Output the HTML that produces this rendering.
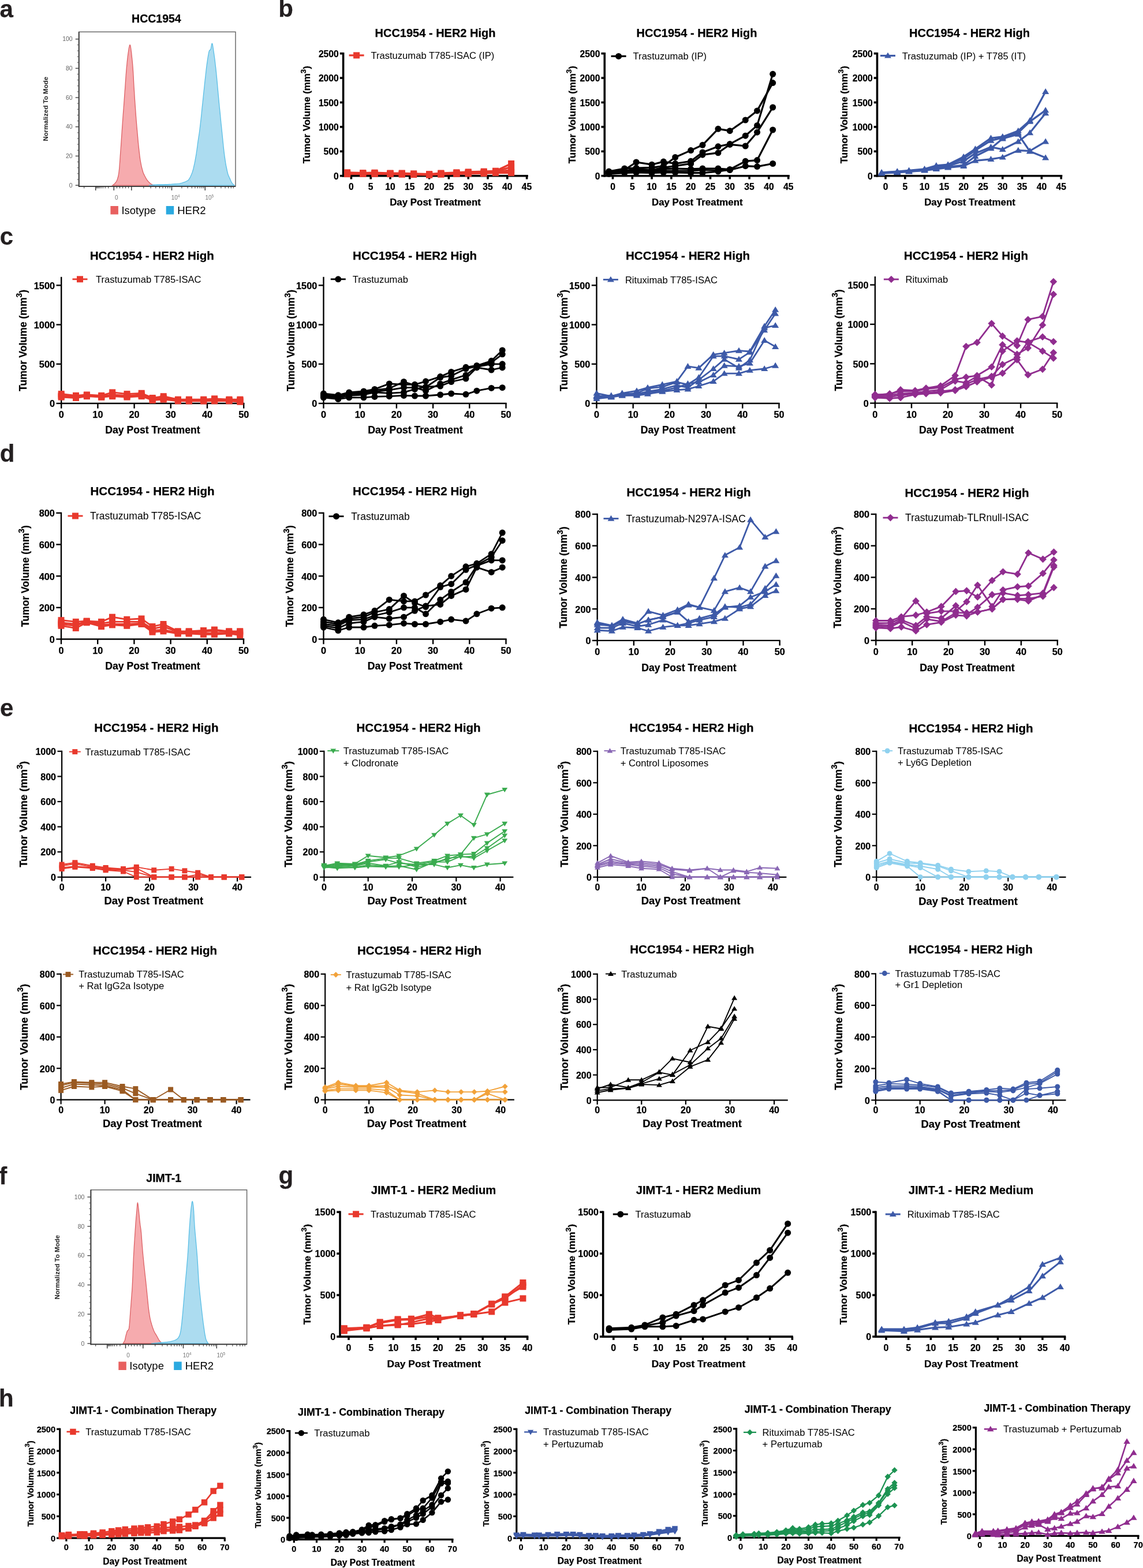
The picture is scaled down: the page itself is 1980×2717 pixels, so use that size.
<!DOCTYPE html>
<html><head><meta charset="utf-8"><title>Figure</title>
<style>
html,body{margin:0;padding:0;background:#fff;}
svg{display:block;font-family:"Liberation Sans",Arial,sans-serif;}
</style></head><body>
<svg width="1980" height="2717" viewBox="0 0 1980 2717">
<rect width="1980" height="2717" fill="#fff"/>
<g>
<text x="270.9" y="39.3" font-size="19.5" font-weight="bold" stroke="#000" stroke-width="0.25" text-anchor="middle">HCC1954</text>
<path d="M195,321.1 L195,321.1 L195.5,320.7 L196.2,320.2 L197,319.6 L197.9,318.9 L198.7,318.1 L199.5,317.3 L200.2,316.5 L200.8,315.6 L201.5,314.7 L202.1,313.6 L202.6,312.4 L203.2,311 L203.7,309.4 L204.2,307.8 L204.7,306 L205.1,303.9 L205.6,301.4 L206,298.3 L206.4,294.8 L206.8,291 L207.1,286.7 L207.5,282 L207.9,276.6 L208.3,270.4 L208.8,263.3 L209.4,255.2 L210,246.5 L210.6,237.5 L211.2,228.5 L211.8,219.7 L212.4,211.3 L213,202.8 L213.6,194.4 L214.3,186 L214.9,177.5 L215.5,169.1 L216.1,160.3 L216.8,151.3 L217.4,142.3 L218,133.6 L218.6,125.5 L219.2,118.4 L219.8,112.2 L220.3,106.8 L220.8,102.1 L221.3,97.8 L221.8,94 L222.3,90.5 L222.8,87.3 L223.2,84.3 L223.7,81.8 L224.2,79.8 L224.6,78.5 L225,77.8 L225.4,78 L225.7,78.8 L226.1,80.2 L226.4,82.2 L226.8,84.8 L227.2,88 L227.7,91.6 L228.1,95.9 L228.6,100.6 L229.2,106 L229.7,111.9 L230.2,118.4 L230.7,125.7 L231.2,133.8 L231.6,142.5 L232.1,151.4 L232.7,160.4 L233.2,169.1 L233.8,177.5 L234.4,186 L235,194.4 L235.6,202.8 L236.3,211.3 L237,219.7 L237.8,228.5 L238.6,237.6 L239.4,246.7 L240.3,255.4 L241.2,263.4 L242,270.4 L242.8,276.3 L243.7,281.3 L244.5,285.5 L245.3,289.3 L246.2,292.6 L247,295.8 L247.8,298.5 L248.7,300.8 L249.6,302.6 L250.4,304.3 L251.2,305.7 L252,307.2 L252.7,308.5 L253.3,309.7 L253.9,310.7 L254.6,311.6 L255.2,312.5 L256,313.5 L256.9,314.5 L257.9,315.5 L258.9,316.6 L259.9,317.5 L261,318.4 L262,319.1 L263.1,319.6 L264.2,320.1 L265.4,320.4 L266.4,320.7 L267.3,320.9 L268,321.1 L268,321.1 Z" fill="#f5a4a7" fill-opacity="0.92" stroke="#dd6266" stroke-width="1.3"/>
<path d="M258,321.1 L258,321.1 L259.2,321 L260.8,320.8 L262.8,320.6 L265,320.4 L267.4,320.2 L270,320.1 L272.9,320 L276.1,319.9 L279.5,319.9 L283,319.8 L286.6,319.7 L290,319.6 L293.5,319.4 L297.1,319.2 L300.8,318.9 L304.2,318.6 L307.4,318.4 L310,318.1 L312.1,317.8 L313.6,317.4 L314.9,317.1 L315.9,316.8 L316.9,316.4 L318,316 L319.1,315.7 L320.2,315.3 L321.2,314.9 L322.2,314.5 L323.1,314 L324,313.5 L324.8,313.1 L325.4,312.7 L326,312.3 L326.6,311.8 L327.2,310.9 L328,309.7 L328.9,308.1 L329.9,306.2 L330.9,304.1 L332,301.6 L333,298.9 L334,295.8 L335,292.2 L335.9,288.2 L336.9,283.8 L337.8,279.3 L338.6,274.8 L339.4,270.4 L340.1,266.2 L340.7,262 L341.3,257.8 L341.9,253.5 L342.4,249.3 L343,245.1 L343.6,241.1 L344.1,237.6 L344.7,234 L345.3,230.1 L345.9,225.4 L346.6,219.7 L347.4,212.8 L348.3,204.7 L349.2,196 L350.1,186.9 L351.1,177.8 L352,169.1 L352.9,160.3 L353.9,151.3 L354.8,142.3 L355.8,133.6 L356.7,125.5 L357.5,118.4 L358.3,112.2 L359.1,106.6 L359.8,101.6 L360.5,97.3 L361.2,93.6 L361.8,90.5 L362.4,88.4 L363,87.3 L363.5,86.9 L364,86.7 L364.5,86.3 L365,85.4 L365.4,83.8 L365.8,81.7 L366.2,79.4 L366.6,77.4 L366.9,75.9 L367.3,75.3 L367.6,75.6 L368,76.3 L368.3,77.7 L368.6,79.6 L369,82.2 L369.5,85.4 L370.1,89.4 L370.8,94.1 L371.5,99.4 L372.3,105.2 L373,111.6 L373.8,118.4 L374.6,125.8 L375.4,134 L376.2,142.6 L377,151.5 L377.8,160.4 L378.6,169.1 L379.4,177.5 L380.2,186 L381.1,194.4 L381.9,202.8 L382.7,211.3 L383.6,219.7 L384.5,228.5 L385.4,237.5 L386.3,246.5 L387.2,255.2 L388.1,263.3 L389,270.4 L389.9,276.6 L390.7,282 L391.5,286.7 L392.4,291 L393.2,294.8 L394,298.3 L394.8,301.4 L395.7,303.9 L396.6,306 L397.4,307.8 L398.2,309.4 L398.9,311 L399.5,312.4 L400,313.6 L400.5,314.7 L401,315.6 L401.5,316.5 L402,317.3 L402.7,318.1 L403.4,318.9 L404.2,319.6 L404.9,320.2 L405.6,320.7 L406,321.1 L406,321.1 Z" fill="#a5d9ef" fill-opacity="0.92" stroke="#5bbfe6" stroke-width="1.3"/>
<rect x="136.7" y="55.3" width="271.3" height="267.6" fill="none" stroke="#6a6a6a" stroke-width="1.5"/>
<line x1="136.7" y1="55.3" x2="136.7" y2="323.7" stroke="#333" stroke-width="1.8" stroke-linecap="butt"/>
<line x1="135.9" y1="322.9" x2="408" y2="322.9" stroke="#333" stroke-width="1.8" stroke-linecap="butt"/>
<line x1="130.7" y1="321.1" x2="136.7" y2="321.1" stroke="#444" stroke-width="1.4" stroke-linecap="butt"/>
<text x="125.7" y="324.7" font-size="10.5" text-anchor="end" fill="#666">0</text>
<line x1="133.7" y1="311" x2="136.7" y2="311" stroke="#555" stroke-width="1" stroke-linecap="butt"/>
<line x1="133.7" y1="300.8" x2="136.7" y2="300.8" stroke="#555" stroke-width="1" stroke-linecap="butt"/>
<line x1="133.7" y1="290.7" x2="136.7" y2="290.7" stroke="#555" stroke-width="1" stroke-linecap="butt"/>
<line x1="133.7" y1="280.6" x2="136.7" y2="280.6" stroke="#555" stroke-width="1" stroke-linecap="butt"/>
<line x1="130.7" y1="270.4" x2="136.7" y2="270.4" stroke="#444" stroke-width="1.4" stroke-linecap="butt"/>
<text x="125.7" y="274" font-size="10.5" text-anchor="end" fill="#666">20</text>
<line x1="133.7" y1="260.3" x2="136.7" y2="260.3" stroke="#555" stroke-width="1" stroke-linecap="butt"/>
<line x1="133.7" y1="250.1" x2="136.7" y2="250.1" stroke="#555" stroke-width="1" stroke-linecap="butt"/>
<line x1="133.7" y1="240" x2="136.7" y2="240" stroke="#555" stroke-width="1" stroke-linecap="butt"/>
<line x1="133.7" y1="229.9" x2="136.7" y2="229.9" stroke="#555" stroke-width="1" stroke-linecap="butt"/>
<line x1="130.7" y1="219.7" x2="136.7" y2="219.7" stroke="#444" stroke-width="1.4" stroke-linecap="butt"/>
<text x="125.7" y="223.3" font-size="10.5" text-anchor="end" fill="#666">40</text>
<line x1="133.7" y1="209.6" x2="136.7" y2="209.6" stroke="#555" stroke-width="1" stroke-linecap="butt"/>
<line x1="133.7" y1="199.5" x2="136.7" y2="199.5" stroke="#555" stroke-width="1" stroke-linecap="butt"/>
<line x1="133.7" y1="189.3" x2="136.7" y2="189.3" stroke="#555" stroke-width="1" stroke-linecap="butt"/>
<line x1="133.7" y1="179.2" x2="136.7" y2="179.2" stroke="#555" stroke-width="1" stroke-linecap="butt"/>
<line x1="130.7" y1="169.1" x2="136.7" y2="169.1" stroke="#444" stroke-width="1.4" stroke-linecap="butt"/>
<text x="125.7" y="172.7" font-size="10.5" text-anchor="end" fill="#666">60</text>
<line x1="133.7" y1="158.9" x2="136.7" y2="158.9" stroke="#555" stroke-width="1" stroke-linecap="butt"/>
<line x1="133.7" y1="148.8" x2="136.7" y2="148.8" stroke="#555" stroke-width="1" stroke-linecap="butt"/>
<line x1="133.7" y1="138.7" x2="136.7" y2="138.7" stroke="#555" stroke-width="1" stroke-linecap="butt"/>
<line x1="133.7" y1="128.5" x2="136.7" y2="128.5" stroke="#555" stroke-width="1" stroke-linecap="butt"/>
<line x1="130.7" y1="118.4" x2="136.7" y2="118.4" stroke="#444" stroke-width="1.4" stroke-linecap="butt"/>
<text x="125.7" y="122" font-size="10.5" text-anchor="end" fill="#666">80</text>
<line x1="133.7" y1="108.2" x2="136.7" y2="108.2" stroke="#555" stroke-width="1" stroke-linecap="butt"/>
<line x1="133.7" y1="98.1" x2="136.7" y2="98.1" stroke="#555" stroke-width="1" stroke-linecap="butt"/>
<line x1="133.7" y1="88" x2="136.7" y2="88" stroke="#555" stroke-width="1" stroke-linecap="butt"/>
<line x1="133.7" y1="77.8" x2="136.7" y2="77.8" stroke="#555" stroke-width="1" stroke-linecap="butt"/>
<line x1="130.7" y1="67.7" x2="136.7" y2="67.7" stroke="#444" stroke-width="1.4" stroke-linecap="butt"/>
<text x="125.7" y="71.3" font-size="10.5" text-anchor="end" fill="#666">100</text>
<line x1="165.7" y1="322.9" x2="165.7" y2="329.9" stroke="#333" stroke-width="1.4" stroke-linecap="butt"/>
<line x1="197.3" y1="322.9" x2="197.3" y2="329.9" stroke="#333" stroke-width="1.4" stroke-linecap="butt"/>
<line x1="227.8" y1="322.9" x2="227.8" y2="329.9" stroke="#333" stroke-width="1.4" stroke-linecap="butt"/>
<line x1="297.5" y1="322.9" x2="297.5" y2="329.9" stroke="#333" stroke-width="1.4" stroke-linecap="butt"/>
<line x1="355.3" y1="322.9" x2="355.3" y2="329.9" stroke="#333" stroke-width="1.4" stroke-linecap="butt"/>
<line x1="145.7" y1="322.9" x2="145.7" y2="326.4" stroke="#333" stroke-width="1" stroke-linecap="butt"/>
<line x1="248.8" y1="322.9" x2="248.8" y2="326.4" stroke="#333" stroke-width="1" stroke-linecap="butt"/>
<line x1="314.9" y1="322.9" x2="314.9" y2="326.4" stroke="#333" stroke-width="1" stroke-linecap="butt"/>
<line x1="372.7" y1="322.9" x2="372.7" y2="326.4" stroke="#333" stroke-width="1" stroke-linecap="butt"/>
<line x1="187.8" y1="322.9" x2="187.8" y2="326.4" stroke="#333" stroke-width="1" stroke-linecap="butt"/>
<line x1="261.1" y1="322.9" x2="261.1" y2="326.4" stroke="#333" stroke-width="1" stroke-linecap="butt"/>
<line x1="325.1" y1="322.9" x2="325.1" y2="326.4" stroke="#333" stroke-width="1" stroke-linecap="butt"/>
<line x1="382.9" y1="322.9" x2="382.9" y2="326.4" stroke="#333" stroke-width="1" stroke-linecap="butt"/>
<line x1="182.2" y1="322.9" x2="182.2" y2="326.4" stroke="#333" stroke-width="1" stroke-linecap="butt"/>
<line x1="269.8" y1="322.9" x2="269.8" y2="326.4" stroke="#333" stroke-width="1" stroke-linecap="butt"/>
<line x1="332.3" y1="322.9" x2="332.3" y2="326.4" stroke="#333" stroke-width="1" stroke-linecap="butt"/>
<line x1="390.1" y1="322.9" x2="390.1" y2="326.4" stroke="#333" stroke-width="1" stroke-linecap="butt"/>
<line x1="178.3" y1="322.9" x2="178.3" y2="326.4" stroke="#333" stroke-width="1" stroke-linecap="butt"/>
<line x1="276.5" y1="322.9" x2="276.5" y2="326.4" stroke="#333" stroke-width="1" stroke-linecap="butt"/>
<line x1="337.9" y1="322.9" x2="337.9" y2="326.4" stroke="#333" stroke-width="1" stroke-linecap="butt"/>
<line x1="395.7" y1="322.9" x2="395.7" y2="326.4" stroke="#333" stroke-width="1" stroke-linecap="butt"/>
<line x1="175.2" y1="322.9" x2="175.2" y2="326.4" stroke="#333" stroke-width="1" stroke-linecap="butt"/>
<line x1="282" y1="322.9" x2="282" y2="326.4" stroke="#333" stroke-width="1" stroke-linecap="butt"/>
<line x1="342.5" y1="322.9" x2="342.5" y2="326.4" stroke="#333" stroke-width="1" stroke-linecap="butt"/>
<line x1="400.3" y1="322.9" x2="400.3" y2="326.4" stroke="#333" stroke-width="1" stroke-linecap="butt"/>
<line x1="172.7" y1="322.9" x2="172.7" y2="326.4" stroke="#333" stroke-width="1" stroke-linecap="butt"/>
<line x1="286.7" y1="322.9" x2="286.7" y2="326.4" stroke="#333" stroke-width="1" stroke-linecap="butt"/>
<line x1="346.3" y1="322.9" x2="346.3" y2="326.4" stroke="#333" stroke-width="1" stroke-linecap="butt"/>
<line x1="404.1" y1="322.9" x2="404.1" y2="326.4" stroke="#333" stroke-width="1" stroke-linecap="butt"/>
<line x1="170.6" y1="322.9" x2="170.6" y2="326.4" stroke="#333" stroke-width="1" stroke-linecap="butt"/>
<line x1="290.7" y1="322.9" x2="290.7" y2="326.4" stroke="#333" stroke-width="1" stroke-linecap="butt"/>
<line x1="349.7" y1="322.9" x2="349.7" y2="326.4" stroke="#333" stroke-width="1" stroke-linecap="butt"/>
<line x1="168.8" y1="322.9" x2="168.8" y2="326.4" stroke="#333" stroke-width="1" stroke-linecap="butt"/>
<line x1="294.3" y1="322.9" x2="294.3" y2="326.4" stroke="#333" stroke-width="1" stroke-linecap="butt"/>
<line x1="352.7" y1="322.9" x2="352.7" y2="326.4" stroke="#333" stroke-width="1" stroke-linecap="butt"/>
<line x1="167.1" y1="322.9" x2="167.1" y2="326.4" stroke="#333" stroke-width="1" stroke-linecap="butt"/>
<line x1="202.4" y1="322.9" x2="202.4" y2="326.4" stroke="#333" stroke-width="1" stroke-linecap="butt"/>
<line x1="207.5" y1="322.9" x2="207.5" y2="326.4" stroke="#333" stroke-width="1" stroke-linecap="butt"/>
<line x1="212.6" y1="322.9" x2="212.6" y2="326.4" stroke="#333" stroke-width="1" stroke-linecap="butt"/>
<line x1="217.6" y1="322.9" x2="217.6" y2="326.4" stroke="#333" stroke-width="1" stroke-linecap="butt"/>
<line x1="222.7" y1="322.9" x2="222.7" y2="326.4" stroke="#333" stroke-width="1" stroke-linecap="butt"/>
<text x="201.8" y="345.9" font-size="10" fill="#777" text-anchor="middle">0</text>
<text x="304" y="345.9" font-size="10" fill="#777" text-anchor="middle">10<tspan font-size="6.5" dy="-4">4</tspan></text>
<text x="362.8" y="345.9" font-size="10" fill="#777" text-anchor="middle">10<tspan font-size="6.5" dy="-4">5</tspan></text>
<text transform="translate(78.5,188.7) rotate(-90)" font-size="11.5" font-weight="bold" text-anchor="middle" dominant-baseline="central" fill="#222">Normalized To Mode</text>
<rect x="191.4" y="357" width="13.5" height="14.5" fill="#e8605f"/>
<text x="210.4" y="370.5" font-size="18.5" text-anchor="start">Isotype</text>
<rect x="287.7" y="357" width="13.5" height="14.5" fill="#2aa9e0"/>
<text x="307.2" y="370.5" font-size="18.5" text-anchor="start">HER2</text>
</g>
<g>
<text x="283.7" y="2048.4" font-size="19.5" font-weight="bold" stroke="#000" stroke-width="0.25" text-anchor="middle">JIMT-1</text>
<path d="M213,2328 L213,2328 L213.3,2327.5 L213.8,2326.9 L214.3,2326.1 L214.9,2325.2 L215.5,2324.1 L216,2322.9 L216.5,2321.5 L216.9,2319.8 L217.3,2317.9 L217.7,2316.1 L218.1,2314.3 L218.5,2312.8 L218.9,2311.5 L219.2,2310.3 L219.5,2309.3 L219.8,2308.3 L220.1,2307.4 L220.5,2306.4 L221,2305.7 L221.5,2305.3 L222,2305 L222.5,2304.4 L223,2303.3 L223.5,2301.4 L223.9,2298.7 L224.2,2295.7 L224.5,2292.2 L224.8,2288 L225.2,2283 L225.6,2277.2 L226.1,2270.3 L226.8,2262.3 L227.4,2253.5 L228.1,2244.4 L228.8,2235.2 L229.3,2226.5 L229.7,2218 L230.1,2209.6 L230.4,2201.1 L230.7,2192.6 L231.1,2184.2 L231.5,2175.7 L232,2167 L232.5,2157.9 L233.1,2148.8 L233.7,2140 L234.2,2132 L234.7,2125 L235.1,2119.1 L235.5,2114.2 L235.8,2110 L236.2,2106.3 L236.5,2102.9 L236.8,2099.6 L237.1,2096.1 L237.4,2092.6 L237.6,2089.4 L237.8,2086.8 L238.1,2085 L238.4,2084.4 L238.7,2085.1 L239.1,2087 L239.4,2089.7 L239.8,2093 L240.2,2096.4 L240.5,2099.6 L240.8,2102.7 L241.2,2106.2 L241.5,2109.7 L241.8,2113.3 L242.2,2116.7 L242.5,2119.9 L242.8,2122.4 L243.1,2124.4 L243.4,2126.2 L243.7,2128.3 L244.1,2131.2 L244.5,2135.1 L245,2140.3 L245.4,2146.4 L245.9,2153.2 L246.5,2160.5 L247.1,2168.1 L247.8,2175.7 L248.6,2183.6 L249.4,2191.9 L250.4,2200.5 L251.3,2209.2 L252.3,2217.9 L253.2,2226.5 L254.1,2235.2 L255,2244.3 L255.9,2253.4 L256.8,2262.2 L257.7,2270.2 L258.7,2277.2 L259.7,2283.1 L260.8,2288.1 L261.9,2292.3 L263,2296 L264.1,2299.4 L265.2,2302.6 L266.3,2305.5 L267.5,2308 L268.6,2310.1 L269.8,2311.9 L270.8,2313.6 L271.8,2315.3 L272.6,2316.9 L273.4,2318.3 L274.1,2319.6 L274.7,2320.8 L275.4,2321.9 L276.1,2322.9 L276.9,2324 L277.9,2325 L278.8,2325.9 L279.7,2326.8 L280.5,2327.5 L281,2328 L281,2328 Z" fill="#f5a4a7" fill-opacity="0.92" stroke="#dd6266" stroke-width="1.3"/>
<path d="M262,2328 L262,2328 L263.4,2327.9 L265.3,2327.7 L267.6,2327.4 L270,2327.2 L272.6,2327 L275,2326.7 L277.5,2326.5 L280.1,2326.3 L282.8,2326.1 L285.4,2325.9 L287.9,2325.7 L290,2325.5 L291.7,2325.2 L293.2,2325 L294.4,2324.8 L295.5,2324.6 L296.7,2324.3 L298,2323.9 L299.4,2323.5 L301,2323 L302.5,2322.5 L304,2321.9 L305.4,2321.2 L306.6,2320.4 L307.6,2319.5 L308.4,2318.7 L309.2,2317.7 L309.8,2316.6 L310.4,2315.4 L311,2314 L311.5,2312.6 L312,2311.1 L312.4,2309.5 L312.8,2307.6 L313.2,2305.4 L313.6,2302.6 L314,2299.5 L314.5,2296.1 L314.9,2292.4 L315.3,2288.1 L315.8,2283.1 L316.4,2277.2 L317,2270.2 L317.7,2262.2 L318.5,2253.4 L319.3,2244.3 L320,2235.2 L320.8,2226.5 L321.5,2218 L322.3,2209.6 L323.1,2201.1 L323.8,2192.6 L324.5,2184.2 L325.2,2175.7 L325.8,2167 L326.4,2158 L326.9,2149.1 L327.4,2140.4 L327.9,2132.2 L328.4,2125 L328.9,2118.5 L329.3,2112.6 L329.8,2107.4 L330.2,2102.6 L330.6,2098.3 L331,2094.5 L331.4,2091.1 L331.8,2088 L332.1,2085.5 L332.5,2083.5 L332.8,2082.3 L333.2,2081.8 L333.6,2082.3 L333.9,2083.5 L334.3,2085.5 L334.6,2088 L335,2091.1 L335.3,2094.5 L335.6,2098.3 L335.8,2102.6 L336.1,2107.4 L336.3,2112.6 L336.7,2118.5 L337.1,2125 L337.7,2132.2 L338.4,2140.4 L339.2,2149.1 L340,2158 L340.8,2167 L341.5,2175.7 L342.1,2184.2 L342.6,2192.6 L343.1,2201.1 L343.6,2209.6 L344.1,2218 L344.8,2226.5 L345.6,2235.2 L346.5,2244.3 L347.5,2253.4 L348.5,2262.2 L349.4,2270.2 L350.2,2277.2 L350.9,2283 L351.5,2287.9 L352,2292 L352.5,2295.7 L353,2299.1 L353.5,2302.6 L354,2306.1 L354.5,2309.5 L355,2312.6 L355.6,2315.5 L356.1,2318.1 L356.7,2320.4 L357.4,2322.3 L358.2,2324 L359,2325.3 L359.8,2326.4 L360.5,2327.3 L361,2328 L361,2328 Z" fill="#a5d9ef" fill-opacity="0.92" stroke="#5bbfe6" stroke-width="1.3"/>
<rect x="157.4" y="2061.8" width="270.2" height="267.6" fill="none" stroke="#6a6a6a" stroke-width="1.5"/>
<line x1="157.4" y1="2061.8" x2="157.4" y2="2330.2" stroke="#333" stroke-width="1.8" stroke-linecap="butt"/>
<line x1="156.6" y1="2329.4" x2="427.6" y2="2329.4" stroke="#333" stroke-width="1.8" stroke-linecap="butt"/>
<line x1="151.4" y1="2328" x2="157.4" y2="2328" stroke="#444" stroke-width="1.4" stroke-linecap="butt"/>
<text x="146.4" y="2331.6" font-size="10.5" text-anchor="end" fill="#666">0</text>
<line x1="154.4" y1="2317.8" x2="157.4" y2="2317.8" stroke="#555" stroke-width="1" stroke-linecap="butt"/>
<line x1="154.4" y1="2307.7" x2="157.4" y2="2307.7" stroke="#555" stroke-width="1" stroke-linecap="butt"/>
<line x1="154.4" y1="2297.5" x2="157.4" y2="2297.5" stroke="#555" stroke-width="1" stroke-linecap="butt"/>
<line x1="154.4" y1="2287.4" x2="157.4" y2="2287.4" stroke="#555" stroke-width="1" stroke-linecap="butt"/>
<line x1="151.4" y1="2277.2" x2="157.4" y2="2277.2" stroke="#444" stroke-width="1.4" stroke-linecap="butt"/>
<text x="146.4" y="2280.8" font-size="10.5" text-anchor="end" fill="#666">20</text>
<line x1="154.4" y1="2267.1" x2="157.4" y2="2267.1" stroke="#555" stroke-width="1" stroke-linecap="butt"/>
<line x1="154.4" y1="2256.9" x2="157.4" y2="2256.9" stroke="#555" stroke-width="1" stroke-linecap="butt"/>
<line x1="154.4" y1="2246.8" x2="157.4" y2="2246.8" stroke="#555" stroke-width="1" stroke-linecap="butt"/>
<line x1="154.4" y1="2236.6" x2="157.4" y2="2236.6" stroke="#555" stroke-width="1" stroke-linecap="butt"/>
<line x1="151.4" y1="2226.5" x2="157.4" y2="2226.5" stroke="#444" stroke-width="1.4" stroke-linecap="butt"/>
<text x="146.4" y="2230.1" font-size="10.5" text-anchor="end" fill="#666">40</text>
<line x1="154.4" y1="2216.3" x2="157.4" y2="2216.3" stroke="#555" stroke-width="1" stroke-linecap="butt"/>
<line x1="154.4" y1="2206.2" x2="157.4" y2="2206.2" stroke="#555" stroke-width="1" stroke-linecap="butt"/>
<line x1="154.4" y1="2196" x2="157.4" y2="2196" stroke="#555" stroke-width="1" stroke-linecap="butt"/>
<line x1="154.4" y1="2185.9" x2="157.4" y2="2185.9" stroke="#555" stroke-width="1" stroke-linecap="butt"/>
<line x1="151.4" y1="2175.7" x2="157.4" y2="2175.7" stroke="#444" stroke-width="1.4" stroke-linecap="butt"/>
<text x="146.4" y="2179.3" font-size="10.5" text-anchor="end" fill="#666">60</text>
<line x1="154.4" y1="2165.6" x2="157.4" y2="2165.6" stroke="#555" stroke-width="1" stroke-linecap="butt"/>
<line x1="154.4" y1="2155.4" x2="157.4" y2="2155.4" stroke="#555" stroke-width="1" stroke-linecap="butt"/>
<line x1="154.4" y1="2145.3" x2="157.4" y2="2145.3" stroke="#555" stroke-width="1" stroke-linecap="butt"/>
<line x1="154.4" y1="2135.1" x2="157.4" y2="2135.1" stroke="#555" stroke-width="1" stroke-linecap="butt"/>
<line x1="151.4" y1="2125" x2="157.4" y2="2125" stroke="#444" stroke-width="1.4" stroke-linecap="butt"/>
<text x="146.4" y="2128.6" font-size="10.5" text-anchor="end" fill="#666">80</text>
<line x1="154.4" y1="2114.8" x2="157.4" y2="2114.8" stroke="#555" stroke-width="1" stroke-linecap="butt"/>
<line x1="154.4" y1="2104.7" x2="157.4" y2="2104.7" stroke="#555" stroke-width="1" stroke-linecap="butt"/>
<line x1="154.4" y1="2094.5" x2="157.4" y2="2094.5" stroke="#555" stroke-width="1" stroke-linecap="butt"/>
<line x1="154.4" y1="2084.4" x2="157.4" y2="2084.4" stroke="#555" stroke-width="1" stroke-linecap="butt"/>
<line x1="151.4" y1="2074.2" x2="157.4" y2="2074.2" stroke="#444" stroke-width="1.4" stroke-linecap="butt"/>
<text x="146.4" y="2077.8" font-size="10.5" text-anchor="end" fill="#666">100</text>
<line x1="185.7" y1="2329.4" x2="185.7" y2="2336.4" stroke="#333" stroke-width="1.4" stroke-linecap="butt"/>
<line x1="217.5" y1="2329.4" x2="217.5" y2="2336.4" stroke="#333" stroke-width="1.4" stroke-linecap="butt"/>
<line x1="247.8" y1="2329.4" x2="247.8" y2="2336.4" stroke="#333" stroke-width="1.4" stroke-linecap="butt"/>
<line x1="317.5" y1="2329.4" x2="317.5" y2="2336.4" stroke="#333" stroke-width="1.4" stroke-linecap="butt"/>
<line x1="375.3" y1="2329.4" x2="375.3" y2="2336.4" stroke="#333" stroke-width="1.4" stroke-linecap="butt"/>
<line x1="165.7" y1="2329.4" x2="165.7" y2="2332.9" stroke="#333" stroke-width="1" stroke-linecap="butt"/>
<line x1="268.8" y1="2329.4" x2="268.8" y2="2332.9" stroke="#333" stroke-width="1" stroke-linecap="butt"/>
<line x1="334.9" y1="2329.4" x2="334.9" y2="2332.9" stroke="#333" stroke-width="1" stroke-linecap="butt"/>
<line x1="392.7" y1="2329.4" x2="392.7" y2="2332.9" stroke="#333" stroke-width="1" stroke-linecap="butt"/>
<line x1="207.9" y1="2329.4" x2="207.9" y2="2332.9" stroke="#333" stroke-width="1" stroke-linecap="butt"/>
<line x1="281.1" y1="2329.4" x2="281.1" y2="2332.9" stroke="#333" stroke-width="1" stroke-linecap="butt"/>
<line x1="345.1" y1="2329.4" x2="345.1" y2="2332.9" stroke="#333" stroke-width="1" stroke-linecap="butt"/>
<line x1="402.9" y1="2329.4" x2="402.9" y2="2332.9" stroke="#333" stroke-width="1" stroke-linecap="butt"/>
<line x1="202.3" y1="2329.4" x2="202.3" y2="2332.9" stroke="#333" stroke-width="1" stroke-linecap="butt"/>
<line x1="289.8" y1="2329.4" x2="289.8" y2="2332.9" stroke="#333" stroke-width="1" stroke-linecap="butt"/>
<line x1="352.3" y1="2329.4" x2="352.3" y2="2332.9" stroke="#333" stroke-width="1" stroke-linecap="butt"/>
<line x1="410.1" y1="2329.4" x2="410.1" y2="2332.9" stroke="#333" stroke-width="1" stroke-linecap="butt"/>
<line x1="198.4" y1="2329.4" x2="198.4" y2="2332.9" stroke="#333" stroke-width="1" stroke-linecap="butt"/>
<line x1="296.5" y1="2329.4" x2="296.5" y2="2332.9" stroke="#333" stroke-width="1" stroke-linecap="butt"/>
<line x1="357.9" y1="2329.4" x2="357.9" y2="2332.9" stroke="#333" stroke-width="1" stroke-linecap="butt"/>
<line x1="415.7" y1="2329.4" x2="415.7" y2="2332.9" stroke="#333" stroke-width="1" stroke-linecap="butt"/>
<line x1="195.3" y1="2329.4" x2="195.3" y2="2332.9" stroke="#333" stroke-width="1" stroke-linecap="butt"/>
<line x1="302" y1="2329.4" x2="302" y2="2332.9" stroke="#333" stroke-width="1" stroke-linecap="butt"/>
<line x1="362.5" y1="2329.4" x2="362.5" y2="2332.9" stroke="#333" stroke-width="1" stroke-linecap="butt"/>
<line x1="420.3" y1="2329.4" x2="420.3" y2="2332.9" stroke="#333" stroke-width="1" stroke-linecap="butt"/>
<line x1="192.8" y1="2329.4" x2="192.8" y2="2332.9" stroke="#333" stroke-width="1" stroke-linecap="butt"/>
<line x1="306.7" y1="2329.4" x2="306.7" y2="2332.9" stroke="#333" stroke-width="1" stroke-linecap="butt"/>
<line x1="366.3" y1="2329.4" x2="366.3" y2="2332.9" stroke="#333" stroke-width="1" stroke-linecap="butt"/>
<line x1="424.1" y1="2329.4" x2="424.1" y2="2332.9" stroke="#333" stroke-width="1" stroke-linecap="butt"/>
<line x1="190.6" y1="2329.4" x2="190.6" y2="2332.9" stroke="#333" stroke-width="1" stroke-linecap="butt"/>
<line x1="310.7" y1="2329.4" x2="310.7" y2="2332.9" stroke="#333" stroke-width="1" stroke-linecap="butt"/>
<line x1="369.7" y1="2329.4" x2="369.7" y2="2332.9" stroke="#333" stroke-width="1" stroke-linecap="butt"/>
<line x1="188.8" y1="2329.4" x2="188.8" y2="2332.9" stroke="#333" stroke-width="1" stroke-linecap="butt"/>
<line x1="314.3" y1="2329.4" x2="314.3" y2="2332.9" stroke="#333" stroke-width="1" stroke-linecap="butt"/>
<line x1="372.7" y1="2329.4" x2="372.7" y2="2332.9" stroke="#333" stroke-width="1" stroke-linecap="butt"/>
<line x1="187.2" y1="2329.4" x2="187.2" y2="2332.9" stroke="#333" stroke-width="1" stroke-linecap="butt"/>
<line x1="222.6" y1="2329.4" x2="222.6" y2="2332.9" stroke="#333" stroke-width="1" stroke-linecap="butt"/>
<line x1="227.6" y1="2329.4" x2="227.6" y2="2332.9" stroke="#333" stroke-width="1" stroke-linecap="butt"/>
<line x1="232.7" y1="2329.4" x2="232.7" y2="2332.9" stroke="#333" stroke-width="1" stroke-linecap="butt"/>
<line x1="237.7" y1="2329.4" x2="237.7" y2="2332.9" stroke="#333" stroke-width="1" stroke-linecap="butt"/>
<line x1="242.8" y1="2329.4" x2="242.8" y2="2332.9" stroke="#333" stroke-width="1" stroke-linecap="butt"/>
<text x="222" y="2352.4" font-size="10" fill="#777" text-anchor="middle">0</text>
<text x="324" y="2352.4" font-size="10" fill="#777" text-anchor="middle">10<tspan font-size="6.5" dy="-4">4</tspan></text>
<text x="382.8" y="2352.4" font-size="10" fill="#777" text-anchor="middle">10<tspan font-size="6.5" dy="-4">5</tspan></text>
<text transform="translate(98.5,2195.8) rotate(-90)" font-size="11.5" font-weight="bold" text-anchor="middle" dominant-baseline="central" fill="#222">Normalized To Mode</text>
<rect x="205.3" y="2359.5" width="13.5" height="14.5" fill="#e8605f"/>
<text x="224.3" y="2373" font-size="18.5" text-anchor="start">Isotype</text>
<rect x="301.2" y="2359.5" width="13.5" height="14.5" fill="#2aa9e0"/>
<text x="320.7" y="2373" font-size="18.5" text-anchor="start">HER2</text>
</g>
<g>
<text x="754" y="64.1" font-size="20" font-weight="bold" stroke="#000" stroke-width="0.25" text-anchor="middle">HCC1954 - HER2 High</text>
<line x1="594.6" y1="90.9" x2="594.6" y2="306.5" stroke="#000" stroke-width="3.6" stroke-linecap="butt"/>
<line x1="592.8" y1="304.7" x2="914.8" y2="304.7" stroke="#000" stroke-width="3.6" stroke-linecap="butt"/>
<line x1="588.8" y1="304.7" x2="594.6" y2="304.7" stroke="#000" stroke-width="3.6" stroke-linecap="butt"/>
<text x="586.8" y="310.8" font-size="15.7" font-weight="bold" stroke="#000" stroke-width="0.25" text-anchor="end">0</text>
<line x1="588.8" y1="262.3" x2="594.6" y2="262.3" stroke="#000" stroke-width="3.6" stroke-linecap="butt"/>
<text x="586.8" y="268.4" font-size="15.7" font-weight="bold" stroke="#000" stroke-width="0.25" text-anchor="end">500</text>
<line x1="588.8" y1="219.9" x2="594.6" y2="219.9" stroke="#000" stroke-width="3.6" stroke-linecap="butt"/>
<text x="586.8" y="226" font-size="15.7" font-weight="bold" stroke="#000" stroke-width="0.25" text-anchor="end">1000</text>
<line x1="588.8" y1="177.5" x2="594.6" y2="177.5" stroke="#000" stroke-width="3.6" stroke-linecap="butt"/>
<text x="586.8" y="183.6" font-size="15.7" font-weight="bold" stroke="#000" stroke-width="0.25" text-anchor="end">1500</text>
<line x1="588.8" y1="135.1" x2="594.6" y2="135.1" stroke="#000" stroke-width="3.6" stroke-linecap="butt"/>
<text x="586.8" y="141.2" font-size="15.7" font-weight="bold" stroke="#000" stroke-width="0.25" text-anchor="end">2000</text>
<line x1="588.8" y1="92.7" x2="594.6" y2="92.7" stroke="#000" stroke-width="3.6" stroke-linecap="butt"/>
<text x="586.8" y="98.8" font-size="15.7" font-weight="bold" stroke="#000" stroke-width="0.25" text-anchor="end">2500</text>
<line x1="608.4" y1="304.7" x2="608.4" y2="310.5" stroke="#000" stroke-width="3.6" stroke-linecap="butt"/>
<text x="608.4" y="328.7" font-size="15.7" font-weight="bold" stroke="#000" stroke-width="0.25" text-anchor="middle">0</text>
<line x1="642.2" y1="304.7" x2="642.2" y2="310.5" stroke="#000" stroke-width="3.6" stroke-linecap="butt"/>
<text x="642.2" y="328.7" font-size="15.7" font-weight="bold" stroke="#000" stroke-width="0.25" text-anchor="middle">5</text>
<line x1="676" y1="304.7" x2="676" y2="310.5" stroke="#000" stroke-width="3.6" stroke-linecap="butt"/>
<text x="676" y="328.7" font-size="15.7" font-weight="bold" stroke="#000" stroke-width="0.25" text-anchor="middle">10</text>
<line x1="709.8" y1="304.7" x2="709.8" y2="310.5" stroke="#000" stroke-width="3.6" stroke-linecap="butt"/>
<text x="709.8" y="328.7" font-size="15.7" font-weight="bold" stroke="#000" stroke-width="0.25" text-anchor="middle">15</text>
<line x1="743.6" y1="304.7" x2="743.6" y2="310.5" stroke="#000" stroke-width="3.6" stroke-linecap="butt"/>
<text x="743.6" y="328.7" font-size="15.7" font-weight="bold" stroke="#000" stroke-width="0.25" text-anchor="middle">20</text>
<line x1="777.4" y1="304.7" x2="777.4" y2="310.5" stroke="#000" stroke-width="3.6" stroke-linecap="butt"/>
<text x="777.4" y="328.7" font-size="15.7" font-weight="bold" stroke="#000" stroke-width="0.25" text-anchor="middle">25</text>
<line x1="811.2" y1="304.7" x2="811.2" y2="310.5" stroke="#000" stroke-width="3.6" stroke-linecap="butt"/>
<text x="811.2" y="328.7" font-size="15.7" font-weight="bold" stroke="#000" stroke-width="0.25" text-anchor="middle">30</text>
<line x1="845" y1="304.7" x2="845" y2="310.5" stroke="#000" stroke-width="3.6" stroke-linecap="butt"/>
<text x="845" y="328.7" font-size="15.7" font-weight="bold" stroke="#000" stroke-width="0.25" text-anchor="middle">35</text>
<line x1="878.8" y1="304.7" x2="878.8" y2="310.5" stroke="#000" stroke-width="3.6" stroke-linecap="butt"/>
<text x="878.8" y="328.7" font-size="15.7" font-weight="bold" stroke="#000" stroke-width="0.25" text-anchor="middle">40</text>
<line x1="912.6" y1="304.7" x2="912.6" y2="310.5" stroke="#000" stroke-width="3.6" stroke-linecap="butt"/>
<text x="912.6" y="328.7" font-size="15.7" font-weight="bold" stroke="#000" stroke-width="0.25" text-anchor="middle">45</text>
<text x="754" y="356" font-size="16.9" font-weight="bold" stroke="#000" stroke-width="0.25" text-anchor="middle">Day Post Treatment</text>
<text transform="translate(531,198.7) rotate(-90)" font-size="16.9" font-weight="bold" stroke="#000" stroke-width="0.25" text-anchor="middle" y="6.1">Tumor Volume (mm<tspan dy="-7.1" font-size="13.2">3</tspan><tspan dy="7.1">)</tspan></text>
<line x1="604.6" y1="95.9" x2="630.6" y2="95.9" stroke="#e8392d" stroke-width="3.2" stroke-linecap="butt"/>
<rect x="612.1" y="90.4" width="11" height="11" fill="#e8392d"/>
<text x="642.4" y="101.9" font-size="16.6" text-anchor="start">Trastuzumab T785-ISAC (IP)</text>
<polyline points="601.6,298.8 628.7,299.6 649,299.2 676,300 696.3,300 716.6,300.9 743.6,301.7 763.9,300 790.9,298.8 811.2,297.9 838.2,297.1 858.5,296.2 885.6,283.5" fill="none" stroke="#e8392d" stroke-width="3.2" stroke-linejoin="round"/>
<rect x="596.1" y="293.3" width="11" height="11" fill="#e8392d"/>
<rect x="623.2" y="294.1" width="11" height="11" fill="#e8392d"/>
<rect x="643.5" y="293.7" width="11" height="11" fill="#e8392d"/>
<rect x="670.5" y="294.5" width="11" height="11" fill="#e8392d"/>
<rect x="690.8" y="294.5" width="11" height="11" fill="#e8392d"/>
<rect x="711.1" y="295.4" width="11" height="11" fill="#e8392d"/>
<rect x="738.1" y="296.2" width="11" height="11" fill="#e8392d"/>
<rect x="758.4" y="294.5" width="11" height="11" fill="#e8392d"/>
<rect x="785.4" y="293.3" width="11" height="11" fill="#e8392d"/>
<rect x="805.7" y="292.4" width="11" height="11" fill="#e8392d"/>
<rect x="832.7" y="291.6" width="11" height="11" fill="#e8392d"/>
<rect x="853" y="290.7" width="11" height="11" fill="#e8392d"/>
<rect x="880.1" y="278" width="11" height="11" fill="#e8392d"/>
<polyline points="601.6,299.6 628.7,300 649,300 676,300.5 696.3,300.9 716.6,301.3 743.6,302.2 763.9,300.9 790.9,299.6 811.2,298.8 838.2,298.3 858.5,297.1 885.6,289.4" fill="none" stroke="#e8392d" stroke-width="3.2" stroke-linejoin="round"/>
<rect x="596.1" y="294.1" width="11" height="11" fill="#e8392d"/>
<rect x="623.2" y="294.5" width="11" height="11" fill="#e8392d"/>
<rect x="643.5" y="294.5" width="11" height="11" fill="#e8392d"/>
<rect x="670.5" y="295" width="11" height="11" fill="#e8392d"/>
<rect x="690.8" y="295.4" width="11" height="11" fill="#e8392d"/>
<rect x="711.1" y="295.8" width="11" height="11" fill="#e8392d"/>
<rect x="738.1" y="296.7" width="11" height="11" fill="#e8392d"/>
<rect x="758.4" y="295.4" width="11" height="11" fill="#e8392d"/>
<rect x="785.4" y="294.1" width="11" height="11" fill="#e8392d"/>
<rect x="805.7" y="293.3" width="11" height="11" fill="#e8392d"/>
<rect x="832.7" y="292.8" width="11" height="11" fill="#e8392d"/>
<rect x="853" y="291.6" width="11" height="11" fill="#e8392d"/>
<rect x="880.1" y="283.9" width="11" height="11" fill="#e8392d"/>
<polyline points="601.6,300.5 628.7,300.5 649,300.5 676,300.9 696.3,301.3 716.6,301.7 743.6,302.6 763.9,301.3 790.9,300.5 811.2,299.6 838.2,299.2 858.5,297.9 885.6,294.5" fill="none" stroke="#e8392d" stroke-width="3.2" stroke-linejoin="round"/>
<rect x="596.1" y="295" width="11" height="11" fill="#e8392d"/>
<rect x="623.2" y="295" width="11" height="11" fill="#e8392d"/>
<rect x="643.5" y="295" width="11" height="11" fill="#e8392d"/>
<rect x="670.5" y="295.4" width="11" height="11" fill="#e8392d"/>
<rect x="690.8" y="295.8" width="11" height="11" fill="#e8392d"/>
<rect x="711.1" y="296.2" width="11" height="11" fill="#e8392d"/>
<rect x="738.1" y="297.1" width="11" height="11" fill="#e8392d"/>
<rect x="758.4" y="295.8" width="11" height="11" fill="#e8392d"/>
<rect x="785.4" y="295" width="11" height="11" fill="#e8392d"/>
<rect x="805.7" y="294.1" width="11" height="11" fill="#e8392d"/>
<rect x="832.7" y="293.7" width="11" height="11" fill="#e8392d"/>
<rect x="853" y="292.4" width="11" height="11" fill="#e8392d"/>
<rect x="880.1" y="289" width="11" height="11" fill="#e8392d"/>
<polyline points="601.6,301.3 628.7,300.9 649,300.9 676,301.3 696.3,301.7 716.6,302.2 743.6,303 763.9,301.7 790.9,300.9 811.2,300.5 838.2,299.6 858.5,298.8 885.6,297.9" fill="none" stroke="#e8392d" stroke-width="3.2" stroke-linejoin="round"/>
<rect x="596.1" y="295.8" width="11" height="11" fill="#e8392d"/>
<rect x="623.2" y="295.4" width="11" height="11" fill="#e8392d"/>
<rect x="643.5" y="295.4" width="11" height="11" fill="#e8392d"/>
<rect x="670.5" y="295.8" width="11" height="11" fill="#e8392d"/>
<rect x="690.8" y="296.2" width="11" height="11" fill="#e8392d"/>
<rect x="711.1" y="296.7" width="11" height="11" fill="#e8392d"/>
<rect x="738.1" y="297.5" width="11" height="11" fill="#e8392d"/>
<rect x="758.4" y="296.2" width="11" height="11" fill="#e8392d"/>
<rect x="785.4" y="295.4" width="11" height="11" fill="#e8392d"/>
<rect x="805.7" y="295" width="11" height="11" fill="#e8392d"/>
<rect x="832.7" y="294.1" width="11" height="11" fill="#e8392d"/>
<rect x="853" y="293.3" width="11" height="11" fill="#e8392d"/>
<rect x="880.1" y="292.4" width="11" height="11" fill="#e8392d"/>
<polyline points="601.6,301.7 628.7,301.3 649,301.3 676,301.7 696.3,302.2 716.6,302.6 743.6,303 763.9,302.2 790.9,301.3 811.2,300.9 838.2,300.5 858.5,299.6 885.6,299.6" fill="none" stroke="#e8392d" stroke-width="3.2" stroke-linejoin="round"/>
<rect x="596.1" y="296.2" width="11" height="11" fill="#e8392d"/>
<rect x="623.2" y="295.8" width="11" height="11" fill="#e8392d"/>
<rect x="643.5" y="295.8" width="11" height="11" fill="#e8392d"/>
<rect x="670.5" y="296.2" width="11" height="11" fill="#e8392d"/>
<rect x="690.8" y="296.7" width="11" height="11" fill="#e8392d"/>
<rect x="711.1" y="297.1" width="11" height="11" fill="#e8392d"/>
<rect x="738.1" y="297.5" width="11" height="11" fill="#e8392d"/>
<rect x="758.4" y="296.7" width="11" height="11" fill="#e8392d"/>
<rect x="785.4" y="295.8" width="11" height="11" fill="#e8392d"/>
<rect x="805.7" y="295.4" width="11" height="11" fill="#e8392d"/>
<rect x="832.7" y="295" width="11" height="11" fill="#e8392d"/>
<rect x="853" y="294.1" width="11" height="11" fill="#e8392d"/>
<rect x="880.1" y="294.1" width="11" height="11" fill="#e8392d"/>
</g>
<g>
<text x="1207" y="64.1" font-size="20" font-weight="bold" stroke="#000" stroke-width="0.25" text-anchor="middle">HCC1954 - HER2 High</text>
<line x1="1047.3" y1="90.9" x2="1047.3" y2="306.5" stroke="#000" stroke-width="3.6" stroke-linecap="butt"/>
<line x1="1045.5" y1="304.7" x2="1367.8" y2="304.7" stroke="#000" stroke-width="3.6" stroke-linecap="butt"/>
<line x1="1041.5" y1="304.7" x2="1047.3" y2="304.7" stroke="#000" stroke-width="3.6" stroke-linecap="butt"/>
<text x="1039.5" y="310.8" font-size="15.7" font-weight="bold" stroke="#000" stroke-width="0.25" text-anchor="end">0</text>
<line x1="1041.5" y1="262.3" x2="1047.3" y2="262.3" stroke="#000" stroke-width="3.6" stroke-linecap="butt"/>
<text x="1039.5" y="268.4" font-size="15.7" font-weight="bold" stroke="#000" stroke-width="0.25" text-anchor="end">500</text>
<line x1="1041.5" y1="219.9" x2="1047.3" y2="219.9" stroke="#000" stroke-width="3.6" stroke-linecap="butt"/>
<text x="1039.5" y="226" font-size="15.7" font-weight="bold" stroke="#000" stroke-width="0.25" text-anchor="end">1000</text>
<line x1="1041.5" y1="177.5" x2="1047.3" y2="177.5" stroke="#000" stroke-width="3.6" stroke-linecap="butt"/>
<text x="1039.5" y="183.6" font-size="15.7" font-weight="bold" stroke="#000" stroke-width="0.25" text-anchor="end">1500</text>
<line x1="1041.5" y1="135.1" x2="1047.3" y2="135.1" stroke="#000" stroke-width="3.6" stroke-linecap="butt"/>
<text x="1039.5" y="141.2" font-size="15.7" font-weight="bold" stroke="#000" stroke-width="0.25" text-anchor="end">2000</text>
<line x1="1041.5" y1="92.7" x2="1047.3" y2="92.7" stroke="#000" stroke-width="3.6" stroke-linecap="butt"/>
<text x="1039.5" y="98.8" font-size="15.7" font-weight="bold" stroke="#000" stroke-width="0.25" text-anchor="end">2500</text>
<line x1="1061.5" y1="304.7" x2="1061.5" y2="310.5" stroke="#000" stroke-width="3.6" stroke-linecap="butt"/>
<text x="1061.5" y="328.7" font-size="15.7" font-weight="bold" stroke="#000" stroke-width="0.25" text-anchor="middle">0</text>
<line x1="1095.3" y1="304.7" x2="1095.3" y2="310.5" stroke="#000" stroke-width="3.6" stroke-linecap="butt"/>
<text x="1095.3" y="328.7" font-size="15.7" font-weight="bold" stroke="#000" stroke-width="0.25" text-anchor="middle">5</text>
<line x1="1129.1" y1="304.7" x2="1129.1" y2="310.5" stroke="#000" stroke-width="3.6" stroke-linecap="butt"/>
<text x="1129.1" y="328.7" font-size="15.7" font-weight="bold" stroke="#000" stroke-width="0.25" text-anchor="middle">10</text>
<line x1="1162.9" y1="304.7" x2="1162.9" y2="310.5" stroke="#000" stroke-width="3.6" stroke-linecap="butt"/>
<text x="1162.9" y="328.7" font-size="15.7" font-weight="bold" stroke="#000" stroke-width="0.25" text-anchor="middle">15</text>
<line x1="1196.7" y1="304.7" x2="1196.7" y2="310.5" stroke="#000" stroke-width="3.6" stroke-linecap="butt"/>
<text x="1196.7" y="328.7" font-size="15.7" font-weight="bold" stroke="#000" stroke-width="0.25" text-anchor="middle">20</text>
<line x1="1230.5" y1="304.7" x2="1230.5" y2="310.5" stroke="#000" stroke-width="3.6" stroke-linecap="butt"/>
<text x="1230.5" y="328.7" font-size="15.7" font-weight="bold" stroke="#000" stroke-width="0.25" text-anchor="middle">25</text>
<line x1="1264.3" y1="304.7" x2="1264.3" y2="310.5" stroke="#000" stroke-width="3.6" stroke-linecap="butt"/>
<text x="1264.3" y="328.7" font-size="15.7" font-weight="bold" stroke="#000" stroke-width="0.25" text-anchor="middle">30</text>
<line x1="1298.1" y1="304.7" x2="1298.1" y2="310.5" stroke="#000" stroke-width="3.6" stroke-linecap="butt"/>
<text x="1298.1" y="328.7" font-size="15.7" font-weight="bold" stroke="#000" stroke-width="0.25" text-anchor="middle">35</text>
<line x1="1331.9" y1="304.7" x2="1331.9" y2="310.5" stroke="#000" stroke-width="3.6" stroke-linecap="butt"/>
<text x="1331.9" y="328.7" font-size="15.7" font-weight="bold" stroke="#000" stroke-width="0.25" text-anchor="middle">40</text>
<line x1="1365.7" y1="304.7" x2="1365.7" y2="310.5" stroke="#000" stroke-width="3.6" stroke-linecap="butt"/>
<text x="1365.7" y="328.7" font-size="15.7" font-weight="bold" stroke="#000" stroke-width="0.25" text-anchor="middle">45</text>
<text x="1207.8" y="356" font-size="16.9" font-weight="bold" stroke="#000" stroke-width="0.25" text-anchor="middle">Day Post Treatment</text>
<text transform="translate(990.5,198.7) rotate(-90)" font-size="16.9" font-weight="bold" stroke="#000" stroke-width="0.25" text-anchor="middle" y="6.1">Tumor Volume (mm<tspan dy="-7.1" font-size="13.2">3</tspan><tspan dy="7.1">)</tspan></text>
<line x1="1058.6" y1="97.4" x2="1084.6" y2="97.4" stroke="#000000" stroke-width="3.2" stroke-linecap="butt"/>
<circle cx="1071.6" cy="97.4" r="5.5" fill="#000000"/>
<text x="1096.6" y="103.4" font-size="16.6" text-anchor="start">Trastuzumab (IP)</text>
<polyline points="1054.7,297.1 1081.8,292 1102.1,291.1 1129.1,290.3 1149.4,287.7 1169.7,272.5 1196.7,260.6 1217,251.3 1244,223.3 1264.3,226.7 1291.3,208 1311.6,191.9 1338.7,143.6" fill="none" stroke="#000000" stroke-width="3.2" stroke-linejoin="round"/>
<circle cx="1054.7" cy="297.1" r="5.5" fill="#000000"/>
<circle cx="1081.8" cy="292" r="5.5" fill="#000000"/>
<circle cx="1102.1" cy="291.1" r="5.5" fill="#000000"/>
<circle cx="1129.1" cy="290.3" r="5.5" fill="#000000"/>
<circle cx="1149.4" cy="287.7" r="5.5" fill="#000000"/>
<circle cx="1169.7" cy="272.5" r="5.5" fill="#000000"/>
<circle cx="1196.7" cy="260.6" r="5.5" fill="#000000"/>
<circle cx="1217" cy="251.3" r="5.5" fill="#000000"/>
<circle cx="1244" cy="223.3" r="5.5" fill="#000000"/>
<circle cx="1264.3" cy="226.7" r="5.5" fill="#000000"/>
<circle cx="1291.3" cy="208" r="5.5" fill="#000000"/>
<circle cx="1311.6" cy="191.9" r="5.5" fill="#000000"/>
<circle cx="1338.7" cy="143.6" r="5.5" fill="#000000"/>
<polyline points="1054.7,297.9 1081.8,294.5 1102.1,281 1129.1,285.2 1149.4,280.1 1169.7,283.5 1196.7,279.3 1217,264 1244,253.8 1264.3,249.6 1291.3,235.2 1311.6,217.4 1338.7,128.3" fill="none" stroke="#000000" stroke-width="3.2" stroke-linejoin="round"/>
<circle cx="1054.7" cy="297.9" r="5.5" fill="#000000"/>
<circle cx="1081.8" cy="294.5" r="5.5" fill="#000000"/>
<circle cx="1102.1" cy="281" r="5.5" fill="#000000"/>
<circle cx="1129.1" cy="285.2" r="5.5" fill="#000000"/>
<circle cx="1149.4" cy="280.1" r="5.5" fill="#000000"/>
<circle cx="1169.7" cy="283.5" r="5.5" fill="#000000"/>
<circle cx="1196.7" cy="279.3" r="5.5" fill="#000000"/>
<circle cx="1217" cy="264" r="5.5" fill="#000000"/>
<circle cx="1244" cy="253.8" r="5.5" fill="#000000"/>
<circle cx="1264.3" cy="249.6" r="5.5" fill="#000000"/>
<circle cx="1291.3" cy="235.2" r="5.5" fill="#000000"/>
<circle cx="1311.6" cy="217.4" r="5.5" fill="#000000"/>
<circle cx="1338.7" cy="128.3" r="5.5" fill="#000000"/>
<polyline points="1054.7,298.8 1081.8,296.2 1102.1,292.8 1129.1,294.5 1149.4,290.3 1169.7,287.7 1196.7,283.5 1217,268.2 1244,264.8 1264.3,250.4 1291.3,253 1311.6,229.2 1338.7,186" fill="none" stroke="#000000" stroke-width="3.2" stroke-linejoin="round"/>
<circle cx="1054.7" cy="298.8" r="5.5" fill="#000000"/>
<circle cx="1081.8" cy="296.2" r="5.5" fill="#000000"/>
<circle cx="1102.1" cy="292.8" r="5.5" fill="#000000"/>
<circle cx="1129.1" cy="294.5" r="5.5" fill="#000000"/>
<circle cx="1149.4" cy="290.3" r="5.5" fill="#000000"/>
<circle cx="1169.7" cy="287.7" r="5.5" fill="#000000"/>
<circle cx="1196.7" cy="283.5" r="5.5" fill="#000000"/>
<circle cx="1217" cy="268.2" r="5.5" fill="#000000"/>
<circle cx="1244" cy="264.8" r="5.5" fill="#000000"/>
<circle cx="1264.3" cy="250.4" r="5.5" fill="#000000"/>
<circle cx="1291.3" cy="253" r="5.5" fill="#000000"/>
<circle cx="1311.6" cy="229.2" r="5.5" fill="#000000"/>
<circle cx="1338.7" cy="186" r="5.5" fill="#000000"/>
<polyline points="1054.7,299.6 1081.8,297.1 1102.1,294.5 1129.1,296.2 1149.4,292.8 1169.7,292 1196.7,292.8 1217,292 1244,292 1264.3,293.7 1291.3,279.3 1311.6,277.6 1338.7,225" fill="none" stroke="#000000" stroke-width="3.2" stroke-linejoin="round"/>
<circle cx="1054.7" cy="299.6" r="5.5" fill="#000000"/>
<circle cx="1081.8" cy="297.1" r="5.5" fill="#000000"/>
<circle cx="1102.1" cy="294.5" r="5.5" fill="#000000"/>
<circle cx="1129.1" cy="296.2" r="5.5" fill="#000000"/>
<circle cx="1149.4" cy="292.8" r="5.5" fill="#000000"/>
<circle cx="1169.7" cy="292" r="5.5" fill="#000000"/>
<circle cx="1196.7" cy="292.8" r="5.5" fill="#000000"/>
<circle cx="1217" cy="292" r="5.5" fill="#000000"/>
<circle cx="1244" cy="292" r="5.5" fill="#000000"/>
<circle cx="1264.3" cy="293.7" r="5.5" fill="#000000"/>
<circle cx="1291.3" cy="279.3" r="5.5" fill="#000000"/>
<circle cx="1311.6" cy="277.6" r="5.5" fill="#000000"/>
<circle cx="1338.7" cy="225" r="5.5" fill="#000000"/>
<polyline points="1054.7,300.5 1081.8,297.9 1102.1,296.2 1129.1,297.9 1149.4,296.2 1169.7,296.2 1196.7,296.2 1217,294.5 1244,295.4 1264.3,294.5 1291.3,287.7 1311.6,288.6 1338.7,283.5" fill="none" stroke="#000000" stroke-width="3.2" stroke-linejoin="round"/>
<circle cx="1054.7" cy="300.5" r="5.5" fill="#000000"/>
<circle cx="1081.8" cy="297.9" r="5.5" fill="#000000"/>
<circle cx="1102.1" cy="296.2" r="5.5" fill="#000000"/>
<circle cx="1129.1" cy="297.9" r="5.5" fill="#000000"/>
<circle cx="1149.4" cy="296.2" r="5.5" fill="#000000"/>
<circle cx="1169.7" cy="296.2" r="5.5" fill="#000000"/>
<circle cx="1196.7" cy="296.2" r="5.5" fill="#000000"/>
<circle cx="1217" cy="294.5" r="5.5" fill="#000000"/>
<circle cx="1244" cy="295.4" r="5.5" fill="#000000"/>
<circle cx="1264.3" cy="294.5" r="5.5" fill="#000000"/>
<circle cx="1291.3" cy="287.7" r="5.5" fill="#000000"/>
<circle cx="1311.6" cy="288.6" r="5.5" fill="#000000"/>
<circle cx="1338.7" cy="283.5" r="5.5" fill="#000000"/>
<polyline points="1054.7,301.3 1081.8,299.6 1102.1,298.8 1129.1,299.6 1149.4,298.8 1169.7,298.8 1196.7,299.6 1217,299.6 1244,297.1 1264.3,293.7" fill="none" stroke="#000000" stroke-width="3.2" stroke-linejoin="round"/>
<circle cx="1054.7" cy="301.3" r="5.5" fill="#000000"/>
<circle cx="1081.8" cy="299.6" r="5.5" fill="#000000"/>
<circle cx="1102.1" cy="298.8" r="5.5" fill="#000000"/>
<circle cx="1129.1" cy="299.6" r="5.5" fill="#000000"/>
<circle cx="1149.4" cy="298.8" r="5.5" fill="#000000"/>
<circle cx="1169.7" cy="298.8" r="5.5" fill="#000000"/>
<circle cx="1196.7" cy="299.6" r="5.5" fill="#000000"/>
<circle cx="1217" cy="299.6" r="5.5" fill="#000000"/>
<circle cx="1244" cy="297.1" r="5.5" fill="#000000"/>
<circle cx="1264.3" cy="293.7" r="5.5" fill="#000000"/>
</g>
<g>
<text x="1679.5" y="64.1" font-size="20" font-weight="bold" stroke="#000" stroke-width="0.25" text-anchor="middle">HCC1954 - HER2 High</text>
<line x1="1519.5" y1="90.9" x2="1519.5" y2="306.5" stroke="#000" stroke-width="3.6" stroke-linecap="butt"/>
<line x1="1517.7" y1="304.7" x2="1840.3" y2="304.7" stroke="#000" stroke-width="3.6" stroke-linecap="butt"/>
<line x1="1513.7" y1="304.7" x2="1519.5" y2="304.7" stroke="#000" stroke-width="3.6" stroke-linecap="butt"/>
<text x="1511.7" y="310.8" font-size="15.7" font-weight="bold" stroke="#000" stroke-width="0.25" text-anchor="end">0</text>
<line x1="1513.7" y1="262.3" x2="1519.5" y2="262.3" stroke="#000" stroke-width="3.6" stroke-linecap="butt"/>
<text x="1511.7" y="268.4" font-size="15.7" font-weight="bold" stroke="#000" stroke-width="0.25" text-anchor="end">500</text>
<line x1="1513.7" y1="219.9" x2="1519.5" y2="219.9" stroke="#000" stroke-width="3.6" stroke-linecap="butt"/>
<text x="1511.7" y="226" font-size="15.7" font-weight="bold" stroke="#000" stroke-width="0.25" text-anchor="end">1000</text>
<line x1="1513.7" y1="177.5" x2="1519.5" y2="177.5" stroke="#000" stroke-width="3.6" stroke-linecap="butt"/>
<text x="1511.7" y="183.6" font-size="15.7" font-weight="bold" stroke="#000" stroke-width="0.25" text-anchor="end">1500</text>
<line x1="1513.7" y1="135.1" x2="1519.5" y2="135.1" stroke="#000" stroke-width="3.6" stroke-linecap="butt"/>
<text x="1511.7" y="141.2" font-size="15.7" font-weight="bold" stroke="#000" stroke-width="0.25" text-anchor="end">2000</text>
<line x1="1513.7" y1="92.7" x2="1519.5" y2="92.7" stroke="#000" stroke-width="3.6" stroke-linecap="butt"/>
<text x="1511.7" y="98.8" font-size="15.7" font-weight="bold" stroke="#000" stroke-width="0.25" text-anchor="end">2500</text>
<line x1="1534" y1="304.7" x2="1534" y2="310.5" stroke="#000" stroke-width="3.6" stroke-linecap="butt"/>
<text x="1534" y="328.7" font-size="15.7" font-weight="bold" stroke="#000" stroke-width="0.25" text-anchor="middle">0</text>
<line x1="1567.8" y1="304.7" x2="1567.8" y2="310.5" stroke="#000" stroke-width="3.6" stroke-linecap="butt"/>
<text x="1567.8" y="328.7" font-size="15.7" font-weight="bold" stroke="#000" stroke-width="0.25" text-anchor="middle">5</text>
<line x1="1601.6" y1="304.7" x2="1601.6" y2="310.5" stroke="#000" stroke-width="3.6" stroke-linecap="butt"/>
<text x="1601.6" y="328.7" font-size="15.7" font-weight="bold" stroke="#000" stroke-width="0.25" text-anchor="middle">10</text>
<line x1="1635.4" y1="304.7" x2="1635.4" y2="310.5" stroke="#000" stroke-width="3.6" stroke-linecap="butt"/>
<text x="1635.4" y="328.7" font-size="15.7" font-weight="bold" stroke="#000" stroke-width="0.25" text-anchor="middle">15</text>
<line x1="1669.2" y1="304.7" x2="1669.2" y2="310.5" stroke="#000" stroke-width="3.6" stroke-linecap="butt"/>
<text x="1669.2" y="328.7" font-size="15.7" font-weight="bold" stroke="#000" stroke-width="0.25" text-anchor="middle">20</text>
<line x1="1703" y1="304.7" x2="1703" y2="310.5" stroke="#000" stroke-width="3.6" stroke-linecap="butt"/>
<text x="1703" y="328.7" font-size="15.7" font-weight="bold" stroke="#000" stroke-width="0.25" text-anchor="middle">25</text>
<line x1="1736.8" y1="304.7" x2="1736.8" y2="310.5" stroke="#000" stroke-width="3.6" stroke-linecap="butt"/>
<text x="1736.8" y="328.7" font-size="15.7" font-weight="bold" stroke="#000" stroke-width="0.25" text-anchor="middle">30</text>
<line x1="1770.6" y1="304.7" x2="1770.6" y2="310.5" stroke="#000" stroke-width="3.6" stroke-linecap="butt"/>
<text x="1770.6" y="328.7" font-size="15.7" font-weight="bold" stroke="#000" stroke-width="0.25" text-anchor="middle">35</text>
<line x1="1804.4" y1="304.7" x2="1804.4" y2="310.5" stroke="#000" stroke-width="3.6" stroke-linecap="butt"/>
<text x="1804.4" y="328.7" font-size="15.7" font-weight="bold" stroke="#000" stroke-width="0.25" text-anchor="middle">40</text>
<line x1="1838.2" y1="304.7" x2="1838.2" y2="310.5" stroke="#000" stroke-width="3.6" stroke-linecap="butt"/>
<text x="1838.2" y="328.7" font-size="15.7" font-weight="bold" stroke="#000" stroke-width="0.25" text-anchor="middle">45</text>
<text x="1680" y="356" font-size="16.9" font-weight="bold" stroke="#000" stroke-width="0.25" text-anchor="middle">Day Post Treatment</text>
<text transform="translate(1461.8,198.7) rotate(-90)" font-size="16.9" font-weight="bold" stroke="#000" stroke-width="0.25" text-anchor="middle" y="6.1">Tumor Volume (mm<tspan dy="-7.1" font-size="13.2">3</tspan><tspan dy="7.1">)</tspan></text>
<line x1="1525" y1="96.5" x2="1551" y2="96.5" stroke="#3d5aa8" stroke-width="3.2" stroke-linecap="butt"/>
<polygon points="1538,90.7 1532,100.6 1544,100.6" fill="#3d5aa8"/>
<text x="1562.7" y="102.5" font-size="16.6" text-anchor="start">Trastuzumab (IP) + T785 (IT)</text>
<polyline points="1527.2,298.8 1554.3,297.1 1574.6,295.4 1601.6,292.8 1621.9,286.9 1642.2,285.2 1669.2,271.6 1689.5,258.1 1716.5,239.4 1736.8,236.9 1763.8,226.7 1784.1,208.9 1811.2,158.8" fill="none" stroke="#3d5aa8" stroke-width="3.2" stroke-linejoin="round"/>
<polygon points="1527.2,293 1521.2,302.9 1533.3,302.9" fill="#3d5aa8"/>
<polygon points="1554.3,291.3 1548.2,301.2 1560.3,301.2" fill="#3d5aa8"/>
<polygon points="1574.6,289.6 1568.5,299.5 1580.6,299.5" fill="#3d5aa8"/>
<polygon points="1601.6,287.1 1595.5,297 1607.6,297" fill="#3d5aa8"/>
<polygon points="1621.9,281.1 1615.8,291 1627.9,291" fill="#3d5aa8"/>
<polygon points="1642.2,279.4 1636.1,289.3 1648.2,289.3" fill="#3d5aa8"/>
<polygon points="1669.2,265.9 1663.2,275.8 1675.2,275.8" fill="#3d5aa8"/>
<polygon points="1689.5,252.3 1683.4,262.2 1695.5,262.2" fill="#3d5aa8"/>
<polygon points="1716.5,233.6 1710.5,243.5 1722.6,243.5" fill="#3d5aa8"/>
<polygon points="1736.8,231.1 1730.8,241 1742.8,241" fill="#3d5aa8"/>
<polygon points="1763.8,220.9 1757.8,230.8 1769.9,230.8" fill="#3d5aa8"/>
<polygon points="1784.1,203.1 1778.1,213 1790.2,213" fill="#3d5aa8"/>
<polygon points="1811.2,153.1 1805.1,163 1817.2,163" fill="#3d5aa8"/>
<polyline points="1527.2,299.2 1554.3,297.5 1574.6,296.2 1601.6,293.7 1621.9,288.6 1642.2,286 1669.2,275 1689.5,260.6 1716.5,243.6 1736.8,238.6 1763.8,230.1 1784.1,210.6 1811.2,191.1" fill="none" stroke="#3d5aa8" stroke-width="3.2" stroke-linejoin="round"/>
<polygon points="1527.2,293.4 1521.2,303.3 1533.3,303.3" fill="#3d5aa8"/>
<polygon points="1554.3,291.7 1548.2,301.6 1560.3,301.6" fill="#3d5aa8"/>
<polygon points="1574.6,290.4 1568.5,300.3 1580.6,300.3" fill="#3d5aa8"/>
<polygon points="1601.6,287.9 1595.5,297.8 1607.6,297.8" fill="#3d5aa8"/>
<polygon points="1621.9,282.8 1615.8,292.7 1627.9,292.7" fill="#3d5aa8"/>
<polygon points="1642.2,280.3 1636.1,290.2 1648.2,290.2" fill="#3d5aa8"/>
<polygon points="1669.2,269.2 1663.2,279.1 1675.2,279.1" fill="#3d5aa8"/>
<polygon points="1689.5,254.8 1683.4,264.7 1695.5,264.7" fill="#3d5aa8"/>
<polygon points="1716.5,237.9 1710.5,247.8 1722.6,247.8" fill="#3d5aa8"/>
<polygon points="1736.8,232.8 1730.8,242.7 1742.8,242.7" fill="#3d5aa8"/>
<polygon points="1763.8,224.3 1757.8,234.2 1769.9,234.2" fill="#3d5aa8"/>
<polygon points="1784.1,204.8 1778.1,214.7 1790.2,214.7" fill="#3d5aa8"/>
<polygon points="1811.2,185.3 1805.1,195.2 1817.2,195.2" fill="#3d5aa8"/>
<polyline points="1527.2,299.6 1554.3,297.9 1574.6,296.6 1601.6,294.5 1621.9,290.3 1642.2,287.7 1669.2,279.3 1689.5,265.7 1716.5,254.7 1736.8,258.9 1763.8,245.3 1784.1,230.1 1811.2,196.2" fill="none" stroke="#3d5aa8" stroke-width="3.2" stroke-linejoin="round"/>
<polygon points="1527.2,293.8 1521.2,303.7 1533.3,303.7" fill="#3d5aa8"/>
<polygon points="1554.3,292.1 1548.2,302 1560.3,302" fill="#3d5aa8"/>
<polygon points="1574.6,290.9 1568.5,300.8 1580.6,300.8" fill="#3d5aa8"/>
<polygon points="1601.6,288.7 1595.5,298.6 1607.6,298.6" fill="#3d5aa8"/>
<polygon points="1621.9,284.5 1615.8,294.4 1627.9,294.4" fill="#3d5aa8"/>
<polygon points="1642.2,282 1636.1,291.9 1648.2,291.9" fill="#3d5aa8"/>
<polygon points="1669.2,273.5 1663.2,283.4 1675.2,283.4" fill="#3d5aa8"/>
<polygon points="1689.5,259.9 1683.4,269.8 1695.5,269.8" fill="#3d5aa8"/>
<polygon points="1716.5,248.9 1710.5,258.8 1722.6,258.8" fill="#3d5aa8"/>
<polygon points="1736.8,253.1 1730.8,263 1742.8,263" fill="#3d5aa8"/>
<polygon points="1763.8,239.6 1757.8,249.5 1769.9,249.5" fill="#3d5aa8"/>
<polygon points="1784.1,224.3 1778.1,234.2 1790.2,234.2" fill="#3d5aa8"/>
<polygon points="1811.2,190.4 1805.1,200.3 1817.2,200.3" fill="#3d5aa8"/>
<polyline points="1527.2,300 1554.3,298.3 1574.6,297.1 1601.6,294.9 1621.9,292 1642.2,289.4 1669.2,286 1689.5,270.8 1716.5,257.2 1736.8,240.3 1763.8,232.6 1784.1,262.3 1811.2,273.3" fill="none" stroke="#3d5aa8" stroke-width="3.2" stroke-linejoin="round"/>
<polygon points="1527.2,294.3 1521.2,304.2 1533.3,304.2" fill="#3d5aa8"/>
<polygon points="1554.3,292.6 1548.2,302.5 1560.3,302.5" fill="#3d5aa8"/>
<polygon points="1574.6,291.3 1568.5,301.2 1580.6,301.2" fill="#3d5aa8"/>
<polygon points="1601.6,289.2 1595.5,299.1 1607.6,299.1" fill="#3d5aa8"/>
<polygon points="1621.9,286.2 1615.8,296.1 1627.9,296.1" fill="#3d5aa8"/>
<polygon points="1642.2,283.7 1636.1,293.6 1648.2,293.6" fill="#3d5aa8"/>
<polygon points="1669.2,280.3 1663.2,290.2 1675.2,290.2" fill="#3d5aa8"/>
<polygon points="1689.5,265 1683.4,274.9 1695.5,274.9" fill="#3d5aa8"/>
<polygon points="1716.5,251.4 1710.5,261.3 1722.6,261.3" fill="#3d5aa8"/>
<polygon points="1736.8,234.5 1730.8,244.4 1742.8,244.4" fill="#3d5aa8"/>
<polygon points="1763.8,226.8 1757.8,236.7 1769.9,236.7" fill="#3d5aa8"/>
<polygon points="1784.1,256.5 1778.1,266.4 1790.2,266.4" fill="#3d5aa8"/>
<polygon points="1811.2,267.5 1805.1,277.4 1817.2,277.4" fill="#3d5aa8"/>
<polyline points="1527.2,300.5 1554.3,298.8 1574.6,297.5 1601.6,295.4 1621.9,292.8 1642.2,290.3 1669.2,287.7 1689.5,278.4 1716.5,275.9 1736.8,272.5 1763.8,260.6 1784.1,261.5 1811.2,245.3" fill="none" stroke="#3d5aa8" stroke-width="3.2" stroke-linejoin="round"/>
<polygon points="1527.2,294.7 1521.2,304.6 1533.3,304.6" fill="#3d5aa8"/>
<polygon points="1554.3,293 1548.2,302.9 1560.3,302.9" fill="#3d5aa8"/>
<polygon points="1574.6,291.7 1568.5,301.6 1580.6,301.6" fill="#3d5aa8"/>
<polygon points="1601.6,289.6 1595.5,299.5 1607.6,299.5" fill="#3d5aa8"/>
<polygon points="1621.9,287.1 1615.8,297 1627.9,297" fill="#3d5aa8"/>
<polygon points="1642.2,284.5 1636.1,294.4 1648.2,294.4" fill="#3d5aa8"/>
<polygon points="1669.2,282 1663.2,291.9 1675.2,291.9" fill="#3d5aa8"/>
<polygon points="1689.5,272.6 1683.4,282.5 1695.5,282.5" fill="#3d5aa8"/>
<polygon points="1716.5,270.1 1710.5,280 1722.6,280" fill="#3d5aa8"/>
<polygon points="1736.8,266.7 1730.8,276.6 1742.8,276.6" fill="#3d5aa8"/>
<polygon points="1763.8,254.8 1757.8,264.7 1769.9,264.7" fill="#3d5aa8"/>
<polygon points="1784.1,255.7 1778.1,265.6 1790.2,265.6" fill="#3d5aa8"/>
<polygon points="1811.2,239.6 1805.1,249.5 1817.2,249.5" fill="#3d5aa8"/>
</g>
<g>
<text x="263.3" y="449.6" font-size="20.6" font-weight="bold" stroke="#000" stroke-width="0.25" text-anchor="middle">HCC1954 - HER2 High</text>
<line x1="106.2" y1="479.8" x2="106.2" y2="700.2" stroke="#000" stroke-width="2.4" stroke-linecap="butt"/>
<line x1="105" y1="699" x2="423.4" y2="699" stroke="#000" stroke-width="2.4" stroke-linecap="butt"/>
<line x1="97.5" y1="699" x2="106.2" y2="699" stroke="#000" stroke-width="2.4" stroke-linecap="butt"/>
<text x="95" y="705.4" font-size="16.3" font-weight="bold" stroke="#000" stroke-width="0.25" text-anchor="end">0</text>
<line x1="97.5" y1="630.8" x2="106.2" y2="630.8" stroke="#000" stroke-width="2.4" stroke-linecap="butt"/>
<text x="95" y="637.2" font-size="16.3" font-weight="bold" stroke="#000" stroke-width="0.25" text-anchor="end">500</text>
<line x1="97.5" y1="562.6" x2="106.2" y2="562.6" stroke="#000" stroke-width="2.4" stroke-linecap="butt"/>
<text x="95" y="569" font-size="16.3" font-weight="bold" stroke="#000" stroke-width="0.25" text-anchor="end">1000</text>
<line x1="97.5" y1="494.4" x2="106.2" y2="494.4" stroke="#000" stroke-width="2.4" stroke-linecap="butt"/>
<text x="95" y="500.8" font-size="16.3" font-weight="bold" stroke="#000" stroke-width="0.25" text-anchor="end">1500</text>
<line x1="106.2" y1="699" x2="106.2" y2="707.7" stroke="#000" stroke-width="2.4" stroke-linecap="butt"/>
<text x="106.2" y="724.2" font-size="16.3" font-weight="bold" stroke="#000" stroke-width="0.25" text-anchor="middle">0</text>
<line x1="169.4" y1="699" x2="169.4" y2="707.7" stroke="#000" stroke-width="2.4" stroke-linecap="butt"/>
<text x="169.4" y="724.2" font-size="16.3" font-weight="bold" stroke="#000" stroke-width="0.25" text-anchor="middle">10</text>
<line x1="232.6" y1="699" x2="232.6" y2="707.7" stroke="#000" stroke-width="2.4" stroke-linecap="butt"/>
<text x="232.6" y="724.2" font-size="16.3" font-weight="bold" stroke="#000" stroke-width="0.25" text-anchor="middle">20</text>
<line x1="295.8" y1="699" x2="295.8" y2="707.7" stroke="#000" stroke-width="2.4" stroke-linecap="butt"/>
<text x="295.8" y="724.2" font-size="16.3" font-weight="bold" stroke="#000" stroke-width="0.25" text-anchor="middle">30</text>
<line x1="359" y1="699" x2="359" y2="707.7" stroke="#000" stroke-width="2.4" stroke-linecap="butt"/>
<text x="359" y="724.2" font-size="16.3" font-weight="bold" stroke="#000" stroke-width="0.25" text-anchor="middle">40</text>
<line x1="422.2" y1="699" x2="422.2" y2="707.7" stroke="#000" stroke-width="2.4" stroke-linecap="butt"/>
<text x="422.2" y="724.2" font-size="16.3" font-weight="bold" stroke="#000" stroke-width="0.25" text-anchor="middle">50</text>
<text x="264.5" y="750.8" font-size="17.6" font-weight="bold" stroke="#000" stroke-width="0.25" text-anchor="middle">Day Post Treatment</text>
<text transform="translate(39.3,590) rotate(-90)" font-size="17.6" font-weight="bold" stroke="#000" stroke-width="0.25" text-anchor="middle" y="6.4">Tumor Volume (mm<tspan dy="-7.4" font-size="13.8">3</tspan><tspan dy="7.4">)</tspan></text>
<line x1="125.5" y1="483.8" x2="151.5" y2="483.8" stroke="#e8392d" stroke-width="2.8" stroke-linecap="butt"/>
<rect x="133" y="478.3" width="11" height="11" fill="#e8392d"/>
<text x="165.9" y="489.8" font-size="16.6" text-anchor="start">Trastuzumab T785-ISAC</text>
<polyline points="106.2,682.6 131.5,685.4 150.4,684 175.7,685.4 194.7,679.9 220,682.6 245.2,681.3 264.2,689.5 283.2,686.7 308.4,692.2 327.4,692.2 352.7,692.2 371.6,690.8 396.9,692.2 415.9,692.2" fill="none" stroke="#e8392d" stroke-width="2.8" stroke-linejoin="round"/>
<rect x="100.7" y="677.1" width="11" height="11" fill="#e8392d"/>
<rect x="126" y="679.9" width="11" height="11" fill="#e8392d"/>
<rect x="144.9" y="678.5" width="11" height="11" fill="#e8392d"/>
<rect x="170.2" y="679.9" width="11" height="11" fill="#e8392d"/>
<rect x="189.2" y="674.4" width="11" height="11" fill="#e8392d"/>
<rect x="214.5" y="677.1" width="11" height="11" fill="#e8392d"/>
<rect x="239.7" y="675.8" width="11" height="11" fill="#e8392d"/>
<rect x="258.7" y="684" width="11" height="11" fill="#e8392d"/>
<rect x="277.7" y="681.2" width="11" height="11" fill="#e8392d"/>
<rect x="302.9" y="686.7" width="11" height="11" fill="#e8392d"/>
<rect x="321.9" y="686.7" width="11" height="11" fill="#e8392d"/>
<rect x="347.2" y="686.7" width="11" height="11" fill="#e8392d"/>
<rect x="366.1" y="685.3" width="11" height="11" fill="#e8392d"/>
<rect x="391.4" y="686.7" width="11" height="11" fill="#e8392d"/>
<rect x="410.4" y="686.7" width="11" height="11" fill="#e8392d"/>
<polyline points="106.2,685.4 131.5,686.7 150.4,685.4 175.7,686.7 194.7,684 220,685.4 245.2,684 264.2,690.8 283.2,689.5 308.4,693.5 327.4,693.5 352.7,693.5 371.6,692.2 396.9,693.5 415.9,693.5" fill="none" stroke="#e8392d" stroke-width="2.8" stroke-linejoin="round"/>
<rect x="100.7" y="679.9" width="11" height="11" fill="#e8392d"/>
<rect x="126" y="681.2" width="11" height="11" fill="#e8392d"/>
<rect x="144.9" y="679.9" width="11" height="11" fill="#e8392d"/>
<rect x="170.2" y="681.2" width="11" height="11" fill="#e8392d"/>
<rect x="189.2" y="678.5" width="11" height="11" fill="#e8392d"/>
<rect x="214.5" y="679.9" width="11" height="11" fill="#e8392d"/>
<rect x="239.7" y="678.5" width="11" height="11" fill="#e8392d"/>
<rect x="258.7" y="685.3" width="11" height="11" fill="#e8392d"/>
<rect x="277.7" y="684" width="11" height="11" fill="#e8392d"/>
<rect x="302.9" y="688" width="11" height="11" fill="#e8392d"/>
<rect x="321.9" y="688" width="11" height="11" fill="#e8392d"/>
<rect x="347.2" y="688" width="11" height="11" fill="#e8392d"/>
<rect x="366.1" y="686.7" width="11" height="11" fill="#e8392d"/>
<rect x="391.4" y="688" width="11" height="11" fill="#e8392d"/>
<rect x="410.4" y="688" width="11" height="11" fill="#e8392d"/>
<polyline points="106.2,686.7 131.5,688.1 150.4,685.4 175.7,688.1 194.7,685.4 220,686.7 245.2,685.4 264.2,692.2 283.2,690.8 308.4,693.5 327.4,694.9 352.7,694.9 371.6,693.5 396.9,693.5 415.9,694.9" fill="none" stroke="#e8392d" stroke-width="2.8" stroke-linejoin="round"/>
<rect x="100.7" y="681.2" width="11" height="11" fill="#e8392d"/>
<rect x="126" y="682.6" width="11" height="11" fill="#e8392d"/>
<rect x="144.9" y="679.9" width="11" height="11" fill="#e8392d"/>
<rect x="170.2" y="682.6" width="11" height="11" fill="#e8392d"/>
<rect x="189.2" y="679.9" width="11" height="11" fill="#e8392d"/>
<rect x="214.5" y="681.2" width="11" height="11" fill="#e8392d"/>
<rect x="239.7" y="679.9" width="11" height="11" fill="#e8392d"/>
<rect x="258.7" y="686.7" width="11" height="11" fill="#e8392d"/>
<rect x="277.7" y="685.3" width="11" height="11" fill="#e8392d"/>
<rect x="302.9" y="688" width="11" height="11" fill="#e8392d"/>
<rect x="321.9" y="689.4" width="11" height="11" fill="#e8392d"/>
<rect x="347.2" y="689.4" width="11" height="11" fill="#e8392d"/>
<rect x="366.1" y="688" width="11" height="11" fill="#e8392d"/>
<rect x="391.4" y="688" width="11" height="11" fill="#e8392d"/>
<rect x="410.4" y="689.4" width="11" height="11" fill="#e8392d"/>
<polyline points="106.2,688.1 131.5,689.5 150.4,686.7 175.7,688.1 194.7,686.7 220,688.1 245.2,686.7 264.2,693.5 283.2,692.2 308.4,694.9 327.4,694.9 352.7,694.9 371.6,694.9 396.9,694.9 415.9,696.3" fill="none" stroke="#e8392d" stroke-width="2.8" stroke-linejoin="round"/>
<rect x="100.7" y="682.6" width="11" height="11" fill="#e8392d"/>
<rect x="126" y="684" width="11" height="11" fill="#e8392d"/>
<rect x="144.9" y="681.2" width="11" height="11" fill="#e8392d"/>
<rect x="170.2" y="682.6" width="11" height="11" fill="#e8392d"/>
<rect x="189.2" y="681.2" width="11" height="11" fill="#e8392d"/>
<rect x="214.5" y="682.6" width="11" height="11" fill="#e8392d"/>
<rect x="239.7" y="681.2" width="11" height="11" fill="#e8392d"/>
<rect x="258.7" y="688" width="11" height="11" fill="#e8392d"/>
<rect x="277.7" y="686.7" width="11" height="11" fill="#e8392d"/>
<rect x="302.9" y="689.4" width="11" height="11" fill="#e8392d"/>
<rect x="321.9" y="689.4" width="11" height="11" fill="#e8392d"/>
<rect x="347.2" y="689.4" width="11" height="11" fill="#e8392d"/>
<rect x="366.1" y="689.4" width="11" height="11" fill="#e8392d"/>
<rect x="391.4" y="689.4" width="11" height="11" fill="#e8392d"/>
<rect x="410.4" y="690.8" width="11" height="11" fill="#e8392d"/>
</g>
<g>
<text x="718.6" y="449.6" font-size="20.6" font-weight="bold" stroke="#000" stroke-width="0.25" text-anchor="middle">HCC1954 - HER2 High</text>
<line x1="560.5" y1="479.8" x2="560.5" y2="700.2" stroke="#000" stroke-width="2.4" stroke-linecap="butt"/>
<line x1="559.3" y1="699" x2="877.7" y2="699" stroke="#000" stroke-width="2.4" stroke-linecap="butt"/>
<line x1="551.8" y1="699" x2="560.5" y2="699" stroke="#000" stroke-width="2.4" stroke-linecap="butt"/>
<text x="549.3" y="705.4" font-size="16.3" font-weight="bold" stroke="#000" stroke-width="0.25" text-anchor="end">0</text>
<line x1="551.8" y1="630.8" x2="560.5" y2="630.8" stroke="#000" stroke-width="2.4" stroke-linecap="butt"/>
<text x="549.3" y="637.2" font-size="16.3" font-weight="bold" stroke="#000" stroke-width="0.25" text-anchor="end">500</text>
<line x1="551.8" y1="562.6" x2="560.5" y2="562.6" stroke="#000" stroke-width="2.4" stroke-linecap="butt"/>
<text x="549.3" y="569" font-size="16.3" font-weight="bold" stroke="#000" stroke-width="0.25" text-anchor="end">1000</text>
<line x1="551.8" y1="494.4" x2="560.5" y2="494.4" stroke="#000" stroke-width="2.4" stroke-linecap="butt"/>
<text x="549.3" y="500.8" font-size="16.3" font-weight="bold" stroke="#000" stroke-width="0.25" text-anchor="end">1500</text>
<line x1="560.5" y1="699" x2="560.5" y2="707.7" stroke="#000" stroke-width="2.4" stroke-linecap="butt"/>
<text x="560.5" y="724.2" font-size="16.3" font-weight="bold" stroke="#000" stroke-width="0.25" text-anchor="middle">0</text>
<line x1="623.7" y1="699" x2="623.7" y2="707.7" stroke="#000" stroke-width="2.4" stroke-linecap="butt"/>
<text x="623.7" y="724.2" font-size="16.3" font-weight="bold" stroke="#000" stroke-width="0.25" text-anchor="middle">10</text>
<line x1="686.9" y1="699" x2="686.9" y2="707.7" stroke="#000" stroke-width="2.4" stroke-linecap="butt"/>
<text x="686.9" y="724.2" font-size="16.3" font-weight="bold" stroke="#000" stroke-width="0.25" text-anchor="middle">20</text>
<line x1="750.1" y1="699" x2="750.1" y2="707.7" stroke="#000" stroke-width="2.4" stroke-linecap="butt"/>
<text x="750.1" y="724.2" font-size="16.3" font-weight="bold" stroke="#000" stroke-width="0.25" text-anchor="middle">30</text>
<line x1="813.3" y1="699" x2="813.3" y2="707.7" stroke="#000" stroke-width="2.4" stroke-linecap="butt"/>
<text x="813.3" y="724.2" font-size="16.3" font-weight="bold" stroke="#000" stroke-width="0.25" text-anchor="middle">40</text>
<line x1="876.5" y1="699" x2="876.5" y2="707.7" stroke="#000" stroke-width="2.4" stroke-linecap="butt"/>
<text x="876.5" y="724.2" font-size="16.3" font-weight="bold" stroke="#000" stroke-width="0.25" text-anchor="middle">50</text>
<text x="719.4" y="750.8" font-size="17.6" font-weight="bold" stroke="#000" stroke-width="0.25" text-anchor="middle">Day Post Treatment</text>
<text transform="translate(504,590) rotate(-90)" font-size="17.6" font-weight="bold" stroke="#000" stroke-width="0.25" text-anchor="middle" y="6.4">Tumor Volume (mm<tspan dy="-7.4" font-size="13.8">3</tspan><tspan dy="7.4">)</tspan></text>
<line x1="572.8" y1="483.8" x2="598.8" y2="483.8" stroke="#000000" stroke-width="2.8" stroke-linecap="butt"/>
<circle cx="585.8" cy="483.8" r="5.5" fill="#000000"/>
<text x="610.7" y="489.8" font-size="16.6" text-anchor="start">Trastuzumab</text>
<polyline points="560.5,682 585.8,684.7 604.7,679.9 630,677.9 649,674.4 674.3,664.9 699.5,666.3 718.5,666.3 737.5,660.8 762.7,652.6 781.7,644.4 807,636.3 825.9,633.5 851.2,625.3 870.2,606.9" fill="none" stroke="#000000" stroke-width="2.8" stroke-linejoin="round"/>
<circle cx="560.5" cy="682" r="5.5" fill="#000000"/>
<circle cx="585.8" cy="684.7" r="5.5" fill="#000000"/>
<circle cx="604.7" cy="679.9" r="5.5" fill="#000000"/>
<circle cx="630" cy="677.9" r="5.5" fill="#000000"/>
<circle cx="649" cy="674.4" r="5.5" fill="#000000"/>
<circle cx="674.3" cy="664.9" r="5.5" fill="#000000"/>
<circle cx="699.5" cy="666.3" r="5.5" fill="#000000"/>
<circle cx="718.5" cy="666.3" r="5.5" fill="#000000"/>
<circle cx="737.5" cy="660.8" r="5.5" fill="#000000"/>
<circle cx="762.7" cy="652.6" r="5.5" fill="#000000"/>
<circle cx="781.7" cy="644.4" r="5.5" fill="#000000"/>
<circle cx="807" cy="636.3" r="5.5" fill="#000000"/>
<circle cx="825.9" cy="633.5" r="5.5" fill="#000000"/>
<circle cx="851.2" cy="625.3" r="5.5" fill="#000000"/>
<circle cx="870.2" cy="606.9" r="5.5" fill="#000000"/>
<polyline points="560.5,684 585.8,686 604.7,681.3 630,679.9 649,675.8 674.3,673.1 699.5,661.5 718.5,667.6 737.5,671 762.7,654 781.7,651.3 807,639 825.9,634.9 851.2,628.1 870.2,613.8" fill="none" stroke="#000000" stroke-width="2.8" stroke-linejoin="round"/>
<circle cx="560.5" cy="684" r="5.5" fill="#000000"/>
<circle cx="585.8" cy="686" r="5.5" fill="#000000"/>
<circle cx="604.7" cy="681.3" r="5.5" fill="#000000"/>
<circle cx="630" cy="679.9" r="5.5" fill="#000000"/>
<circle cx="649" cy="675.8" r="5.5" fill="#000000"/>
<circle cx="674.3" cy="673.1" r="5.5" fill="#000000"/>
<circle cx="699.5" cy="661.5" r="5.5" fill="#000000"/>
<circle cx="718.5" cy="667.6" r="5.5" fill="#000000"/>
<circle cx="737.5" cy="671" r="5.5" fill="#000000"/>
<circle cx="762.7" cy="654" r="5.5" fill="#000000"/>
<circle cx="781.7" cy="651.3" r="5.5" fill="#000000"/>
<circle cx="807" cy="639" r="5.5" fill="#000000"/>
<circle cx="825.9" cy="634.9" r="5.5" fill="#000000"/>
<circle cx="851.2" cy="628.1" r="5.5" fill="#000000"/>
<circle cx="870.2" cy="613.8" r="5.5" fill="#000000"/>
<polyline points="560.5,686 585.8,687.4 604.7,682.6 630,682 649,678.5 674.3,675.8 699.5,671.7 718.5,671.7 737.5,677.2 762.7,664.9 781.7,658.1 807,649.9 825.9,635.6 851.2,630.8 870.2,630.8" fill="none" stroke="#000000" stroke-width="2.8" stroke-linejoin="round"/>
<circle cx="560.5" cy="686" r="5.5" fill="#000000"/>
<circle cx="585.8" cy="687.4" r="5.5" fill="#000000"/>
<circle cx="604.7" cy="682.6" r="5.5" fill="#000000"/>
<circle cx="630" cy="682" r="5.5" fill="#000000"/>
<circle cx="649" cy="678.5" r="5.5" fill="#000000"/>
<circle cx="674.3" cy="675.8" r="5.5" fill="#000000"/>
<circle cx="699.5" cy="671.7" r="5.5" fill="#000000"/>
<circle cx="718.5" cy="671.7" r="5.5" fill="#000000"/>
<circle cx="737.5" cy="677.2" r="5.5" fill="#000000"/>
<circle cx="762.7" cy="664.9" r="5.5" fill="#000000"/>
<circle cx="781.7" cy="658.1" r="5.5" fill="#000000"/>
<circle cx="807" cy="649.9" r="5.5" fill="#000000"/>
<circle cx="825.9" cy="635.6" r="5.5" fill="#000000"/>
<circle cx="851.2" cy="630.8" r="5.5" fill="#000000"/>
<circle cx="870.2" cy="630.8" r="5.5" fill="#000000"/>
<polyline points="560.5,687.4 585.8,689.5 604.7,685.4 630,684 649,679.9 674.3,681.3 699.5,679.9 718.5,674.4 737.5,670.4 762.7,669 781.7,661.5 807,656 825.9,636.9 851.2,641 870.2,636.9" fill="none" stroke="#000000" stroke-width="2.8" stroke-linejoin="round"/>
<circle cx="560.5" cy="687.4" r="5.5" fill="#000000"/>
<circle cx="585.8" cy="689.5" r="5.5" fill="#000000"/>
<circle cx="604.7" cy="685.4" r="5.5" fill="#000000"/>
<circle cx="630" cy="684" r="5.5" fill="#000000"/>
<circle cx="649" cy="679.9" r="5.5" fill="#000000"/>
<circle cx="674.3" cy="681.3" r="5.5" fill="#000000"/>
<circle cx="699.5" cy="679.9" r="5.5" fill="#000000"/>
<circle cx="718.5" cy="674.4" r="5.5" fill="#000000"/>
<circle cx="737.5" cy="670.4" r="5.5" fill="#000000"/>
<circle cx="762.7" cy="669" r="5.5" fill="#000000"/>
<circle cx="781.7" cy="661.5" r="5.5" fill="#000000"/>
<circle cx="807" cy="656" r="5.5" fill="#000000"/>
<circle cx="825.9" cy="636.9" r="5.5" fill="#000000"/>
<circle cx="851.2" cy="641" r="5.5" fill="#000000"/>
<circle cx="870.2" cy="636.9" r="5.5" fill="#000000"/>
<polyline points="560.5,688.8 585.8,691.5 604.7,688.8 630,688.8 649,687.4 674.3,686.7 699.5,685.4 718.5,686 737.5,686 762.7,684 781.7,682 807,683.3 825.9,677.2 851.2,672.4 870.2,671.7" fill="none" stroke="#000000" stroke-width="2.8" stroke-linejoin="round"/>
<circle cx="560.5" cy="688.8" r="5.5" fill="#000000"/>
<circle cx="585.8" cy="691.5" r="5.5" fill="#000000"/>
<circle cx="604.7" cy="688.8" r="5.5" fill="#000000"/>
<circle cx="630" cy="688.8" r="5.5" fill="#000000"/>
<circle cx="649" cy="687.4" r="5.5" fill="#000000"/>
<circle cx="674.3" cy="686.7" r="5.5" fill="#000000"/>
<circle cx="699.5" cy="685.4" r="5.5" fill="#000000"/>
<circle cx="718.5" cy="686" r="5.5" fill="#000000"/>
<circle cx="737.5" cy="686" r="5.5" fill="#000000"/>
<circle cx="762.7" cy="684" r="5.5" fill="#000000"/>
<circle cx="781.7" cy="682" r="5.5" fill="#000000"/>
<circle cx="807" cy="683.3" r="5.5" fill="#000000"/>
<circle cx="825.9" cy="677.2" r="5.5" fill="#000000"/>
<circle cx="851.2" cy="672.4" r="5.5" fill="#000000"/>
<circle cx="870.2" cy="671.7" r="5.5" fill="#000000"/>
</g>
<g>
<text x="1191.5" y="449.6" font-size="20.6" font-weight="bold" stroke="#000" stroke-width="0.25" text-anchor="middle">HCC1954 - HER2 High</text>
<line x1="1033.5" y1="479.8" x2="1033.5" y2="700.2" stroke="#000" stroke-width="2.4" stroke-linecap="butt"/>
<line x1="1032.3" y1="699" x2="1350.7" y2="699" stroke="#000" stroke-width="2.4" stroke-linecap="butt"/>
<line x1="1024.8" y1="699" x2="1033.5" y2="699" stroke="#000" stroke-width="2.4" stroke-linecap="butt"/>
<text x="1022.3" y="705.4" font-size="16.3" font-weight="bold" stroke="#000" stroke-width="0.25" text-anchor="end">0</text>
<line x1="1024.8" y1="630.8" x2="1033.5" y2="630.8" stroke="#000" stroke-width="2.4" stroke-linecap="butt"/>
<text x="1022.3" y="637.2" font-size="16.3" font-weight="bold" stroke="#000" stroke-width="0.25" text-anchor="end">500</text>
<line x1="1024.8" y1="562.6" x2="1033.5" y2="562.6" stroke="#000" stroke-width="2.4" stroke-linecap="butt"/>
<text x="1022.3" y="569" font-size="16.3" font-weight="bold" stroke="#000" stroke-width="0.25" text-anchor="end">1000</text>
<line x1="1024.8" y1="494.4" x2="1033.5" y2="494.4" stroke="#000" stroke-width="2.4" stroke-linecap="butt"/>
<text x="1022.3" y="500.8" font-size="16.3" font-weight="bold" stroke="#000" stroke-width="0.25" text-anchor="end">1500</text>
<line x1="1033.5" y1="699" x2="1033.5" y2="707.7" stroke="#000" stroke-width="2.4" stroke-linecap="butt"/>
<text x="1033.5" y="724.2" font-size="16.3" font-weight="bold" stroke="#000" stroke-width="0.25" text-anchor="middle">0</text>
<line x1="1096.7" y1="699" x2="1096.7" y2="707.7" stroke="#000" stroke-width="2.4" stroke-linecap="butt"/>
<text x="1096.7" y="724.2" font-size="16.3" font-weight="bold" stroke="#000" stroke-width="0.25" text-anchor="middle">10</text>
<line x1="1159.9" y1="699" x2="1159.9" y2="707.7" stroke="#000" stroke-width="2.4" stroke-linecap="butt"/>
<text x="1159.9" y="724.2" font-size="16.3" font-weight="bold" stroke="#000" stroke-width="0.25" text-anchor="middle">20</text>
<line x1="1223.1" y1="699" x2="1223.1" y2="707.7" stroke="#000" stroke-width="2.4" stroke-linecap="butt"/>
<text x="1223.1" y="724.2" font-size="16.3" font-weight="bold" stroke="#000" stroke-width="0.25" text-anchor="middle">30</text>
<line x1="1286.3" y1="699" x2="1286.3" y2="707.7" stroke="#000" stroke-width="2.4" stroke-linecap="butt"/>
<text x="1286.3" y="724.2" font-size="16.3" font-weight="bold" stroke="#000" stroke-width="0.25" text-anchor="middle">40</text>
<line x1="1349.5" y1="699" x2="1349.5" y2="707.7" stroke="#000" stroke-width="2.4" stroke-linecap="butt"/>
<text x="1349.5" y="724.2" font-size="16.3" font-weight="bold" stroke="#000" stroke-width="0.25" text-anchor="middle">50</text>
<text x="1192" y="750.8" font-size="17.6" font-weight="bold" stroke="#000" stroke-width="0.25" text-anchor="middle">Day Post Treatment</text>
<text transform="translate(976.3,590) rotate(-90)" font-size="17.6" font-weight="bold" stroke="#000" stroke-width="0.25" text-anchor="middle" y="6.4">Tumor Volume (mm<tspan dy="-7.4" font-size="13.8">3</tspan><tspan dy="7.4">)</tspan></text>
<line x1="1044.9" y1="484.5" x2="1070.9" y2="484.5" stroke="#3d5aa8" stroke-width="2.8" stroke-linecap="butt"/>
<polygon points="1057.9,478.7 1051.9,488.6 1064,488.6" fill="#3d5aa8"/>
<text x="1082.9" y="490.5" font-size="16.6" text-anchor="start">Rituximab T785-ISAC</text>
<polyline points="1033.5,681.3 1058.8,686.7 1077.7,681.3 1103,677.2 1122,671.7 1147.3,666.3 1172.5,660.8 1191.5,634.9 1210.5,637.6 1235.7,614.4 1254.7,611.7 1280,607.6 1298.9,609 1324.2,565.3 1343.2,536.7" fill="none" stroke="#3d5aa8" stroke-width="2.8" stroke-linejoin="round"/>
<polygon points="1033.5,675.5 1027.5,685.4 1039.5,685.4" fill="#3d5aa8"/>
<polygon points="1058.8,680.9 1052.7,690.8 1064.8,690.8" fill="#3d5aa8"/>
<polygon points="1077.7,675.5 1071.7,685.4 1083.8,685.4" fill="#3d5aa8"/>
<polygon points="1103,671.4 1097,681.3 1109.1,681.3" fill="#3d5aa8"/>
<polygon points="1122,665.9 1115.9,675.8 1128,675.8" fill="#3d5aa8"/>
<polygon points="1147.3,660.5 1141.2,670.4 1153.3,670.4" fill="#3d5aa8"/>
<polygon points="1172.5,655 1166.5,664.9 1178.6,664.9" fill="#3d5aa8"/>
<polygon points="1191.5,629.1 1185.5,639 1197.5,639" fill="#3d5aa8"/>
<polygon points="1210.5,631.8 1204.4,641.7 1216.5,641.7" fill="#3d5aa8"/>
<polygon points="1235.7,608.7 1229.7,618.6 1241.8,618.6" fill="#3d5aa8"/>
<polygon points="1254.7,605.9 1248.7,615.8 1260.8,615.8" fill="#3d5aa8"/>
<polygon points="1280,601.8 1273.9,611.7 1286,611.7" fill="#3d5aa8"/>
<polygon points="1298.9,603.2 1292.9,613.1 1305,613.1" fill="#3d5aa8"/>
<polygon points="1324.2,559.6 1318.2,569.5 1330.3,569.5" fill="#3d5aa8"/>
<polygon points="1343.2,530.9 1337.1,540.8 1349.2,540.8" fill="#3d5aa8"/>
<polyline points="1033.5,688.1 1058.8,686.7 1077.7,682.6 1103,681.3 1122,673.1 1147.3,670.4 1172.5,662.2 1191.5,666.3 1210.5,654 1235.7,617.2 1254.7,617.2 1280,622.6 1298.9,610.3 1324.2,572.1 1343.2,543.5" fill="none" stroke="#3d5aa8" stroke-width="2.8" stroke-linejoin="round"/>
<polygon points="1033.5,682.3 1027.5,692.2 1039.5,692.2" fill="#3d5aa8"/>
<polygon points="1058.8,680.9 1052.7,690.8 1064.8,690.8" fill="#3d5aa8"/>
<polygon points="1077.7,676.9 1071.7,686.8 1083.8,686.8" fill="#3d5aa8"/>
<polygon points="1103,675.5 1097,685.4 1109.1,685.4" fill="#3d5aa8"/>
<polygon points="1122,667.3 1115.9,677.2 1128,677.2" fill="#3d5aa8"/>
<polygon points="1147.3,664.6 1141.2,674.5 1153.3,674.5" fill="#3d5aa8"/>
<polygon points="1172.5,656.4 1166.5,666.3 1178.6,666.3" fill="#3d5aa8"/>
<polygon points="1191.5,660.5 1185.5,670.4 1197.5,670.4" fill="#3d5aa8"/>
<polygon points="1210.5,648.2 1204.4,658.1 1216.5,658.1" fill="#3d5aa8"/>
<polygon points="1235.7,611.4 1229.7,621.3 1241.8,621.3" fill="#3d5aa8"/>
<polygon points="1254.7,611.4 1248.7,621.3 1260.8,621.3" fill="#3d5aa8"/>
<polygon points="1280,616.8 1273.9,626.7 1286,626.7" fill="#3d5aa8"/>
<polygon points="1298.9,604.6 1292.9,614.5 1305,614.5" fill="#3d5aa8"/>
<polygon points="1324.2,566.4 1318.2,576.3 1330.3,576.3" fill="#3d5aa8"/>
<polygon points="1343.2,537.7 1337.1,547.6 1349.2,547.6" fill="#3d5aa8"/>
<polyline points="1033.5,685.4 1058.8,688.1 1077.7,684 1103,682.6 1122,678.5 1147.3,674.4 1172.5,667.6 1191.5,671.7 1210.5,658.1 1235.7,639 1254.7,622.6 1280,637.6 1298.9,624 1324.2,568.1 1343.2,564" fill="none" stroke="#3d5aa8" stroke-width="2.8" stroke-linejoin="round"/>
<polygon points="1033.5,679.6 1027.5,689.5 1039.5,689.5" fill="#3d5aa8"/>
<polygon points="1058.8,682.3 1052.7,692.2 1064.8,692.2" fill="#3d5aa8"/>
<polygon points="1077.7,678.2 1071.7,688.1 1083.8,688.1" fill="#3d5aa8"/>
<polygon points="1103,676.9 1097,686.8 1109.1,686.8" fill="#3d5aa8"/>
<polygon points="1122,672.8 1115.9,682.7 1128,682.7" fill="#3d5aa8"/>
<polygon points="1147.3,668.7 1141.2,678.6 1153.3,678.6" fill="#3d5aa8"/>
<polygon points="1172.5,661.9 1166.5,671.8 1178.6,671.8" fill="#3d5aa8"/>
<polygon points="1191.5,665.9 1185.5,675.8 1197.5,675.8" fill="#3d5aa8"/>
<polygon points="1210.5,652.3 1204.4,662.2 1216.5,662.2" fill="#3d5aa8"/>
<polygon points="1235.7,633.2 1229.7,643.1 1241.8,643.1" fill="#3d5aa8"/>
<polygon points="1254.7,616.8 1248.7,626.7 1260.8,626.7" fill="#3d5aa8"/>
<polygon points="1280,631.8 1273.9,641.7 1286,641.7" fill="#3d5aa8"/>
<polygon points="1298.9,618.2 1292.9,628.1 1305,628.1" fill="#3d5aa8"/>
<polygon points="1324.2,562.3 1318.2,572.2 1330.3,572.2" fill="#3d5aa8"/>
<polygon points="1343.2,558.2 1337.1,568.1 1349.2,568.1" fill="#3d5aa8"/>
<polyline points="1033.5,690.8 1058.8,688.1 1077.7,685.4 1103,684 1122,679.9 1147.3,677.2 1172.5,671.7 1191.5,664.9 1210.5,662.2 1235.7,649.9 1254.7,633.5 1280,634.9 1298.9,629.4 1324.2,589.9 1343.2,600.8" fill="none" stroke="#3d5aa8" stroke-width="2.8" stroke-linejoin="round"/>
<polygon points="1033.5,685 1027.5,694.9 1039.5,694.9" fill="#3d5aa8"/>
<polygon points="1058.8,682.3 1052.7,692.2 1064.8,692.2" fill="#3d5aa8"/>
<polygon points="1077.7,679.6 1071.7,689.5 1083.8,689.5" fill="#3d5aa8"/>
<polygon points="1103,678.2 1097,688.1 1109.1,688.1" fill="#3d5aa8"/>
<polygon points="1122,674.1 1115.9,684 1128,684" fill="#3d5aa8"/>
<polygon points="1147.3,671.4 1141.2,681.3 1153.3,681.3" fill="#3d5aa8"/>
<polygon points="1172.5,665.9 1166.5,675.8 1178.6,675.8" fill="#3d5aa8"/>
<polygon points="1191.5,659.1 1185.5,669 1197.5,669" fill="#3d5aa8"/>
<polygon points="1210.5,656.4 1204.4,666.3 1216.5,666.3" fill="#3d5aa8"/>
<polygon points="1235.7,644.1 1229.7,654 1241.8,654" fill="#3d5aa8"/>
<polygon points="1254.7,627.8 1248.7,637.7 1260.8,637.7" fill="#3d5aa8"/>
<polygon points="1280,629.1 1273.9,639 1286,639" fill="#3d5aa8"/>
<polygon points="1298.9,623.7 1292.9,633.6 1305,633.6" fill="#3d5aa8"/>
<polygon points="1324.2,584.1 1318.2,594 1330.3,594" fill="#3d5aa8"/>
<polygon points="1343.2,595 1337.1,604.9 1349.2,604.9" fill="#3d5aa8"/>
<polyline points="1033.5,686.7 1058.8,685.4 1077.7,685.4 1103,685.4 1122,682.6 1147.3,678.5 1172.5,675.8 1191.5,674.4 1210.5,669 1235.7,660.8 1254.7,647.2 1280,647.2 1298.9,641.7 1324.2,639 1343.2,633.5" fill="none" stroke="#3d5aa8" stroke-width="2.8" stroke-linejoin="round"/>
<polygon points="1033.5,680.9 1027.5,690.8 1039.5,690.8" fill="#3d5aa8"/>
<polygon points="1058.8,679.6 1052.7,689.5 1064.8,689.5" fill="#3d5aa8"/>
<polygon points="1077.7,679.6 1071.7,689.5 1083.8,689.5" fill="#3d5aa8"/>
<polygon points="1103,679.6 1097,689.5 1109.1,689.5" fill="#3d5aa8"/>
<polygon points="1122,676.9 1115.9,686.8 1128,686.8" fill="#3d5aa8"/>
<polygon points="1147.3,672.8 1141.2,682.7 1153.3,682.7" fill="#3d5aa8"/>
<polygon points="1172.5,670 1166.5,679.9 1178.6,679.9" fill="#3d5aa8"/>
<polygon points="1191.5,668.7 1185.5,678.6 1197.5,678.6" fill="#3d5aa8"/>
<polygon points="1210.5,663.2 1204.4,673.1 1216.5,673.1" fill="#3d5aa8"/>
<polygon points="1235.7,655 1229.7,664.9 1241.8,664.9" fill="#3d5aa8"/>
<polygon points="1254.7,641.4 1248.7,651.3 1260.8,651.3" fill="#3d5aa8"/>
<polygon points="1280,641.4 1273.9,651.3 1286,651.3" fill="#3d5aa8"/>
<polygon points="1298.9,635.9 1292.9,645.8 1305,645.8" fill="#3d5aa8"/>
<polygon points="1324.2,633.2 1318.2,643.1 1330.3,643.1" fill="#3d5aa8"/>
<polygon points="1343.2,627.8 1337.1,637.7 1349.2,637.7" fill="#3d5aa8"/>
</g>
<g>
<text x="1673.4" y="449.5" font-size="20.6" font-weight="bold" stroke="#000" stroke-width="0.25" text-anchor="middle">HCC1954 - HER2 High</text>
<line x1="1515.9" y1="479" x2="1515.9" y2="699.8" stroke="#000" stroke-width="2.4" stroke-linecap="butt"/>
<line x1="1514.7" y1="698.6" x2="1832.4" y2="698.6" stroke="#000" stroke-width="2.4" stroke-linecap="butt"/>
<line x1="1507.2" y1="698.6" x2="1515.9" y2="698.6" stroke="#000" stroke-width="2.4" stroke-linecap="butt"/>
<text x="1504.7" y="705" font-size="16.3" font-weight="bold" stroke="#000" stroke-width="0.25" text-anchor="end">0</text>
<line x1="1507.2" y1="630.3" x2="1515.9" y2="630.3" stroke="#000" stroke-width="2.4" stroke-linecap="butt"/>
<text x="1504.7" y="636.6" font-size="16.3" font-weight="bold" stroke="#000" stroke-width="0.25" text-anchor="end">500</text>
<line x1="1507.2" y1="561.9" x2="1515.9" y2="561.9" stroke="#000" stroke-width="2.4" stroke-linecap="butt"/>
<text x="1504.7" y="568.3" font-size="16.3" font-weight="bold" stroke="#000" stroke-width="0.25" text-anchor="end">1000</text>
<line x1="1507.2" y1="493.6" x2="1515.9" y2="493.6" stroke="#000" stroke-width="2.4" stroke-linecap="butt"/>
<text x="1504.7" y="500" font-size="16.3" font-weight="bold" stroke="#000" stroke-width="0.25" text-anchor="end">1500</text>
<line x1="1515.9" y1="698.6" x2="1515.9" y2="707.3" stroke="#000" stroke-width="2.4" stroke-linecap="butt"/>
<text x="1515.9" y="723.8" font-size="16.3" font-weight="bold" stroke="#000" stroke-width="0.25" text-anchor="middle">0</text>
<line x1="1579" y1="698.6" x2="1579" y2="707.3" stroke="#000" stroke-width="2.4" stroke-linecap="butt"/>
<text x="1579" y="723.8" font-size="16.3" font-weight="bold" stroke="#000" stroke-width="0.25" text-anchor="middle">10</text>
<line x1="1642" y1="698.6" x2="1642" y2="707.3" stroke="#000" stroke-width="2.4" stroke-linecap="butt"/>
<text x="1642" y="723.8" font-size="16.3" font-weight="bold" stroke="#000" stroke-width="0.25" text-anchor="middle">20</text>
<line x1="1705.1" y1="698.6" x2="1705.1" y2="707.3" stroke="#000" stroke-width="2.4" stroke-linecap="butt"/>
<text x="1705.1" y="723.8" font-size="16.3" font-weight="bold" stroke="#000" stroke-width="0.25" text-anchor="middle">30</text>
<line x1="1768.1" y1="698.6" x2="1768.1" y2="707.3" stroke="#000" stroke-width="2.4" stroke-linecap="butt"/>
<text x="1768.1" y="723.8" font-size="16.3" font-weight="bold" stroke="#000" stroke-width="0.25" text-anchor="middle">40</text>
<line x1="1831.2" y1="698.6" x2="1831.2" y2="707.3" stroke="#000" stroke-width="2.4" stroke-linecap="butt"/>
<text x="1831.2" y="723.8" font-size="16.3" font-weight="bold" stroke="#000" stroke-width="0.25" text-anchor="middle">50</text>
<text x="1674.2" y="750.5" font-size="17.6" font-weight="bold" stroke="#000" stroke-width="0.25" text-anchor="middle">Day Post Treatment</text>
<text transform="translate(1452.2,589.4) rotate(-90)" font-size="17.6" font-weight="bold" stroke="#000" stroke-width="0.25" text-anchor="middle" y="6.4">Tumor Volume (mm<tspan dy="-7.4" font-size="13.8">3</tspan><tspan dy="7.4">)</tspan></text>
<line x1="1530.9" y1="484" x2="1556.9" y2="484" stroke="#902d8f" stroke-width="2.8" stroke-linecap="butt"/>
<polygon points="1543.9,477.7 1550.2,484 1543.9,490.3 1537.6,484" fill="#902d8f"/>
<text x="1568.5" y="490" font-size="16.6" text-anchor="start">Rituximab</text>
<polyline points="1515.9,683.6 1541.1,683.6 1560,675.4 1585.3,676.7 1604.2,672.6 1629.4,668.5 1654.6,650.8 1673.6,600.2 1692.5,593.4 1717.7,560.6 1736.6,582.4 1761.8,598.8 1780.8,553.7 1806,548.3 1824.9,488.1" fill="none" stroke="#902d8f" stroke-width="2.8" stroke-linejoin="round"/>
<polygon points="1515.9,677.2 1522.2,683.6 1515.9,689.9 1509.6,683.6" fill="#902d8f"/>
<polygon points="1541.1,677.2 1547.4,683.6 1541.1,689.9 1534.8,683.6" fill="#902d8f"/>
<polygon points="1560,669 1566.4,675.4 1560,681.7 1553.7,675.4" fill="#902d8f"/>
<polygon points="1585.3,670.4 1591.6,676.7 1585.3,683.1 1578.9,676.7" fill="#902d8f"/>
<polygon points="1604.2,666.3 1610.5,672.6 1604.2,679 1597.9,672.6" fill="#902d8f"/>
<polygon points="1629.4,662.2 1635.7,668.5 1629.4,674.9 1623.1,668.5" fill="#902d8f"/>
<polygon points="1654.6,644.4 1661,650.8 1654.6,657.1 1648.3,650.8" fill="#902d8f"/>
<polygon points="1673.6,593.9 1679.9,600.2 1673.6,606.5 1667.2,600.2" fill="#902d8f"/>
<polygon points="1692.5,587 1698.8,593.4 1692.5,599.7 1686.1,593.4" fill="#902d8f"/>
<polygon points="1717.7,554.2 1724,560.6 1717.7,566.9 1711.4,560.6" fill="#902d8f"/>
<polygon points="1736.6,576.1 1742.9,582.4 1736.6,588.8 1730.3,582.4" fill="#902d8f"/>
<polygon points="1761.8,592.5 1768.2,598.8 1761.8,605.2 1755.5,598.8" fill="#902d8f"/>
<polygon points="1780.8,547.4 1787.1,553.7 1780.8,560.1 1774.4,553.7" fill="#902d8f"/>
<polygon points="1806,541.9 1812.3,548.3 1806,554.6 1799.7,548.3" fill="#902d8f"/>
<polygon points="1824.9,481.8 1831.2,488.1 1824.9,494.5 1818.6,488.1" fill="#902d8f"/>
<polyline points="1515.9,684.9 1541.1,682.2 1560,678.1 1585.3,678.1 1604.2,674 1629.4,671.3 1654.6,657.6 1673.6,653.5 1692.5,650.8 1717.7,635.7 1736.6,597.5 1761.8,613.9 1780.8,602.9 1806,563.3 1824.9,510" fill="none" stroke="#902d8f" stroke-width="2.8" stroke-linejoin="round"/>
<polygon points="1515.9,678.6 1522.2,684.9 1515.9,691.3 1509.6,684.9" fill="#902d8f"/>
<polygon points="1541.1,675.9 1547.4,682.2 1541.1,688.5 1534.8,682.2" fill="#902d8f"/>
<polygon points="1560,671.8 1566.4,678.1 1560,684.4 1553.7,678.1" fill="#902d8f"/>
<polygon points="1585.3,671.8 1591.6,678.1 1585.3,684.4 1578.9,678.1" fill="#902d8f"/>
<polygon points="1604.2,667.7 1610.5,674 1604.2,680.3 1597.9,674" fill="#902d8f"/>
<polygon points="1629.4,664.9 1635.7,671.3 1629.4,677.6 1623.1,671.3" fill="#902d8f"/>
<polygon points="1654.6,651.3 1661,657.6 1654.6,663.9 1648.3,657.6" fill="#902d8f"/>
<polygon points="1673.6,647.2 1679.9,653.5 1673.6,659.8 1667.2,653.5" fill="#902d8f"/>
<polygon points="1692.5,644.4 1698.8,650.8 1692.5,657.1 1686.1,650.8" fill="#902d8f"/>
<polygon points="1717.7,629.4 1724,635.7 1717.7,642.1 1711.4,635.7" fill="#902d8f"/>
<polygon points="1736.6,591.1 1742.9,597.5 1736.6,603.8 1730.3,597.5" fill="#902d8f"/>
<polygon points="1761.8,607.5 1768.2,613.9 1761.8,620.2 1755.5,613.9" fill="#902d8f"/>
<polygon points="1780.8,596.6 1787.1,602.9 1780.8,609.3 1774.4,602.9" fill="#902d8f"/>
<polygon points="1806,557 1812.3,563.3 1806,569.6 1799.7,563.3" fill="#902d8f"/>
<polygon points="1824.9,503.7 1831.2,510 1824.9,516.3 1818.6,510" fill="#902d8f"/>
<polyline points="1515.9,686.3 1541.1,684.9 1560,682.2 1585.3,680.8 1604.2,678.1 1629.4,675.4 1654.6,660.3 1673.6,663.1 1692.5,652.1 1717.7,667.2 1736.6,608.4 1761.8,590.6 1780.8,593.4 1806,608.4 1824.9,620.7" fill="none" stroke="#902d8f" stroke-width="2.8" stroke-linejoin="round"/>
<polygon points="1515.9,680 1522.2,686.3 1515.9,692.6 1509.6,686.3" fill="#902d8f"/>
<polygon points="1541.1,678.6 1547.4,684.9 1541.1,691.3 1534.8,684.9" fill="#902d8f"/>
<polygon points="1560,675.9 1566.4,682.2 1560,688.5 1553.7,682.2" fill="#902d8f"/>
<polygon points="1585.3,674.5 1591.6,680.8 1585.3,687.2 1578.9,680.8" fill="#902d8f"/>
<polygon points="1604.2,671.8 1610.5,678.1 1604.2,684.4 1597.9,678.1" fill="#902d8f"/>
<polygon points="1629.4,669 1635.7,675.4 1629.4,681.7 1623.1,675.4" fill="#902d8f"/>
<polygon points="1654.6,654 1661,660.3 1654.6,666.7 1648.3,660.3" fill="#902d8f"/>
<polygon points="1673.6,656.7 1679.9,663.1 1673.6,669.4 1667.2,663.1" fill="#902d8f"/>
<polygon points="1692.5,645.8 1698.8,652.1 1692.5,658.5 1686.1,652.1" fill="#902d8f"/>
<polygon points="1717.7,660.8 1724,667.2 1717.7,673.5 1711.4,667.2" fill="#902d8f"/>
<polygon points="1736.6,602.1 1742.9,608.4 1736.6,614.7 1730.3,608.4" fill="#902d8f"/>
<polygon points="1761.8,584.3 1768.2,590.6 1761.8,597 1755.5,590.6" fill="#902d8f"/>
<polygon points="1780.8,587 1787.1,593.4 1780.8,599.7 1774.4,593.4" fill="#902d8f"/>
<polygon points="1806,602.1 1812.3,608.4 1806,614.7 1799.7,608.4" fill="#902d8f"/>
<polygon points="1824.9,614.4 1831.2,620.7 1824.9,627 1818.6,620.7" fill="#902d8f"/>
<polyline points="1515.9,687.7 1541.1,687.7 1560,684.9 1585.3,682.2 1604.2,680.8 1629.4,678.1 1654.6,675.4 1673.6,665.8 1692.5,657.6 1717.7,652.1 1736.6,631.6 1761.8,619.3 1780.8,592 1806,583.8 1824.9,592" fill="none" stroke="#902d8f" stroke-width="2.8" stroke-linejoin="round"/>
<polygon points="1515.9,681.3 1522.2,687.7 1515.9,694 1509.6,687.7" fill="#902d8f"/>
<polygon points="1541.1,681.3 1547.4,687.7 1541.1,694 1534.8,687.7" fill="#902d8f"/>
<polygon points="1560,678.6 1566.4,684.9 1560,691.3 1553.7,684.9" fill="#902d8f"/>
<polygon points="1585.3,675.9 1591.6,682.2 1585.3,688.5 1578.9,682.2" fill="#902d8f"/>
<polygon points="1604.2,674.5 1610.5,680.8 1604.2,687.2 1597.9,680.8" fill="#902d8f"/>
<polygon points="1629.4,671.8 1635.7,678.1 1629.4,684.4 1623.1,678.1" fill="#902d8f"/>
<polygon points="1654.6,669 1661,675.4 1654.6,681.7 1648.3,675.4" fill="#902d8f"/>
<polygon points="1673.6,659.5 1679.9,665.8 1673.6,672.1 1667.2,665.8" fill="#902d8f"/>
<polygon points="1692.5,651.3 1698.8,657.6 1692.5,663.9 1686.1,657.6" fill="#902d8f"/>
<polygon points="1717.7,645.8 1724,652.1 1717.7,658.5 1711.4,652.1" fill="#902d8f"/>
<polygon points="1736.6,625.3 1742.9,631.6 1736.6,638 1730.3,631.6" fill="#902d8f"/>
<polygon points="1761.8,613 1768.2,619.3 1761.8,625.7 1755.5,619.3" fill="#902d8f"/>
<polygon points="1780.8,585.7 1787.1,592 1780.8,598.3 1774.4,592" fill="#902d8f"/>
<polygon points="1806,577.5 1812.3,583.8 1806,590.1 1799.7,583.8" fill="#902d8f"/>
<polygon points="1824.9,585.7 1831.2,592 1824.9,598.3 1818.6,592" fill="#902d8f"/>
<polyline points="1515.9,689 1541.1,690.4 1560,689 1585.3,683.6 1604.2,682.2 1629.4,680.8 1654.6,676.7 1673.6,669.9 1692.5,661.7 1717.7,653.5 1736.6,646.7 1761.8,623.4 1780.8,649.4 1806,639.8 1824.9,611.1" fill="none" stroke="#902d8f" stroke-width="2.8" stroke-linejoin="round"/>
<polygon points="1515.9,682.7 1522.2,689 1515.9,695.4 1509.6,689" fill="#902d8f"/>
<polygon points="1541.1,684.1 1547.4,690.4 1541.1,696.7 1534.8,690.4" fill="#902d8f"/>
<polygon points="1560,682.7 1566.4,689 1560,695.4 1553.7,689" fill="#902d8f"/>
<polygon points="1585.3,677.2 1591.6,683.6 1585.3,689.9 1578.9,683.6" fill="#902d8f"/>
<polygon points="1604.2,675.9 1610.5,682.2 1604.2,688.5 1597.9,682.2" fill="#902d8f"/>
<polygon points="1629.4,674.5 1635.7,680.8 1629.4,687.2 1623.1,680.8" fill="#902d8f"/>
<polygon points="1654.6,670.4 1661,676.7 1654.6,683.1 1648.3,676.7" fill="#902d8f"/>
<polygon points="1673.6,663.6 1679.9,669.9 1673.6,676.2 1667.2,669.9" fill="#902d8f"/>
<polygon points="1692.5,655.4 1698.8,661.7 1692.5,668 1686.1,661.7" fill="#902d8f"/>
<polygon points="1717.7,647.2 1724,653.5 1717.7,659.8 1711.4,653.5" fill="#902d8f"/>
<polygon points="1736.6,640.3 1742.9,646.7 1736.6,653 1730.3,646.7" fill="#902d8f"/>
<polygon points="1761.8,617.1 1768.2,623.4 1761.8,629.8 1755.5,623.4" fill="#902d8f"/>
<polygon points="1780.8,643.1 1787.1,649.4 1780.8,655.7 1774.4,649.4" fill="#902d8f"/>
<polygon points="1806,633.5 1812.3,639.8 1806,646.2 1799.7,639.8" fill="#902d8f"/>
<polygon points="1824.9,604.8 1831.2,611.1 1824.9,617.5 1818.6,611.1" fill="#902d8f"/>
</g>
<g>
<text x="264" y="858.4" font-size="20.6" font-weight="bold" stroke="#000" stroke-width="0.25" text-anchor="middle">HCC1954 - HER2 High</text>
<line x1="106" y1="887.7" x2="106" y2="1108.7" stroke="#000" stroke-width="2.4" stroke-linecap="butt"/>
<line x1="104.8" y1="1107.5" x2="423.2" y2="1107.5" stroke="#000" stroke-width="2.4" stroke-linecap="butt"/>
<line x1="97.3" y1="1107.5" x2="106" y2="1107.5" stroke="#000" stroke-width="2.4" stroke-linecap="butt"/>
<text x="94.8" y="1113.9" font-size="16.3" font-weight="bold" stroke="#000" stroke-width="0.25" text-anchor="end">0</text>
<line x1="97.3" y1="1052.8" x2="106" y2="1052.8" stroke="#000" stroke-width="2.4" stroke-linecap="butt"/>
<text x="94.8" y="1059.2" font-size="16.3" font-weight="bold" stroke="#000" stroke-width="0.25" text-anchor="end">200</text>
<line x1="97.3" y1="998.2" x2="106" y2="998.2" stroke="#000" stroke-width="2.4" stroke-linecap="butt"/>
<text x="94.8" y="1004.6" font-size="16.3" font-weight="bold" stroke="#000" stroke-width="0.25" text-anchor="end">400</text>
<line x1="97.3" y1="943.5" x2="106" y2="943.5" stroke="#000" stroke-width="2.4" stroke-linecap="butt"/>
<text x="94.8" y="949.9" font-size="16.3" font-weight="bold" stroke="#000" stroke-width="0.25" text-anchor="end">600</text>
<line x1="97.3" y1="888.9" x2="106" y2="888.9" stroke="#000" stroke-width="2.4" stroke-linecap="butt"/>
<text x="94.8" y="895.3" font-size="16.3" font-weight="bold" stroke="#000" stroke-width="0.25" text-anchor="end">800</text>
<line x1="106" y1="1107.5" x2="106" y2="1116.2" stroke="#000" stroke-width="2.4" stroke-linecap="butt"/>
<text x="106" y="1132.7" font-size="16.3" font-weight="bold" stroke="#000" stroke-width="0.25" text-anchor="middle">0</text>
<line x1="169.2" y1="1107.5" x2="169.2" y2="1116.2" stroke="#000" stroke-width="2.4" stroke-linecap="butt"/>
<text x="169.2" y="1132.7" font-size="16.3" font-weight="bold" stroke="#000" stroke-width="0.25" text-anchor="middle">10</text>
<line x1="232.4" y1="1107.5" x2="232.4" y2="1116.2" stroke="#000" stroke-width="2.4" stroke-linecap="butt"/>
<text x="232.4" y="1132.7" font-size="16.3" font-weight="bold" stroke="#000" stroke-width="0.25" text-anchor="middle">20</text>
<line x1="295.6" y1="1107.5" x2="295.6" y2="1116.2" stroke="#000" stroke-width="2.4" stroke-linecap="butt"/>
<text x="295.6" y="1132.7" font-size="16.3" font-weight="bold" stroke="#000" stroke-width="0.25" text-anchor="middle">30</text>
<line x1="358.8" y1="1107.5" x2="358.8" y2="1116.2" stroke="#000" stroke-width="2.4" stroke-linecap="butt"/>
<text x="358.8" y="1132.7" font-size="16.3" font-weight="bold" stroke="#000" stroke-width="0.25" text-anchor="middle">40</text>
<line x1="422" y1="1107.5" x2="422" y2="1116.2" stroke="#000" stroke-width="2.4" stroke-linecap="butt"/>
<text x="422" y="1132.7" font-size="16.3" font-weight="bold" stroke="#000" stroke-width="0.25" text-anchor="middle">50</text>
<text x="264.5" y="1160.4" font-size="17.6" font-weight="bold" stroke="#000" stroke-width="0.25" text-anchor="middle">Day Post Treatment</text>
<text transform="translate(43.1,998.2) rotate(-90)" font-size="17.6" font-weight="bold" stroke="#000" stroke-width="0.25" text-anchor="middle" y="6.4">Tumor Volume (mm<tspan dy="-7.4" font-size="13.8">3</tspan><tspan dy="7.4">)</tspan></text>
<line x1="117.5" y1="894" x2="143.5" y2="894" stroke="#e8392d" stroke-width="2.8" stroke-linecap="butt"/>
<rect x="125" y="888.5" width="11" height="11" fill="#e8392d"/>
<text x="155.9" y="900.3" font-size="17.5" text-anchor="start">Trastuzumab T785-ISAC</text>
<polyline points="106,1074.7 131.3,1077.4 150.2,1076.1 175.5,1077.4 194.5,1069.2 219.8,1073.3 245,1072 264,1085.6 283,1081.5 308.2,1093.8 327.2,1093.8 352.5,1092.5 371.4,1091.1 396.7,1093.8 415.7,1093.8" fill="none" stroke="#e8392d" stroke-width="2.8" stroke-linejoin="round"/>
<rect x="100.5" y="1069.2" width="11" height="11" fill="#e8392d"/>
<rect x="125.8" y="1071.9" width="11" height="11" fill="#e8392d"/>
<rect x="144.7" y="1070.6" width="11" height="11" fill="#e8392d"/>
<rect x="170" y="1071.9" width="11" height="11" fill="#e8392d"/>
<rect x="189" y="1063.7" width="11" height="11" fill="#e8392d"/>
<rect x="214.3" y="1067.8" width="11" height="11" fill="#e8392d"/>
<rect x="239.5" y="1066.5" width="11" height="11" fill="#e8392d"/>
<rect x="258.5" y="1080.1" width="11" height="11" fill="#e8392d"/>
<rect x="277.5" y="1076" width="11" height="11" fill="#e8392d"/>
<rect x="302.7" y="1088.3" width="11" height="11" fill="#e8392d"/>
<rect x="321.7" y="1088.3" width="11" height="11" fill="#e8392d"/>
<rect x="347" y="1087" width="11" height="11" fill="#e8392d"/>
<rect x="365.9" y="1085.6" width="11" height="11" fill="#e8392d"/>
<rect x="391.2" y="1088.3" width="11" height="11" fill="#e8392d"/>
<rect x="410.2" y="1088.3" width="11" height="11" fill="#e8392d"/>
<polyline points="106,1078.8 131.3,1081.5 150.2,1077.4 175.5,1080.2 194.5,1077.4 219.8,1077.4 245,1077.4 264,1089.7 283,1085.6 308.2,1095.2 327.2,1095.2 352.5,1095.2 371.4,1092.5 396.7,1095.2 415.7,1095.2" fill="none" stroke="#e8392d" stroke-width="2.8" stroke-linejoin="round"/>
<rect x="100.5" y="1073.3" width="11" height="11" fill="#e8392d"/>
<rect x="125.8" y="1076" width="11" height="11" fill="#e8392d"/>
<rect x="144.7" y="1071.9" width="11" height="11" fill="#e8392d"/>
<rect x="170" y="1074.7" width="11" height="11" fill="#e8392d"/>
<rect x="189" y="1071.9" width="11" height="11" fill="#e8392d"/>
<rect x="214.3" y="1071.9" width="11" height="11" fill="#e8392d"/>
<rect x="239.5" y="1071.9" width="11" height="11" fill="#e8392d"/>
<rect x="258.5" y="1084.2" width="11" height="11" fill="#e8392d"/>
<rect x="277.5" y="1080.1" width="11" height="11" fill="#e8392d"/>
<rect x="302.7" y="1089.7" width="11" height="11" fill="#e8392d"/>
<rect x="321.7" y="1089.7" width="11" height="11" fill="#e8392d"/>
<rect x="347" y="1089.7" width="11" height="11" fill="#e8392d"/>
<rect x="365.9" y="1087" width="11" height="11" fill="#e8392d"/>
<rect x="391.2" y="1089.7" width="11" height="11" fill="#e8392d"/>
<rect x="410.2" y="1089.7" width="11" height="11" fill="#e8392d"/>
<polyline points="106,1081.5 131.3,1084.3 150.2,1077.4 175.5,1082.9 194.5,1081.5 219.8,1081.5 245,1080.2 264,1092.5 283,1091.1 308.2,1096.6 327.2,1096.6 352.5,1097.9 371.4,1096.6 396.7,1096.6 415.7,1097.9" fill="none" stroke="#e8392d" stroke-width="2.8" stroke-linejoin="round"/>
<rect x="100.5" y="1076" width="11" height="11" fill="#e8392d"/>
<rect x="125.8" y="1078.8" width="11" height="11" fill="#e8392d"/>
<rect x="144.7" y="1071.9" width="11" height="11" fill="#e8392d"/>
<rect x="170" y="1077.4" width="11" height="11" fill="#e8392d"/>
<rect x="189" y="1076" width="11" height="11" fill="#e8392d"/>
<rect x="214.3" y="1076" width="11" height="11" fill="#e8392d"/>
<rect x="239.5" y="1074.7" width="11" height="11" fill="#e8392d"/>
<rect x="258.5" y="1087" width="11" height="11" fill="#e8392d"/>
<rect x="277.5" y="1085.6" width="11" height="11" fill="#e8392d"/>
<rect x="302.7" y="1091.1" width="11" height="11" fill="#e8392d"/>
<rect x="321.7" y="1091.1" width="11" height="11" fill="#e8392d"/>
<rect x="347" y="1092.4" width="11" height="11" fill="#e8392d"/>
<rect x="365.9" y="1091.1" width="11" height="11" fill="#e8392d"/>
<rect x="391.2" y="1091.1" width="11" height="11" fill="#e8392d"/>
<rect x="410.2" y="1092.4" width="11" height="11" fill="#e8392d"/>
<polyline points="106,1084.3 131.3,1088.4 150.2,1078.8 175.5,1085.6 194.5,1082.9 219.8,1084.3 245,1081.5 264,1095.2 283,1093.8 308.2,1097.9 327.2,1097.9 352.5,1099.3 371.4,1099.3 396.7,1097.9 415.7,1100.7" fill="none" stroke="#e8392d" stroke-width="2.8" stroke-linejoin="round"/>
<rect x="100.5" y="1078.8" width="11" height="11" fill="#e8392d"/>
<rect x="125.8" y="1082.9" width="11" height="11" fill="#e8392d"/>
<rect x="144.7" y="1073.3" width="11" height="11" fill="#e8392d"/>
<rect x="170" y="1080.1" width="11" height="11" fill="#e8392d"/>
<rect x="189" y="1077.4" width="11" height="11" fill="#e8392d"/>
<rect x="214.3" y="1078.8" width="11" height="11" fill="#e8392d"/>
<rect x="239.5" y="1076" width="11" height="11" fill="#e8392d"/>
<rect x="258.5" y="1089.7" width="11" height="11" fill="#e8392d"/>
<rect x="277.5" y="1088.3" width="11" height="11" fill="#e8392d"/>
<rect x="302.7" y="1092.4" width="11" height="11" fill="#e8392d"/>
<rect x="321.7" y="1092.4" width="11" height="11" fill="#e8392d"/>
<rect x="347" y="1093.8" width="11" height="11" fill="#e8392d"/>
<rect x="365.9" y="1093.8" width="11" height="11" fill="#e8392d"/>
<rect x="391.2" y="1092.4" width="11" height="11" fill="#e8392d"/>
<rect x="410.2" y="1095.2" width="11" height="11" fill="#e8392d"/>
</g>
<g>
<text x="718.6" y="858.4" font-size="20.6" font-weight="bold" stroke="#000" stroke-width="0.25" text-anchor="middle">HCC1954 - HER2 High</text>
<line x1="560.5" y1="887.7" x2="560.5" y2="1108.7" stroke="#000" stroke-width="2.4" stroke-linecap="butt"/>
<line x1="559.3" y1="1107.5" x2="877.7" y2="1107.5" stroke="#000" stroke-width="2.4" stroke-linecap="butt"/>
<line x1="551.8" y1="1107.5" x2="560.5" y2="1107.5" stroke="#000" stroke-width="2.4" stroke-linecap="butt"/>
<text x="549.3" y="1113.9" font-size="16.3" font-weight="bold" stroke="#000" stroke-width="0.25" text-anchor="end">0</text>
<line x1="551.8" y1="1052.8" x2="560.5" y2="1052.8" stroke="#000" stroke-width="2.4" stroke-linecap="butt"/>
<text x="549.3" y="1059.2" font-size="16.3" font-weight="bold" stroke="#000" stroke-width="0.25" text-anchor="end">200</text>
<line x1="551.8" y1="998.2" x2="560.5" y2="998.2" stroke="#000" stroke-width="2.4" stroke-linecap="butt"/>
<text x="549.3" y="1004.6" font-size="16.3" font-weight="bold" stroke="#000" stroke-width="0.25" text-anchor="end">400</text>
<line x1="551.8" y1="943.5" x2="560.5" y2="943.5" stroke="#000" stroke-width="2.4" stroke-linecap="butt"/>
<text x="549.3" y="949.9" font-size="16.3" font-weight="bold" stroke="#000" stroke-width="0.25" text-anchor="end">600</text>
<line x1="551.8" y1="888.9" x2="560.5" y2="888.9" stroke="#000" stroke-width="2.4" stroke-linecap="butt"/>
<text x="549.3" y="895.3" font-size="16.3" font-weight="bold" stroke="#000" stroke-width="0.25" text-anchor="end">800</text>
<line x1="560.5" y1="1107.5" x2="560.5" y2="1116.2" stroke="#000" stroke-width="2.4" stroke-linecap="butt"/>
<text x="560.5" y="1132.7" font-size="16.3" font-weight="bold" stroke="#000" stroke-width="0.25" text-anchor="middle">0</text>
<line x1="623.7" y1="1107.5" x2="623.7" y2="1116.2" stroke="#000" stroke-width="2.4" stroke-linecap="butt"/>
<text x="623.7" y="1132.7" font-size="16.3" font-weight="bold" stroke="#000" stroke-width="0.25" text-anchor="middle">10</text>
<line x1="686.9" y1="1107.5" x2="686.9" y2="1116.2" stroke="#000" stroke-width="2.4" stroke-linecap="butt"/>
<text x="686.9" y="1132.7" font-size="16.3" font-weight="bold" stroke="#000" stroke-width="0.25" text-anchor="middle">20</text>
<line x1="750.1" y1="1107.5" x2="750.1" y2="1116.2" stroke="#000" stroke-width="2.4" stroke-linecap="butt"/>
<text x="750.1" y="1132.7" font-size="16.3" font-weight="bold" stroke="#000" stroke-width="0.25" text-anchor="middle">30</text>
<line x1="813.3" y1="1107.5" x2="813.3" y2="1116.2" stroke="#000" stroke-width="2.4" stroke-linecap="butt"/>
<text x="813.3" y="1132.7" font-size="16.3" font-weight="bold" stroke="#000" stroke-width="0.25" text-anchor="middle">40</text>
<line x1="876.5" y1="1107.5" x2="876.5" y2="1116.2" stroke="#000" stroke-width="2.4" stroke-linecap="butt"/>
<text x="876.5" y="1132.7" font-size="16.3" font-weight="bold" stroke="#000" stroke-width="0.25" text-anchor="middle">50</text>
<text x="719" y="1160.4" font-size="17.6" font-weight="bold" stroke="#000" stroke-width="0.25" text-anchor="middle">Day Post Treatment</text>
<text transform="translate(501.8,998.2) rotate(-90)" font-size="17.6" font-weight="bold" stroke="#000" stroke-width="0.25" text-anchor="middle" y="6.4">Tumor Volume (mm<tspan dy="-7.4" font-size="13.8">3</tspan><tspan dy="7.4">)</tspan></text>
<line x1="569.5" y1="894.7" x2="595.5" y2="894.7" stroke="#000000" stroke-width="2.8" stroke-linecap="butt"/>
<circle cx="582.5" cy="894.7" r="5.5" fill="#000000"/>
<text x="608.3" y="901" font-size="17.5" text-anchor="start">Trastuzumab</text>
<polyline points="560.5,1073.3 585.8,1078.8 604.7,1069.2 630,1065.1 649,1058.3 674.3,1039.2 699.5,1041.9 718.5,1041.9 737.5,1031 762.7,1014.6 781.7,998.2 807,981.8 825.9,976.3 851.2,959.9 870.2,923.1" fill="none" stroke="#000000" stroke-width="2.8" stroke-linejoin="round"/>
<circle cx="560.5" cy="1073.3" r="5.5" fill="#000000"/>
<circle cx="585.8" cy="1078.8" r="5.5" fill="#000000"/>
<circle cx="604.7" cy="1069.2" r="5.5" fill="#000000"/>
<circle cx="630" cy="1065.1" r="5.5" fill="#000000"/>
<circle cx="649" cy="1058.3" r="5.5" fill="#000000"/>
<circle cx="674.3" cy="1039.2" r="5.5" fill="#000000"/>
<circle cx="699.5" cy="1041.9" r="5.5" fill="#000000"/>
<circle cx="718.5" cy="1041.9" r="5.5" fill="#000000"/>
<circle cx="737.5" cy="1031" r="5.5" fill="#000000"/>
<circle cx="762.7" cy="1014.6" r="5.5" fill="#000000"/>
<circle cx="781.7" cy="998.2" r="5.5" fill="#000000"/>
<circle cx="807" cy="981.8" r="5.5" fill="#000000"/>
<circle cx="825.9" cy="976.3" r="5.5" fill="#000000"/>
<circle cx="851.2" cy="959.9" r="5.5" fill="#000000"/>
<circle cx="870.2" cy="923.1" r="5.5" fill="#000000"/>
<polyline points="560.5,1077.4 585.8,1081.5 604.7,1072 630,1069.2 649,1061 674.3,1055.6 699.5,1032.4 718.5,1044.7 737.5,1051.5 762.7,1017.3 781.7,1011.9 807,987.3 825.9,979.1 851.2,965.4 870.2,936.7" fill="none" stroke="#000000" stroke-width="2.8" stroke-linejoin="round"/>
<circle cx="560.5" cy="1077.4" r="5.5" fill="#000000"/>
<circle cx="585.8" cy="1081.5" r="5.5" fill="#000000"/>
<circle cx="604.7" cy="1072" r="5.5" fill="#000000"/>
<circle cx="630" cy="1069.2" r="5.5" fill="#000000"/>
<circle cx="649" cy="1061" r="5.5" fill="#000000"/>
<circle cx="674.3" cy="1055.6" r="5.5" fill="#000000"/>
<circle cx="699.5" cy="1032.4" r="5.5" fill="#000000"/>
<circle cx="718.5" cy="1044.7" r="5.5" fill="#000000"/>
<circle cx="737.5" cy="1051.5" r="5.5" fill="#000000"/>
<circle cx="762.7" cy="1017.3" r="5.5" fill="#000000"/>
<circle cx="781.7" cy="1011.9" r="5.5" fill="#000000"/>
<circle cx="807" cy="987.3" r="5.5" fill="#000000"/>
<circle cx="825.9" cy="979.1" r="5.5" fill="#000000"/>
<circle cx="851.2" cy="965.4" r="5.5" fill="#000000"/>
<circle cx="870.2" cy="936.7" r="5.5" fill="#000000"/>
<polyline points="560.5,1081.5 585.8,1084.3 604.7,1074.7 630,1073.3 649,1066.5 674.3,1061 699.5,1052.8 718.5,1052.8 737.5,1063.8 762.7,1039.2 781.7,1025.5 807,1009.1 825.9,980.4 851.2,970.9 870.2,970.9" fill="none" stroke="#000000" stroke-width="2.8" stroke-linejoin="round"/>
<circle cx="560.5" cy="1081.5" r="5.5" fill="#000000"/>
<circle cx="585.8" cy="1084.3" r="5.5" fill="#000000"/>
<circle cx="604.7" cy="1074.7" r="5.5" fill="#000000"/>
<circle cx="630" cy="1073.3" r="5.5" fill="#000000"/>
<circle cx="649" cy="1066.5" r="5.5" fill="#000000"/>
<circle cx="674.3" cy="1061" r="5.5" fill="#000000"/>
<circle cx="699.5" cy="1052.8" r="5.5" fill="#000000"/>
<circle cx="718.5" cy="1052.8" r="5.5" fill="#000000"/>
<circle cx="737.5" cy="1063.8" r="5.5" fill="#000000"/>
<circle cx="762.7" cy="1039.2" r="5.5" fill="#000000"/>
<circle cx="781.7" cy="1025.5" r="5.5" fill="#000000"/>
<circle cx="807" cy="1009.1" r="5.5" fill="#000000"/>
<circle cx="825.9" cy="980.4" r="5.5" fill="#000000"/>
<circle cx="851.2" cy="970.9" r="5.5" fill="#000000"/>
<circle cx="870.2" cy="970.9" r="5.5" fill="#000000"/>
<polyline points="560.5,1084.3 585.8,1088.4 604.7,1080.2 630,1077.4 649,1069.2 674.3,1072 699.5,1069.2 718.5,1058.3 737.5,1050.1 762.7,1047.4 781.7,1032.4 807,1021.4 825.9,983.2 851.2,991.4 870.2,983.2" fill="none" stroke="#000000" stroke-width="2.8" stroke-linejoin="round"/>
<circle cx="560.5" cy="1084.3" r="5.5" fill="#000000"/>
<circle cx="585.8" cy="1088.4" r="5.5" fill="#000000"/>
<circle cx="604.7" cy="1080.2" r="5.5" fill="#000000"/>
<circle cx="630" cy="1077.4" r="5.5" fill="#000000"/>
<circle cx="649" cy="1069.2" r="5.5" fill="#000000"/>
<circle cx="674.3" cy="1072" r="5.5" fill="#000000"/>
<circle cx="699.5" cy="1069.2" r="5.5" fill="#000000"/>
<circle cx="718.5" cy="1058.3" r="5.5" fill="#000000"/>
<circle cx="737.5" cy="1050.1" r="5.5" fill="#000000"/>
<circle cx="762.7" cy="1047.4" r="5.5" fill="#000000"/>
<circle cx="781.7" cy="1032.4" r="5.5" fill="#000000"/>
<circle cx="807" cy="1021.4" r="5.5" fill="#000000"/>
<circle cx="825.9" cy="983.2" r="5.5" fill="#000000"/>
<circle cx="851.2" cy="991.4" r="5.5" fill="#000000"/>
<circle cx="870.2" cy="983.2" r="5.5" fill="#000000"/>
<polyline points="560.5,1087 585.8,1092.5 604.7,1087 630,1087 649,1084.3 674.3,1082.9 699.5,1080.2 718.5,1081.5 737.5,1081.5 762.7,1077.4 781.7,1073.3 807,1076.1 825.9,1063.8 851.2,1054.2 870.2,1052.8" fill="none" stroke="#000000" stroke-width="2.8" stroke-linejoin="round"/>
<circle cx="560.5" cy="1087" r="5.5" fill="#000000"/>
<circle cx="585.8" cy="1092.5" r="5.5" fill="#000000"/>
<circle cx="604.7" cy="1087" r="5.5" fill="#000000"/>
<circle cx="630" cy="1087" r="5.5" fill="#000000"/>
<circle cx="649" cy="1084.3" r="5.5" fill="#000000"/>
<circle cx="674.3" cy="1082.9" r="5.5" fill="#000000"/>
<circle cx="699.5" cy="1080.2" r="5.5" fill="#000000"/>
<circle cx="718.5" cy="1081.5" r="5.5" fill="#000000"/>
<circle cx="737.5" cy="1081.5" r="5.5" fill="#000000"/>
<circle cx="762.7" cy="1077.4" r="5.5" fill="#000000"/>
<circle cx="781.7" cy="1073.3" r="5.5" fill="#000000"/>
<circle cx="807" cy="1076.1" r="5.5" fill="#000000"/>
<circle cx="825.9" cy="1063.8" r="5.5" fill="#000000"/>
<circle cx="851.2" cy="1054.2" r="5.5" fill="#000000"/>
<circle cx="870.2" cy="1052.8" r="5.5" fill="#000000"/>
</g>
<g>
<text x="1193" y="860.2" font-size="20.6" font-weight="bold" stroke="#000" stroke-width="0.25" text-anchor="middle">HCC1954 - HER2 High</text>
<line x1="1034.7" y1="889.8" x2="1034.7" y2="1111.1" stroke="#000" stroke-width="2.4" stroke-linecap="butt"/>
<line x1="1033.5" y1="1109.9" x2="1351.7" y2="1109.9" stroke="#000" stroke-width="2.4" stroke-linecap="butt"/>
<line x1="1026" y1="1109.9" x2="1034.7" y2="1109.9" stroke="#000" stroke-width="2.4" stroke-linecap="butt"/>
<text x="1023.5" y="1116.3" font-size="16.3" font-weight="bold" stroke="#000" stroke-width="0.25" text-anchor="end">0</text>
<line x1="1026" y1="1055.2" x2="1034.7" y2="1055.2" stroke="#000" stroke-width="2.4" stroke-linecap="butt"/>
<text x="1023.5" y="1061.5" font-size="16.3" font-weight="bold" stroke="#000" stroke-width="0.25" text-anchor="end">200</text>
<line x1="1026" y1="1000.5" x2="1034.7" y2="1000.5" stroke="#000" stroke-width="2.4" stroke-linecap="butt"/>
<text x="1023.5" y="1006.8" font-size="16.3" font-weight="bold" stroke="#000" stroke-width="0.25" text-anchor="end">400</text>
<line x1="1026" y1="945.7" x2="1034.7" y2="945.7" stroke="#000" stroke-width="2.4" stroke-linecap="butt"/>
<text x="1023.5" y="952.1" font-size="16.3" font-weight="bold" stroke="#000" stroke-width="0.25" text-anchor="end">600</text>
<line x1="1026" y1="891" x2="1034.7" y2="891" stroke="#000" stroke-width="2.4" stroke-linecap="butt"/>
<text x="1023.5" y="897.4" font-size="16.3" font-weight="bold" stroke="#000" stroke-width="0.25" text-anchor="end">800</text>
<line x1="1034.7" y1="1109.9" x2="1034.7" y2="1118.6" stroke="#000" stroke-width="2.4" stroke-linecap="butt"/>
<text x="1034.7" y="1135.1" font-size="16.3" font-weight="bold" stroke="#000" stroke-width="0.25" text-anchor="middle">0</text>
<line x1="1097.9" y1="1109.9" x2="1097.9" y2="1118.6" stroke="#000" stroke-width="2.4" stroke-linecap="butt"/>
<text x="1097.9" y="1135.1" font-size="16.3" font-weight="bold" stroke="#000" stroke-width="0.25" text-anchor="middle">10</text>
<line x1="1161.1" y1="1109.9" x2="1161.1" y2="1118.6" stroke="#000" stroke-width="2.4" stroke-linecap="butt"/>
<text x="1161.1" y="1135.1" font-size="16.3" font-weight="bold" stroke="#000" stroke-width="0.25" text-anchor="middle">20</text>
<line x1="1224.3" y1="1109.9" x2="1224.3" y2="1118.6" stroke="#000" stroke-width="2.4" stroke-linecap="butt"/>
<text x="1224.3" y="1135.1" font-size="16.3" font-weight="bold" stroke="#000" stroke-width="0.25" text-anchor="middle">30</text>
<line x1="1287.5" y1="1109.9" x2="1287.5" y2="1118.6" stroke="#000" stroke-width="2.4" stroke-linecap="butt"/>
<text x="1287.5" y="1135.1" font-size="16.3" font-weight="bold" stroke="#000" stroke-width="0.25" text-anchor="middle">40</text>
<line x1="1350.7" y1="1109.9" x2="1350.7" y2="1118.6" stroke="#000" stroke-width="2.4" stroke-linecap="butt"/>
<text x="1350.7" y="1135.1" font-size="16.3" font-weight="bold" stroke="#000" stroke-width="0.25" text-anchor="middle">50</text>
<text x="1193.5" y="1162.6" font-size="17.6" font-weight="bold" stroke="#000" stroke-width="0.25" text-anchor="middle">Day Post Treatment</text>
<text transform="translate(975.6,1000.5) rotate(-90)" font-size="17.6" font-weight="bold" stroke="#000" stroke-width="0.25" text-anchor="middle" y="6.4">Tumor Volume (mm<tspan dy="-7.4" font-size="13.8">3</tspan><tspan dy="7.4">)</tspan></text>
<line x1="1045.5" y1="898.6" x2="1071.5" y2="898.6" stroke="#3d5aa8" stroke-width="2.8" stroke-linecap="butt"/>
<polygon points="1058.5,892.8 1052.5,902.7 1064.5,902.7" fill="#3d5aa8"/>
<text x="1084.4" y="904.9" font-size="17.5" text-anchor="start">Trastuzumab-N297A-ISAC</text>
<polyline points="1034.7,1078.4 1060,1083.9 1078.9,1073 1104.2,1079.8 1123.2,1059.3 1148.5,1066.1 1173.7,1056.5 1192.7,1047 1211.7,1052.4 1236.9,1001.8 1255.9,962.1 1281.2,948.5 1300.1,900.6 1325.4,930.7 1344.4,921.1" fill="none" stroke="#3d5aa8" stroke-width="2.8" stroke-linejoin="round"/>
<polygon points="1034.7,1072.7 1028.7,1082.6 1040.8,1082.6" fill="#3d5aa8"/>
<polygon points="1060,1078.1 1053.9,1088 1066,1088" fill="#3d5aa8"/>
<polygon points="1078.9,1067.2 1072.9,1077.1 1085,1077.1" fill="#3d5aa8"/>
<polygon points="1104.2,1074 1098.2,1083.9 1110.3,1083.9" fill="#3d5aa8"/>
<polygon points="1123.2,1053.5 1117.1,1063.4 1129.2,1063.4" fill="#3d5aa8"/>
<polygon points="1148.5,1060.3 1142.4,1070.2 1154.5,1070.2" fill="#3d5aa8"/>
<polygon points="1173.7,1050.8 1167.7,1060.7 1179.8,1060.7" fill="#3d5aa8"/>
<polygon points="1192.7,1041.2 1186.7,1051.1 1198.8,1051.1" fill="#3d5aa8"/>
<polygon points="1211.7,1046.7 1205.6,1056.6 1217.7,1056.6" fill="#3d5aa8"/>
<polygon points="1236.9,996 1230.9,1005.9 1243,1005.9" fill="#3d5aa8"/>
<polygon points="1255.9,956.4 1249.9,966.3 1262,966.3" fill="#3d5aa8"/>
<polygon points="1281.2,942.7 1275.1,952.6 1287.2,952.6" fill="#3d5aa8"/>
<polygon points="1300.1,894.8 1294.1,904.7 1306.2,904.7" fill="#3d5aa8"/>
<polygon points="1325.4,924.9 1319.4,934.8 1331.5,934.8" fill="#3d5aa8"/>
<polygon points="1344.4,915.3 1338.3,925.2 1350.4,925.2" fill="#3d5aa8"/>
<polyline points="1034.7,1079.8 1060,1085.3 1078.9,1075.7 1104.2,1081.2 1123.2,1074.3 1148.5,1068.9 1173.7,1060.6 1192.7,1048.3 1211.7,1052.4 1236.9,1057.9 1255.9,1025.1 1281.2,1018.2 1300.1,1025.1 1325.4,981.3 1344.4,971.7" fill="none" stroke="#3d5aa8" stroke-width="2.8" stroke-linejoin="round"/>
<polygon points="1034.7,1074 1028.7,1083.9 1040.8,1083.9" fill="#3d5aa8"/>
<polygon points="1060,1079.5 1053.9,1089.4 1066,1089.4" fill="#3d5aa8"/>
<polygon points="1078.9,1069.9 1072.9,1079.8 1085,1079.8" fill="#3d5aa8"/>
<polygon points="1104.2,1075.4 1098.2,1085.3 1110.3,1085.3" fill="#3d5aa8"/>
<polygon points="1123.2,1068.6 1117.1,1078.5 1129.2,1078.5" fill="#3d5aa8"/>
<polygon points="1148.5,1063.1 1142.4,1073 1154.5,1073" fill="#3d5aa8"/>
<polygon points="1173.7,1054.9 1167.7,1064.8 1179.8,1064.8" fill="#3d5aa8"/>
<polygon points="1192.7,1042.6 1186.7,1052.5 1198.8,1052.5" fill="#3d5aa8"/>
<polygon points="1211.7,1046.7 1205.6,1056.6 1217.7,1056.6" fill="#3d5aa8"/>
<polygon points="1236.9,1052.1 1230.9,1062 1243,1062" fill="#3d5aa8"/>
<polygon points="1255.9,1019.3 1249.9,1029.2 1262,1029.2" fill="#3d5aa8"/>
<polygon points="1281.2,1012.5 1275.1,1022.4 1287.2,1022.4" fill="#3d5aa8"/>
<polygon points="1300.1,1019.3 1294.1,1029.2 1306.2,1029.2" fill="#3d5aa8"/>
<polygon points="1325.4,975.5 1319.4,985.4 1331.5,985.4" fill="#3d5aa8"/>
<polygon points="1344.4,965.9 1338.3,975.8 1350.4,975.8" fill="#3d5aa8"/>
<polyline points="1034.7,1082.5 1060,1083.9 1078.9,1077.1 1104.2,1081.2 1123.2,1074.3 1148.5,1068.9 1173.7,1060.6 1192.7,1077.1 1211.7,1071.6 1236.9,1064.8 1255.9,1051.1 1281.2,1052.4 1300.1,1047 1325.4,1019.6 1344.4,997.7" fill="none" stroke="#3d5aa8" stroke-width="2.8" stroke-linejoin="round"/>
<polygon points="1034.7,1076.8 1028.7,1086.7 1040.8,1086.7" fill="#3d5aa8"/>
<polygon points="1060,1078.1 1053.9,1088 1066,1088" fill="#3d5aa8"/>
<polygon points="1078.9,1071.3 1072.9,1081.2 1085,1081.2" fill="#3d5aa8"/>
<polygon points="1104.2,1075.4 1098.2,1085.3 1110.3,1085.3" fill="#3d5aa8"/>
<polygon points="1123.2,1068.6 1117.1,1078.5 1129.2,1078.5" fill="#3d5aa8"/>
<polygon points="1148.5,1063.1 1142.4,1073 1154.5,1073" fill="#3d5aa8"/>
<polygon points="1173.7,1054.9 1167.7,1064.8 1179.8,1064.8" fill="#3d5aa8"/>
<polygon points="1192.7,1071.3 1186.7,1081.2 1198.8,1081.2" fill="#3d5aa8"/>
<polygon points="1211.7,1065.8 1205.6,1075.7 1217.7,1075.7" fill="#3d5aa8"/>
<polygon points="1236.9,1059 1230.9,1068.9 1243,1068.9" fill="#3d5aa8"/>
<polygon points="1255.9,1045.3 1249.9,1055.2 1262,1055.2" fill="#3d5aa8"/>
<polygon points="1281.2,1046.7 1275.1,1056.6 1287.2,1056.6" fill="#3d5aa8"/>
<polygon points="1300.1,1041.2 1294.1,1051.1 1306.2,1051.1" fill="#3d5aa8"/>
<polygon points="1325.4,1013.8 1319.4,1023.7 1331.5,1023.7" fill="#3d5aa8"/>
<polygon points="1344.4,991.9 1338.3,1001.8 1350.4,1001.8" fill="#3d5aa8"/>
<polyline points="1034.7,1088 1060,1088 1078.9,1079.8 1104.2,1085.3 1123.2,1082.5 1148.5,1074.3 1173.7,1083.9 1192.7,1079.8 1211.7,1074.3 1236.9,1068.9 1255.9,1052.4 1281.2,1049.7 1300.1,1034.7 1325.4,1025.1 1344.4,1012.8" fill="none" stroke="#3d5aa8" stroke-width="2.8" stroke-linejoin="round"/>
<polygon points="1034.7,1082.2 1028.7,1092.1 1040.8,1092.1" fill="#3d5aa8"/>
<polygon points="1060,1082.2 1053.9,1092.1 1066,1092.1" fill="#3d5aa8"/>
<polygon points="1078.9,1074 1072.9,1083.9 1085,1083.9" fill="#3d5aa8"/>
<polygon points="1104.2,1079.5 1098.2,1089.4 1110.3,1089.4" fill="#3d5aa8"/>
<polygon points="1123.2,1076.8 1117.1,1086.7 1129.2,1086.7" fill="#3d5aa8"/>
<polygon points="1148.5,1068.6 1142.4,1078.5 1154.5,1078.5" fill="#3d5aa8"/>
<polygon points="1173.7,1078.1 1167.7,1088 1179.8,1088" fill="#3d5aa8"/>
<polygon points="1192.7,1074 1186.7,1083.9 1198.8,1083.9" fill="#3d5aa8"/>
<polygon points="1211.7,1068.6 1205.6,1078.5 1217.7,1078.5" fill="#3d5aa8"/>
<polygon points="1236.9,1063.1 1230.9,1073 1243,1073" fill="#3d5aa8"/>
<polygon points="1255.9,1046.7 1249.9,1056.6 1262,1056.6" fill="#3d5aa8"/>
<polygon points="1281.2,1043.9 1275.1,1053.8 1287.2,1053.8" fill="#3d5aa8"/>
<polygon points="1300.1,1028.9 1294.1,1038.8 1306.2,1038.8" fill="#3d5aa8"/>
<polygon points="1325.4,1019.3 1319.4,1029.2 1331.5,1029.2" fill="#3d5aa8"/>
<polygon points="1344.4,1007 1338.3,1016.9 1350.4,1016.9" fill="#3d5aa8"/>
<polyline points="1034.7,1092.1 1060,1093.5 1078.9,1086.6 1104.2,1088 1123.2,1093.5 1148.5,1086.6 1173.7,1083.9 1192.7,1083.9 1211.7,1081.2 1236.9,1077.1 1255.9,1071.6 1281.2,1055.2 1300.1,1051.1 1325.4,1031.9 1344.4,1023.7" fill="none" stroke="#3d5aa8" stroke-width="2.8" stroke-linejoin="round"/>
<polygon points="1034.7,1086.3 1028.7,1096.2 1040.8,1096.2" fill="#3d5aa8"/>
<polygon points="1060,1087.7 1053.9,1097.6 1066,1097.6" fill="#3d5aa8"/>
<polygon points="1078.9,1080.9 1072.9,1090.8 1085,1090.8" fill="#3d5aa8"/>
<polygon points="1104.2,1082.2 1098.2,1092.1 1110.3,1092.1" fill="#3d5aa8"/>
<polygon points="1123.2,1087.7 1117.1,1097.6 1129.2,1097.6" fill="#3d5aa8"/>
<polygon points="1148.5,1080.9 1142.4,1090.8 1154.5,1090.8" fill="#3d5aa8"/>
<polygon points="1173.7,1078.1 1167.7,1088 1179.8,1088" fill="#3d5aa8"/>
<polygon points="1192.7,1078.1 1186.7,1088 1198.8,1088" fill="#3d5aa8"/>
<polygon points="1211.7,1075.4 1205.6,1085.3 1217.7,1085.3" fill="#3d5aa8"/>
<polygon points="1236.9,1071.3 1230.9,1081.2 1243,1081.2" fill="#3d5aa8"/>
<polygon points="1255.9,1065.8 1249.9,1075.7 1262,1075.7" fill="#3d5aa8"/>
<polygon points="1281.2,1049.4 1275.1,1059.3 1287.2,1059.3" fill="#3d5aa8"/>
<polygon points="1300.1,1045.3 1294.1,1055.2 1306.2,1055.2" fill="#3d5aa8"/>
<polygon points="1325.4,1026.1 1319.4,1036 1331.5,1036" fill="#3d5aa8"/>
<polygon points="1344.4,1017.9 1338.3,1027.8 1350.4,1027.8" fill="#3d5aa8"/>
</g>
<g>
<text x="1675" y="860.8" font-size="20.6" font-weight="bold" stroke="#000" stroke-width="0.25" text-anchor="middle">HCC1954 - HER2 High</text>
<line x1="1517.3" y1="889.8" x2="1517.3" y2="1110.9" stroke="#000" stroke-width="2.4" stroke-linecap="butt"/>
<line x1="1516.1" y1="1109.7" x2="1833.1" y2="1109.7" stroke="#000" stroke-width="2.4" stroke-linecap="butt"/>
<line x1="1508.6" y1="1109.7" x2="1517.3" y2="1109.7" stroke="#000" stroke-width="2.4" stroke-linecap="butt"/>
<text x="1506.1" y="1116.1" font-size="16.3" font-weight="bold" stroke="#000" stroke-width="0.25" text-anchor="end">0</text>
<line x1="1508.6" y1="1055" x2="1517.3" y2="1055" stroke="#000" stroke-width="2.4" stroke-linecap="butt"/>
<text x="1506.1" y="1061.4" font-size="16.3" font-weight="bold" stroke="#000" stroke-width="0.25" text-anchor="end">200</text>
<line x1="1508.6" y1="1000.4" x2="1517.3" y2="1000.4" stroke="#000" stroke-width="2.4" stroke-linecap="butt"/>
<text x="1506.1" y="1006.7" font-size="16.3" font-weight="bold" stroke="#000" stroke-width="0.25" text-anchor="end">400</text>
<line x1="1508.6" y1="945.7" x2="1517.3" y2="945.7" stroke="#000" stroke-width="2.4" stroke-linecap="butt"/>
<text x="1506.1" y="952" font-size="16.3" font-weight="bold" stroke="#000" stroke-width="0.25" text-anchor="end">600</text>
<line x1="1508.6" y1="891" x2="1517.3" y2="891" stroke="#000" stroke-width="2.4" stroke-linecap="butt"/>
<text x="1506.1" y="897.4" font-size="16.3" font-weight="bold" stroke="#000" stroke-width="0.25" text-anchor="end">800</text>
<line x1="1517.3" y1="1109.7" x2="1517.3" y2="1118.4" stroke="#000" stroke-width="2.4" stroke-linecap="butt"/>
<text x="1517.3" y="1134.9" font-size="16.3" font-weight="bold" stroke="#000" stroke-width="0.25" text-anchor="middle">0</text>
<line x1="1580.2" y1="1109.7" x2="1580.2" y2="1118.4" stroke="#000" stroke-width="2.4" stroke-linecap="butt"/>
<text x="1580.2" y="1134.9" font-size="16.3" font-weight="bold" stroke="#000" stroke-width="0.25" text-anchor="middle">10</text>
<line x1="1643.1" y1="1109.7" x2="1643.1" y2="1118.4" stroke="#000" stroke-width="2.4" stroke-linecap="butt"/>
<text x="1643.1" y="1134.9" font-size="16.3" font-weight="bold" stroke="#000" stroke-width="0.25" text-anchor="middle">20</text>
<line x1="1706" y1="1109.7" x2="1706" y2="1118.4" stroke="#000" stroke-width="2.4" stroke-linecap="butt"/>
<text x="1706" y="1134.9" font-size="16.3" font-weight="bold" stroke="#000" stroke-width="0.25" text-anchor="middle">30</text>
<line x1="1768.9" y1="1109.7" x2="1768.9" y2="1118.4" stroke="#000" stroke-width="2.4" stroke-linecap="butt"/>
<text x="1768.9" y="1134.9" font-size="16.3" font-weight="bold" stroke="#000" stroke-width="0.25" text-anchor="middle">40</text>
<line x1="1831.8" y1="1109.7" x2="1831.8" y2="1118.4" stroke="#000" stroke-width="2.4" stroke-linecap="butt"/>
<text x="1831.8" y="1134.9" font-size="16.3" font-weight="bold" stroke="#000" stroke-width="0.25" text-anchor="middle">50</text>
<text x="1675.4" y="1162.5" font-size="17.6" font-weight="bold" stroke="#000" stroke-width="0.25" text-anchor="middle">Day Post Treatment</text>
<text transform="translate(1450.5,1000.4) rotate(-90)" font-size="17.6" font-weight="bold" stroke="#000" stroke-width="0.25" text-anchor="middle" y="6.4">Tumor Volume (mm<tspan dy="-7.4" font-size="13.8">3</tspan><tspan dy="7.4">)</tspan></text>
<line x1="1529.5" y1="897.1" x2="1555.5" y2="897.1" stroke="#902d8f" stroke-width="2.8" stroke-linecap="butt"/>
<polygon points="1542.5,890.8 1548.8,897.1 1542.5,903.4 1536.2,897.1" fill="#902d8f"/>
<text x="1568.1" y="903.4" font-size="17.5" text-anchor="start">Trastuzumab-TLRnull-ISAC</text>
<polyline points="1517.3,1075.5 1542.5,1075.5 1561.3,1068.7 1586.5,1066 1605.4,1060.5 1630.5,1050.9 1655.7,1025 1674.5,1023.6 1693.4,1034.5 1718.6,1005.8 1737.5,990.8 1762.6,994.9 1781.5,958 1806.6,968.9 1825.5,956.6" fill="none" stroke="#902d8f" stroke-width="2.8" stroke-linejoin="round"/>
<polygon points="1517.3,1069.2 1523.6,1075.5 1517.3,1081.9 1511,1075.5" fill="#902d8f"/>
<polygon points="1542.5,1069.2 1548.8,1075.5 1542.5,1081.9 1536.1,1075.5" fill="#902d8f"/>
<polygon points="1561.3,1062.4 1567.7,1068.7 1561.3,1075 1555,1068.7" fill="#902d8f"/>
<polygon points="1586.5,1059.6 1592.8,1066 1586.5,1072.3 1580.2,1066" fill="#902d8f"/>
<polygon points="1605.4,1054.2 1611.7,1060.5 1605.4,1066.8 1599,1060.5" fill="#902d8f"/>
<polygon points="1630.5,1044.6 1636.8,1050.9 1630.5,1057.2 1624.2,1050.9" fill="#902d8f"/>
<polygon points="1655.7,1018.6 1662,1025 1655.7,1031.3 1649.4,1025" fill="#902d8f"/>
<polygon points="1674.5,1017.3 1680.9,1023.6 1674.5,1029.9 1668.2,1023.6" fill="#902d8f"/>
<polygon points="1693.4,1028.2 1699.7,1034.5 1693.4,1040.8 1687.1,1034.5" fill="#902d8f"/>
<polygon points="1718.6,999.5 1724.9,1005.8 1718.6,1012.1 1712.3,1005.8" fill="#902d8f"/>
<polygon points="1737.5,984.5 1743.8,990.8 1737.5,997.1 1731.1,990.8" fill="#902d8f"/>
<polygon points="1762.6,988.6 1768.9,994.9 1762.6,1001.2 1756.3,994.9" fill="#902d8f"/>
<polygon points="1781.5,951.7 1787.8,958 1781.5,964.3 1775.2,958" fill="#902d8f"/>
<polygon points="1806.6,962.6 1813,968.9 1806.6,975.2 1800.3,968.9" fill="#902d8f"/>
<polygon points="1825.5,950.3 1831.8,956.6 1825.5,962.9 1819.2,956.6" fill="#902d8f"/>
<polyline points="1517.3,1079.6 1542.5,1079.6 1561.3,1071.4 1586.5,1041.4 1605.4,1063.2 1630.5,1059.1 1655.7,1059.1 1674.5,1042.7 1693.4,1014 1718.6,1050.9 1737.5,1022.2 1762.6,1016.8 1781.5,1015.4 1806.6,993.5 1825.5,970.3" fill="none" stroke="#902d8f" stroke-width="2.8" stroke-linejoin="round"/>
<polygon points="1517.3,1073.3 1523.6,1079.6 1517.3,1086 1511,1079.6" fill="#902d8f"/>
<polygon points="1542.5,1073.3 1548.8,1079.6 1542.5,1086 1536.1,1079.6" fill="#902d8f"/>
<polygon points="1561.3,1065.1 1567.7,1071.4 1561.3,1077.8 1555,1071.4" fill="#902d8f"/>
<polygon points="1586.5,1035 1592.8,1041.4 1586.5,1047.7 1580.2,1041.4" fill="#902d8f"/>
<polygon points="1605.4,1056.9 1611.7,1063.2 1605.4,1069.6 1599,1063.2" fill="#902d8f"/>
<polygon points="1630.5,1052.8 1636.8,1059.1 1630.5,1065.5 1624.2,1059.1" fill="#902d8f"/>
<polygon points="1655.7,1052.8 1662,1059.1 1655.7,1065.5 1649.4,1059.1" fill="#902d8f"/>
<polygon points="1674.5,1036.4 1680.9,1042.7 1674.5,1049 1668.2,1042.7" fill="#902d8f"/>
<polygon points="1693.4,1007.7 1699.7,1014 1693.4,1020.3 1687.1,1014" fill="#902d8f"/>
<polygon points="1718.6,1044.6 1724.9,1050.9 1718.6,1057.2 1712.3,1050.9" fill="#902d8f"/>
<polygon points="1737.5,1015.9 1743.8,1022.2 1737.5,1028.5 1731.1,1022.2" fill="#902d8f"/>
<polygon points="1762.6,1010.4 1768.9,1016.8 1762.6,1023.1 1756.3,1016.8" fill="#902d8f"/>
<polygon points="1781.5,1009.1 1787.8,1015.4 1781.5,1021.7 1775.2,1015.4" fill="#902d8f"/>
<polygon points="1806.6,987.2 1813,993.5 1806.6,999.8 1800.3,993.5" fill="#902d8f"/>
<polygon points="1825.5,964 1831.8,970.3 1825.5,976.6 1819.2,970.3" fill="#902d8f"/>
<polyline points="1517.3,1082.4 1542.5,1083.7 1561.3,1074.2 1586.5,1083.7 1605.4,1068.7 1630.5,1071.4 1655.7,1049.6 1674.5,1064.6 1693.4,1052.3 1718.6,1030.4 1737.5,1027.7 1762.6,1031.8 1781.5,1030.4 1806.6,1027.7 1825.5,979.8" fill="none" stroke="#902d8f" stroke-width="2.8" stroke-linejoin="round"/>
<polygon points="1517.3,1076 1523.6,1082.4 1517.3,1088.7 1511,1082.4" fill="#902d8f"/>
<polygon points="1542.5,1077.4 1548.8,1083.7 1542.5,1090.1 1536.1,1083.7" fill="#902d8f"/>
<polygon points="1561.3,1067.8 1567.7,1074.2 1561.3,1080.5 1555,1074.2" fill="#902d8f"/>
<polygon points="1586.5,1077.4 1592.8,1083.7 1586.5,1090.1 1580.2,1083.7" fill="#902d8f"/>
<polygon points="1605.4,1062.4 1611.7,1068.7 1605.4,1075 1599,1068.7" fill="#902d8f"/>
<polygon points="1630.5,1065.1 1636.8,1071.4 1630.5,1077.8 1624.2,1071.4" fill="#902d8f"/>
<polygon points="1655.7,1043.2 1662,1049.6 1655.7,1055.9 1649.4,1049.6" fill="#902d8f"/>
<polygon points="1674.5,1058.3 1680.9,1064.6 1674.5,1070.9 1668.2,1064.6" fill="#902d8f"/>
<polygon points="1693.4,1046 1699.7,1052.3 1693.4,1058.6 1687.1,1052.3" fill="#902d8f"/>
<polygon points="1718.6,1024.1 1724.9,1030.4 1718.6,1036.7 1712.3,1030.4" fill="#902d8f"/>
<polygon points="1737.5,1021.4 1743.8,1027.7 1737.5,1034 1731.1,1027.7" fill="#902d8f"/>
<polygon points="1762.6,1025.5 1768.9,1031.8 1762.6,1038.1 1756.3,1031.8" fill="#902d8f"/>
<polygon points="1781.5,1024.1 1787.8,1030.4 1781.5,1036.7 1775.2,1030.4" fill="#902d8f"/>
<polygon points="1806.6,1021.4 1813,1027.7 1806.6,1034 1800.3,1027.7" fill="#902d8f"/>
<polygon points="1825.5,973.5 1831.8,979.8 1825.5,986.2 1819.2,979.8" fill="#902d8f"/>
<polyline points="1517.3,1085.1 1542.5,1086.5 1561.3,1076.9 1586.5,1089.2 1605.4,1072.8 1630.5,1076.9 1655.7,1061.9 1674.5,1061.9 1693.4,1060.5 1718.6,1055 1737.5,1038.6 1762.6,1038.6 1781.5,1041.4 1806.6,1030.4 1825.5,982.6" fill="none" stroke="#902d8f" stroke-width="2.8" stroke-linejoin="round"/>
<polygon points="1517.3,1078.8 1523.6,1085.1 1517.3,1091.4 1511,1085.1" fill="#902d8f"/>
<polygon points="1542.5,1080.1 1548.8,1086.5 1542.5,1092.8 1536.1,1086.5" fill="#902d8f"/>
<polygon points="1561.3,1070.6 1567.7,1076.9 1561.3,1083.2 1555,1076.9" fill="#902d8f"/>
<polygon points="1586.5,1082.9 1592.8,1089.2 1586.5,1095.5 1580.2,1089.2" fill="#902d8f"/>
<polygon points="1605.4,1066.5 1611.7,1072.8 1605.4,1079.1 1599,1072.8" fill="#902d8f"/>
<polygon points="1630.5,1070.6 1636.8,1076.9 1630.5,1083.2 1624.2,1076.9" fill="#902d8f"/>
<polygon points="1655.7,1055.5 1662,1061.9 1655.7,1068.2 1649.4,1061.9" fill="#902d8f"/>
<polygon points="1674.5,1055.5 1680.9,1061.9 1674.5,1068.2 1668.2,1061.9" fill="#902d8f"/>
<polygon points="1693.4,1054.2 1699.7,1060.5 1693.4,1066.8 1687.1,1060.5" fill="#902d8f"/>
<polygon points="1718.6,1048.7 1724.9,1055 1718.6,1061.4 1712.3,1055" fill="#902d8f"/>
<polygon points="1737.5,1032.3 1743.8,1038.6 1737.5,1044.9 1731.1,1038.6" fill="#902d8f"/>
<polygon points="1762.6,1032.3 1768.9,1038.6 1762.6,1044.9 1756.3,1038.6" fill="#902d8f"/>
<polygon points="1781.5,1035 1787.8,1041.4 1781.5,1047.7 1775.2,1041.4" fill="#902d8f"/>
<polygon points="1806.6,1024.1 1813,1030.4 1806.6,1036.7 1800.3,1030.4" fill="#902d8f"/>
<polygon points="1825.5,976.3 1831.8,982.6 1825.5,988.9 1819.2,982.6" fill="#902d8f"/>
<polyline points="1517.3,1087.8 1542.5,1089.2 1561.3,1086.5 1586.5,1093.3 1605.4,1082.4 1630.5,1078.3 1655.7,1066 1674.5,1067.3 1693.4,1060.5 1718.6,1055 1737.5,1038.6 1762.6,1037.3 1781.5,1037.3 1806.6,1033.2 1825.5,1018.1" fill="none" stroke="#902d8f" stroke-width="2.8" stroke-linejoin="round"/>
<polygon points="1517.3,1081.5 1523.6,1087.8 1517.3,1094.2 1511,1087.8" fill="#902d8f"/>
<polygon points="1542.5,1082.9 1548.8,1089.2 1542.5,1095.5 1536.1,1089.2" fill="#902d8f"/>
<polygon points="1561.3,1080.1 1567.7,1086.5 1561.3,1092.8 1555,1086.5" fill="#902d8f"/>
<polygon points="1586.5,1087 1592.8,1093.3 1586.5,1099.6 1580.2,1093.3" fill="#902d8f"/>
<polygon points="1605.4,1076 1611.7,1082.4 1605.4,1088.7 1599,1082.4" fill="#902d8f"/>
<polygon points="1630.5,1071.9 1636.8,1078.3 1630.5,1084.6 1624.2,1078.3" fill="#902d8f"/>
<polygon points="1655.7,1059.6 1662,1066 1655.7,1072.3 1649.4,1066" fill="#902d8f"/>
<polygon points="1674.5,1061 1680.9,1067.3 1674.5,1073.7 1668.2,1067.3" fill="#902d8f"/>
<polygon points="1693.4,1054.2 1699.7,1060.5 1693.4,1066.8 1687.1,1060.5" fill="#902d8f"/>
<polygon points="1718.6,1048.7 1724.9,1055 1718.6,1061.4 1712.3,1055" fill="#902d8f"/>
<polygon points="1737.5,1032.3 1743.8,1038.6 1737.5,1044.9 1731.1,1038.6" fill="#902d8f"/>
<polygon points="1762.6,1030.9 1768.9,1037.3 1762.6,1043.6 1756.3,1037.3" fill="#902d8f"/>
<polygon points="1781.5,1030.9 1787.8,1037.3 1781.5,1043.6 1775.2,1037.3" fill="#902d8f"/>
<polygon points="1806.6,1026.8 1813,1033.2 1806.6,1039.5 1800.3,1033.2" fill="#902d8f"/>
<polygon points="1825.5,1011.8 1831.8,1018.1 1825.5,1024.4 1819.2,1018.1" fill="#902d8f"/>
</g>
<g>
<text x="270.9" y="1267.8" font-size="20.6" font-weight="bold" stroke="#000" stroke-width="0.25" text-anchor="middle">HCC1954 - HER2 High</text>
<line x1="107.1" y1="1300.7" x2="107.1" y2="1520.9" stroke="#000" stroke-width="2.2" stroke-linecap="butt"/>
<line x1="106" y1="1519.8" x2="435.1" y2="1519.8" stroke="#000" stroke-width="2.2" stroke-linecap="butt"/>
<line x1="99.5" y1="1519.8" x2="107.1" y2="1519.8" stroke="#000" stroke-width="2.2" stroke-linecap="butt"/>
<text x="97" y="1526" font-size="16" font-weight="bold" stroke="#000" stroke-width="0.25" text-anchor="end">0</text>
<line x1="99.5" y1="1476.2" x2="107.1" y2="1476.2" stroke="#000" stroke-width="2.2" stroke-linecap="butt"/>
<text x="97" y="1482.4" font-size="16" font-weight="bold" stroke="#000" stroke-width="0.25" text-anchor="end">200</text>
<line x1="99.5" y1="1432.6" x2="107.1" y2="1432.6" stroke="#000" stroke-width="2.2" stroke-linecap="butt"/>
<text x="97" y="1438.8" font-size="16" font-weight="bold" stroke="#000" stroke-width="0.25" text-anchor="end">400</text>
<line x1="99.5" y1="1389" x2="107.1" y2="1389" stroke="#000" stroke-width="2.2" stroke-linecap="butt"/>
<text x="97" y="1395.2" font-size="16" font-weight="bold" stroke="#000" stroke-width="0.25" text-anchor="end">600</text>
<line x1="99.5" y1="1345.4" x2="107.1" y2="1345.4" stroke="#000" stroke-width="2.2" stroke-linecap="butt"/>
<text x="97" y="1351.6" font-size="16" font-weight="bold" stroke="#000" stroke-width="0.25" text-anchor="end">800</text>
<line x1="99.5" y1="1301.8" x2="107.1" y2="1301.8" stroke="#000" stroke-width="2.2" stroke-linecap="butt"/>
<text x="97" y="1308" font-size="16" font-weight="bold" stroke="#000" stroke-width="0.25" text-anchor="end">1000</text>
<line x1="107.1" y1="1519.8" x2="107.1" y2="1527.4" stroke="#000" stroke-width="2.2" stroke-linecap="butt"/>
<text x="107.1" y="1542.6" font-size="16" font-weight="bold" stroke="#000" stroke-width="0.25" text-anchor="middle">0</text>
<line x1="183.1" y1="1519.8" x2="183.1" y2="1527.4" stroke="#000" stroke-width="2.2" stroke-linecap="butt"/>
<text x="183.1" y="1542.6" font-size="16" font-weight="bold" stroke="#000" stroke-width="0.25" text-anchor="middle">10</text>
<line x1="259.1" y1="1519.8" x2="259.1" y2="1527.4" stroke="#000" stroke-width="2.2" stroke-linecap="butt"/>
<text x="259.1" y="1542.6" font-size="16" font-weight="bold" stroke="#000" stroke-width="0.25" text-anchor="middle">20</text>
<line x1="335.1" y1="1519.8" x2="335.1" y2="1527.4" stroke="#000" stroke-width="2.2" stroke-linecap="butt"/>
<text x="335.1" y="1542.6" font-size="16" font-weight="bold" stroke="#000" stroke-width="0.25" text-anchor="middle">30</text>
<line x1="411.1" y1="1519.8" x2="411.1" y2="1527.4" stroke="#000" stroke-width="2.2" stroke-linecap="butt"/>
<text x="411.1" y="1542.6" font-size="16" font-weight="bold" stroke="#000" stroke-width="0.25" text-anchor="middle">40</text>
<text x="266.3" y="1567.4" font-size="18.4" font-weight="bold" stroke="#000" stroke-width="0.25" text-anchor="middle">Day Post Treatment</text>
<text transform="translate(40.1,1410.8) rotate(-90)" font-size="18.4" font-weight="bold" stroke="#000" stroke-width="0.25" text-anchor="middle" y="6.6">Tumor Volume (mm<tspan dy="-7.7" font-size="14.3">3</tspan><tspan dy="7.7">)</tspan></text>
<line x1="119.8" y1="1302.6" x2="139.8" y2="1302.6" stroke="#e8392d" stroke-width="1.9" stroke-linecap="butt"/>
<rect x="125.3" y="1298.1" width="9" height="9" fill="#e8392d"/>
<text x="147.4" y="1308.6" font-size="16.6" text-anchor="start">Trastuzumab T785-ISAC</text>
<polyline points="107.1,1498 129.9,1494.7 160.3,1500.2 183.1,1503.5 213.5,1505.6 236.3,1502.4 266.7,1507.8 297.1,1505.6 319.9,1508.9 342.7,1512.2 365.5,1519.8 388.3,1519.8 418.7,1519.8" fill="none" stroke="#e8392d" stroke-width="1.9" stroke-linejoin="round"/>
<rect x="102.6" y="1493.5" width="9" height="9" fill="#e8392d"/>
<rect x="125.4" y="1490.2" width="9" height="9" fill="#e8392d"/>
<rect x="155.8" y="1495.7" width="9" height="9" fill="#e8392d"/>
<rect x="178.6" y="1499" width="9" height="9" fill="#e8392d"/>
<rect x="209" y="1501.1" width="9" height="9" fill="#e8392d"/>
<rect x="231.8" y="1497.9" width="9" height="9" fill="#e8392d"/>
<rect x="262.2" y="1503.3" width="9" height="9" fill="#e8392d"/>
<rect x="292.6" y="1501.1" width="9" height="9" fill="#e8392d"/>
<rect x="315.4" y="1504.4" width="9" height="9" fill="#e8392d"/>
<rect x="338.2" y="1507.7" width="9" height="9" fill="#e8392d"/>
<rect x="361" y="1515.3" width="9" height="9" fill="#e8392d"/>
<rect x="383.8" y="1515.3" width="9" height="9" fill="#e8392d"/>
<rect x="414.2" y="1515.3" width="9" height="9" fill="#e8392d"/>
<polyline points="107.1,1500.2 129.9,1496.9 160.3,1502.4 183.1,1504.5 213.5,1506.7 236.3,1504.5 266.7,1519.8 297.1,1519.8 319.9,1519.8 342.7,1519.8 365.5,1519.8 388.3,1519.8 418.7,1519.8" fill="none" stroke="#e8392d" stroke-width="1.9" stroke-linejoin="round"/>
<rect x="102.6" y="1495.7" width="9" height="9" fill="#e8392d"/>
<rect x="125.4" y="1492.4" width="9" height="9" fill="#e8392d"/>
<rect x="155.8" y="1497.9" width="9" height="9" fill="#e8392d"/>
<rect x="178.6" y="1500" width="9" height="9" fill="#e8392d"/>
<rect x="209" y="1502.2" width="9" height="9" fill="#e8392d"/>
<rect x="231.8" y="1500" width="9" height="9" fill="#e8392d"/>
<rect x="262.2" y="1515.3" width="9" height="9" fill="#e8392d"/>
<rect x="292.6" y="1515.3" width="9" height="9" fill="#e8392d"/>
<rect x="315.4" y="1515.3" width="9" height="9" fill="#e8392d"/>
<rect x="338.2" y="1515.3" width="9" height="9" fill="#e8392d"/>
<rect x="361" y="1515.3" width="9" height="9" fill="#e8392d"/>
<rect x="383.8" y="1515.3" width="9" height="9" fill="#e8392d"/>
<rect x="414.2" y="1515.3" width="9" height="9" fill="#e8392d"/>
<polyline points="107.1,1503.5 129.9,1501.3 160.3,1503.5 183.1,1506.7 213.5,1507.8 236.3,1511.1 266.7,1519.8 297.1,1519.8 319.9,1519.8 342.7,1519.8 365.5,1519.8 388.3,1519.8 418.7,1519.8" fill="none" stroke="#e8392d" stroke-width="1.9" stroke-linejoin="round"/>
<rect x="102.6" y="1499" width="9" height="9" fill="#e8392d"/>
<rect x="125.4" y="1496.8" width="9" height="9" fill="#e8392d"/>
<rect x="155.8" y="1499" width="9" height="9" fill="#e8392d"/>
<rect x="178.6" y="1502.2" width="9" height="9" fill="#e8392d"/>
<rect x="209" y="1503.3" width="9" height="9" fill="#e8392d"/>
<rect x="231.8" y="1506.6" width="9" height="9" fill="#e8392d"/>
<rect x="262.2" y="1515.3" width="9" height="9" fill="#e8392d"/>
<rect x="292.6" y="1515.3" width="9" height="9" fill="#e8392d"/>
<rect x="315.4" y="1515.3" width="9" height="9" fill="#e8392d"/>
<rect x="338.2" y="1515.3" width="9" height="9" fill="#e8392d"/>
<rect x="361" y="1515.3" width="9" height="9" fill="#e8392d"/>
<rect x="383.8" y="1515.3" width="9" height="9" fill="#e8392d"/>
<rect x="414.2" y="1515.3" width="9" height="9" fill="#e8392d"/>
<polyline points="107.1,1505.6 129.9,1502.4 160.3,1504.5 183.1,1507.8 213.5,1510 236.3,1519.8 266.7,1519.8 297.1,1519.8 319.9,1519.8 342.7,1515.4 365.5,1519.8 388.3,1519.8 418.7,1519.8" fill="none" stroke="#e8392d" stroke-width="1.9" stroke-linejoin="round"/>
<rect x="102.6" y="1501.1" width="9" height="9" fill="#e8392d"/>
<rect x="125.4" y="1497.9" width="9" height="9" fill="#e8392d"/>
<rect x="155.8" y="1500" width="9" height="9" fill="#e8392d"/>
<rect x="178.6" y="1503.3" width="9" height="9" fill="#e8392d"/>
<rect x="209" y="1505.5" width="9" height="9" fill="#e8392d"/>
<rect x="231.8" y="1515.3" width="9" height="9" fill="#e8392d"/>
<rect x="262.2" y="1515.3" width="9" height="9" fill="#e8392d"/>
<rect x="292.6" y="1515.3" width="9" height="9" fill="#e8392d"/>
<rect x="315.4" y="1515.3" width="9" height="9" fill="#e8392d"/>
<rect x="338.2" y="1510.9" width="9" height="9" fill="#e8392d"/>
<rect x="361" y="1515.3" width="9" height="9" fill="#e8392d"/>
<rect x="383.8" y="1515.3" width="9" height="9" fill="#e8392d"/>
<rect x="414.2" y="1515.3" width="9" height="9" fill="#e8392d"/>
</g>
<g>
<text x="725" y="1267.8" font-size="20.6" font-weight="bold" stroke="#000" stroke-width="0.25" text-anchor="middle">HCC1954 - HER2 High</text>
<line x1="561.4" y1="1300.7" x2="561.4" y2="1520.9" stroke="#000" stroke-width="2.2" stroke-linecap="butt"/>
<line x1="560.3" y1="1519.8" x2="889.4" y2="1519.8" stroke="#000" stroke-width="2.2" stroke-linecap="butt"/>
<line x1="553.8" y1="1519.8" x2="561.4" y2="1519.8" stroke="#000" stroke-width="2.2" stroke-linecap="butt"/>
<text x="551.3" y="1526" font-size="16" font-weight="bold" stroke="#000" stroke-width="0.25" text-anchor="end">0</text>
<line x1="553.8" y1="1476.2" x2="561.4" y2="1476.2" stroke="#000" stroke-width="2.2" stroke-linecap="butt"/>
<text x="551.3" y="1482.4" font-size="16" font-weight="bold" stroke="#000" stroke-width="0.25" text-anchor="end">200</text>
<line x1="553.8" y1="1432.6" x2="561.4" y2="1432.6" stroke="#000" stroke-width="2.2" stroke-linecap="butt"/>
<text x="551.3" y="1438.8" font-size="16" font-weight="bold" stroke="#000" stroke-width="0.25" text-anchor="end">400</text>
<line x1="553.8" y1="1389" x2="561.4" y2="1389" stroke="#000" stroke-width="2.2" stroke-linecap="butt"/>
<text x="551.3" y="1395.2" font-size="16" font-weight="bold" stroke="#000" stroke-width="0.25" text-anchor="end">600</text>
<line x1="553.8" y1="1345.4" x2="561.4" y2="1345.4" stroke="#000" stroke-width="2.2" stroke-linecap="butt"/>
<text x="551.3" y="1351.6" font-size="16" font-weight="bold" stroke="#000" stroke-width="0.25" text-anchor="end">800</text>
<line x1="553.8" y1="1301.8" x2="561.4" y2="1301.8" stroke="#000" stroke-width="2.2" stroke-linecap="butt"/>
<text x="551.3" y="1308" font-size="16" font-weight="bold" stroke="#000" stroke-width="0.25" text-anchor="end">1000</text>
<line x1="561.4" y1="1519.8" x2="561.4" y2="1527.4" stroke="#000" stroke-width="2.2" stroke-linecap="butt"/>
<text x="561.4" y="1542.6" font-size="16" font-weight="bold" stroke="#000" stroke-width="0.25" text-anchor="middle">0</text>
<line x1="637.7" y1="1519.8" x2="637.7" y2="1527.4" stroke="#000" stroke-width="2.2" stroke-linecap="butt"/>
<text x="637.7" y="1542.6" font-size="16" font-weight="bold" stroke="#000" stroke-width="0.25" text-anchor="middle">10</text>
<line x1="714" y1="1519.8" x2="714" y2="1527.4" stroke="#000" stroke-width="2.2" stroke-linecap="butt"/>
<text x="714" y="1542.6" font-size="16" font-weight="bold" stroke="#000" stroke-width="0.25" text-anchor="middle">20</text>
<line x1="790.3" y1="1519.8" x2="790.3" y2="1527.4" stroke="#000" stroke-width="2.2" stroke-linecap="butt"/>
<text x="790.3" y="1542.6" font-size="16" font-weight="bold" stroke="#000" stroke-width="0.25" text-anchor="middle">30</text>
<line x1="866.6" y1="1519.8" x2="866.6" y2="1527.4" stroke="#000" stroke-width="2.2" stroke-linecap="butt"/>
<text x="866.6" y="1542.6" font-size="16" font-weight="bold" stroke="#000" stroke-width="0.25" text-anchor="middle">40</text>
<text x="722.3" y="1567.4" font-size="18.4" font-weight="bold" stroke="#000" stroke-width="0.25" text-anchor="middle">Day Post Treatment</text>
<text transform="translate(499.5,1410.8) rotate(-90)" font-size="18.4" font-weight="bold" stroke="#000" stroke-width="0.25" text-anchor="middle" y="6.6">Tumor Volume (mm<tspan dy="-7.7" font-size="14.3">3</tspan><tspan dy="7.7">)</tspan></text>
<line x1="567.3" y1="1301" x2="587.3" y2="1301" stroke="#3aab4f" stroke-width="1.9" stroke-linecap="butt"/>
<polygon points="577.3,1305.7 572.3,1297.6 582.2,1297.6" fill="#3aab4f"/>
<text x="594.7" y="1307" font-size="16.6" text-anchor="start">Trastuzumab T785-ISAC</text>
<text x="594.7" y="1328.3" font-size="16.6" text-anchor="start">+ Clodronate</text>
<polyline points="561.4,1500.2 584.3,1495.8 614.8,1496.9 637.7,1482.7 668.2,1486 691.1,1482.7 721.6,1470.8 752.1,1446.8 775,1427.1 797.9,1413 820.8,1429.3 843.7,1377 874.2,1368.3" fill="none" stroke="#3aab4f" stroke-width="1.9" stroke-linejoin="round"/>
<polygon points="561.4,1504.9 556.4,1496.8 566.4,1496.8" fill="#3aab4f"/>
<polygon points="584.3,1500.5 579.3,1492.4 589.2,1492.4" fill="#3aab4f"/>
<polygon points="614.8,1501.6 609.9,1493.5 619.8,1493.5" fill="#3aab4f"/>
<polygon points="637.7,1487.5 632.7,1479.4 642.6,1479.4" fill="#3aab4f"/>
<polygon points="668.2,1490.7 663.3,1482.6 673.2,1482.6" fill="#3aab4f"/>
<polygon points="691.1,1487.5 686.2,1479.4 696.1,1479.4" fill="#3aab4f"/>
<polygon points="721.6,1475.5 716.7,1467.4 726.6,1467.4" fill="#3aab4f"/>
<polygon points="752.1,1451.5 747.2,1443.4 757.1,1443.4" fill="#3aab4f"/>
<polygon points="775,1431.9 770.1,1423.8 780,1423.8" fill="#3aab4f"/>
<polygon points="797.9,1417.7 793,1409.6 802.9,1409.6" fill="#3aab4f"/>
<polygon points="820.8,1434.1 815.9,1426 825.8,1426" fill="#3aab4f"/>
<polygon points="843.7,1381.7 838.8,1373.6 848.7,1373.6" fill="#3aab4f"/>
<polygon points="874.2,1373 869.3,1364.9 879.2,1364.9" fill="#3aab4f"/>
<polyline points="561.4,1501.3 584.3,1498 614.8,1498 637.7,1491.5 668.2,1487.1 691.1,1487.1 721.6,1495.8 752.1,1491.5 775,1482.7 797.9,1480.6 820.8,1452.2 843.7,1445.7 874.2,1427.1" fill="none" stroke="#3aab4f" stroke-width="1.9" stroke-linejoin="round"/>
<polygon points="561.4,1506 556.4,1497.9 566.4,1497.9" fill="#3aab4f"/>
<polygon points="584.3,1502.7 579.3,1494.6 589.2,1494.6" fill="#3aab4f"/>
<polygon points="614.8,1502.7 609.9,1494.6 619.8,1494.6" fill="#3aab4f"/>
<polygon points="637.7,1496.2 632.7,1488.1 642.6,1488.1" fill="#3aab4f"/>
<polygon points="668.2,1491.8 663.3,1483.7 673.2,1483.7" fill="#3aab4f"/>
<polygon points="691.1,1491.8 686.2,1483.7 696.1,1483.7" fill="#3aab4f"/>
<polygon points="721.6,1500.5 716.7,1492.4 726.6,1492.4" fill="#3aab4f"/>
<polygon points="752.1,1496.2 747.2,1488.1 757.1,1488.1" fill="#3aab4f"/>
<polygon points="775,1487.5 770.1,1479.4 780,1479.4" fill="#3aab4f"/>
<polygon points="797.9,1485.3 793,1477.2 802.9,1477.2" fill="#3aab4f"/>
<polygon points="820.8,1456.9 815.9,1448.8 825.8,1448.8" fill="#3aab4f"/>
<polygon points="843.7,1450.4 838.8,1442.3 848.7,1442.3" fill="#3aab4f"/>
<polygon points="874.2,1431.9 869.3,1423.8 879.2,1423.8" fill="#3aab4f"/>
<polyline points="561.4,1502.4 584.3,1500.2 614.8,1499.1 637.7,1493.6 668.2,1489.3 691.1,1495.8 721.6,1498 752.1,1493.6 775,1489.3 797.9,1480.6 820.8,1479.5 843.7,1460.9 874.2,1440.2" fill="none" stroke="#3aab4f" stroke-width="1.9" stroke-linejoin="round"/>
<polygon points="561.4,1507.1 556.4,1499 566.4,1499" fill="#3aab4f"/>
<polygon points="584.3,1504.9 579.3,1496.8 589.2,1496.8" fill="#3aab4f"/>
<polygon points="614.8,1503.8 609.9,1495.7 619.8,1495.7" fill="#3aab4f"/>
<polygon points="637.7,1498.4 632.7,1490.3 642.6,1490.3" fill="#3aab4f"/>
<polygon points="668.2,1494 663.3,1485.9 673.2,1485.9" fill="#3aab4f"/>
<polygon points="691.1,1500.5 686.2,1492.4 696.1,1492.4" fill="#3aab4f"/>
<polygon points="721.6,1502.7 716.7,1494.6 726.6,1494.6" fill="#3aab4f"/>
<polygon points="752.1,1498.4 747.2,1490.3 757.1,1490.3" fill="#3aab4f"/>
<polygon points="775,1494 770.1,1485.9 780,1485.9" fill="#3aab4f"/>
<polygon points="797.9,1485.3 793,1477.2 802.9,1477.2" fill="#3aab4f"/>
<polygon points="820.8,1484.2 815.9,1476.1 825.8,1476.1" fill="#3aab4f"/>
<polygon points="843.7,1465.7 838.8,1457.6 848.7,1457.6" fill="#3aab4f"/>
<polygon points="874.2,1445 869.3,1436.9 879.2,1436.9" fill="#3aab4f"/>
<polyline points="561.4,1503.5 584.3,1502.4 614.8,1500.2 637.7,1495.8 668.2,1500.2 691.1,1493.6 721.6,1502.4 752.1,1495.8 775,1487.1 797.9,1484.9 820.8,1483.8 843.7,1469.7 874.2,1447.9" fill="none" stroke="#3aab4f" stroke-width="1.9" stroke-linejoin="round"/>
<polygon points="561.4,1508.2 556.4,1500.1 566.4,1500.1" fill="#3aab4f"/>
<polygon points="584.3,1507.1 579.3,1499 589.2,1499" fill="#3aab4f"/>
<polygon points="614.8,1504.9 609.9,1496.8 619.8,1496.8" fill="#3aab4f"/>
<polygon points="637.7,1500.5 632.7,1492.4 642.6,1492.4" fill="#3aab4f"/>
<polygon points="668.2,1504.9 663.3,1496.8 673.2,1496.8" fill="#3aab4f"/>
<polygon points="691.1,1498.4 686.2,1490.3 696.1,1490.3" fill="#3aab4f"/>
<polygon points="721.6,1507.1 716.7,1499 726.6,1499" fill="#3aab4f"/>
<polygon points="752.1,1500.5 747.2,1492.4 757.1,1492.4" fill="#3aab4f"/>
<polygon points="775,1491.8 770.1,1483.7 780,1483.7" fill="#3aab4f"/>
<polygon points="797.9,1489.6 793,1481.5 802.9,1481.5" fill="#3aab4f"/>
<polygon points="820.8,1488.6 815.9,1480.5 825.8,1480.5" fill="#3aab4f"/>
<polygon points="843.7,1474.4 838.8,1466.3 848.7,1466.3" fill="#3aab4f"/>
<polygon points="874.2,1452.6 869.3,1444.5 879.2,1444.5" fill="#3aab4f"/>
<polyline points="561.4,1502.4 584.3,1504.5 614.8,1502.4 637.7,1499.1 668.2,1501.3 691.1,1500.2 721.6,1506.7 752.1,1493.6 775,1493.6 797.9,1483.8 820.8,1487.1 843.7,1474 874.2,1456.6" fill="none" stroke="#3aab4f" stroke-width="1.9" stroke-linejoin="round"/>
<polygon points="561.4,1507.1 556.4,1499 566.4,1499" fill="#3aab4f"/>
<polygon points="584.3,1509.3 579.3,1501.2 589.2,1501.2" fill="#3aab4f"/>
<polygon points="614.8,1507.1 609.9,1499 619.8,1499" fill="#3aab4f"/>
<polygon points="637.7,1503.8 632.7,1495.7 642.6,1495.7" fill="#3aab4f"/>
<polygon points="668.2,1506 663.3,1497.9 673.2,1497.9" fill="#3aab4f"/>
<polygon points="691.1,1504.9 686.2,1496.8 696.1,1496.8" fill="#3aab4f"/>
<polygon points="721.6,1511.4 716.7,1503.3 726.6,1503.3" fill="#3aab4f"/>
<polygon points="752.1,1498.4 747.2,1490.3 757.1,1490.3" fill="#3aab4f"/>
<polygon points="775,1498.4 770.1,1490.3 780,1490.3" fill="#3aab4f"/>
<polygon points="797.9,1488.6 793,1480.5 802.9,1480.5" fill="#3aab4f"/>
<polygon points="820.8,1491.8 815.9,1483.7 825.8,1483.7" fill="#3aab4f"/>
<polygon points="843.7,1478.7 838.8,1470.6 848.7,1470.6" fill="#3aab4f"/>
<polygon points="874.2,1461.3 869.3,1453.2 879.2,1453.2" fill="#3aab4f"/>
<polyline points="561.4,1499.1 584.3,1503.5 614.8,1503.5 637.7,1501.3 668.2,1502.4 691.1,1502.4 721.6,1498 752.1,1498 775,1503.5 797.9,1499.1 820.8,1503.5 843.7,1498 874.2,1495.8" fill="none" stroke="#3aab4f" stroke-width="1.9" stroke-linejoin="round"/>
<polygon points="561.4,1503.8 556.4,1495.7 566.4,1495.7" fill="#3aab4f"/>
<polygon points="584.3,1508.2 579.3,1500.1 589.2,1500.1" fill="#3aab4f"/>
<polygon points="614.8,1508.2 609.9,1500.1 619.8,1500.1" fill="#3aab4f"/>
<polygon points="637.7,1506 632.7,1497.9 642.6,1497.9" fill="#3aab4f"/>
<polygon points="668.2,1507.1 663.3,1499 673.2,1499" fill="#3aab4f"/>
<polygon points="691.1,1507.1 686.2,1499 696.1,1499" fill="#3aab4f"/>
<polygon points="721.6,1502.7 716.7,1494.6 726.6,1494.6" fill="#3aab4f"/>
<polygon points="752.1,1502.7 747.2,1494.6 757.1,1494.6" fill="#3aab4f"/>
<polygon points="775,1508.2 770.1,1500.1 780,1500.1" fill="#3aab4f"/>
<polygon points="797.9,1503.8 793,1495.7 802.9,1495.7" fill="#3aab4f"/>
<polygon points="820.8,1508.2 815.9,1500.1 825.8,1500.1" fill="#3aab4f"/>
<polygon points="843.7,1502.7 838.8,1494.6 848.7,1494.6" fill="#3aab4f"/>
<polygon points="874.2,1500.5 869.3,1492.4 879.2,1492.4" fill="#3aab4f"/>
</g>
<g>
<text x="1198" y="1267.8" font-size="20.6" font-weight="bold" stroke="#000" stroke-width="0.25" text-anchor="middle">HCC1954 - HER2 High</text>
<line x1="1035" y1="1300.7" x2="1035" y2="1520.9" stroke="#000" stroke-width="2.2" stroke-linecap="butt"/>
<line x1="1033.9" y1="1519.8" x2="1362.4" y2="1519.8" stroke="#000" stroke-width="2.2" stroke-linecap="butt"/>
<line x1="1027.4" y1="1519.8" x2="1035" y2="1519.8" stroke="#000" stroke-width="2.2" stroke-linecap="butt"/>
<text x="1024.9" y="1526" font-size="16" font-weight="bold" stroke="#000" stroke-width="0.25" text-anchor="end">0</text>
<line x1="1027.4" y1="1465.3" x2="1035" y2="1465.3" stroke="#000" stroke-width="2.2" stroke-linecap="butt"/>
<text x="1024.9" y="1471.5" font-size="16" font-weight="bold" stroke="#000" stroke-width="0.25" text-anchor="end">200</text>
<line x1="1027.4" y1="1410.8" x2="1035" y2="1410.8" stroke="#000" stroke-width="2.2" stroke-linecap="butt"/>
<text x="1024.9" y="1417" font-size="16" font-weight="bold" stroke="#000" stroke-width="0.25" text-anchor="end">400</text>
<line x1="1027.4" y1="1356.3" x2="1035" y2="1356.3" stroke="#000" stroke-width="2.2" stroke-linecap="butt"/>
<text x="1024.9" y="1362.5" font-size="16" font-weight="bold" stroke="#000" stroke-width="0.25" text-anchor="end">600</text>
<line x1="1027.4" y1="1301.8" x2="1035" y2="1301.8" stroke="#000" stroke-width="2.2" stroke-linecap="butt"/>
<text x="1024.9" y="1308" font-size="16" font-weight="bold" stroke="#000" stroke-width="0.25" text-anchor="end">800</text>
<line x1="1035" y1="1519.8" x2="1035" y2="1527.4" stroke="#000" stroke-width="2.2" stroke-linecap="butt"/>
<text x="1035" y="1542.6" font-size="16" font-weight="bold" stroke="#000" stroke-width="0.25" text-anchor="middle">0</text>
<line x1="1111" y1="1519.8" x2="1111" y2="1527.4" stroke="#000" stroke-width="2.2" stroke-linecap="butt"/>
<text x="1111" y="1542.6" font-size="16" font-weight="bold" stroke="#000" stroke-width="0.25" text-anchor="middle">10</text>
<line x1="1187" y1="1519.8" x2="1187" y2="1527.4" stroke="#000" stroke-width="2.2" stroke-linecap="butt"/>
<text x="1187" y="1542.6" font-size="16" font-weight="bold" stroke="#000" stroke-width="0.25" text-anchor="middle">20</text>
<line x1="1263" y1="1519.8" x2="1263" y2="1527.4" stroke="#000" stroke-width="2.2" stroke-linecap="butt"/>
<text x="1263" y="1542.6" font-size="16" font-weight="bold" stroke="#000" stroke-width="0.25" text-anchor="middle">30</text>
<line x1="1339" y1="1519.8" x2="1339" y2="1527.4" stroke="#000" stroke-width="2.2" stroke-linecap="butt"/>
<text x="1339" y="1542.6" font-size="16" font-weight="bold" stroke="#000" stroke-width="0.25" text-anchor="middle">40</text>
<text x="1196.5" y="1567.4" font-size="18.4" font-weight="bold" stroke="#000" stroke-width="0.25" text-anchor="middle">Day Post Treatment</text>
<text transform="translate(977.4,1410.8) rotate(-90)" font-size="18.4" font-weight="bold" stroke="#000" stroke-width="0.25" text-anchor="middle" y="6.6">Tumor Volume (mm<tspan dy="-7.7" font-size="14.3">3</tspan><tspan dy="7.7">)</tspan></text>
<line x1="1046.5" y1="1301" x2="1066.5" y2="1301" stroke="#8a68b5" stroke-width="1.9" stroke-linecap="butt"/>
<polygon points="1056.5,1296.3 1051.5,1304.4 1061.5,1304.4" fill="#8a68b5"/>
<text x="1074.7" y="1307" font-size="16.6" text-anchor="start">Trastuzumab T785-ISAC</text>
<text x="1074.7" y="1328.3" font-size="16.6" text-anchor="start">+ Control Liposomes</text>
<polyline points="1035,1495.3 1057.8,1483 1088.2,1493.9 1111,1492.5 1141.4,1495.3 1164.2,1504.8 1194.6,1507.5 1225,1504.8 1247.8,1507.5 1270.6,1507.5 1293.4,1510.3 1316.2,1503.5 1346.6,1504.8" fill="none" stroke="#8a68b5" stroke-width="1.9" stroke-linejoin="round"/>
<polygon points="1035,1490.5 1030,1498.6 1040,1498.6" fill="#8a68b5"/>
<polygon points="1057.8,1478.3 1052.8,1486.4 1062.8,1486.4" fill="#8a68b5"/>
<polygon points="1088.2,1489.2 1083.2,1497.3 1093.2,1497.3" fill="#8a68b5"/>
<polygon points="1111,1487.8 1106,1495.9 1116,1495.9" fill="#8a68b5"/>
<polygon points="1141.4,1490.5 1136.5,1498.6 1146.4,1498.6" fill="#8a68b5"/>
<polygon points="1164.2,1500.1 1159.2,1508.2 1169.2,1508.2" fill="#8a68b5"/>
<polygon points="1194.6,1502.8 1189.6,1510.9 1199.5,1510.9" fill="#8a68b5"/>
<polygon points="1225,1500.1 1220,1508.2 1230,1508.2" fill="#8a68b5"/>
<polygon points="1247.8,1502.8 1242.8,1510.9 1252.8,1510.9" fill="#8a68b5"/>
<polygon points="1270.6,1502.8 1265.6,1510.9 1275.5,1510.9" fill="#8a68b5"/>
<polygon points="1293.4,1505.5 1288.5,1513.6 1298.4,1513.6" fill="#8a68b5"/>
<polygon points="1316.2,1498.7 1311.2,1506.8 1321.2,1506.8" fill="#8a68b5"/>
<polygon points="1346.6,1500.1 1341.6,1508.2 1351.5,1508.2" fill="#8a68b5"/>
<polyline points="1035,1498 1057.8,1488.5 1088.2,1495.3 1111,1495.3 1141.4,1498 1164.2,1506.2 1194.6,1508.9 1225,1504.8 1247.8,1519.8 1270.6,1508.9 1293.4,1511.6 1316.2,1513 1346.6,1515.7" fill="none" stroke="#8a68b5" stroke-width="1.9" stroke-linejoin="round"/>
<polygon points="1035,1493.3 1030,1501.4 1040,1501.4" fill="#8a68b5"/>
<polygon points="1057.8,1483.7 1052.8,1491.8 1062.8,1491.8" fill="#8a68b5"/>
<polygon points="1088.2,1490.5 1083.2,1498.6 1093.2,1498.6" fill="#8a68b5"/>
<polygon points="1111,1490.5 1106,1498.6 1116,1498.6" fill="#8a68b5"/>
<polygon points="1141.4,1493.3 1136.5,1501.4 1146.4,1501.4" fill="#8a68b5"/>
<polygon points="1164.2,1501.5 1159.2,1509.5 1169.2,1509.5" fill="#8a68b5"/>
<polygon points="1194.6,1504.2 1189.6,1512.3 1199.5,1512.3" fill="#8a68b5"/>
<polygon points="1225,1500.1 1220,1508.2 1230,1508.2" fill="#8a68b5"/>
<polygon points="1247.8,1515.1 1242.8,1523.2 1252.8,1523.2" fill="#8a68b5"/>
<polygon points="1270.6,1504.2 1265.6,1512.3 1275.5,1512.3" fill="#8a68b5"/>
<polygon points="1293.4,1506.9 1288.5,1515 1298.4,1515" fill="#8a68b5"/>
<polygon points="1316.2,1508.3 1311.2,1516.4 1321.2,1516.4" fill="#8a68b5"/>
<polygon points="1346.6,1511 1341.6,1519.1 1351.5,1519.1" fill="#8a68b5"/>
<polyline points="1035,1499.4 1057.8,1492.5 1088.2,1496.6 1111,1498 1141.4,1500.7 1164.2,1510.3 1194.6,1519.8 1225,1519.8 1247.8,1519.8 1270.6,1519.8 1293.4,1519.8 1316.2,1519.8 1346.6,1519.8" fill="none" stroke="#8a68b5" stroke-width="1.9" stroke-linejoin="round"/>
<polygon points="1035,1494.6 1030,1502.7 1040,1502.7" fill="#8a68b5"/>
<polygon points="1057.8,1487.8 1052.8,1495.9 1062.8,1495.9" fill="#8a68b5"/>
<polygon points="1088.2,1491.9 1083.2,1500 1093.2,1500" fill="#8a68b5"/>
<polygon points="1111,1493.3 1106,1501.4 1116,1501.4" fill="#8a68b5"/>
<polygon points="1141.4,1496 1136.5,1504.1 1146.4,1504.1" fill="#8a68b5"/>
<polygon points="1164.2,1505.5 1159.2,1513.6 1169.2,1513.6" fill="#8a68b5"/>
<polygon points="1194.6,1515.1 1189.6,1523.2 1199.5,1523.2" fill="#8a68b5"/>
<polygon points="1225,1515.1 1220,1523.2 1230,1523.2" fill="#8a68b5"/>
<polygon points="1247.8,1515.1 1242.8,1523.2 1252.8,1523.2" fill="#8a68b5"/>
<polygon points="1270.6,1515.1 1265.6,1523.2 1275.5,1523.2" fill="#8a68b5"/>
<polygon points="1293.4,1515.1 1288.5,1523.2 1298.4,1523.2" fill="#8a68b5"/>
<polygon points="1316.2,1515.1 1311.2,1523.2 1321.2,1523.2" fill="#8a68b5"/>
<polygon points="1346.6,1515.1 1341.6,1523.2 1351.5,1523.2" fill="#8a68b5"/>
<polyline points="1035,1500.7 1057.8,1495.3 1088.2,1498 1111,1500.7 1141.4,1503.5 1164.2,1514.3 1194.6,1519.8 1225,1519.8 1247.8,1519.8 1270.6,1519.8 1293.4,1519.8 1316.2,1519.8 1346.6,1519.8" fill="none" stroke="#8a68b5" stroke-width="1.9" stroke-linejoin="round"/>
<polygon points="1035,1496 1030,1504.1 1040,1504.1" fill="#8a68b5"/>
<polygon points="1057.8,1490.5 1052.8,1498.6 1062.8,1498.6" fill="#8a68b5"/>
<polygon points="1088.2,1493.3 1083.2,1501.4 1093.2,1501.4" fill="#8a68b5"/>
<polygon points="1111,1496 1106,1504.1 1116,1504.1" fill="#8a68b5"/>
<polygon points="1141.4,1498.7 1136.5,1506.8 1146.4,1506.8" fill="#8a68b5"/>
<polygon points="1164.2,1509.6 1159.2,1517.7 1169.2,1517.7" fill="#8a68b5"/>
<polygon points="1194.6,1515.1 1189.6,1523.2 1199.5,1523.2" fill="#8a68b5"/>
<polygon points="1225,1515.1 1220,1523.2 1230,1523.2" fill="#8a68b5"/>
<polygon points="1247.8,1515.1 1242.8,1523.2 1252.8,1523.2" fill="#8a68b5"/>
<polygon points="1270.6,1515.1 1265.6,1523.2 1275.5,1523.2" fill="#8a68b5"/>
<polygon points="1293.4,1515.1 1288.5,1523.2 1298.4,1523.2" fill="#8a68b5"/>
<polygon points="1316.2,1515.1 1311.2,1523.2 1321.2,1523.2" fill="#8a68b5"/>
<polygon points="1346.6,1515.1 1341.6,1523.2 1351.5,1523.2" fill="#8a68b5"/>
<polyline points="1035,1503.5 1057.8,1498 1088.2,1500.7 1111,1504.8 1141.4,1506.2 1164.2,1519.8 1194.6,1519.8 1225,1519.8 1247.8,1519.8 1270.6,1519.8 1293.4,1519.8 1316.2,1519.8 1346.6,1519.8" fill="none" stroke="#8a68b5" stroke-width="1.9" stroke-linejoin="round"/>
<polygon points="1035,1498.7 1030,1506.8 1040,1506.8" fill="#8a68b5"/>
<polygon points="1057.8,1493.3 1052.8,1501.4 1062.8,1501.4" fill="#8a68b5"/>
<polygon points="1088.2,1496 1083.2,1504.1 1093.2,1504.1" fill="#8a68b5"/>
<polygon points="1111,1500.1 1106,1508.2 1116,1508.2" fill="#8a68b5"/>
<polygon points="1141.4,1501.5 1136.5,1509.5 1146.4,1509.5" fill="#8a68b5"/>
<polygon points="1164.2,1515.1 1159.2,1523.2 1169.2,1523.2" fill="#8a68b5"/>
<polygon points="1194.6,1515.1 1189.6,1523.2 1199.5,1523.2" fill="#8a68b5"/>
<polygon points="1225,1515.1 1220,1523.2 1230,1523.2" fill="#8a68b5"/>
<polygon points="1247.8,1515.1 1242.8,1523.2 1252.8,1523.2" fill="#8a68b5"/>
<polygon points="1270.6,1515.1 1265.6,1523.2 1275.5,1523.2" fill="#8a68b5"/>
<polygon points="1293.4,1515.1 1288.5,1523.2 1298.4,1523.2" fill="#8a68b5"/>
<polygon points="1316.2,1515.1 1311.2,1523.2 1321.2,1523.2" fill="#8a68b5"/>
<polygon points="1346.6,1515.1 1341.6,1523.2 1351.5,1523.2" fill="#8a68b5"/>
</g>
<g>
<text x="1682" y="1268.8" font-size="20.6" font-weight="bold" stroke="#000" stroke-width="0.25" text-anchor="middle">HCC1954 - HER2 High</text>
<line x1="1518.3" y1="1300.7" x2="1518.3" y2="1520.9" stroke="#000" stroke-width="2.2" stroke-linecap="butt"/>
<line x1="1517.2" y1="1519.8" x2="1846.5" y2="1519.8" stroke="#000" stroke-width="2.2" stroke-linecap="butt"/>
<line x1="1510.7" y1="1519.8" x2="1518.3" y2="1519.8" stroke="#000" stroke-width="2.2" stroke-linecap="butt"/>
<text x="1508.2" y="1526" font-size="16" font-weight="bold" stroke="#000" stroke-width="0.25" text-anchor="end">0</text>
<line x1="1510.7" y1="1465.3" x2="1518.3" y2="1465.3" stroke="#000" stroke-width="2.2" stroke-linecap="butt"/>
<text x="1508.2" y="1471.5" font-size="16" font-weight="bold" stroke="#000" stroke-width="0.25" text-anchor="end">200</text>
<line x1="1510.7" y1="1410.8" x2="1518.3" y2="1410.8" stroke="#000" stroke-width="2.2" stroke-linecap="butt"/>
<text x="1508.2" y="1417" font-size="16" font-weight="bold" stroke="#000" stroke-width="0.25" text-anchor="end">400</text>
<line x1="1510.7" y1="1356.3" x2="1518.3" y2="1356.3" stroke="#000" stroke-width="2.2" stroke-linecap="butt"/>
<text x="1508.2" y="1362.5" font-size="16" font-weight="bold" stroke="#000" stroke-width="0.25" text-anchor="end">600</text>
<line x1="1510.7" y1="1301.8" x2="1518.3" y2="1301.8" stroke="#000" stroke-width="2.2" stroke-linecap="butt"/>
<text x="1508.2" y="1308" font-size="16" font-weight="bold" stroke="#000" stroke-width="0.25" text-anchor="end">800</text>
<line x1="1518.3" y1="1519.8" x2="1518.3" y2="1527.4" stroke="#000" stroke-width="2.2" stroke-linecap="butt"/>
<text x="1518.3" y="1542.6" font-size="16" font-weight="bold" stroke="#000" stroke-width="0.25" text-anchor="middle">0</text>
<line x1="1594.3" y1="1519.8" x2="1594.3" y2="1527.4" stroke="#000" stroke-width="2.2" stroke-linecap="butt"/>
<text x="1594.3" y="1542.6" font-size="16" font-weight="bold" stroke="#000" stroke-width="0.25" text-anchor="middle">10</text>
<line x1="1670.3" y1="1519.8" x2="1670.3" y2="1527.4" stroke="#000" stroke-width="2.2" stroke-linecap="butt"/>
<text x="1670.3" y="1542.6" font-size="16" font-weight="bold" stroke="#000" stroke-width="0.25" text-anchor="middle">20</text>
<line x1="1746.3" y1="1519.8" x2="1746.3" y2="1527.4" stroke="#000" stroke-width="2.2" stroke-linecap="butt"/>
<text x="1746.3" y="1542.6" font-size="16" font-weight="bold" stroke="#000" stroke-width="0.25" text-anchor="middle">30</text>
<line x1="1822.3" y1="1519.8" x2="1822.3" y2="1527.4" stroke="#000" stroke-width="2.2" stroke-linecap="butt"/>
<text x="1822.3" y="1542.6" font-size="16" font-weight="bold" stroke="#000" stroke-width="0.25" text-anchor="middle">40</text>
<text x="1677.1" y="1568" font-size="18.4" font-weight="bold" stroke="#000" stroke-width="0.25" text-anchor="middle">Day Post Treatment</text>
<text transform="translate(1451.4,1410.8) rotate(-90)" font-size="18.4" font-weight="bold" stroke="#000" stroke-width="0.25" text-anchor="middle" y="6.6">Tumor Volume (mm<tspan dy="-7.7" font-size="14.3">3</tspan><tspan dy="7.7">)</tspan></text>
<line x1="1528.2" y1="1301" x2="1546.2" y2="1301" stroke="#8fd1ef" stroke-width="1.9" stroke-linecap="butt"/>
<circle cx="1537.2" cy="1301" r="4.5" fill="#8fd1ef"/>
<text x="1554.9" y="1307" font-size="16.6" text-anchor="start">Trastuzumab T785-ISAC</text>
<text x="1554.9" y="1327.4" font-size="16.6" text-anchor="start">+ Ly6G Depletion</text>
<polyline points="1518.3,1492.5 1541.1,1478.9 1571.5,1492.5 1594.3,1495.3 1624.7,1499.4 1647.5,1506.2 1677.9,1510.3 1708.3,1508.9 1731.1,1510.3 1753.9,1519.8 1776.7,1519.8 1799.5,1519.8 1829.9,1519.8" fill="none" stroke="#8fd1ef" stroke-width="1.9" stroke-linejoin="round"/>
<circle cx="1518.3" cy="1492.5" r="4.5" fill="#8fd1ef"/>
<circle cx="1541.1" cy="1478.9" r="4.5" fill="#8fd1ef"/>
<circle cx="1571.5" cy="1492.5" r="4.5" fill="#8fd1ef"/>
<circle cx="1594.3" cy="1495.3" r="4.5" fill="#8fd1ef"/>
<circle cx="1624.7" cy="1499.4" r="4.5" fill="#8fd1ef"/>
<circle cx="1647.5" cy="1506.2" r="4.5" fill="#8fd1ef"/>
<circle cx="1677.9" cy="1510.3" r="4.5" fill="#8fd1ef"/>
<circle cx="1708.3" cy="1508.9" r="4.5" fill="#8fd1ef"/>
<circle cx="1731.1" cy="1510.3" r="4.5" fill="#8fd1ef"/>
<circle cx="1753.9" cy="1519.8" r="4.5" fill="#8fd1ef"/>
<circle cx="1776.7" cy="1519.8" r="4.5" fill="#8fd1ef"/>
<circle cx="1799.5" cy="1519.8" r="4.5" fill="#8fd1ef"/>
<circle cx="1829.9" cy="1519.8" r="4.5" fill="#8fd1ef"/>
<polyline points="1518.3,1495.3 1541.1,1488.5 1571.5,1495.3 1594.3,1496.6 1624.7,1500.7 1647.5,1508.9 1677.9,1519.8 1708.3,1519.8 1731.1,1519.8 1753.9,1519.8 1776.7,1519.8 1799.5,1519.8 1829.9,1519.8" fill="none" stroke="#8fd1ef" stroke-width="1.9" stroke-linejoin="round"/>
<circle cx="1518.3" cy="1495.3" r="4.5" fill="#8fd1ef"/>
<circle cx="1541.1" cy="1488.5" r="4.5" fill="#8fd1ef"/>
<circle cx="1571.5" cy="1495.3" r="4.5" fill="#8fd1ef"/>
<circle cx="1594.3" cy="1496.6" r="4.5" fill="#8fd1ef"/>
<circle cx="1624.7" cy="1500.7" r="4.5" fill="#8fd1ef"/>
<circle cx="1647.5" cy="1508.9" r="4.5" fill="#8fd1ef"/>
<circle cx="1677.9" cy="1519.8" r="4.5" fill="#8fd1ef"/>
<circle cx="1708.3" cy="1519.8" r="4.5" fill="#8fd1ef"/>
<circle cx="1731.1" cy="1519.8" r="4.5" fill="#8fd1ef"/>
<circle cx="1753.9" cy="1519.8" r="4.5" fill="#8fd1ef"/>
<circle cx="1776.7" cy="1519.8" r="4.5" fill="#8fd1ef"/>
<circle cx="1799.5" cy="1519.8" r="4.5" fill="#8fd1ef"/>
<circle cx="1829.9" cy="1519.8" r="4.5" fill="#8fd1ef"/>
<polyline points="1518.3,1498 1541.1,1492.5 1571.5,1498 1594.3,1500.7 1624.7,1506.2 1647.5,1519.8 1677.9,1519.8 1708.3,1519.8 1731.1,1519.8 1753.9,1519.8 1776.7,1519.8 1799.5,1519.8 1829.9,1519.8" fill="none" stroke="#8fd1ef" stroke-width="1.9" stroke-linejoin="round"/>
<circle cx="1518.3" cy="1498" r="4.5" fill="#8fd1ef"/>
<circle cx="1541.1" cy="1492.5" r="4.5" fill="#8fd1ef"/>
<circle cx="1571.5" cy="1498" r="4.5" fill="#8fd1ef"/>
<circle cx="1594.3" cy="1500.7" r="4.5" fill="#8fd1ef"/>
<circle cx="1624.7" cy="1506.2" r="4.5" fill="#8fd1ef"/>
<circle cx="1647.5" cy="1519.8" r="4.5" fill="#8fd1ef"/>
<circle cx="1677.9" cy="1519.8" r="4.5" fill="#8fd1ef"/>
<circle cx="1708.3" cy="1519.8" r="4.5" fill="#8fd1ef"/>
<circle cx="1731.1" cy="1519.8" r="4.5" fill="#8fd1ef"/>
<circle cx="1753.9" cy="1519.8" r="4.5" fill="#8fd1ef"/>
<circle cx="1776.7" cy="1519.8" r="4.5" fill="#8fd1ef"/>
<circle cx="1799.5" cy="1519.8" r="4.5" fill="#8fd1ef"/>
<circle cx="1829.9" cy="1519.8" r="4.5" fill="#8fd1ef"/>
<polyline points="1518.3,1500.7 1541.1,1493.9 1571.5,1499.4 1594.3,1503.5 1624.7,1519.8 1647.5,1519.8 1677.9,1519.8 1708.3,1519.8 1731.1,1519.8 1753.9,1519.8 1776.7,1519.8 1799.5,1519.8 1829.9,1519.8" fill="none" stroke="#8fd1ef" stroke-width="1.9" stroke-linejoin="round"/>
<circle cx="1518.3" cy="1500.7" r="4.5" fill="#8fd1ef"/>
<circle cx="1541.1" cy="1493.9" r="4.5" fill="#8fd1ef"/>
<circle cx="1571.5" cy="1499.4" r="4.5" fill="#8fd1ef"/>
<circle cx="1594.3" cy="1503.5" r="4.5" fill="#8fd1ef"/>
<circle cx="1624.7" cy="1519.8" r="4.5" fill="#8fd1ef"/>
<circle cx="1647.5" cy="1519.8" r="4.5" fill="#8fd1ef"/>
<circle cx="1677.9" cy="1519.8" r="4.5" fill="#8fd1ef"/>
<circle cx="1708.3" cy="1519.8" r="4.5" fill="#8fd1ef"/>
<circle cx="1731.1" cy="1519.8" r="4.5" fill="#8fd1ef"/>
<circle cx="1753.9" cy="1519.8" r="4.5" fill="#8fd1ef"/>
<circle cx="1776.7" cy="1519.8" r="4.5" fill="#8fd1ef"/>
<circle cx="1799.5" cy="1519.8" r="4.5" fill="#8fd1ef"/>
<circle cx="1829.9" cy="1519.8" r="4.5" fill="#8fd1ef"/>
<polyline points="1518.3,1503.5 1541.1,1495.3 1571.5,1500.7 1594.3,1519.8 1624.7,1519.8 1647.5,1519.8 1677.9,1519.8 1708.3,1519.8 1731.1,1519.8 1753.9,1519.8 1776.7,1519.8 1799.5,1519.8 1829.9,1519.8" fill="none" stroke="#8fd1ef" stroke-width="1.9" stroke-linejoin="round"/>
<circle cx="1518.3" cy="1503.5" r="4.5" fill="#8fd1ef"/>
<circle cx="1541.1" cy="1495.3" r="4.5" fill="#8fd1ef"/>
<circle cx="1571.5" cy="1500.7" r="4.5" fill="#8fd1ef"/>
<circle cx="1594.3" cy="1519.8" r="4.5" fill="#8fd1ef"/>
<circle cx="1624.7" cy="1519.8" r="4.5" fill="#8fd1ef"/>
<circle cx="1647.5" cy="1519.8" r="4.5" fill="#8fd1ef"/>
<circle cx="1677.9" cy="1519.8" r="4.5" fill="#8fd1ef"/>
<circle cx="1708.3" cy="1519.8" r="4.5" fill="#8fd1ef"/>
<circle cx="1731.1" cy="1519.8" r="4.5" fill="#8fd1ef"/>
<circle cx="1753.9" cy="1519.8" r="4.5" fill="#8fd1ef"/>
<circle cx="1776.7" cy="1519.8" r="4.5" fill="#8fd1ef"/>
<circle cx="1799.5" cy="1519.8" r="4.5" fill="#8fd1ef"/>
<circle cx="1829.9" cy="1519.8" r="4.5" fill="#8fd1ef"/>
</g>
<g>
<text x="268.6" y="1653.6" font-size="20.6" font-weight="bold" stroke="#000" stroke-width="0.25" text-anchor="middle">HCC1954 - HER2 High</text>
<line x1="105.6" y1="1686.7" x2="105.6" y2="1906.8" stroke="#000" stroke-width="2.2" stroke-linecap="butt"/>
<line x1="104.5" y1="1905.7" x2="433.6" y2="1905.7" stroke="#000" stroke-width="2.2" stroke-linecap="butt"/>
<line x1="98" y1="1905.7" x2="105.6" y2="1905.7" stroke="#000" stroke-width="2.2" stroke-linecap="butt"/>
<text x="95.5" y="1911.9" font-size="16" font-weight="bold" stroke="#000" stroke-width="0.25" text-anchor="end">0</text>
<line x1="98" y1="1851.2" x2="105.6" y2="1851.2" stroke="#000" stroke-width="2.2" stroke-linecap="butt"/>
<text x="95.5" y="1857.5" font-size="16" font-weight="bold" stroke="#000" stroke-width="0.25" text-anchor="end">200</text>
<line x1="98" y1="1796.8" x2="105.6" y2="1796.8" stroke="#000" stroke-width="2.2" stroke-linecap="butt"/>
<text x="95.5" y="1803" font-size="16" font-weight="bold" stroke="#000" stroke-width="0.25" text-anchor="end">400</text>
<line x1="98" y1="1742.3" x2="105.6" y2="1742.3" stroke="#000" stroke-width="2.2" stroke-linecap="butt"/>
<text x="95.5" y="1748.5" font-size="16" font-weight="bold" stroke="#000" stroke-width="0.25" text-anchor="end">600</text>
<line x1="98" y1="1687.8" x2="105.6" y2="1687.8" stroke="#000" stroke-width="2.2" stroke-linecap="butt"/>
<text x="95.5" y="1694" font-size="16" font-weight="bold" stroke="#000" stroke-width="0.25" text-anchor="end">800</text>
<line x1="105.6" y1="1905.7" x2="105.6" y2="1913.3" stroke="#000" stroke-width="2.2" stroke-linecap="butt"/>
<text x="105.6" y="1928.5" font-size="16" font-weight="bold" stroke="#000" stroke-width="0.25" text-anchor="middle">0</text>
<line x1="181.6" y1="1905.7" x2="181.6" y2="1913.3" stroke="#000" stroke-width="2.2" stroke-linecap="butt"/>
<text x="181.6" y="1928.5" font-size="16" font-weight="bold" stroke="#000" stroke-width="0.25" text-anchor="middle">10</text>
<line x1="257.6" y1="1905.7" x2="257.6" y2="1913.3" stroke="#000" stroke-width="2.2" stroke-linecap="butt"/>
<text x="257.6" y="1928.5" font-size="16" font-weight="bold" stroke="#000" stroke-width="0.25" text-anchor="middle">20</text>
<line x1="333.6" y1="1905.7" x2="333.6" y2="1913.3" stroke="#000" stroke-width="2.2" stroke-linecap="butt"/>
<text x="333.6" y="1928.5" font-size="16" font-weight="bold" stroke="#000" stroke-width="0.25" text-anchor="middle">30</text>
<line x1="409.6" y1="1905.7" x2="409.6" y2="1913.3" stroke="#000" stroke-width="2.2" stroke-linecap="butt"/>
<text x="409.6" y="1928.5" font-size="16" font-weight="bold" stroke="#000" stroke-width="0.25" text-anchor="middle">40</text>
<text x="263.9" y="1953.2" font-size="18.4" font-weight="bold" stroke="#000" stroke-width="0.25" text-anchor="middle">Day Post Treatment</text>
<text transform="translate(40.9,1796.8) rotate(-90)" font-size="18.4" font-weight="bold" stroke="#000" stroke-width="0.25" text-anchor="middle" y="6.6">Tumor Volume (mm<tspan dy="-7.7" font-size="14.3">3</tspan><tspan dy="7.7">)</tspan></text>
<line x1="109" y1="1688.4" x2="127" y2="1688.4" stroke="#9a5a22" stroke-width="1.9" stroke-linecap="butt"/>
<rect x="113.5" y="1683.9" width="9" height="9" fill="#9a5a22"/>
<text x="136.2" y="1694.4" font-size="16.6" text-anchor="start">Trastuzumab T785-ISAC</text>
<text x="136.2" y="1714.2" font-size="16.6" text-anchor="start">+ Rat IgG2a Isotype</text>
<polyline points="105.6,1878.5 128.4,1874.4 158.8,1875.7 181.6,1875.7 212,1882.5 234.8,1886.6 265.2,1905.7 295.6,1888 318.4,1905.7 341.2,1905.7 364,1905.7 386.8,1905.7 417.2,1905.7" fill="none" stroke="#9a5a22" stroke-width="1.9" stroke-linejoin="round"/>
<rect x="101.1" y="1874" width="9" height="9" fill="#9a5a22"/>
<rect x="123.9" y="1869.9" width="9" height="9" fill="#9a5a22"/>
<rect x="154.3" y="1871.2" width="9" height="9" fill="#9a5a22"/>
<rect x="177.1" y="1871.2" width="9" height="9" fill="#9a5a22"/>
<rect x="207.5" y="1878" width="9" height="9" fill="#9a5a22"/>
<rect x="230.3" y="1882.1" width="9" height="9" fill="#9a5a22"/>
<rect x="260.7" y="1901.2" width="9" height="9" fill="#9a5a22"/>
<rect x="291.1" y="1883.5" width="9" height="9" fill="#9a5a22"/>
<rect x="313.9" y="1901.2" width="9" height="9" fill="#9a5a22"/>
<rect x="336.7" y="1901.2" width="9" height="9" fill="#9a5a22"/>
<rect x="359.5" y="1901.2" width="9" height="9" fill="#9a5a22"/>
<rect x="382.3" y="1901.2" width="9" height="9" fill="#9a5a22"/>
<rect x="412.7" y="1901.2" width="9" height="9" fill="#9a5a22"/>
<polyline points="105.6,1881.2 128.4,1875.7 158.8,1877.1 181.6,1878.5 212,1885.3 234.8,1894.8 265.2,1905.7 295.6,1905.7 318.4,1905.7 341.2,1905.7 364,1905.7 386.8,1905.7 417.2,1905.7" fill="none" stroke="#9a5a22" stroke-width="1.9" stroke-linejoin="round"/>
<rect x="101.1" y="1876.7" width="9" height="9" fill="#9a5a22"/>
<rect x="123.9" y="1871.2" width="9" height="9" fill="#9a5a22"/>
<rect x="154.3" y="1872.6" width="9" height="9" fill="#9a5a22"/>
<rect x="177.1" y="1874" width="9" height="9" fill="#9a5a22"/>
<rect x="207.5" y="1880.8" width="9" height="9" fill="#9a5a22"/>
<rect x="230.3" y="1890.3" width="9" height="9" fill="#9a5a22"/>
<rect x="260.7" y="1901.2" width="9" height="9" fill="#9a5a22"/>
<rect x="291.1" y="1901.2" width="9" height="9" fill="#9a5a22"/>
<rect x="313.9" y="1901.2" width="9" height="9" fill="#9a5a22"/>
<rect x="336.7" y="1901.2" width="9" height="9" fill="#9a5a22"/>
<rect x="359.5" y="1901.2" width="9" height="9" fill="#9a5a22"/>
<rect x="382.3" y="1901.2" width="9" height="9" fill="#9a5a22"/>
<rect x="412.7" y="1901.2" width="9" height="9" fill="#9a5a22"/>
<polyline points="105.6,1885.3 128.4,1878.5 158.8,1879.8 181.6,1881.2 212,1888 234.8,1905.7 265.2,1905.7 295.6,1905.7 318.4,1905.7 341.2,1905.7 364,1905.7 386.8,1905.7 417.2,1905.7" fill="none" stroke="#9a5a22" stroke-width="1.9" stroke-linejoin="round"/>
<rect x="101.1" y="1880.8" width="9" height="9" fill="#9a5a22"/>
<rect x="123.9" y="1874" width="9" height="9" fill="#9a5a22"/>
<rect x="154.3" y="1875.3" width="9" height="9" fill="#9a5a22"/>
<rect x="177.1" y="1876.7" width="9" height="9" fill="#9a5a22"/>
<rect x="207.5" y="1883.5" width="9" height="9" fill="#9a5a22"/>
<rect x="230.3" y="1901.2" width="9" height="9" fill="#9a5a22"/>
<rect x="260.7" y="1901.2" width="9" height="9" fill="#9a5a22"/>
<rect x="291.1" y="1901.2" width="9" height="9" fill="#9a5a22"/>
<rect x="313.9" y="1901.2" width="9" height="9" fill="#9a5a22"/>
<rect x="336.7" y="1901.2" width="9" height="9" fill="#9a5a22"/>
<rect x="359.5" y="1901.2" width="9" height="9" fill="#9a5a22"/>
<rect x="382.3" y="1901.2" width="9" height="9" fill="#9a5a22"/>
<rect x="412.7" y="1901.2" width="9" height="9" fill="#9a5a22"/>
<polyline points="105.6,1889.4 128.4,1882.5 158.8,1883.9 181.6,1882.5 212,1890.7 234.8,1905.7 265.2,1905.7 295.6,1905.7 318.4,1905.7 341.2,1905.7 364,1905.7 386.8,1905.7 417.2,1905.7" fill="none" stroke="#9a5a22" stroke-width="1.9" stroke-linejoin="round"/>
<rect x="101.1" y="1884.9" width="9" height="9" fill="#9a5a22"/>
<rect x="123.9" y="1878" width="9" height="9" fill="#9a5a22"/>
<rect x="154.3" y="1879.4" width="9" height="9" fill="#9a5a22"/>
<rect x="177.1" y="1878" width="9" height="9" fill="#9a5a22"/>
<rect x="207.5" y="1886.2" width="9" height="9" fill="#9a5a22"/>
<rect x="230.3" y="1901.2" width="9" height="9" fill="#9a5a22"/>
<rect x="260.7" y="1901.2" width="9" height="9" fill="#9a5a22"/>
<rect x="291.1" y="1901.2" width="9" height="9" fill="#9a5a22"/>
<rect x="313.9" y="1901.2" width="9" height="9" fill="#9a5a22"/>
<rect x="336.7" y="1901.2" width="9" height="9" fill="#9a5a22"/>
<rect x="359.5" y="1901.2" width="9" height="9" fill="#9a5a22"/>
<rect x="382.3" y="1901.2" width="9" height="9" fill="#9a5a22"/>
<rect x="412.7" y="1901.2" width="9" height="9" fill="#9a5a22"/>
</g>
<g>
<text x="726.5" y="1653.6" font-size="20.6" font-weight="bold" stroke="#000" stroke-width="0.25" text-anchor="middle">HCC1954 - HER2 High</text>
<line x1="563.2" y1="1686.7" x2="563.2" y2="1906.8" stroke="#000" stroke-width="2.2" stroke-linecap="butt"/>
<line x1="562.1" y1="1905.7" x2="890.9" y2="1905.7" stroke="#000" stroke-width="2.2" stroke-linecap="butt"/>
<line x1="555.6" y1="1905.7" x2="563.2" y2="1905.7" stroke="#000" stroke-width="2.2" stroke-linecap="butt"/>
<text x="553.1" y="1911.9" font-size="16" font-weight="bold" stroke="#000" stroke-width="0.25" text-anchor="end">0</text>
<line x1="555.6" y1="1851.2" x2="563.2" y2="1851.2" stroke="#000" stroke-width="2.2" stroke-linecap="butt"/>
<text x="553.1" y="1857.5" font-size="16" font-weight="bold" stroke="#000" stroke-width="0.25" text-anchor="end">200</text>
<line x1="555.6" y1="1796.8" x2="563.2" y2="1796.8" stroke="#000" stroke-width="2.2" stroke-linecap="butt"/>
<text x="553.1" y="1803" font-size="16" font-weight="bold" stroke="#000" stroke-width="0.25" text-anchor="end">400</text>
<line x1="555.6" y1="1742.3" x2="563.2" y2="1742.3" stroke="#000" stroke-width="2.2" stroke-linecap="butt"/>
<text x="553.1" y="1748.5" font-size="16" font-weight="bold" stroke="#000" stroke-width="0.25" text-anchor="end">600</text>
<line x1="555.6" y1="1687.8" x2="563.2" y2="1687.8" stroke="#000" stroke-width="2.2" stroke-linecap="butt"/>
<text x="553.1" y="1694" font-size="16" font-weight="bold" stroke="#000" stroke-width="0.25" text-anchor="end">800</text>
<line x1="563.2" y1="1905.7" x2="563.2" y2="1913.3" stroke="#000" stroke-width="2.2" stroke-linecap="butt"/>
<text x="563.2" y="1928.5" font-size="16" font-weight="bold" stroke="#000" stroke-width="0.25" text-anchor="middle">0</text>
<line x1="639.2" y1="1905.7" x2="639.2" y2="1913.3" stroke="#000" stroke-width="2.2" stroke-linecap="butt"/>
<text x="639.2" y="1928.5" font-size="16" font-weight="bold" stroke="#000" stroke-width="0.25" text-anchor="middle">10</text>
<line x1="715.2" y1="1905.7" x2="715.2" y2="1913.3" stroke="#000" stroke-width="2.2" stroke-linecap="butt"/>
<text x="715.2" y="1928.5" font-size="16" font-weight="bold" stroke="#000" stroke-width="0.25" text-anchor="middle">20</text>
<line x1="791.2" y1="1905.7" x2="791.2" y2="1913.3" stroke="#000" stroke-width="2.2" stroke-linecap="butt"/>
<text x="791.2" y="1928.5" font-size="16" font-weight="bold" stroke="#000" stroke-width="0.25" text-anchor="middle">30</text>
<line x1="867.2" y1="1905.7" x2="867.2" y2="1913.3" stroke="#000" stroke-width="2.2" stroke-linecap="butt"/>
<text x="867.2" y="1928.5" font-size="16" font-weight="bold" stroke="#000" stroke-width="0.25" text-anchor="middle">40</text>
<text x="721.7" y="1953.2" font-size="18.4" font-weight="bold" stroke="#000" stroke-width="0.25" text-anchor="middle">Day Post Treatment</text>
<text transform="translate(499.5,1796.8) rotate(-90)" font-size="18.4" font-weight="bold" stroke="#000" stroke-width="0.25" text-anchor="middle" y="6.6">Tumor Volume (mm<tspan dy="-7.7" font-size="14.3">3</tspan><tspan dy="7.7">)</tspan></text>
<line x1="572.8" y1="1689" x2="590.8" y2="1689" stroke="#f2a23a" stroke-width="1.9" stroke-linecap="butt"/>
<polygon points="581.8,1684.1 586.7,1689 581.8,1693.9 576.9,1689" fill="#f2a23a"/>
<text x="599.5" y="1695" font-size="16.6" text-anchor="start">Trastuzumab T785-ISAC</text>
<text x="599.5" y="1717" font-size="16.6" text-anchor="start">+ Rat IgG2b Isotype</text>
<polyline points="563.2,1883.9 586,1875.7 616.4,1881.2 639.2,1881.2 669.6,1875.7 692.4,1889.4 722.8,1892.1 753.2,1889.4 776,1892.1 798.8,1892.1 821.6,1892.1 844.4,1890.7 874.8,1882.5" fill="none" stroke="#f2a23a" stroke-width="1.9" stroke-linejoin="round"/>
<polygon points="563.2,1879 568.1,1883.9 563.2,1888.8 558.3,1883.9" fill="#f2a23a"/>
<polygon points="586,1870.9 590.9,1875.7 586,1880.6 581.1,1875.7" fill="#f2a23a"/>
<polygon points="616.4,1876.3 621.3,1881.2 616.4,1886.1 611.5,1881.2" fill="#f2a23a"/>
<polygon points="639.2,1876.3 644.1,1881.2 639.2,1886.1 634.3,1881.2" fill="#f2a23a"/>
<polygon points="669.6,1870.9 674.5,1875.7 669.6,1880.6 664.7,1875.7" fill="#f2a23a"/>
<polygon points="692.4,1884.5 697.3,1889.4 692.4,1894.2 687.5,1889.4" fill="#f2a23a"/>
<polygon points="722.8,1887.2 727.7,1892.1 722.8,1897 717.9,1892.1" fill="#f2a23a"/>
<polygon points="753.2,1884.5 758.1,1889.4 753.2,1894.2 748.3,1889.4" fill="#f2a23a"/>
<polygon points="776,1887.2 780.9,1892.1 776,1897 771.1,1892.1" fill="#f2a23a"/>
<polygon points="798.8,1887.2 803.7,1892.1 798.8,1897 793.9,1892.1" fill="#f2a23a"/>
<polygon points="821.6,1887.2 826.5,1892.1 821.6,1897 816.7,1892.1" fill="#f2a23a"/>
<polygon points="844.4,1885.8 849.3,1890.7 844.4,1895.6 839.5,1890.7" fill="#f2a23a"/>
<polygon points="874.8,1877.7 879.7,1882.5 874.8,1887.4 869.9,1882.5" fill="#f2a23a"/>
<polyline points="563.2,1885.3 586,1878.5 616.4,1882.5 639.2,1882.5 669.6,1881.2 692.4,1890.7 722.8,1894.8 753.2,1905.7 776,1905.7 798.8,1905.7 821.6,1905.7 844.4,1892.1 874.8,1892.1" fill="none" stroke="#f2a23a" stroke-width="1.9" stroke-linejoin="round"/>
<polygon points="563.2,1880.4 568.1,1885.3 563.2,1890.2 558.3,1885.3" fill="#f2a23a"/>
<polygon points="586,1873.6 590.9,1878.5 586,1883.4 581.1,1878.5" fill="#f2a23a"/>
<polygon points="616.4,1877.7 621.3,1882.5 616.4,1887.4 611.5,1882.5" fill="#f2a23a"/>
<polygon points="639.2,1877.7 644.1,1882.5 639.2,1887.4 634.3,1882.5" fill="#f2a23a"/>
<polygon points="669.6,1876.3 674.5,1881.2 669.6,1886.1 664.7,1881.2" fill="#f2a23a"/>
<polygon points="692.4,1885.8 697.3,1890.7 692.4,1895.6 687.5,1890.7" fill="#f2a23a"/>
<polygon points="722.8,1889.9 727.7,1894.8 722.8,1899.7 717.9,1894.8" fill="#f2a23a"/>
<polygon points="753.2,1900.8 758.1,1905.7 753.2,1910.6 748.3,1905.7" fill="#f2a23a"/>
<polygon points="776,1900.8 780.9,1905.7 776,1910.6 771.1,1905.7" fill="#f2a23a"/>
<polygon points="798.8,1900.8 803.7,1905.7 798.8,1910.6 793.9,1905.7" fill="#f2a23a"/>
<polygon points="821.6,1900.8 826.5,1905.7 821.6,1910.6 816.7,1905.7" fill="#f2a23a"/>
<polygon points="844.4,1887.2 849.3,1892.1 844.4,1897 839.5,1892.1" fill="#f2a23a"/>
<polygon points="874.8,1887.2 879.7,1892.1 874.8,1897 869.9,1892.1" fill="#f2a23a"/>
<polyline points="563.2,1886.6 586,1882.5 616.4,1883.9 639.2,1883.9 669.6,1883.9 692.4,1897.5 722.8,1898.9 753.2,1905.7 776,1905.7 798.8,1905.7 821.6,1905.7 844.4,1894.8 874.8,1905.7" fill="none" stroke="#f2a23a" stroke-width="1.9" stroke-linejoin="round"/>
<polygon points="563.2,1881.7 568.1,1886.6 563.2,1891.5 558.3,1886.6" fill="#f2a23a"/>
<polygon points="586,1877.7 590.9,1882.5 586,1887.4 581.1,1882.5" fill="#f2a23a"/>
<polygon points="616.4,1879 621.3,1883.9 616.4,1888.8 611.5,1883.9" fill="#f2a23a"/>
<polygon points="639.2,1879 644.1,1883.9 639.2,1888.8 634.3,1883.9" fill="#f2a23a"/>
<polygon points="669.6,1879 674.5,1883.9 669.6,1888.8 664.7,1883.9" fill="#f2a23a"/>
<polygon points="692.4,1892.6 697.3,1897.5 692.4,1902.4 687.5,1897.5" fill="#f2a23a"/>
<polygon points="722.8,1894 727.7,1898.9 722.8,1903.8 717.9,1898.9" fill="#f2a23a"/>
<polygon points="753.2,1900.8 758.1,1905.7 753.2,1910.6 748.3,1905.7" fill="#f2a23a"/>
<polygon points="776,1900.8 780.9,1905.7 776,1910.6 771.1,1905.7" fill="#f2a23a"/>
<polygon points="798.8,1900.8 803.7,1905.7 798.8,1910.6 793.9,1905.7" fill="#f2a23a"/>
<polygon points="821.6,1900.8 826.5,1905.7 821.6,1910.6 816.7,1905.7" fill="#f2a23a"/>
<polygon points="844.4,1889.9 849.3,1894.8 844.4,1899.7 839.5,1894.8" fill="#f2a23a"/>
<polygon points="874.8,1900.8 879.7,1905.7 874.8,1910.6 869.9,1905.7" fill="#f2a23a"/>
<polyline points="563.2,1889.4 586,1886.6 616.4,1886.6 639.2,1886.6 669.6,1889.4 692.4,1905.7 722.8,1905.7 753.2,1905.7 776,1905.7 798.8,1905.7 821.6,1905.7 844.4,1905.7 874.8,1905.7" fill="none" stroke="#f2a23a" stroke-width="1.9" stroke-linejoin="round"/>
<polygon points="563.2,1884.5 568.1,1889.4 563.2,1894.2 558.3,1889.4" fill="#f2a23a"/>
<polygon points="586,1881.7 590.9,1886.6 586,1891.5 581.1,1886.6" fill="#f2a23a"/>
<polygon points="616.4,1881.7 621.3,1886.6 616.4,1891.5 611.5,1886.6" fill="#f2a23a"/>
<polygon points="639.2,1881.7 644.1,1886.6 639.2,1891.5 634.3,1886.6" fill="#f2a23a"/>
<polygon points="669.6,1884.5 674.5,1889.4 669.6,1894.2 664.7,1889.4" fill="#f2a23a"/>
<polygon points="692.4,1900.8 697.3,1905.7 692.4,1910.6 687.5,1905.7" fill="#f2a23a"/>
<polygon points="722.8,1900.8 727.7,1905.7 722.8,1910.6 717.9,1905.7" fill="#f2a23a"/>
<polygon points="753.2,1900.8 758.1,1905.7 753.2,1910.6 748.3,1905.7" fill="#f2a23a"/>
<polygon points="776,1900.8 780.9,1905.7 776,1910.6 771.1,1905.7" fill="#f2a23a"/>
<polygon points="798.8,1900.8 803.7,1905.7 798.8,1910.6 793.9,1905.7" fill="#f2a23a"/>
<polygon points="821.6,1900.8 826.5,1905.7 821.6,1910.6 816.7,1905.7" fill="#f2a23a"/>
<polygon points="844.4,1900.8 849.3,1905.7 844.4,1910.6 839.5,1905.7" fill="#f2a23a"/>
<polygon points="874.8,1900.8 879.7,1905.7 874.8,1910.6 869.9,1905.7" fill="#f2a23a"/>
<polyline points="563.2,1890.7 586,1889.4 616.4,1889.4 639.2,1889.4 669.6,1893.4 692.4,1905.7 722.8,1905.7 753.2,1905.7 776,1905.7 798.8,1905.7 821.6,1905.7 844.4,1905.7 874.8,1905.7" fill="none" stroke="#f2a23a" stroke-width="1.9" stroke-linejoin="round"/>
<polygon points="563.2,1885.8 568.1,1890.7 563.2,1895.6 558.3,1890.7" fill="#f2a23a"/>
<polygon points="586,1884.5 590.9,1889.4 586,1894.2 581.1,1889.4" fill="#f2a23a"/>
<polygon points="616.4,1884.5 621.3,1889.4 616.4,1894.2 611.5,1889.4" fill="#f2a23a"/>
<polygon points="639.2,1884.5 644.1,1889.4 639.2,1894.2 634.3,1889.4" fill="#f2a23a"/>
<polygon points="669.6,1888.6 674.5,1893.4 669.6,1898.3 664.7,1893.4" fill="#f2a23a"/>
<polygon points="692.4,1900.8 697.3,1905.7 692.4,1910.6 687.5,1905.7" fill="#f2a23a"/>
<polygon points="722.8,1900.8 727.7,1905.7 722.8,1910.6 717.9,1905.7" fill="#f2a23a"/>
<polygon points="753.2,1900.8 758.1,1905.7 753.2,1910.6 748.3,1905.7" fill="#f2a23a"/>
<polygon points="776,1900.8 780.9,1905.7 776,1910.6 771.1,1905.7" fill="#f2a23a"/>
<polygon points="798.8,1900.8 803.7,1905.7 798.8,1910.6 793.9,1905.7" fill="#f2a23a"/>
<polygon points="821.6,1900.8 826.5,1905.7 821.6,1910.6 816.7,1905.7" fill="#f2a23a"/>
<polygon points="844.4,1900.8 849.3,1905.7 844.4,1910.6 839.5,1905.7" fill="#f2a23a"/>
<polygon points="874.8,1900.8 879.7,1905.7 874.8,1910.6 869.9,1905.7" fill="#f2a23a"/>
</g>
<g>
<text x="1198.8" y="1652" font-size="20.6" font-weight="bold" stroke="#000" stroke-width="0.25" text-anchor="middle">HCC1954 - HER2 High</text>
<line x1="1034.7" y1="1686.7" x2="1034.7" y2="1907.4" stroke="#000" stroke-width="2.2" stroke-linecap="butt"/>
<line x1="1033.6" y1="1906.3" x2="1364.8" y2="1906.3" stroke="#000" stroke-width="2.2" stroke-linecap="butt"/>
<line x1="1027.1" y1="1906.3" x2="1034.7" y2="1906.3" stroke="#000" stroke-width="2.2" stroke-linecap="butt"/>
<text x="1024.6" y="1912.5" font-size="16" font-weight="bold" stroke="#000" stroke-width="0.25" text-anchor="end">0</text>
<line x1="1027.1" y1="1862.6" x2="1034.7" y2="1862.6" stroke="#000" stroke-width="2.2" stroke-linecap="butt"/>
<text x="1024.6" y="1868.8" font-size="16" font-weight="bold" stroke="#000" stroke-width="0.25" text-anchor="end">200</text>
<line x1="1027.1" y1="1818.9" x2="1034.7" y2="1818.9" stroke="#000" stroke-width="2.2" stroke-linecap="butt"/>
<text x="1024.6" y="1825.1" font-size="16" font-weight="bold" stroke="#000" stroke-width="0.25" text-anchor="end">400</text>
<line x1="1027.1" y1="1775.2" x2="1034.7" y2="1775.2" stroke="#000" stroke-width="2.2" stroke-linecap="butt"/>
<text x="1024.6" y="1781.4" font-size="16" font-weight="bold" stroke="#000" stroke-width="0.25" text-anchor="end">600</text>
<line x1="1027.1" y1="1731.5" x2="1034.7" y2="1731.5" stroke="#000" stroke-width="2.2" stroke-linecap="butt"/>
<text x="1024.6" y="1737.7" font-size="16" font-weight="bold" stroke="#000" stroke-width="0.25" text-anchor="end">800</text>
<line x1="1027.1" y1="1687.8" x2="1034.7" y2="1687.8" stroke="#000" stroke-width="2.2" stroke-linecap="butt"/>
<text x="1024.6" y="1694" font-size="16" font-weight="bold" stroke="#000" stroke-width="0.25" text-anchor="end">1000</text>
<line x1="1034.7" y1="1906.3" x2="1034.7" y2="1913.9" stroke="#000" stroke-width="2.2" stroke-linecap="butt"/>
<text x="1034.7" y="1929.1" font-size="16" font-weight="bold" stroke="#000" stroke-width="0.25" text-anchor="middle">0</text>
<line x1="1111.3" y1="1906.3" x2="1111.3" y2="1913.9" stroke="#000" stroke-width="2.2" stroke-linecap="butt"/>
<text x="1111.3" y="1929.1" font-size="16" font-weight="bold" stroke="#000" stroke-width="0.25" text-anchor="middle">10</text>
<line x1="1187.9" y1="1906.3" x2="1187.9" y2="1913.9" stroke="#000" stroke-width="2.2" stroke-linecap="butt"/>
<text x="1187.9" y="1929.1" font-size="16" font-weight="bold" stroke="#000" stroke-width="0.25" text-anchor="middle">20</text>
<line x1="1264.5" y1="1906.3" x2="1264.5" y2="1913.9" stroke="#000" stroke-width="2.2" stroke-linecap="butt"/>
<text x="1264.5" y="1929.1" font-size="16" font-weight="bold" stroke="#000" stroke-width="0.25" text-anchor="middle">30</text>
<line x1="1341.1" y1="1906.3" x2="1341.1" y2="1913.9" stroke="#000" stroke-width="2.2" stroke-linecap="butt"/>
<text x="1341.1" y="1929.1" font-size="16" font-weight="bold" stroke="#000" stroke-width="0.25" text-anchor="middle">40</text>
<text x="1199" y="1953.2" font-size="18.4" font-weight="bold" stroke="#000" stroke-width="0.25" text-anchor="middle">Day Post Treatment</text>
<text transform="translate(977,1797) rotate(-90)" font-size="18.4" font-weight="bold" stroke="#000" stroke-width="0.25" text-anchor="middle" y="6.6">Tumor Volume (mm<tspan dy="-7.7" font-size="14.3">3</tspan><tspan dy="7.7">)</tspan></text>
<line x1="1049" y1="1687.5" x2="1067" y2="1687.5" stroke="#000000" stroke-width="1.9" stroke-linecap="butt"/>
<polygon points="1058,1682.8 1053,1690.9 1063,1690.9" fill="#000000"/>
<text x="1076.2" y="1693.5" font-size="16.6" text-anchor="start">Trastuzumab</text>
<polyline points="1034.7,1884.5 1057.7,1884.5 1088.3,1871.3 1111.3,1871.3 1141.9,1857.1 1164.9,1834.2 1195.6,1840.8 1226.2,1778.5 1249.2,1782.8 1272.2,1729.3" fill="none" stroke="#000000" stroke-width="1.9" stroke-linejoin="round"/>
<polygon points="1034.7,1879.7 1029.8,1887.8 1039.7,1887.8" fill="#000000"/>
<polygon points="1057.7,1879.7 1052.7,1887.8 1062.6,1887.8" fill="#000000"/>
<polygon points="1088.3,1866.6 1083.4,1874.7 1093.3,1874.7" fill="#000000"/>
<polygon points="1111.3,1866.6 1106.3,1874.7 1116.2,1874.7" fill="#000000"/>
<polygon points="1141.9,1852.4 1137,1860.5 1146.9,1860.5" fill="#000000"/>
<polygon points="1164.9,1829.5 1160,1837.6 1169.9,1837.6" fill="#000000"/>
<polygon points="1195.6,1836 1190.6,1844.1 1200.5,1844.1" fill="#000000"/>
<polygon points="1226.2,1773.8 1221.2,1781.9 1231.2,1781.9" fill="#000000"/>
<polygon points="1249.2,1778.1 1244.2,1786.2 1254.1,1786.2" fill="#000000"/>
<polygon points="1272.2,1724.6 1267.2,1732.7 1277.1,1732.7" fill="#000000"/>
<polyline points="1034.7,1886.6 1057.7,1879 1088.3,1884.5 1111.3,1875.7 1141.9,1858.2 1164.9,1862.6 1195.6,1820 1226.2,1805.8 1249.2,1781.8 1272.2,1747.9" fill="none" stroke="#000000" stroke-width="1.9" stroke-linejoin="round"/>
<polygon points="1034.7,1881.9 1029.8,1890 1039.7,1890" fill="#000000"/>
<polygon points="1057.7,1874.3 1052.7,1882.4 1062.6,1882.4" fill="#000000"/>
<polygon points="1088.3,1879.7 1083.4,1887.8 1093.3,1887.8" fill="#000000"/>
<polygon points="1111.3,1871 1106.3,1879.1 1116.2,1879.1" fill="#000000"/>
<polygon points="1141.9,1853.5 1137,1861.6 1146.9,1861.6" fill="#000000"/>
<polygon points="1164.9,1857.9 1160,1866 1169.9,1866" fill="#000000"/>
<polygon points="1195.6,1815.3 1190.6,1823.4 1200.5,1823.4" fill="#000000"/>
<polygon points="1226.2,1801.1 1221.2,1809.2 1231.2,1809.2" fill="#000000"/>
<polygon points="1249.2,1777 1244.2,1785.1 1254.1,1785.1" fill="#000000"/>
<polygon points="1272.2,1743.2 1267.2,1751.3 1277.1,1751.3" fill="#000000"/>
<polyline points="1034.7,1889.9 1057.7,1886.6 1088.3,1885.5 1111.3,1877.9 1141.9,1869.2 1164.9,1861.5 1195.6,1845.1 1226.2,1816.7 1249.2,1799.2 1272.2,1761" fill="none" stroke="#000000" stroke-width="1.9" stroke-linejoin="round"/>
<polygon points="1034.7,1885.2 1029.8,1893.3 1039.7,1893.3" fill="#000000"/>
<polygon points="1057.7,1881.9 1052.7,1890 1062.6,1890" fill="#000000"/>
<polygon points="1088.3,1880.8 1083.4,1888.9 1093.3,1888.9" fill="#000000"/>
<polygon points="1111.3,1873.2 1106.3,1881.3 1116.2,1881.3" fill="#000000"/>
<polygon points="1141.9,1864.4 1137,1872.5 1146.9,1872.5" fill="#000000"/>
<polygon points="1164.9,1856.8 1160,1864.9 1169.9,1864.9" fill="#000000"/>
<polygon points="1195.6,1840.4 1190.6,1848.5 1200.5,1848.5" fill="#000000"/>
<polygon points="1226.2,1812 1221.2,1820.1 1231.2,1820.1" fill="#000000"/>
<polygon points="1249.2,1794.5 1244.2,1802.6 1254.1,1802.6" fill="#000000"/>
<polygon points="1272.2,1756.3 1267.2,1764.4 1277.1,1764.4" fill="#000000"/>
<polyline points="1034.7,1893.2 1057.7,1888.8 1088.3,1885.5 1111.3,1879 1141.9,1880.1 1164.9,1873.5 1195.6,1848.4 1226.2,1836.4 1249.2,1806.9 1272.2,1765.4" fill="none" stroke="#000000" stroke-width="1.9" stroke-linejoin="round"/>
<polygon points="1034.7,1888.5 1029.8,1896.6 1039.7,1896.6" fill="#000000"/>
<polygon points="1057.7,1884.1 1052.7,1892.2 1062.6,1892.2" fill="#000000"/>
<polygon points="1088.3,1880.8 1083.4,1888.9 1093.3,1888.9" fill="#000000"/>
<polygon points="1111.3,1874.3 1106.3,1882.4 1116.2,1882.4" fill="#000000"/>
<polygon points="1141.9,1875.4 1137,1883.5 1146.9,1883.5" fill="#000000"/>
<polygon points="1164.9,1868.8 1160,1876.9 1169.9,1876.9" fill="#000000"/>
<polygon points="1195.6,1843.7 1190.6,1851.8 1200.5,1851.8" fill="#000000"/>
<polygon points="1226.2,1831.7 1221.2,1839.8 1231.2,1839.8" fill="#000000"/>
<polygon points="1249.2,1802.2 1244.2,1810.3 1254.1,1810.3" fill="#000000"/>
<polygon points="1272.2,1760.6 1267.2,1768.7 1277.1,1768.7" fill="#000000"/>
</g>
<g>
<text x="1681.2" y="1651.7" font-size="20.6" font-weight="bold" stroke="#000" stroke-width="0.25" text-anchor="middle">HCC1954 - HER2 High</text>
<line x1="1516.9" y1="1686.2" x2="1516.9" y2="1907.4" stroke="#000" stroke-width="2.2" stroke-linecap="butt"/>
<line x1="1515.8" y1="1906.3" x2="1846.5" y2="1906.3" stroke="#000" stroke-width="2.2" stroke-linecap="butt"/>
<line x1="1509.3" y1="1906.3" x2="1516.9" y2="1906.3" stroke="#000" stroke-width="2.2" stroke-linecap="butt"/>
<text x="1506.8" y="1912.5" font-size="16" font-weight="bold" stroke="#000" stroke-width="0.25" text-anchor="end">0</text>
<line x1="1509.3" y1="1851.5" x2="1516.9" y2="1851.5" stroke="#000" stroke-width="2.2" stroke-linecap="butt"/>
<text x="1506.8" y="1857.8" font-size="16" font-weight="bold" stroke="#000" stroke-width="0.25" text-anchor="end">200</text>
<line x1="1509.3" y1="1796.8" x2="1516.9" y2="1796.8" stroke="#000" stroke-width="2.2" stroke-linecap="butt"/>
<text x="1506.8" y="1803" font-size="16" font-weight="bold" stroke="#000" stroke-width="0.25" text-anchor="end">400</text>
<line x1="1509.3" y1="1742" x2="1516.9" y2="1742" stroke="#000" stroke-width="2.2" stroke-linecap="butt"/>
<text x="1506.8" y="1748.3" font-size="16" font-weight="bold" stroke="#000" stroke-width="0.25" text-anchor="end">600</text>
<line x1="1509.3" y1="1687.3" x2="1516.9" y2="1687.3" stroke="#000" stroke-width="2.2" stroke-linecap="butt"/>
<text x="1506.8" y="1693.5" font-size="16" font-weight="bold" stroke="#000" stroke-width="0.25" text-anchor="end">800</text>
<line x1="1516.9" y1="1906.3" x2="1516.9" y2="1913.9" stroke="#000" stroke-width="2.2" stroke-linecap="butt"/>
<text x="1516.9" y="1929.1" font-size="16" font-weight="bold" stroke="#000" stroke-width="0.25" text-anchor="middle">0</text>
<line x1="1593.7" y1="1906.3" x2="1593.7" y2="1913.9" stroke="#000" stroke-width="2.2" stroke-linecap="butt"/>
<text x="1593.7" y="1929.1" font-size="16" font-weight="bold" stroke="#000" stroke-width="0.25" text-anchor="middle">10</text>
<line x1="1670.5" y1="1906.3" x2="1670.5" y2="1913.9" stroke="#000" stroke-width="2.2" stroke-linecap="butt"/>
<text x="1670.5" y="1929.1" font-size="16" font-weight="bold" stroke="#000" stroke-width="0.25" text-anchor="middle">20</text>
<line x1="1747.3" y1="1906.3" x2="1747.3" y2="1913.9" stroke="#000" stroke-width="2.2" stroke-linecap="butt"/>
<text x="1747.3" y="1929.1" font-size="16" font-weight="bold" stroke="#000" stroke-width="0.25" text-anchor="middle">30</text>
<line x1="1824.1" y1="1906.3" x2="1824.1" y2="1913.9" stroke="#000" stroke-width="2.2" stroke-linecap="butt"/>
<text x="1824.1" y="1929.1" font-size="16" font-weight="bold" stroke="#000" stroke-width="0.25" text-anchor="middle">40</text>
<text x="1681.4" y="1953.7" font-size="18.4" font-weight="bold" stroke="#000" stroke-width="0.25" text-anchor="middle">Day Post Treatment</text>
<text transform="translate(1452.2,1796.8) rotate(-90)" font-size="18.4" font-weight="bold" stroke="#000" stroke-width="0.25" text-anchor="middle" y="6.6">Tumor Volume (mm<tspan dy="-7.7" font-size="14.3">3</tspan><tspan dy="7.7">)</tspan></text>
<line x1="1523.4" y1="1686.6" x2="1541.4" y2="1686.6" stroke="#3d5aa8" stroke-width="1.9" stroke-linecap="butt"/>
<circle cx="1532.4" cy="1686.6" r="4.5" fill="#3d5aa8"/>
<text x="1550.5" y="1692.6" font-size="16.6" text-anchor="start">Trastuzumab T785-ISAC</text>
<text x="1550.5" y="1712.3" font-size="16.6" text-anchor="start">+ Gr1 Depletion</text>
<polyline points="1516.9,1874.8 1539.9,1876.2 1570.7,1870.7 1593.7,1877.6 1624.4,1883 1647.5,1894 1678.2,1891.2 1708.9,1888.5 1731.9,1885.8 1755,1887.1 1778,1876.2 1801.1,1873.5 1831.8,1854.3" fill="none" stroke="#3d5aa8" stroke-width="1.9" stroke-linejoin="round"/>
<circle cx="1516.9" cy="1874.8" r="4.5" fill="#3d5aa8"/>
<circle cx="1539.9" cy="1876.2" r="4.5" fill="#3d5aa8"/>
<circle cx="1570.7" cy="1870.7" r="4.5" fill="#3d5aa8"/>
<circle cx="1593.7" cy="1877.6" r="4.5" fill="#3d5aa8"/>
<circle cx="1624.4" cy="1883" r="4.5" fill="#3d5aa8"/>
<circle cx="1647.5" cy="1894" r="4.5" fill="#3d5aa8"/>
<circle cx="1678.2" cy="1891.2" r="4.5" fill="#3d5aa8"/>
<circle cx="1708.9" cy="1888.5" r="4.5" fill="#3d5aa8"/>
<circle cx="1731.9" cy="1885.8" r="4.5" fill="#3d5aa8"/>
<circle cx="1755" cy="1887.1" r="4.5" fill="#3d5aa8"/>
<circle cx="1778" cy="1876.2" r="4.5" fill="#3d5aa8"/>
<circle cx="1801.1" cy="1873.5" r="4.5" fill="#3d5aa8"/>
<circle cx="1831.8" cy="1854.3" r="4.5" fill="#3d5aa8"/>
<polyline points="1516.9,1881.7 1539.9,1877.6 1570.7,1878.9 1593.7,1880.3 1624.4,1884.4 1647.5,1895.3 1678.2,1892.6 1708.9,1889.9 1731.9,1889.9 1755,1888.5 1778,1878.9 1801.1,1876.2 1831.8,1857" fill="none" stroke="#3d5aa8" stroke-width="1.9" stroke-linejoin="round"/>
<circle cx="1516.9" cy="1881.7" r="4.5" fill="#3d5aa8"/>
<circle cx="1539.9" cy="1877.6" r="4.5" fill="#3d5aa8"/>
<circle cx="1570.7" cy="1878.9" r="4.5" fill="#3d5aa8"/>
<circle cx="1593.7" cy="1880.3" r="4.5" fill="#3d5aa8"/>
<circle cx="1624.4" cy="1884.4" r="4.5" fill="#3d5aa8"/>
<circle cx="1647.5" cy="1895.3" r="4.5" fill="#3d5aa8"/>
<circle cx="1678.2" cy="1892.6" r="4.5" fill="#3d5aa8"/>
<circle cx="1708.9" cy="1889.9" r="4.5" fill="#3d5aa8"/>
<circle cx="1731.9" cy="1889.9" r="4.5" fill="#3d5aa8"/>
<circle cx="1755" cy="1888.5" r="4.5" fill="#3d5aa8"/>
<circle cx="1778" cy="1878.9" r="4.5" fill="#3d5aa8"/>
<circle cx="1801.1" cy="1876.2" r="4.5" fill="#3d5aa8"/>
<circle cx="1831.8" cy="1857" r="4.5" fill="#3d5aa8"/>
<polyline points="1516.9,1884.4 1539.9,1881.7 1570.7,1881.7 1593.7,1883 1624.4,1887.1 1647.5,1898.1 1678.2,1894 1708.9,1891.2 1731.9,1892.6 1755,1889.9 1778,1884.4 1801.1,1877.6 1831.8,1861.1" fill="none" stroke="#3d5aa8" stroke-width="1.9" stroke-linejoin="round"/>
<circle cx="1516.9" cy="1884.4" r="4.5" fill="#3d5aa8"/>
<circle cx="1539.9" cy="1881.7" r="4.5" fill="#3d5aa8"/>
<circle cx="1570.7" cy="1881.7" r="4.5" fill="#3d5aa8"/>
<circle cx="1593.7" cy="1883" r="4.5" fill="#3d5aa8"/>
<circle cx="1624.4" cy="1887.1" r="4.5" fill="#3d5aa8"/>
<circle cx="1647.5" cy="1898.1" r="4.5" fill="#3d5aa8"/>
<circle cx="1678.2" cy="1894" r="4.5" fill="#3d5aa8"/>
<circle cx="1708.9" cy="1891.2" r="4.5" fill="#3d5aa8"/>
<circle cx="1731.9" cy="1892.6" r="4.5" fill="#3d5aa8"/>
<circle cx="1755" cy="1889.9" r="4.5" fill="#3d5aa8"/>
<circle cx="1778" cy="1884.4" r="4.5" fill="#3d5aa8"/>
<circle cx="1801.1" cy="1877.6" r="4.5" fill="#3d5aa8"/>
<circle cx="1831.8" cy="1861.1" r="4.5" fill="#3d5aa8"/>
<polyline points="1516.9,1887.1 1539.9,1884.4 1570.7,1884.4 1593.7,1884.4 1624.4,1888.5 1647.5,1899.5 1678.2,1895.3 1708.9,1894 1731.9,1898.1 1755,1906.3 1778,1887.1 1801.1,1885.8 1831.8,1883" fill="none" stroke="#3d5aa8" stroke-width="1.9" stroke-linejoin="round"/>
<circle cx="1516.9" cy="1887.1" r="4.5" fill="#3d5aa8"/>
<circle cx="1539.9" cy="1884.4" r="4.5" fill="#3d5aa8"/>
<circle cx="1570.7" cy="1884.4" r="4.5" fill="#3d5aa8"/>
<circle cx="1593.7" cy="1884.4" r="4.5" fill="#3d5aa8"/>
<circle cx="1624.4" cy="1888.5" r="4.5" fill="#3d5aa8"/>
<circle cx="1647.5" cy="1899.5" r="4.5" fill="#3d5aa8"/>
<circle cx="1678.2" cy="1895.3" r="4.5" fill="#3d5aa8"/>
<circle cx="1708.9" cy="1894" r="4.5" fill="#3d5aa8"/>
<circle cx="1731.9" cy="1898.1" r="4.5" fill="#3d5aa8"/>
<circle cx="1755" cy="1906.3" r="4.5" fill="#3d5aa8"/>
<circle cx="1778" cy="1887.1" r="4.5" fill="#3d5aa8"/>
<circle cx="1801.1" cy="1885.8" r="4.5" fill="#3d5aa8"/>
<circle cx="1831.8" cy="1883" r="4.5" fill="#3d5aa8"/>
<polyline points="1516.9,1889.9 1539.9,1885.8 1570.7,1885.8 1593.7,1885.8 1624.4,1889.9 1647.5,1906.3 1678.2,1906.3 1708.9,1906.3 1731.9,1906.3 1755,1906.3 1778,1894 1801.1,1898.1 1831.8,1891.2" fill="none" stroke="#3d5aa8" stroke-width="1.9" stroke-linejoin="round"/>
<circle cx="1516.9" cy="1889.9" r="4.5" fill="#3d5aa8"/>
<circle cx="1539.9" cy="1885.8" r="4.5" fill="#3d5aa8"/>
<circle cx="1570.7" cy="1885.8" r="4.5" fill="#3d5aa8"/>
<circle cx="1593.7" cy="1885.8" r="4.5" fill="#3d5aa8"/>
<circle cx="1624.4" cy="1889.9" r="4.5" fill="#3d5aa8"/>
<circle cx="1647.5" cy="1906.3" r="4.5" fill="#3d5aa8"/>
<circle cx="1678.2" cy="1906.3" r="4.5" fill="#3d5aa8"/>
<circle cx="1708.9" cy="1906.3" r="4.5" fill="#3d5aa8"/>
<circle cx="1731.9" cy="1906.3" r="4.5" fill="#3d5aa8"/>
<circle cx="1755" cy="1906.3" r="4.5" fill="#3d5aa8"/>
<circle cx="1778" cy="1894" r="4.5" fill="#3d5aa8"/>
<circle cx="1801.1" cy="1898.1" r="4.5" fill="#3d5aa8"/>
<circle cx="1831.8" cy="1891.2" r="4.5" fill="#3d5aa8"/>
<polyline points="1516.9,1891.2 1539.9,1887.1 1570.7,1887.1 1593.7,1887.1 1624.4,1891.2 1647.5,1906.3 1678.2,1906.3 1708.9,1906.3 1731.9,1906.3 1755,1906.3 1778,1906.3 1801.1,1898.1 1831.8,1895.3" fill="none" stroke="#3d5aa8" stroke-width="1.9" stroke-linejoin="round"/>
<circle cx="1516.9" cy="1891.2" r="4.5" fill="#3d5aa8"/>
<circle cx="1539.9" cy="1887.1" r="4.5" fill="#3d5aa8"/>
<circle cx="1570.7" cy="1887.1" r="4.5" fill="#3d5aa8"/>
<circle cx="1593.7" cy="1887.1" r="4.5" fill="#3d5aa8"/>
<circle cx="1624.4" cy="1891.2" r="4.5" fill="#3d5aa8"/>
<circle cx="1647.5" cy="1906.3" r="4.5" fill="#3d5aa8"/>
<circle cx="1678.2" cy="1906.3" r="4.5" fill="#3d5aa8"/>
<circle cx="1708.9" cy="1906.3" r="4.5" fill="#3d5aa8"/>
<circle cx="1731.9" cy="1906.3" r="4.5" fill="#3d5aa8"/>
<circle cx="1755" cy="1906.3" r="4.5" fill="#3d5aa8"/>
<circle cx="1778" cy="1906.3" r="4.5" fill="#3d5aa8"/>
<circle cx="1801.1" cy="1898.1" r="4.5" fill="#3d5aa8"/>
<circle cx="1831.8" cy="1895.3" r="4.5" fill="#3d5aa8"/>
</g>
<g>
<text x="751" y="2068.9" font-size="20.2" font-weight="bold" stroke="#000" stroke-width="0.25" text-anchor="middle">JIMT-1 - HER2 Medium</text>
<line x1="589" y1="2098.4" x2="589" y2="2317.9" stroke="#000" stroke-width="3.6" stroke-linecap="butt"/>
<line x1="587.2" y1="2316.1" x2="915.3" y2="2316.1" stroke="#000" stroke-width="3.6" stroke-linecap="butt"/>
<line x1="583.2" y1="2316.1" x2="589" y2="2316.1" stroke="#000" stroke-width="3.6" stroke-linecap="butt"/>
<text x="581.2" y="2322.3" font-size="16" font-weight="bold" stroke="#000" stroke-width="0.25" text-anchor="end">0</text>
<line x1="583.2" y1="2244.1" x2="589" y2="2244.1" stroke="#000" stroke-width="3.6" stroke-linecap="butt"/>
<text x="581.2" y="2250.4" font-size="16" font-weight="bold" stroke="#000" stroke-width="0.25" text-anchor="end">500</text>
<line x1="583.2" y1="2172.2" x2="589" y2="2172.2" stroke="#000" stroke-width="3.6" stroke-linecap="butt"/>
<text x="581.2" y="2178.4" font-size="16" font-weight="bold" stroke="#000" stroke-width="0.25" text-anchor="end">1000</text>
<line x1="583.2" y1="2100.2" x2="589" y2="2100.2" stroke="#000" stroke-width="3.6" stroke-linecap="butt"/>
<text x="581.2" y="2106.4" font-size="16" font-weight="bold" stroke="#000" stroke-width="0.25" text-anchor="end">1500</text>
<line x1="604" y1="2316.1" x2="604" y2="2321.9" stroke="#000" stroke-width="3.6" stroke-linecap="butt"/>
<text x="604" y="2340.7" font-size="16" font-weight="bold" stroke="#000" stroke-width="0.25" text-anchor="middle">0</text>
<line x1="642.7" y1="2316.1" x2="642.7" y2="2321.9" stroke="#000" stroke-width="3.6" stroke-linecap="butt"/>
<text x="642.7" y="2340.7" font-size="16" font-weight="bold" stroke="#000" stroke-width="0.25" text-anchor="middle">5</text>
<line x1="681.4" y1="2316.1" x2="681.4" y2="2321.9" stroke="#000" stroke-width="3.6" stroke-linecap="butt"/>
<text x="681.4" y="2340.7" font-size="16" font-weight="bold" stroke="#000" stroke-width="0.25" text-anchor="middle">10</text>
<line x1="720.1" y1="2316.1" x2="720.1" y2="2321.9" stroke="#000" stroke-width="3.6" stroke-linecap="butt"/>
<text x="720.1" y="2340.7" font-size="16" font-weight="bold" stroke="#000" stroke-width="0.25" text-anchor="middle">15</text>
<line x1="758.8" y1="2316.1" x2="758.8" y2="2321.9" stroke="#000" stroke-width="3.6" stroke-linecap="butt"/>
<text x="758.8" y="2340.7" font-size="16" font-weight="bold" stroke="#000" stroke-width="0.25" text-anchor="middle">20</text>
<line x1="797.5" y1="2316.1" x2="797.5" y2="2321.9" stroke="#000" stroke-width="3.6" stroke-linecap="butt"/>
<text x="797.5" y="2340.7" font-size="16" font-weight="bold" stroke="#000" stroke-width="0.25" text-anchor="middle">25</text>
<line x1="836.2" y1="2316.1" x2="836.2" y2="2321.9" stroke="#000" stroke-width="3.6" stroke-linecap="butt"/>
<text x="836.2" y="2340.7" font-size="16" font-weight="bold" stroke="#000" stroke-width="0.25" text-anchor="middle">30</text>
<line x1="874.9" y1="2316.1" x2="874.9" y2="2321.9" stroke="#000" stroke-width="3.6" stroke-linecap="butt"/>
<text x="874.9" y="2340.7" font-size="16" font-weight="bold" stroke="#000" stroke-width="0.25" text-anchor="middle">35</text>
<line x1="913.6" y1="2316.1" x2="913.6" y2="2321.9" stroke="#000" stroke-width="3.6" stroke-linecap="butt"/>
<text x="913.6" y="2340.7" font-size="16" font-weight="bold" stroke="#000" stroke-width="0.25" text-anchor="middle">40</text>
<text x="751.8" y="2368.6" font-size="17.4" font-weight="bold" stroke="#000" stroke-width="0.25" text-anchor="middle">Day Post Treatment</text>
<text transform="translate(531.6,2208.1) rotate(-90)" font-size="17.4" font-weight="bold" stroke="#000" stroke-width="0.25" text-anchor="middle" y="6.3">Tumor Volume (mm<tspan dy="-7.3" font-size="13.6">3</tspan><tspan dy="7.3">)</tspan></text>
<line x1="603.6" y1="2103.8" x2="629.6" y2="2103.8" stroke="#e8392d" stroke-width="3" stroke-linecap="butt"/>
<rect x="611.1" y="2098.3" width="11" height="11" fill="#e8392d"/>
<text x="641.9" y="2109.8" font-size="16.6" text-anchor="start">Trastuzumab T785-ISAC</text>
<polyline points="596.3,2301.7 635,2300.3 658.2,2290.9 689.1,2285.9 712.4,2285.2 743.3,2277.2 758.8,2283.7 797.5,2280.1 820.7,2277.2 851.7,2260 874.9,2247 905.9,2222.5" fill="none" stroke="#e8392d" stroke-width="3" stroke-linejoin="round"/>
<rect x="590.8" y="2296.2" width="11" height="11" fill="#e8392d"/>
<rect x="629.5" y="2294.8" width="11" height="11" fill="#e8392d"/>
<rect x="652.7" y="2285.4" width="11" height="11" fill="#e8392d"/>
<rect x="683.6" y="2280.4" width="11" height="11" fill="#e8392d"/>
<rect x="706.9" y="2279.7" width="11" height="11" fill="#e8392d"/>
<rect x="737.8" y="2271.7" width="11" height="11" fill="#e8392d"/>
<rect x="753.3" y="2278.2" width="11" height="11" fill="#e8392d"/>
<rect x="792" y="2274.6" width="11" height="11" fill="#e8392d"/>
<rect x="815.2" y="2271.7" width="11" height="11" fill="#e8392d"/>
<rect x="846.2" y="2254.5" width="11" height="11" fill="#e8392d"/>
<rect x="869.4" y="2241.5" width="11" height="11" fill="#e8392d"/>
<rect x="900.4" y="2217" width="11" height="11" fill="#e8392d"/>
<polyline points="596.3,2303.1 635,2300.3 658.2,2292.4 689.1,2287.3 712.4,2286.6 743.3,2281.6 758.8,2285.2 797.5,2280.1 820.7,2277.2 851.7,2260 874.9,2249.9 905.9,2226.9" fill="none" stroke="#e8392d" stroke-width="3" stroke-linejoin="round"/>
<rect x="590.8" y="2297.6" width="11" height="11" fill="#e8392d"/>
<rect x="629.5" y="2294.8" width="11" height="11" fill="#e8392d"/>
<rect x="652.7" y="2286.9" width="11" height="11" fill="#e8392d"/>
<rect x="683.6" y="2281.8" width="11" height="11" fill="#e8392d"/>
<rect x="706.9" y="2281.1" width="11" height="11" fill="#e8392d"/>
<rect x="737.8" y="2276.1" width="11" height="11" fill="#e8392d"/>
<rect x="753.3" y="2279.7" width="11" height="11" fill="#e8392d"/>
<rect x="792" y="2274.6" width="11" height="11" fill="#e8392d"/>
<rect x="815.2" y="2271.7" width="11" height="11" fill="#e8392d"/>
<rect x="846.2" y="2254.5" width="11" height="11" fill="#e8392d"/>
<rect x="869.4" y="2244.4" width="11" height="11" fill="#e8392d"/>
<rect x="900.4" y="2221.4" width="11" height="11" fill="#e8392d"/>
<polyline points="596.3,2304.6 635,2301 658.2,2297.4 689.1,2294.5 712.4,2294.5 743.3,2290.2 758.8,2287.3 797.5,2280.1 820.7,2277.2 851.7,2272.9 874.9,2257.1 905.9,2249.9" fill="none" stroke="#e8392d" stroke-width="3" stroke-linejoin="round"/>
<rect x="590.8" y="2299.1" width="11" height="11" fill="#e8392d"/>
<rect x="629.5" y="2295.5" width="11" height="11" fill="#e8392d"/>
<rect x="652.7" y="2291.9" width="11" height="11" fill="#e8392d"/>
<rect x="683.6" y="2289" width="11" height="11" fill="#e8392d"/>
<rect x="706.9" y="2289" width="11" height="11" fill="#e8392d"/>
<rect x="737.8" y="2284.7" width="11" height="11" fill="#e8392d"/>
<rect x="753.3" y="2281.8" width="11" height="11" fill="#e8392d"/>
<rect x="792" y="2274.6" width="11" height="11" fill="#e8392d"/>
<rect x="815.2" y="2271.7" width="11" height="11" fill="#e8392d"/>
<rect x="846.2" y="2267.4" width="11" height="11" fill="#e8392d"/>
<rect x="869.4" y="2251.6" width="11" height="11" fill="#e8392d"/>
<rect x="900.4" y="2244.4" width="11" height="11" fill="#e8392d"/>
<polyline points="596.3,2306 635,2301.7 658.2,2297.4 689.1,2295.9 712.4,2291.6 743.3,2284.4 758.8,2287.3 797.5,2278.7 820.7,2276.5 851.7,2259.2 874.9,2247 905.9,2229.7" fill="none" stroke="#e8392d" stroke-width="3" stroke-linejoin="round"/>
<rect x="590.8" y="2300.5" width="11" height="11" fill="#e8392d"/>
<rect x="629.5" y="2296.2" width="11" height="11" fill="#e8392d"/>
<rect x="652.7" y="2291.9" width="11" height="11" fill="#e8392d"/>
<rect x="683.6" y="2290.4" width="11" height="11" fill="#e8392d"/>
<rect x="706.9" y="2286.1" width="11" height="11" fill="#e8392d"/>
<rect x="737.8" y="2278.9" width="11" height="11" fill="#e8392d"/>
<rect x="753.3" y="2281.8" width="11" height="11" fill="#e8392d"/>
<rect x="792" y="2273.2" width="11" height="11" fill="#e8392d"/>
<rect x="815.2" y="2271" width="11" height="11" fill="#e8392d"/>
<rect x="846.2" y="2253.7" width="11" height="11" fill="#e8392d"/>
<rect x="869.4" y="2241.5" width="11" height="11" fill="#e8392d"/>
<rect x="900.4" y="2224.2" width="11" height="11" fill="#e8392d"/>
</g>
<g>
<text x="1210" y="2068.9" font-size="20.2" font-weight="bold" stroke="#000" stroke-width="0.25" text-anchor="middle">JIMT-1 - HER2 Medium</text>
<line x1="1044.7" y1="2098.4" x2="1044.7" y2="2317.9" stroke="#000" stroke-width="3.6" stroke-linecap="butt"/>
<line x1="1042.9" y1="2316.1" x2="1373.8" y2="2316.1" stroke="#000" stroke-width="3.6" stroke-linecap="butt"/>
<line x1="1038.9" y1="2316.1" x2="1044.7" y2="2316.1" stroke="#000" stroke-width="3.6" stroke-linecap="butt"/>
<text x="1036.9" y="2322.3" font-size="16" font-weight="bold" stroke="#000" stroke-width="0.25" text-anchor="end">0</text>
<line x1="1038.9" y1="2244.1" x2="1044.7" y2="2244.1" stroke="#000" stroke-width="3.6" stroke-linecap="butt"/>
<text x="1036.9" y="2250.4" font-size="16" font-weight="bold" stroke="#000" stroke-width="0.25" text-anchor="end">500</text>
<line x1="1038.9" y1="2172.2" x2="1044.7" y2="2172.2" stroke="#000" stroke-width="3.6" stroke-linecap="butt"/>
<text x="1036.9" y="2178.4" font-size="16" font-weight="bold" stroke="#000" stroke-width="0.25" text-anchor="end">1000</text>
<line x1="1038.9" y1="2100.2" x2="1044.7" y2="2100.2" stroke="#000" stroke-width="3.6" stroke-linecap="butt"/>
<text x="1036.9" y="2106.4" font-size="16" font-weight="bold" stroke="#000" stroke-width="0.25" text-anchor="end">1500</text>
<line x1="1062.8" y1="2316.1" x2="1062.8" y2="2321.9" stroke="#000" stroke-width="3.6" stroke-linecap="butt"/>
<text x="1062.8" y="2340.7" font-size="16" font-weight="bold" stroke="#000" stroke-width="0.25" text-anchor="middle">0</text>
<line x1="1101.5" y1="2316.1" x2="1101.5" y2="2321.9" stroke="#000" stroke-width="3.6" stroke-linecap="butt"/>
<text x="1101.5" y="2340.7" font-size="16" font-weight="bold" stroke="#000" stroke-width="0.25" text-anchor="middle">5</text>
<line x1="1140.2" y1="2316.1" x2="1140.2" y2="2321.9" stroke="#000" stroke-width="3.6" stroke-linecap="butt"/>
<text x="1140.2" y="2340.7" font-size="16" font-weight="bold" stroke="#000" stroke-width="0.25" text-anchor="middle">10</text>
<line x1="1178.9" y1="2316.1" x2="1178.9" y2="2321.9" stroke="#000" stroke-width="3.6" stroke-linecap="butt"/>
<text x="1178.9" y="2340.7" font-size="16" font-weight="bold" stroke="#000" stroke-width="0.25" text-anchor="middle">15</text>
<line x1="1217.6" y1="2316.1" x2="1217.6" y2="2321.9" stroke="#000" stroke-width="3.6" stroke-linecap="butt"/>
<text x="1217.6" y="2340.7" font-size="16" font-weight="bold" stroke="#000" stroke-width="0.25" text-anchor="middle">20</text>
<line x1="1256.3" y1="2316.1" x2="1256.3" y2="2321.9" stroke="#000" stroke-width="3.6" stroke-linecap="butt"/>
<text x="1256.3" y="2340.7" font-size="16" font-weight="bold" stroke="#000" stroke-width="0.25" text-anchor="middle">25</text>
<line x1="1295" y1="2316.1" x2="1295" y2="2321.9" stroke="#000" stroke-width="3.6" stroke-linecap="butt"/>
<text x="1295" y="2340.7" font-size="16" font-weight="bold" stroke="#000" stroke-width="0.25" text-anchor="middle">30</text>
<line x1="1333.7" y1="2316.1" x2="1333.7" y2="2321.9" stroke="#000" stroke-width="3.6" stroke-linecap="butt"/>
<text x="1333.7" y="2340.7" font-size="16" font-weight="bold" stroke="#000" stroke-width="0.25" text-anchor="middle">35</text>
<line x1="1372.4" y1="2316.1" x2="1372.4" y2="2321.9" stroke="#000" stroke-width="3.6" stroke-linecap="butt"/>
<text x="1372.4" y="2340.7" font-size="16" font-weight="bold" stroke="#000" stroke-width="0.25" text-anchor="middle">40</text>
<text x="1210" y="2368.6" font-size="17.4" font-weight="bold" stroke="#000" stroke-width="0.25" text-anchor="middle">Day Post Treatment</text>
<text transform="translate(989.8,2208.1) rotate(-90)" font-size="17.4" font-weight="bold" stroke="#000" stroke-width="0.25" text-anchor="middle" y="6.3">Tumor Volume (mm<tspan dy="-7.3" font-size="13.6">3</tspan><tspan dy="7.3">)</tspan></text>
<line x1="1061.8" y1="2104" x2="1087.8" y2="2104" stroke="#000000" stroke-width="3" stroke-linecap="butt"/>
<circle cx="1074.8" cy="2104" r="5.5" fill="#000000"/>
<text x="1100.4" y="2110" font-size="16.6" text-anchor="start">Trastuzumab</text>
<polyline points="1055.1,2301.7 1093.8,2300.3 1117,2295.9 1147.9,2283 1171.2,2277.2 1202.1,2261.4 1217.6,2252.8 1256.3,2226.9 1279.5,2218.2 1310.5,2188 1333.7,2166.4 1364.7,2120.4" fill="none" stroke="#000000" stroke-width="3" stroke-linejoin="round"/>
<circle cx="1055.1" cy="2301.7" r="5.5" fill="#000000"/>
<circle cx="1093.8" cy="2300.3" r="5.5" fill="#000000"/>
<circle cx="1117" cy="2295.9" r="5.5" fill="#000000"/>
<circle cx="1147.9" cy="2283" r="5.5" fill="#000000"/>
<circle cx="1171.2" cy="2277.2" r="5.5" fill="#000000"/>
<circle cx="1202.1" cy="2261.4" r="5.5" fill="#000000"/>
<circle cx="1217.6" cy="2252.8" r="5.5" fill="#000000"/>
<circle cx="1256.3" cy="2226.9" r="5.5" fill="#000000"/>
<circle cx="1279.5" cy="2218.2" r="5.5" fill="#000000"/>
<circle cx="1310.5" cy="2188" r="5.5" fill="#000000"/>
<circle cx="1333.7" cy="2166.4" r="5.5" fill="#000000"/>
<circle cx="1364.7" cy="2120.4" r="5.5" fill="#000000"/>
<polyline points="1055.1,2303.1 1093.8,2301.7 1117,2297.4 1147.9,2291.6 1171.2,2280.1 1202.1,2271.5 1217.6,2261.4 1256.3,2239.8 1279.5,2231.2 1310.5,2209.6 1333.7,2179.4 1364.7,2136.2" fill="none" stroke="#000000" stroke-width="3" stroke-linejoin="round"/>
<circle cx="1055.1" cy="2303.1" r="5.5" fill="#000000"/>
<circle cx="1093.8" cy="2301.7" r="5.5" fill="#000000"/>
<circle cx="1117" cy="2297.4" r="5.5" fill="#000000"/>
<circle cx="1147.9" cy="2291.6" r="5.5" fill="#000000"/>
<circle cx="1171.2" cy="2280.1" r="5.5" fill="#000000"/>
<circle cx="1202.1" cy="2271.5" r="5.5" fill="#000000"/>
<circle cx="1217.6" cy="2261.4" r="5.5" fill="#000000"/>
<circle cx="1256.3" cy="2239.8" r="5.5" fill="#000000"/>
<circle cx="1279.5" cy="2231.2" r="5.5" fill="#000000"/>
<circle cx="1310.5" cy="2209.6" r="5.5" fill="#000000"/>
<circle cx="1333.7" cy="2179.4" r="5.5" fill="#000000"/>
<circle cx="1364.7" cy="2136.2" r="5.5" fill="#000000"/>
<polyline points="1055.1,2304.6 1093.8,2303.1 1117,2298.8 1147.9,2298.8 1171.2,2297.4 1202.1,2287.3 1217.6,2285.9 1256.3,2272.9 1279.5,2265.7 1310.5,2248.5 1333.7,2232.6 1364.7,2205.3" fill="none" stroke="#000000" stroke-width="3" stroke-linejoin="round"/>
<circle cx="1055.1" cy="2304.6" r="5.5" fill="#000000"/>
<circle cx="1093.8" cy="2303.1" r="5.5" fill="#000000"/>
<circle cx="1117" cy="2298.8" r="5.5" fill="#000000"/>
<circle cx="1147.9" cy="2298.8" r="5.5" fill="#000000"/>
<circle cx="1171.2" cy="2297.4" r="5.5" fill="#000000"/>
<circle cx="1202.1" cy="2287.3" r="5.5" fill="#000000"/>
<circle cx="1217.6" cy="2285.9" r="5.5" fill="#000000"/>
<circle cx="1256.3" cy="2272.9" r="5.5" fill="#000000"/>
<circle cx="1279.5" cy="2265.7" r="5.5" fill="#000000"/>
<circle cx="1310.5" cy="2248.5" r="5.5" fill="#000000"/>
<circle cx="1333.7" cy="2232.6" r="5.5" fill="#000000"/>
<circle cx="1364.7" cy="2205.3" r="5.5" fill="#000000"/>
</g>
<g>
<text x="1682" y="2068.9" font-size="20.2" font-weight="bold" stroke="#000" stroke-width="0.25" text-anchor="middle">JIMT-1 - HER2 Medium</text>
<line x1="1517" y1="2098.4" x2="1517" y2="2317.9" stroke="#000" stroke-width="3.6" stroke-linecap="butt"/>
<line x1="1515.2" y1="2316.1" x2="1846.3" y2="2316.1" stroke="#000" stroke-width="3.6" stroke-linecap="butt"/>
<line x1="1511.2" y1="2316.1" x2="1517" y2="2316.1" stroke="#000" stroke-width="3.6" stroke-linecap="butt"/>
<text x="1509.2" y="2322.3" font-size="16" font-weight="bold" stroke="#000" stroke-width="0.25" text-anchor="end">0</text>
<line x1="1511.2" y1="2244.1" x2="1517" y2="2244.1" stroke="#000" stroke-width="3.6" stroke-linecap="butt"/>
<text x="1509.2" y="2250.4" font-size="16" font-weight="bold" stroke="#000" stroke-width="0.25" text-anchor="end">500</text>
<line x1="1511.2" y1="2172.2" x2="1517" y2="2172.2" stroke="#000" stroke-width="3.6" stroke-linecap="butt"/>
<text x="1509.2" y="2178.4" font-size="16" font-weight="bold" stroke="#000" stroke-width="0.25" text-anchor="end">1000</text>
<line x1="1511.2" y1="2100.2" x2="1517" y2="2100.2" stroke="#000" stroke-width="3.6" stroke-linecap="butt"/>
<text x="1509.2" y="2106.4" font-size="16" font-weight="bold" stroke="#000" stroke-width="0.25" text-anchor="end">1500</text>
<line x1="1535" y1="2316.1" x2="1535" y2="2321.9" stroke="#000" stroke-width="3.6" stroke-linecap="butt"/>
<text x="1535" y="2340.7" font-size="16" font-weight="bold" stroke="#000" stroke-width="0.25" text-anchor="middle">0</text>
<line x1="1573.7" y1="2316.1" x2="1573.7" y2="2321.9" stroke="#000" stroke-width="3.6" stroke-linecap="butt"/>
<text x="1573.7" y="2340.7" font-size="16" font-weight="bold" stroke="#000" stroke-width="0.25" text-anchor="middle">5</text>
<line x1="1612.4" y1="2316.1" x2="1612.4" y2="2321.9" stroke="#000" stroke-width="3.6" stroke-linecap="butt"/>
<text x="1612.4" y="2340.7" font-size="16" font-weight="bold" stroke="#000" stroke-width="0.25" text-anchor="middle">10</text>
<line x1="1651.1" y1="2316.1" x2="1651.1" y2="2321.9" stroke="#000" stroke-width="3.6" stroke-linecap="butt"/>
<text x="1651.1" y="2340.7" font-size="16" font-weight="bold" stroke="#000" stroke-width="0.25" text-anchor="middle">15</text>
<line x1="1689.8" y1="2316.1" x2="1689.8" y2="2321.9" stroke="#000" stroke-width="3.6" stroke-linecap="butt"/>
<text x="1689.8" y="2340.7" font-size="16" font-weight="bold" stroke="#000" stroke-width="0.25" text-anchor="middle">20</text>
<line x1="1728.5" y1="2316.1" x2="1728.5" y2="2321.9" stroke="#000" stroke-width="3.6" stroke-linecap="butt"/>
<text x="1728.5" y="2340.7" font-size="16" font-weight="bold" stroke="#000" stroke-width="0.25" text-anchor="middle">25</text>
<line x1="1767.2" y1="2316.1" x2="1767.2" y2="2321.9" stroke="#000" stroke-width="3.6" stroke-linecap="butt"/>
<text x="1767.2" y="2340.7" font-size="16" font-weight="bold" stroke="#000" stroke-width="0.25" text-anchor="middle">30</text>
<line x1="1805.9" y1="2316.1" x2="1805.9" y2="2321.9" stroke="#000" stroke-width="3.6" stroke-linecap="butt"/>
<text x="1805.9" y="2340.7" font-size="16" font-weight="bold" stroke="#000" stroke-width="0.25" text-anchor="middle">35</text>
<line x1="1844.6" y1="2316.1" x2="1844.6" y2="2321.9" stroke="#000" stroke-width="3.6" stroke-linecap="butt"/>
<text x="1844.6" y="2340.7" font-size="16" font-weight="bold" stroke="#000" stroke-width="0.25" text-anchor="middle">40</text>
<text x="1682.3" y="2368.6" font-size="17.4" font-weight="bold" stroke="#000" stroke-width="0.25" text-anchor="middle">Day Post Treatment</text>
<text transform="translate(1461,2208.1) rotate(-90)" font-size="17.4" font-weight="bold" stroke="#000" stroke-width="0.25" text-anchor="middle" y="6.3">Tumor Volume (mm<tspan dy="-7.3" font-size="13.6">3</tspan><tspan dy="7.3">)</tspan></text>
<line x1="1533.8" y1="2104" x2="1559.8" y2="2104" stroke="#3d5aa8" stroke-width="3" stroke-linecap="butt"/>
<polygon points="1546.8,2098.2 1540.8,2108.1 1552.8,2108.1" fill="#3d5aa8"/>
<text x="1571.7" y="2110" font-size="16.6" text-anchor="start">Rituximab T785-ISAC</text>
<polyline points="1527.3,2303.1 1566,2303.1 1589.2,2300.3 1620.1,2291.6 1643.4,2289.5 1674.3,2281.6 1689.8,2272.9 1728.5,2261.4 1751.7,2248.5 1782.7,2229.7 1805.9,2190.9 1836.9,2179.4" fill="none" stroke="#3d5aa8" stroke-width="3" stroke-linejoin="round"/>
<polygon points="1527.3,2297.4 1521.2,2307.3 1533.3,2307.3" fill="#3d5aa8"/>
<polygon points="1566,2297.4 1559.9,2307.3 1572,2307.3" fill="#3d5aa8"/>
<polygon points="1589.2,2294.5 1583.1,2304.4 1595.2,2304.4" fill="#3d5aa8"/>
<polygon points="1620.1,2285.9 1614.1,2295.8 1626.2,2295.8" fill="#3d5aa8"/>
<polygon points="1643.4,2283.7 1637.3,2293.6 1649.4,2293.6" fill="#3d5aa8"/>
<polygon points="1674.3,2275.8 1668.3,2285.7 1680.4,2285.7" fill="#3d5aa8"/>
<polygon points="1689.8,2267.1 1683.8,2277 1695.8,2277" fill="#3d5aa8"/>
<polygon points="1728.5,2255.6 1722.5,2265.5 1734.5,2265.5" fill="#3d5aa8"/>
<polygon points="1751.7,2242.7 1745.7,2252.6 1757.8,2252.6" fill="#3d5aa8"/>
<polygon points="1782.7,2224 1776.6,2233.9 1788.7,2233.9" fill="#3d5aa8"/>
<polygon points="1805.9,2185.1 1799.9,2195 1812,2195" fill="#3d5aa8"/>
<polygon points="1836.9,2173.6 1830.8,2183.5 1842.9,2183.5" fill="#3d5aa8"/>
<polyline points="1527.3,2303.9 1566,2304.6 1589.2,2301.7 1620.1,2293.1 1643.4,2293.1 1674.3,2284.4 1689.8,2275.8 1728.5,2261.4 1751.7,2252.8 1782.7,2236.9 1805.9,2211 1836.9,2186.6" fill="none" stroke="#3d5aa8" stroke-width="3" stroke-linejoin="round"/>
<polygon points="1527.3,2298.1 1521.2,2308 1533.3,2308" fill="#3d5aa8"/>
<polygon points="1566,2298.8 1559.9,2308.7 1572,2308.7" fill="#3d5aa8"/>
<polygon points="1589.2,2295.9 1583.1,2305.8 1595.2,2305.8" fill="#3d5aa8"/>
<polygon points="1620.1,2287.3 1614.1,2297.2 1626.2,2297.2" fill="#3d5aa8"/>
<polygon points="1643.4,2287.3 1637.3,2297.2 1649.4,2297.2" fill="#3d5aa8"/>
<polygon points="1674.3,2278.7 1668.3,2288.6 1680.4,2288.6" fill="#3d5aa8"/>
<polygon points="1689.8,2270 1683.8,2279.9 1695.8,2279.9" fill="#3d5aa8"/>
<polygon points="1728.5,2255.6 1722.5,2265.5 1734.5,2265.5" fill="#3d5aa8"/>
<polygon points="1751.7,2247 1745.7,2256.9 1757.8,2256.9" fill="#3d5aa8"/>
<polygon points="1782.7,2231.2 1776.6,2241.1 1788.7,2241.1" fill="#3d5aa8"/>
<polygon points="1805.9,2205.3 1799.9,2215.2 1812,2215.2" fill="#3d5aa8"/>
<polygon points="1836.9,2180.8 1830.8,2190.7 1842.9,2190.7" fill="#3d5aa8"/>
<polyline points="1527.3,2305.3 1566,2306.7 1589.2,2304.6 1620.1,2300.3 1643.4,2299.5 1674.3,2294.5 1689.8,2291.6 1728.5,2278.7 1751.7,2272.9 1782.7,2258.5 1805.9,2248.5 1836.9,2229.7" fill="none" stroke="#3d5aa8" stroke-width="3" stroke-linejoin="round"/>
<polygon points="1527.3,2299.5 1521.2,2309.4 1533.3,2309.4" fill="#3d5aa8"/>
<polygon points="1566,2301 1559.9,2310.9 1572,2310.9" fill="#3d5aa8"/>
<polygon points="1589.2,2298.8 1583.1,2308.7 1595.2,2308.7" fill="#3d5aa8"/>
<polygon points="1620.1,2294.5 1614.1,2304.4 1626.2,2304.4" fill="#3d5aa8"/>
<polygon points="1643.4,2293.8 1637.3,2303.7 1649.4,2303.7" fill="#3d5aa8"/>
<polygon points="1674.3,2288.7 1668.3,2298.6 1680.4,2298.6" fill="#3d5aa8"/>
<polygon points="1689.8,2285.9 1683.8,2295.8 1695.8,2295.8" fill="#3d5aa8"/>
<polygon points="1728.5,2272.9 1722.5,2282.8 1734.5,2282.8" fill="#3d5aa8"/>
<polygon points="1751.7,2267.1 1745.7,2277 1757.8,2277" fill="#3d5aa8"/>
<polygon points="1782.7,2252.8 1776.6,2262.7 1788.7,2262.7" fill="#3d5aa8"/>
<polygon points="1805.9,2242.7 1799.9,2252.6 1812,2252.6" fill="#3d5aa8"/>
<polygon points="1836.9,2224 1830.8,2233.9 1842.9,2233.9" fill="#3d5aa8"/>
</g>
<g>
<text x="248.3" y="2449.6" font-size="17.8" font-weight="bold" stroke="#000" stroke-width="0.25" text-anchor="middle">JIMT-1 - Combination Therapy</text>
<line x1="103.7" y1="2474.7" x2="103.7" y2="2666.8" stroke="#000" stroke-width="3.2" stroke-linecap="butt"/>
<line x1="102.1" y1="2665.2" x2="390.6" y2="2665.2" stroke="#000" stroke-width="3.2" stroke-linecap="butt"/>
<line x1="98.1" y1="2665.2" x2="103.7" y2="2665.2" stroke="#000" stroke-width="3.2" stroke-linecap="butt"/>
<text x="96.1" y="2670.9" font-size="14.6" font-weight="bold" stroke="#000" stroke-width="0.25" text-anchor="end">0</text>
<line x1="98.1" y1="2627.4" x2="103.7" y2="2627.4" stroke="#000" stroke-width="3.2" stroke-linecap="butt"/>
<text x="96.1" y="2633.1" font-size="14.6" font-weight="bold" stroke="#000" stroke-width="0.25" text-anchor="end">500</text>
<line x1="98.1" y1="2589.6" x2="103.7" y2="2589.6" stroke="#000" stroke-width="3.2" stroke-linecap="butt"/>
<text x="96.1" y="2595.3" font-size="14.6" font-weight="bold" stroke="#000" stroke-width="0.25" text-anchor="end">1000</text>
<line x1="98.1" y1="2551.9" x2="103.7" y2="2551.9" stroke="#000" stroke-width="3.2" stroke-linecap="butt"/>
<text x="96.1" y="2557.6" font-size="14.6" font-weight="bold" stroke="#000" stroke-width="0.25" text-anchor="end">1500</text>
<line x1="98.1" y1="2514.1" x2="103.7" y2="2514.1" stroke="#000" stroke-width="3.2" stroke-linecap="butt"/>
<text x="96.1" y="2519.8" font-size="14.6" font-weight="bold" stroke="#000" stroke-width="0.25" text-anchor="end">2000</text>
<line x1="98.1" y1="2476.3" x2="103.7" y2="2476.3" stroke="#000" stroke-width="3.2" stroke-linecap="butt"/>
<text x="96.1" y="2482" font-size="14.6" font-weight="bold" stroke="#000" stroke-width="0.25" text-anchor="end">2500</text>
<line x1="114.9" y1="2665.2" x2="114.9" y2="2670.8" stroke="#000" stroke-width="3.2" stroke-linecap="butt"/>
<text x="114.9" y="2686.2" font-size="14.6" font-weight="bold" stroke="#000" stroke-width="0.25" text-anchor="middle">0</text>
<line x1="154.1" y1="2665.2" x2="154.1" y2="2670.8" stroke="#000" stroke-width="3.2" stroke-linecap="butt"/>
<text x="154.1" y="2686.2" font-size="14.6" font-weight="bold" stroke="#000" stroke-width="0.25" text-anchor="middle">10</text>
<line x1="193.3" y1="2665.2" x2="193.3" y2="2670.8" stroke="#000" stroke-width="3.2" stroke-linecap="butt"/>
<text x="193.3" y="2686.2" font-size="14.6" font-weight="bold" stroke="#000" stroke-width="0.25" text-anchor="middle">20</text>
<line x1="232.5" y1="2665.2" x2="232.5" y2="2670.8" stroke="#000" stroke-width="3.2" stroke-linecap="butt"/>
<text x="232.5" y="2686.2" font-size="14.6" font-weight="bold" stroke="#000" stroke-width="0.25" text-anchor="middle">30</text>
<line x1="271.7" y1="2665.2" x2="271.7" y2="2670.8" stroke="#000" stroke-width="3.2" stroke-linecap="butt"/>
<text x="271.7" y="2686.2" font-size="14.6" font-weight="bold" stroke="#000" stroke-width="0.25" text-anchor="middle">40</text>
<line x1="310.9" y1="2665.2" x2="310.9" y2="2670.8" stroke="#000" stroke-width="3.2" stroke-linecap="butt"/>
<text x="310.9" y="2686.2" font-size="14.6" font-weight="bold" stroke="#000" stroke-width="0.25" text-anchor="middle">50</text>
<line x1="350.1" y1="2665.2" x2="350.1" y2="2670.8" stroke="#000" stroke-width="3.2" stroke-linecap="butt"/>
<text x="350.1" y="2686.2" font-size="14.6" font-weight="bold" stroke="#000" stroke-width="0.25" text-anchor="middle">60</text>
<line x1="389.3" y1="2665.2" x2="389.3" y2="2670.8" stroke="#000" stroke-width="3.2" stroke-linecap="butt"/>
<text x="389.3" y="2686.2" font-size="14.6" font-weight="bold" stroke="#000" stroke-width="0.25" text-anchor="middle">70</text>
<text x="251" y="2710.7" font-size="15.6" font-weight="bold" stroke="#000" stroke-width="0.25" text-anchor="middle">Day Post Treatment</text>
<text transform="translate(52.1,2570.8) rotate(-90)" font-size="14.9" font-weight="bold" stroke="#000" stroke-width="0.25" text-anchor="middle" y="5.4">Tumor Volume (mm<tspan dy="-6.3" font-size="11.6">3</tspan><tspan dy="6.3">)</tspan></text>
<line x1="115.5" y1="2480.9" x2="137.5" y2="2480.9" stroke="#e8392d" stroke-width="2.6" stroke-linecap="butt"/>
<rect x="121.2" y="2475.7" width="10.5" height="10.5" fill="#e8392d"/>
<text x="148.2" y="2486.9" font-size="16.6" text-anchor="start">Trastuzumab T785-ISAC</text>
<polyline points="107.1,2660.7 118.8,2659.2 138.4,2658.4 146.3,2658.4 161.9,2656.9 177.6,2655.4 193.3,2653.1 205.1,2651.6 216.8,2650.1 232.5,2648.6 244.3,2647.8 256,2646.3 271.7,2644.8 283.5,2641 299.1,2636.5 310.9,2632.7 326.6,2624.4 338.3,2616.1 354,2603.2 369.7,2583.6 381.5,2574.5" fill="none" stroke="#e8392d" stroke-width="2.6" stroke-linejoin="round"/>
<rect x="101.8" y="2655.4" width="10.5" height="10.5" fill="#e8392d"/>
<rect x="113.6" y="2653.9" width="10.5" height="10.5" fill="#e8392d"/>
<rect x="133.2" y="2653.1" width="10.5" height="10.5" fill="#e8392d"/>
<rect x="141" y="2653.1" width="10.5" height="10.5" fill="#e8392d"/>
<rect x="156.7" y="2651.6" width="10.5" height="10.5" fill="#e8392d"/>
<rect x="172.4" y="2650.1" width="10.5" height="10.5" fill="#e8392d"/>
<rect x="188.1" y="2647.9" width="10.5" height="10.5" fill="#e8392d"/>
<rect x="199.8" y="2646.3" width="10.5" height="10.5" fill="#e8392d"/>
<rect x="211.6" y="2644.8" width="10.5" height="10.5" fill="#e8392d"/>
<rect x="227.2" y="2643.3" width="10.5" height="10.5" fill="#e8392d"/>
<rect x="239" y="2642.6" width="10.5" height="10.5" fill="#e8392d"/>
<rect x="250.8" y="2641.1" width="10.5" height="10.5" fill="#e8392d"/>
<rect x="266.5" y="2639.5" width="10.5" height="10.5" fill="#e8392d"/>
<rect x="278.2" y="2635.8" width="10.5" height="10.5" fill="#e8392d"/>
<rect x="293.9" y="2631.2" width="10.5" height="10.5" fill="#e8392d"/>
<rect x="305.6" y="2627.5" width="10.5" height="10.5" fill="#e8392d"/>
<rect x="321.3" y="2619.1" width="10.5" height="10.5" fill="#e8392d"/>
<rect x="333.1" y="2610.8" width="10.5" height="10.5" fill="#e8392d"/>
<rect x="348.8" y="2598" width="10.5" height="10.5" fill="#e8392d"/>
<rect x="364.4" y="2578.3" width="10.5" height="10.5" fill="#e8392d"/>
<rect x="376.2" y="2569.3" width="10.5" height="10.5" fill="#e8392d"/>
<polyline points="107.1,2660.7 118.8,2659.9 138.4,2659.2 146.3,2659.9 161.9,2658.4 177.6,2657.6 193.3,2656.1 205.1,2654.6 216.8,2653.1 232.5,2651.6 244.3,2650.8 256,2650.1 271.7,2648.6 283.5,2647.1 299.1,2646.3 310.9,2645.6 326.6,2644 338.3,2642.5 354,2635 369.7,2618.4 381.5,2607.8" fill="none" stroke="#e8392d" stroke-width="2.6" stroke-linejoin="round"/>
<rect x="101.8" y="2655.4" width="10.5" height="10.5" fill="#e8392d"/>
<rect x="113.6" y="2654.7" width="10.5" height="10.5" fill="#e8392d"/>
<rect x="133.2" y="2653.9" width="10.5" height="10.5" fill="#e8392d"/>
<rect x="141" y="2654.7" width="10.5" height="10.5" fill="#e8392d"/>
<rect x="156.7" y="2653.1" width="10.5" height="10.5" fill="#e8392d"/>
<rect x="172.4" y="2652.4" width="10.5" height="10.5" fill="#e8392d"/>
<rect x="188.1" y="2650.9" width="10.5" height="10.5" fill="#e8392d"/>
<rect x="199.8" y="2649.4" width="10.5" height="10.5" fill="#e8392d"/>
<rect x="211.6" y="2647.9" width="10.5" height="10.5" fill="#e8392d"/>
<rect x="227.2" y="2646.3" width="10.5" height="10.5" fill="#e8392d"/>
<rect x="239" y="2645.6" width="10.5" height="10.5" fill="#e8392d"/>
<rect x="250.8" y="2644.8" width="10.5" height="10.5" fill="#e8392d"/>
<rect x="266.5" y="2643.3" width="10.5" height="10.5" fill="#e8392d"/>
<rect x="278.2" y="2641.8" width="10.5" height="10.5" fill="#e8392d"/>
<rect x="293.9" y="2641.1" width="10.5" height="10.5" fill="#e8392d"/>
<rect x="305.6" y="2640.3" width="10.5" height="10.5" fill="#e8392d"/>
<rect x="321.3" y="2638.8" width="10.5" height="10.5" fill="#e8392d"/>
<rect x="333.1" y="2637.3" width="10.5" height="10.5" fill="#e8392d"/>
<rect x="348.8" y="2629.7" width="10.5" height="10.5" fill="#e8392d"/>
<rect x="364.4" y="2613.1" width="10.5" height="10.5" fill="#e8392d"/>
<rect x="376.2" y="2602.5" width="10.5" height="10.5" fill="#e8392d"/>
<polyline points="107.1,2661.4 118.8,2660.7 138.4,2659.9 146.3,2660.7 161.9,2659.2 177.6,2658.4 193.3,2657.6 205.1,2656.9 216.8,2655.4 232.5,2654.6 244.3,2653.9 256,2653.1 271.7,2651.6 283.5,2650.1 299.1,2650.1 310.9,2649.3 326.6,2648.6 338.3,2644 354,2636.5 369.7,2624.4 381.5,2616.1" fill="none" stroke="#e8392d" stroke-width="2.6" stroke-linejoin="round"/>
<rect x="101.8" y="2656.2" width="10.5" height="10.5" fill="#e8392d"/>
<rect x="113.6" y="2655.4" width="10.5" height="10.5" fill="#e8392d"/>
<rect x="133.2" y="2654.7" width="10.5" height="10.5" fill="#e8392d"/>
<rect x="141" y="2655.4" width="10.5" height="10.5" fill="#e8392d"/>
<rect x="156.7" y="2653.9" width="10.5" height="10.5" fill="#e8392d"/>
<rect x="172.4" y="2653.1" width="10.5" height="10.5" fill="#e8392d"/>
<rect x="188.1" y="2652.4" width="10.5" height="10.5" fill="#e8392d"/>
<rect x="199.8" y="2651.6" width="10.5" height="10.5" fill="#e8392d"/>
<rect x="211.6" y="2650.1" width="10.5" height="10.5" fill="#e8392d"/>
<rect x="227.2" y="2649.4" width="10.5" height="10.5" fill="#e8392d"/>
<rect x="239" y="2648.6" width="10.5" height="10.5" fill="#e8392d"/>
<rect x="250.8" y="2647.9" width="10.5" height="10.5" fill="#e8392d"/>
<rect x="266.5" y="2646.3" width="10.5" height="10.5" fill="#e8392d"/>
<rect x="278.2" y="2644.8" width="10.5" height="10.5" fill="#e8392d"/>
<rect x="293.9" y="2644.8" width="10.5" height="10.5" fill="#e8392d"/>
<rect x="305.6" y="2644.1" width="10.5" height="10.5" fill="#e8392d"/>
<rect x="321.3" y="2643.3" width="10.5" height="10.5" fill="#e8392d"/>
<rect x="333.1" y="2638.8" width="10.5" height="10.5" fill="#e8392d"/>
<rect x="348.8" y="2631.2" width="10.5" height="10.5" fill="#e8392d"/>
<rect x="364.4" y="2619.1" width="10.5" height="10.5" fill="#e8392d"/>
<rect x="376.2" y="2610.8" width="10.5" height="10.5" fill="#e8392d"/>
<polyline points="107.1,2662.2 118.8,2661.4 138.4,2660.7 146.3,2661.4 161.9,2660.7 177.6,2659.9 193.3,2659.2 205.1,2658.4 216.8,2657.6 232.5,2656.9 244.3,2656.1 256,2656.1 271.7,2655.4 283.5,2653.1 299.1,2652.4 310.9,2651.6 326.6,2648.6 338.3,2644.8 354,2639.5 369.7,2630.4 381.5,2622.9" fill="none" stroke="#e8392d" stroke-width="2.6" stroke-linejoin="round"/>
<rect x="101.8" y="2656.9" width="10.5" height="10.5" fill="#e8392d"/>
<rect x="113.6" y="2656.2" width="10.5" height="10.5" fill="#e8392d"/>
<rect x="133.2" y="2655.4" width="10.5" height="10.5" fill="#e8392d"/>
<rect x="141" y="2656.2" width="10.5" height="10.5" fill="#e8392d"/>
<rect x="156.7" y="2655.4" width="10.5" height="10.5" fill="#e8392d"/>
<rect x="172.4" y="2654.7" width="10.5" height="10.5" fill="#e8392d"/>
<rect x="188.1" y="2653.9" width="10.5" height="10.5" fill="#e8392d"/>
<rect x="199.8" y="2653.1" width="10.5" height="10.5" fill="#e8392d"/>
<rect x="211.6" y="2652.4" width="10.5" height="10.5" fill="#e8392d"/>
<rect x="227.2" y="2651.6" width="10.5" height="10.5" fill="#e8392d"/>
<rect x="239" y="2650.9" width="10.5" height="10.5" fill="#e8392d"/>
<rect x="250.8" y="2650.9" width="10.5" height="10.5" fill="#e8392d"/>
<rect x="266.5" y="2650.1" width="10.5" height="10.5" fill="#e8392d"/>
<rect x="278.2" y="2647.9" width="10.5" height="10.5" fill="#e8392d"/>
<rect x="293.9" y="2647.1" width="10.5" height="10.5" fill="#e8392d"/>
<rect x="305.6" y="2646.3" width="10.5" height="10.5" fill="#e8392d"/>
<rect x="321.3" y="2643.3" width="10.5" height="10.5" fill="#e8392d"/>
<rect x="333.1" y="2639.5" width="10.5" height="10.5" fill="#e8392d"/>
<rect x="348.8" y="2634.3" width="10.5" height="10.5" fill="#e8392d"/>
<rect x="364.4" y="2625.2" width="10.5" height="10.5" fill="#e8392d"/>
<rect x="376.2" y="2617.6" width="10.5" height="10.5" fill="#e8392d"/>
</g>
<g>
<text x="643" y="2452.6" font-size="17.8" font-weight="bold" stroke="#000" stroke-width="0.25" text-anchor="middle">JIMT-1 - Combination Therapy</text>
<line x1="501.7" y1="2478" x2="501.7" y2="2669.3" stroke="#000" stroke-width="3.2" stroke-linecap="butt"/>
<line x1="500.1" y1="2667.7" x2="785.5" y2="2667.7" stroke="#000" stroke-width="3.2" stroke-linecap="butt"/>
<line x1="496.1" y1="2667.7" x2="501.7" y2="2667.7" stroke="#000" stroke-width="3.2" stroke-linecap="butt"/>
<text x="494.1" y="2673.4" font-size="14.6" font-weight="bold" stroke="#000" stroke-width="0.25" text-anchor="end">0</text>
<line x1="496.1" y1="2630.1" x2="501.7" y2="2630.1" stroke="#000" stroke-width="3.2" stroke-linecap="butt"/>
<text x="494.1" y="2635.8" font-size="14.6" font-weight="bold" stroke="#000" stroke-width="0.25" text-anchor="end">500</text>
<line x1="496.1" y1="2592.5" x2="501.7" y2="2592.5" stroke="#000" stroke-width="3.2" stroke-linecap="butt"/>
<text x="494.1" y="2598.2" font-size="14.6" font-weight="bold" stroke="#000" stroke-width="0.25" text-anchor="end">1000</text>
<line x1="496.1" y1="2554.8" x2="501.7" y2="2554.8" stroke="#000" stroke-width="3.2" stroke-linecap="butt"/>
<text x="494.1" y="2560.5" font-size="14.6" font-weight="bold" stroke="#000" stroke-width="0.25" text-anchor="end">1500</text>
<line x1="496.1" y1="2517.2" x2="501.7" y2="2517.2" stroke="#000" stroke-width="3.2" stroke-linecap="butt"/>
<text x="494.1" y="2522.9" font-size="14.6" font-weight="bold" stroke="#000" stroke-width="0.25" text-anchor="end">2000</text>
<line x1="496.1" y1="2479.6" x2="501.7" y2="2479.6" stroke="#000" stroke-width="3.2" stroke-linecap="butt"/>
<text x="494.1" y="2485.3" font-size="14.6" font-weight="bold" stroke="#000" stroke-width="0.25" text-anchor="end">2500</text>
<line x1="509.3" y1="2667.7" x2="509.3" y2="2673.3" stroke="#000" stroke-width="3.2" stroke-linecap="butt"/>
<text x="509.3" y="2688.7" font-size="14.6" font-weight="bold" stroke="#000" stroke-width="0.25" text-anchor="middle">0</text>
<line x1="548.5" y1="2667.7" x2="548.5" y2="2673.3" stroke="#000" stroke-width="3.2" stroke-linecap="butt"/>
<text x="548.5" y="2688.7" font-size="14.6" font-weight="bold" stroke="#000" stroke-width="0.25" text-anchor="middle">10</text>
<line x1="587.7" y1="2667.7" x2="587.7" y2="2673.3" stroke="#000" stroke-width="3.2" stroke-linecap="butt"/>
<text x="587.7" y="2688.7" font-size="14.6" font-weight="bold" stroke="#000" stroke-width="0.25" text-anchor="middle">20</text>
<line x1="626.9" y1="2667.7" x2="626.9" y2="2673.3" stroke="#000" stroke-width="3.2" stroke-linecap="butt"/>
<text x="626.9" y="2688.7" font-size="14.6" font-weight="bold" stroke="#000" stroke-width="0.25" text-anchor="middle">30</text>
<line x1="666.1" y1="2667.7" x2="666.1" y2="2673.3" stroke="#000" stroke-width="3.2" stroke-linecap="butt"/>
<text x="666.1" y="2688.7" font-size="14.6" font-weight="bold" stroke="#000" stroke-width="0.25" text-anchor="middle">40</text>
<line x1="705.3" y1="2667.7" x2="705.3" y2="2673.3" stroke="#000" stroke-width="3.2" stroke-linecap="butt"/>
<text x="705.3" y="2688.7" font-size="14.6" font-weight="bold" stroke="#000" stroke-width="0.25" text-anchor="middle">50</text>
<line x1="744.5" y1="2667.7" x2="744.5" y2="2673.3" stroke="#000" stroke-width="3.2" stroke-linecap="butt"/>
<text x="744.5" y="2688.7" font-size="14.6" font-weight="bold" stroke="#000" stroke-width="0.25" text-anchor="middle">60</text>
<line x1="783.7" y1="2667.7" x2="783.7" y2="2673.3" stroke="#000" stroke-width="3.2" stroke-linecap="butt"/>
<text x="783.7" y="2688.7" font-size="14.6" font-weight="bold" stroke="#000" stroke-width="0.25" text-anchor="middle">70</text>
<text x="645.6" y="2713.2" font-size="15.6" font-weight="bold" stroke="#000" stroke-width="0.25" text-anchor="middle">Day Post Treatment</text>
<text transform="translate(447,2573.6) rotate(-90)" font-size="14.9" font-weight="bold" stroke="#000" stroke-width="0.25" text-anchor="middle" y="5.4">Tumor Volume (mm<tspan dy="-6.3" font-size="11.6">3</tspan><tspan dy="6.3">)</tspan></text>
<line x1="510.9" y1="2483.1" x2="532.9" y2="2483.1" stroke="#000000" stroke-width="2.6" stroke-linecap="butt"/>
<circle cx="521.9" cy="2483.1" r="5.2" fill="#000000"/>
<text x="544.2" y="2489.1" font-size="16.6" text-anchor="start">Trastuzumab</text>
<polyline points="501.5,2661.7 513.2,2659.4 532.8,2658.7 540.7,2659.4 556.3,2658.7 572,2657.9 587.7,2656.4 599.5,2654.9 611.2,2654.2 626.9,2650.4 638.7,2642.9 650.4,2642.1 666.1,2635.3 677.9,2632.3 693.5,2630.8 705.3,2623.3 721,2613.5 732.7,2600 748.4,2591 764.1,2561.6 775.9,2549.6" fill="none" stroke="#000000" stroke-width="2.6" stroke-linejoin="round"/>
<circle cx="501.5" cy="2661.7" r="5.2" fill="#000000"/>
<circle cx="513.2" cy="2659.4" r="5.2" fill="#000000"/>
<circle cx="532.8" cy="2658.7" r="5.2" fill="#000000"/>
<circle cx="540.7" cy="2659.4" r="5.2" fill="#000000"/>
<circle cx="556.3" cy="2658.7" r="5.2" fill="#000000"/>
<circle cx="572" cy="2657.9" r="5.2" fill="#000000"/>
<circle cx="587.7" cy="2656.4" r="5.2" fill="#000000"/>
<circle cx="599.5" cy="2654.9" r="5.2" fill="#000000"/>
<circle cx="611.2" cy="2654.2" r="5.2" fill="#000000"/>
<circle cx="626.9" cy="2650.4" r="5.2" fill="#000000"/>
<circle cx="638.7" cy="2642.9" r="5.2" fill="#000000"/>
<circle cx="650.4" cy="2642.1" r="5.2" fill="#000000"/>
<circle cx="666.1" cy="2635.3" r="5.2" fill="#000000"/>
<circle cx="677.9" cy="2632.3" r="5.2" fill="#000000"/>
<circle cx="693.5" cy="2630.8" r="5.2" fill="#000000"/>
<circle cx="705.3" cy="2623.3" r="5.2" fill="#000000"/>
<circle cx="721" cy="2613.5" r="5.2" fill="#000000"/>
<circle cx="732.7" cy="2600" r="5.2" fill="#000000"/>
<circle cx="748.4" cy="2591" r="5.2" fill="#000000"/>
<circle cx="764.1" cy="2561.6" r="5.2" fill="#000000"/>
<circle cx="775.9" cy="2549.6" r="5.2" fill="#000000"/>
<polyline points="501.5,2663.2 513.2,2660.9 532.8,2660.2 540.7,2660.2 556.3,2659.4 572,2658.7 587.7,2657.2 599.5,2655.7 611.2,2654.9 626.9,2651.9 638.7,2646.6 650.4,2644.4 666.1,2636.9 677.9,2633.1 693.5,2630.8 705.3,2626.3 721,2616.5 732.7,2613.5 748.4,2595.5 764.1,2567.6 775.9,2566.9" fill="none" stroke="#000000" stroke-width="2.6" stroke-linejoin="round"/>
<circle cx="501.5" cy="2663.2" r="5.2" fill="#000000"/>
<circle cx="513.2" cy="2660.9" r="5.2" fill="#000000"/>
<circle cx="532.8" cy="2660.2" r="5.2" fill="#000000"/>
<circle cx="540.7" cy="2660.2" r="5.2" fill="#000000"/>
<circle cx="556.3" cy="2659.4" r="5.2" fill="#000000"/>
<circle cx="572" cy="2658.7" r="5.2" fill="#000000"/>
<circle cx="587.7" cy="2657.2" r="5.2" fill="#000000"/>
<circle cx="599.5" cy="2655.7" r="5.2" fill="#000000"/>
<circle cx="611.2" cy="2654.9" r="5.2" fill="#000000"/>
<circle cx="626.9" cy="2651.9" r="5.2" fill="#000000"/>
<circle cx="638.7" cy="2646.6" r="5.2" fill="#000000"/>
<circle cx="650.4" cy="2644.4" r="5.2" fill="#000000"/>
<circle cx="666.1" cy="2636.9" r="5.2" fill="#000000"/>
<circle cx="677.9" cy="2633.1" r="5.2" fill="#000000"/>
<circle cx="693.5" cy="2630.8" r="5.2" fill="#000000"/>
<circle cx="705.3" cy="2626.3" r="5.2" fill="#000000"/>
<circle cx="721" cy="2616.5" r="5.2" fill="#000000"/>
<circle cx="732.7" cy="2613.5" r="5.2" fill="#000000"/>
<circle cx="748.4" cy="2595.5" r="5.2" fill="#000000"/>
<circle cx="764.1" cy="2567.6" r="5.2" fill="#000000"/>
<circle cx="775.9" cy="2566.9" r="5.2" fill="#000000"/>
<polyline points="501.5,2663.9 513.2,2662.4 532.8,2661.7 540.7,2661.7 556.3,2660.9 572,2660.2 587.7,2658.7 599.5,2657.2 611.2,2656.4 626.9,2654.2 638.7,2650.4 650.4,2649.6 666.1,2648.1 677.9,2645.1 693.5,2641.4 705.3,2633.8 721,2625.6 732.7,2618 748.4,2607.5 764.1,2570.6 775.9,2569.9" fill="none" stroke="#000000" stroke-width="2.6" stroke-linejoin="round"/>
<circle cx="501.5" cy="2663.9" r="5.2" fill="#000000"/>
<circle cx="513.2" cy="2662.4" r="5.2" fill="#000000"/>
<circle cx="532.8" cy="2661.7" r="5.2" fill="#000000"/>
<circle cx="540.7" cy="2661.7" r="5.2" fill="#000000"/>
<circle cx="556.3" cy="2660.9" r="5.2" fill="#000000"/>
<circle cx="572" cy="2660.2" r="5.2" fill="#000000"/>
<circle cx="587.7" cy="2658.7" r="5.2" fill="#000000"/>
<circle cx="599.5" cy="2657.2" r="5.2" fill="#000000"/>
<circle cx="611.2" cy="2656.4" r="5.2" fill="#000000"/>
<circle cx="626.9" cy="2654.2" r="5.2" fill="#000000"/>
<circle cx="638.7" cy="2650.4" r="5.2" fill="#000000"/>
<circle cx="650.4" cy="2649.6" r="5.2" fill="#000000"/>
<circle cx="666.1" cy="2648.1" r="5.2" fill="#000000"/>
<circle cx="677.9" cy="2645.1" r="5.2" fill="#000000"/>
<circle cx="693.5" cy="2641.4" r="5.2" fill="#000000"/>
<circle cx="705.3" cy="2633.8" r="5.2" fill="#000000"/>
<circle cx="721" cy="2625.6" r="5.2" fill="#000000"/>
<circle cx="732.7" cy="2618" r="5.2" fill="#000000"/>
<circle cx="748.4" cy="2607.5" r="5.2" fill="#000000"/>
<circle cx="764.1" cy="2570.6" r="5.2" fill="#000000"/>
<circle cx="775.9" cy="2569.9" r="5.2" fill="#000000"/>
<polyline points="501.5,2664.7 513.2,2663.9 532.8,2663.2 540.7,2662.4 556.3,2661.7 572,2660.9 587.7,2659.4 599.5,2658.7 611.2,2657.2 626.9,2654.9 638.7,2652.7 650.4,2651.9 666.1,2648.9 677.9,2646.6 693.5,2642.1 705.3,2636.9 721,2630.1 732.7,2623.3 748.4,2611.3 764.1,2591 775.9,2578.9" fill="none" stroke="#000000" stroke-width="2.6" stroke-linejoin="round"/>
<circle cx="501.5" cy="2664.7" r="5.2" fill="#000000"/>
<circle cx="513.2" cy="2663.9" r="5.2" fill="#000000"/>
<circle cx="532.8" cy="2663.2" r="5.2" fill="#000000"/>
<circle cx="540.7" cy="2662.4" r="5.2" fill="#000000"/>
<circle cx="556.3" cy="2661.7" r="5.2" fill="#000000"/>
<circle cx="572" cy="2660.9" r="5.2" fill="#000000"/>
<circle cx="587.7" cy="2659.4" r="5.2" fill="#000000"/>
<circle cx="599.5" cy="2658.7" r="5.2" fill="#000000"/>
<circle cx="611.2" cy="2657.2" r="5.2" fill="#000000"/>
<circle cx="626.9" cy="2654.9" r="5.2" fill="#000000"/>
<circle cx="638.7" cy="2652.7" r="5.2" fill="#000000"/>
<circle cx="650.4" cy="2651.9" r="5.2" fill="#000000"/>
<circle cx="666.1" cy="2648.9" r="5.2" fill="#000000"/>
<circle cx="677.9" cy="2646.6" r="5.2" fill="#000000"/>
<circle cx="693.5" cy="2642.1" r="5.2" fill="#000000"/>
<circle cx="705.3" cy="2636.9" r="5.2" fill="#000000"/>
<circle cx="721" cy="2630.1" r="5.2" fill="#000000"/>
<circle cx="732.7" cy="2623.3" r="5.2" fill="#000000"/>
<circle cx="748.4" cy="2611.3" r="5.2" fill="#000000"/>
<circle cx="764.1" cy="2591" r="5.2" fill="#000000"/>
<circle cx="775.9" cy="2578.9" r="5.2" fill="#000000"/>
<polyline points="501.5,2665.4 513.2,2664.7 532.8,2663.9 540.7,2663.2 556.3,2663.2 572,2662.4 587.7,2660.9 599.5,2660.2 611.2,2657.9 626.9,2656.4 638.7,2655.7 650.4,2654.2 666.1,2653.4 677.9,2651.1 693.5,2646.6 705.3,2641.4 721,2640.6 732.7,2633.8 748.4,2621.1 764.1,2602.2 775.9,2598.5" fill="none" stroke="#000000" stroke-width="2.6" stroke-linejoin="round"/>
<circle cx="501.5" cy="2665.4" r="5.2" fill="#000000"/>
<circle cx="513.2" cy="2664.7" r="5.2" fill="#000000"/>
<circle cx="532.8" cy="2663.9" r="5.2" fill="#000000"/>
<circle cx="540.7" cy="2663.2" r="5.2" fill="#000000"/>
<circle cx="556.3" cy="2663.2" r="5.2" fill="#000000"/>
<circle cx="572" cy="2662.4" r="5.2" fill="#000000"/>
<circle cx="587.7" cy="2660.9" r="5.2" fill="#000000"/>
<circle cx="599.5" cy="2660.2" r="5.2" fill="#000000"/>
<circle cx="611.2" cy="2657.9" r="5.2" fill="#000000"/>
<circle cx="626.9" cy="2656.4" r="5.2" fill="#000000"/>
<circle cx="638.7" cy="2655.7" r="5.2" fill="#000000"/>
<circle cx="650.4" cy="2654.2" r="5.2" fill="#000000"/>
<circle cx="666.1" cy="2653.4" r="5.2" fill="#000000"/>
<circle cx="677.9" cy="2651.1" r="5.2" fill="#000000"/>
<circle cx="693.5" cy="2646.6" r="5.2" fill="#000000"/>
<circle cx="705.3" cy="2641.4" r="5.2" fill="#000000"/>
<circle cx="721" cy="2640.6" r="5.2" fill="#000000"/>
<circle cx="732.7" cy="2633.8" r="5.2" fill="#000000"/>
<circle cx="748.4" cy="2621.1" r="5.2" fill="#000000"/>
<circle cx="764.1" cy="2602.2" r="5.2" fill="#000000"/>
<circle cx="775.9" cy="2598.5" r="5.2" fill="#000000"/>
</g>
<g>
<text x="1036.2" y="2449.6" font-size="17.8" font-weight="bold" stroke="#000" stroke-width="0.25" text-anchor="middle">JIMT-1 - Combination Therapy</text>
<line x1="894.8" y1="2474.7" x2="894.8" y2="2666.8" stroke="#000" stroke-width="3.2" stroke-linecap="butt"/>
<line x1="893.2" y1="2665.2" x2="1179.2" y2="2665.2" stroke="#000" stroke-width="3.2" stroke-linecap="butt"/>
<line x1="889.2" y1="2665.2" x2="894.8" y2="2665.2" stroke="#000" stroke-width="3.2" stroke-linecap="butt"/>
<text x="887.2" y="2670.9" font-size="14.6" font-weight="bold" stroke="#000" stroke-width="0.25" text-anchor="end">0</text>
<line x1="889.2" y1="2627.4" x2="894.8" y2="2627.4" stroke="#000" stroke-width="3.2" stroke-linecap="butt"/>
<text x="887.2" y="2633.1" font-size="14.6" font-weight="bold" stroke="#000" stroke-width="0.25" text-anchor="end">500</text>
<line x1="889.2" y1="2589.6" x2="894.8" y2="2589.6" stroke="#000" stroke-width="3.2" stroke-linecap="butt"/>
<text x="887.2" y="2595.3" font-size="14.6" font-weight="bold" stroke="#000" stroke-width="0.25" text-anchor="end">1000</text>
<line x1="889.2" y1="2551.9" x2="894.8" y2="2551.9" stroke="#000" stroke-width="3.2" stroke-linecap="butt"/>
<text x="887.2" y="2557.6" font-size="14.6" font-weight="bold" stroke="#000" stroke-width="0.25" text-anchor="end">1500</text>
<line x1="889.2" y1="2514.1" x2="894.8" y2="2514.1" stroke="#000" stroke-width="3.2" stroke-linecap="butt"/>
<text x="887.2" y="2519.8" font-size="14.6" font-weight="bold" stroke="#000" stroke-width="0.25" text-anchor="end">2000</text>
<line x1="889.2" y1="2476.3" x2="894.8" y2="2476.3" stroke="#000" stroke-width="3.2" stroke-linecap="butt"/>
<text x="887.2" y="2482" font-size="14.6" font-weight="bold" stroke="#000" stroke-width="0.25" text-anchor="end">2500</text>
<line x1="902.5" y1="2665.2" x2="902.5" y2="2670.8" stroke="#000" stroke-width="3.2" stroke-linecap="butt"/>
<text x="902.5" y="2686.2" font-size="14.6" font-weight="bold" stroke="#000" stroke-width="0.25" text-anchor="middle">0</text>
<line x1="941.7" y1="2665.2" x2="941.7" y2="2670.8" stroke="#000" stroke-width="3.2" stroke-linecap="butt"/>
<text x="941.7" y="2686.2" font-size="14.6" font-weight="bold" stroke="#000" stroke-width="0.25" text-anchor="middle">10</text>
<line x1="980.9" y1="2665.2" x2="980.9" y2="2670.8" stroke="#000" stroke-width="3.2" stroke-linecap="butt"/>
<text x="980.9" y="2686.2" font-size="14.6" font-weight="bold" stroke="#000" stroke-width="0.25" text-anchor="middle">20</text>
<line x1="1020.1" y1="2665.2" x2="1020.1" y2="2670.8" stroke="#000" stroke-width="3.2" stroke-linecap="butt"/>
<text x="1020.1" y="2686.2" font-size="14.6" font-weight="bold" stroke="#000" stroke-width="0.25" text-anchor="middle">30</text>
<line x1="1059.3" y1="2665.2" x2="1059.3" y2="2670.8" stroke="#000" stroke-width="3.2" stroke-linecap="butt"/>
<text x="1059.3" y="2686.2" font-size="14.6" font-weight="bold" stroke="#000" stroke-width="0.25" text-anchor="middle">40</text>
<line x1="1098.5" y1="2665.2" x2="1098.5" y2="2670.8" stroke="#000" stroke-width="3.2" stroke-linecap="butt"/>
<text x="1098.5" y="2686.2" font-size="14.6" font-weight="bold" stroke="#000" stroke-width="0.25" text-anchor="middle">50</text>
<line x1="1137.7" y1="2665.2" x2="1137.7" y2="2670.8" stroke="#000" stroke-width="3.2" stroke-linecap="butt"/>
<text x="1137.7" y="2686.2" font-size="14.6" font-weight="bold" stroke="#000" stroke-width="0.25" text-anchor="middle">60</text>
<line x1="1176.9" y1="2665.2" x2="1176.9" y2="2670.8" stroke="#000" stroke-width="3.2" stroke-linecap="butt"/>
<text x="1176.9" y="2686.2" font-size="14.6" font-weight="bold" stroke="#000" stroke-width="0.25" text-anchor="middle">70</text>
<text x="1038.6" y="2710.2" font-size="15.6" font-weight="bold" stroke="#000" stroke-width="0.25" text-anchor="middle">Day Post Treatment</text>
<text transform="translate(842,2570.8) rotate(-90)" font-size="14.9" font-weight="bold" stroke="#000" stroke-width="0.25" text-anchor="middle" y="5.4">Tumor Volume (mm<tspan dy="-6.3" font-size="11.6">3</tspan><tspan dy="6.3">)</tspan></text>
<line x1="908.1" y1="2481.4" x2="930.1" y2="2481.4" stroke="#3d5aa8" stroke-width="2.3" stroke-linecap="butt"/>
<polygon points="919.1,2486.4 913.9,2477.8 924.3,2477.8" fill="#3d5aa8"/>
<text x="941.1" y="2487.4" font-size="16.6" text-anchor="start">Trastuzumab T785-ISAC</text>
<text x="941.1" y="2507.7" font-size="16.6" text-anchor="start">+ Pertuzumab</text>
<polyline points="894.7,2659.2 906.4,2658.4 926,2659.2 933.9,2659.2 949.5,2658.4 965.2,2657.6 980.9,2657.6 992.7,2657.6 1004.4,2658.4 1020.1,2659.9 1031.9,2659.9 1043.6,2660.7 1059.3,2660.7 1071.1,2659.9 1086.7,2659.9 1098.5,2659.2 1114.2,2658.4 1125.9,2656.9 1141.6,2653.1 1157.3,2649.3 1169.1,2647.8" fill="none" stroke="#3d5aa8" stroke-width="2.3" stroke-linejoin="round"/>
<polygon points="894.7,2664.1 889.4,2655.6 899.9,2655.6" fill="#3d5aa8"/>
<polygon points="906.4,2663.4 901.2,2654.8 911.6,2654.8" fill="#3d5aa8"/>
<polygon points="926,2664.1 920.8,2655.6 931.2,2655.6" fill="#3d5aa8"/>
<polygon points="933.9,2664.1 928.6,2655.6 939.1,2655.6" fill="#3d5aa8"/>
<polygon points="949.5,2663.4 944.3,2654.8 954.8,2654.8" fill="#3d5aa8"/>
<polygon points="965.2,2662.6 960,2654.1 970.4,2654.1" fill="#3d5aa8"/>
<polygon points="980.9,2662.6 975.7,2654.1 986.1,2654.1" fill="#3d5aa8"/>
<polygon points="992.7,2662.6 987.4,2654.1 997.9,2654.1" fill="#3d5aa8"/>
<polygon points="1004.4,2663.4 999.2,2654.8 1009.6,2654.8" fill="#3d5aa8"/>
<polygon points="1020.1,2664.9 1014.9,2656.3 1025.3,2656.3" fill="#3d5aa8"/>
<polygon points="1031.9,2664.9 1026.6,2656.3 1037.1,2656.3" fill="#3d5aa8"/>
<polygon points="1043.6,2665.7 1038.4,2657.1 1048.8,2657.1" fill="#3d5aa8"/>
<polygon points="1059.3,2665.7 1054.1,2657.1 1064.5,2657.1" fill="#3d5aa8"/>
<polygon points="1071.1,2664.9 1065.8,2656.3 1076.3,2656.3" fill="#3d5aa8"/>
<polygon points="1086.7,2664.9 1081.5,2656.3 1092,2656.3" fill="#3d5aa8"/>
<polygon points="1098.5,2664.1 1093.3,2655.6 1103.7,2655.6" fill="#3d5aa8"/>
<polygon points="1114.2,2663.4 1109,2654.8 1119.4,2654.8" fill="#3d5aa8"/>
<polygon points="1125.9,2661.9 1120.7,2653.3 1131.2,2653.3" fill="#3d5aa8"/>
<polygon points="1141.6,2658.1 1136.4,2649.5 1146.8,2649.5" fill="#3d5aa8"/>
<polygon points="1157.3,2654.3 1152.1,2645.8 1162.5,2645.8" fill="#3d5aa8"/>
<polygon points="1169.1,2652.8 1163.8,2644.3 1174.3,2644.3" fill="#3d5aa8"/>
<polyline points="894.7,2659.9 906.4,2659.2 926,2659.9 933.9,2659.9 949.5,2659.2 965.2,2658.4 980.9,2658.4 992.7,2658.4 1004.4,2659.2 1020.1,2660.7 1031.9,2660.7 1043.6,2661.4 1059.3,2661.4 1071.1,2660.7 1086.7,2660.7 1098.5,2659.9 1114.2,2659.2 1125.9,2657.6 1141.6,2654.6 1157.3,2650.8 1169.1,2649.3" fill="none" stroke="#3d5aa8" stroke-width="2.3" stroke-linejoin="round"/>
<polygon points="894.7,2664.9 889.4,2656.3 899.9,2656.3" fill="#3d5aa8"/>
<polygon points="906.4,2664.1 901.2,2655.6 911.6,2655.6" fill="#3d5aa8"/>
<polygon points="926,2664.9 920.8,2656.3 931.2,2656.3" fill="#3d5aa8"/>
<polygon points="933.9,2664.9 928.6,2656.3 939.1,2656.3" fill="#3d5aa8"/>
<polygon points="949.5,2664.1 944.3,2655.6 954.8,2655.6" fill="#3d5aa8"/>
<polygon points="965.2,2663.4 960,2654.8 970.4,2654.8" fill="#3d5aa8"/>
<polygon points="980.9,2663.4 975.7,2654.8 986.1,2654.8" fill="#3d5aa8"/>
<polygon points="992.7,2663.4 987.4,2654.8 997.9,2654.8" fill="#3d5aa8"/>
<polygon points="1004.4,2664.1 999.2,2655.6 1009.6,2655.6" fill="#3d5aa8"/>
<polygon points="1020.1,2665.7 1014.9,2657.1 1025.3,2657.1" fill="#3d5aa8"/>
<polygon points="1031.9,2665.7 1026.6,2657.1 1037.1,2657.1" fill="#3d5aa8"/>
<polygon points="1043.6,2666.4 1038.4,2657.9 1048.8,2657.9" fill="#3d5aa8"/>
<polygon points="1059.3,2666.4 1054.1,2657.9 1064.5,2657.9" fill="#3d5aa8"/>
<polygon points="1071.1,2665.7 1065.8,2657.1 1076.3,2657.1" fill="#3d5aa8"/>
<polygon points="1086.7,2665.7 1081.5,2657.1 1092,2657.1" fill="#3d5aa8"/>
<polygon points="1098.5,2664.9 1093.3,2656.3 1103.7,2656.3" fill="#3d5aa8"/>
<polygon points="1114.2,2664.1 1109,2655.6 1119.4,2655.6" fill="#3d5aa8"/>
<polygon points="1125.9,2662.6 1120.7,2654.1 1131.2,2654.1" fill="#3d5aa8"/>
<polygon points="1141.6,2659.6 1136.4,2651.1 1146.8,2651.1" fill="#3d5aa8"/>
<polygon points="1157.3,2655.8 1152.1,2647.3 1162.5,2647.3" fill="#3d5aa8"/>
<polygon points="1169.1,2654.3 1163.8,2645.8 1174.3,2645.8" fill="#3d5aa8"/>
<polyline points="894.7,2660.7 906.4,2659.9 926,2660.7 933.9,2660.7 949.5,2659.9 965.2,2659.2 980.9,2659.2 992.7,2659.2 1004.4,2659.9 1020.1,2661.4 1031.9,2661.4 1043.6,2662.2 1059.3,2662.2 1071.1,2661.4 1086.7,2661.4 1098.5,2660.7 1114.2,2659.9 1125.9,2658.4 1141.6,2656.1 1157.3,2652.4 1169.1,2650.8" fill="none" stroke="#3d5aa8" stroke-width="2.3" stroke-linejoin="round"/>
<polygon points="894.7,2665.7 889.4,2657.1 899.9,2657.1" fill="#3d5aa8"/>
<polygon points="906.4,2664.9 901.2,2656.3 911.6,2656.3" fill="#3d5aa8"/>
<polygon points="926,2665.7 920.8,2657.1 931.2,2657.1" fill="#3d5aa8"/>
<polygon points="933.9,2665.7 928.6,2657.1 939.1,2657.1" fill="#3d5aa8"/>
<polygon points="949.5,2664.9 944.3,2656.3 954.8,2656.3" fill="#3d5aa8"/>
<polygon points="965.2,2664.1 960,2655.6 970.4,2655.6" fill="#3d5aa8"/>
<polygon points="980.9,2664.1 975.7,2655.6 986.1,2655.6" fill="#3d5aa8"/>
<polygon points="992.7,2664.1 987.4,2655.6 997.9,2655.6" fill="#3d5aa8"/>
<polygon points="1004.4,2664.9 999.2,2656.3 1009.6,2656.3" fill="#3d5aa8"/>
<polygon points="1020.1,2666.4 1014.9,2657.9 1025.3,2657.9" fill="#3d5aa8"/>
<polygon points="1031.9,2666.4 1026.6,2657.9 1037.1,2657.9" fill="#3d5aa8"/>
<polygon points="1043.6,2667.2 1038.4,2658.6 1048.8,2658.6" fill="#3d5aa8"/>
<polygon points="1059.3,2667.2 1054.1,2658.6 1064.5,2658.6" fill="#3d5aa8"/>
<polygon points="1071.1,2666.4 1065.8,2657.9 1076.3,2657.9" fill="#3d5aa8"/>
<polygon points="1086.7,2666.4 1081.5,2657.9 1092,2657.9" fill="#3d5aa8"/>
<polygon points="1098.5,2665.7 1093.3,2657.1 1103.7,2657.1" fill="#3d5aa8"/>
<polygon points="1114.2,2664.9 1109,2656.3 1119.4,2656.3" fill="#3d5aa8"/>
<polygon points="1125.9,2663.4 1120.7,2654.8 1131.2,2654.8" fill="#3d5aa8"/>
<polygon points="1141.6,2661.1 1136.4,2652.6 1146.8,2652.6" fill="#3d5aa8"/>
<polygon points="1157.3,2657.3 1152.1,2648.8 1162.5,2648.8" fill="#3d5aa8"/>
<polygon points="1169.1,2655.8 1163.8,2647.3 1174.3,2647.3" fill="#3d5aa8"/>
<polyline points="894.7,2661.4 906.4,2660.7 926,2661.4 933.9,2661.4 949.5,2660.7 965.2,2660.7 980.9,2659.9 992.7,2659.9 1004.4,2660.7 1020.1,2662.2 1031.9,2662.2 1043.6,2662.9 1059.3,2662.9 1071.1,2662.2 1086.7,2662.2 1098.5,2661.4 1114.2,2660.7 1125.9,2659.2 1141.6,2656.9 1157.3,2653.9 1169.1,2652.4" fill="none" stroke="#3d5aa8" stroke-width="2.3" stroke-linejoin="round"/>
<polygon points="894.7,2666.4 889.4,2657.9 899.9,2657.9" fill="#3d5aa8"/>
<polygon points="906.4,2665.7 901.2,2657.1 911.6,2657.1" fill="#3d5aa8"/>
<polygon points="926,2666.4 920.8,2657.9 931.2,2657.9" fill="#3d5aa8"/>
<polygon points="933.9,2666.4 928.6,2657.9 939.1,2657.9" fill="#3d5aa8"/>
<polygon points="949.5,2665.7 944.3,2657.1 954.8,2657.1" fill="#3d5aa8"/>
<polygon points="965.2,2665.7 960,2657.1 970.4,2657.1" fill="#3d5aa8"/>
<polygon points="980.9,2664.9 975.7,2656.3 986.1,2656.3" fill="#3d5aa8"/>
<polygon points="992.7,2664.9 987.4,2656.3 997.9,2656.3" fill="#3d5aa8"/>
<polygon points="1004.4,2665.7 999.2,2657.1 1009.6,2657.1" fill="#3d5aa8"/>
<polygon points="1020.1,2667.2 1014.9,2658.6 1025.3,2658.6" fill="#3d5aa8"/>
<polygon points="1031.9,2667.2 1026.6,2658.6 1037.1,2658.6" fill="#3d5aa8"/>
<polygon points="1043.6,2667.9 1038.4,2659.4 1048.8,2659.4" fill="#3d5aa8"/>
<polygon points="1059.3,2667.9 1054.1,2659.4 1064.5,2659.4" fill="#3d5aa8"/>
<polygon points="1071.1,2667.2 1065.8,2658.6 1076.3,2658.6" fill="#3d5aa8"/>
<polygon points="1086.7,2667.2 1081.5,2658.6 1092,2658.6" fill="#3d5aa8"/>
<polygon points="1098.5,2666.4 1093.3,2657.9 1103.7,2657.9" fill="#3d5aa8"/>
<polygon points="1114.2,2665.7 1109,2657.1 1119.4,2657.1" fill="#3d5aa8"/>
<polygon points="1125.9,2664.1 1120.7,2655.6 1131.2,2655.6" fill="#3d5aa8"/>
<polygon points="1141.6,2661.9 1136.4,2653.3 1146.8,2653.3" fill="#3d5aa8"/>
<polygon points="1157.3,2658.9 1152.1,2650.3 1162.5,2650.3" fill="#3d5aa8"/>
<polygon points="1169.1,2657.3 1163.8,2648.8 1174.3,2648.8" fill="#3d5aa8"/>
<polyline points="894.7,2662.2 906.4,2661.4 926,2662.2 933.9,2662.2 949.5,2661.4 965.2,2661.4 980.9,2660.7 992.7,2660.7 1004.4,2661.4 1020.1,2662.9 1031.9,2662.9 1043.6,2663.7 1059.3,2663.7 1071.1,2662.9 1086.7,2662.9 1098.5,2662.2 1114.2,2661.4 1125.9,2659.9 1141.6,2657.6 1157.3,2655.4 1169.1,2653.9" fill="none" stroke="#3d5aa8" stroke-width="2.3" stroke-linejoin="round"/>
<polygon points="894.7,2667.2 889.4,2658.6 899.9,2658.6" fill="#3d5aa8"/>
<polygon points="906.4,2666.4 901.2,2657.9 911.6,2657.9" fill="#3d5aa8"/>
<polygon points="926,2667.2 920.8,2658.6 931.2,2658.6" fill="#3d5aa8"/>
<polygon points="933.9,2667.2 928.6,2658.6 939.1,2658.6" fill="#3d5aa8"/>
<polygon points="949.5,2666.4 944.3,2657.9 954.8,2657.9" fill="#3d5aa8"/>
<polygon points="965.2,2666.4 960,2657.9 970.4,2657.9" fill="#3d5aa8"/>
<polygon points="980.9,2665.7 975.7,2657.1 986.1,2657.1" fill="#3d5aa8"/>
<polygon points="992.7,2665.7 987.4,2657.1 997.9,2657.1" fill="#3d5aa8"/>
<polygon points="1004.4,2666.4 999.2,2657.9 1009.6,2657.9" fill="#3d5aa8"/>
<polygon points="1020.1,2667.9 1014.9,2659.4 1025.3,2659.4" fill="#3d5aa8"/>
<polygon points="1031.9,2667.9 1026.6,2659.4 1037.1,2659.4" fill="#3d5aa8"/>
<polygon points="1043.6,2668.7 1038.4,2660.1 1048.8,2660.1" fill="#3d5aa8"/>
<polygon points="1059.3,2668.7 1054.1,2660.1 1064.5,2660.1" fill="#3d5aa8"/>
<polygon points="1071.1,2667.9 1065.8,2659.4 1076.3,2659.4" fill="#3d5aa8"/>
<polygon points="1086.7,2667.9 1081.5,2659.4 1092,2659.4" fill="#3d5aa8"/>
<polygon points="1098.5,2667.2 1093.3,2658.6 1103.7,2658.6" fill="#3d5aa8"/>
<polygon points="1114.2,2666.4 1109,2657.9 1119.4,2657.9" fill="#3d5aa8"/>
<polygon points="1125.9,2664.9 1120.7,2656.3 1131.2,2656.3" fill="#3d5aa8"/>
<polygon points="1141.6,2662.6 1136.4,2654.1 1146.8,2654.1" fill="#3d5aa8"/>
<polygon points="1157.3,2660.4 1152.1,2651.8 1162.5,2651.8" fill="#3d5aa8"/>
<polygon points="1169.1,2658.9 1163.8,2650.3 1174.3,2650.3" fill="#3d5aa8"/>
</g>
<g>
<text x="1416.7" y="2448.3" font-size="17.8" font-weight="bold" stroke="#000" stroke-width="0.25" text-anchor="middle">JIMT-1 - Combination Therapy</text>
<line x1="1275.6" y1="2474.2" x2="1275.6" y2="2666" stroke="#000" stroke-width="3.2" stroke-linecap="butt"/>
<line x1="1274" y1="2664.4" x2="1559.7" y2="2664.4" stroke="#000" stroke-width="3.2" stroke-linecap="butt"/>
<line x1="1270" y1="2664.4" x2="1275.6" y2="2664.4" stroke="#000" stroke-width="3.2" stroke-linecap="butt"/>
<text x="1268" y="2670.1" font-size="14.6" font-weight="bold" stroke="#000" stroke-width="0.25" text-anchor="end">0</text>
<line x1="1270" y1="2626.7" x2="1275.6" y2="2626.7" stroke="#000" stroke-width="3.2" stroke-linecap="butt"/>
<text x="1268" y="2632.4" font-size="14.6" font-weight="bold" stroke="#000" stroke-width="0.25" text-anchor="end">500</text>
<line x1="1270" y1="2589" x2="1275.6" y2="2589" stroke="#000" stroke-width="3.2" stroke-linecap="butt"/>
<text x="1268" y="2594.7" font-size="14.6" font-weight="bold" stroke="#000" stroke-width="0.25" text-anchor="end">1000</text>
<line x1="1270" y1="2551.2" x2="1275.6" y2="2551.2" stroke="#000" stroke-width="3.2" stroke-linecap="butt"/>
<text x="1268" y="2556.9" font-size="14.6" font-weight="bold" stroke="#000" stroke-width="0.25" text-anchor="end">1500</text>
<line x1="1270" y1="2513.5" x2="1275.6" y2="2513.5" stroke="#000" stroke-width="3.2" stroke-linecap="butt"/>
<text x="1268" y="2519.2" font-size="14.6" font-weight="bold" stroke="#000" stroke-width="0.25" text-anchor="end">2000</text>
<line x1="1270" y1="2475.8" x2="1275.6" y2="2475.8" stroke="#000" stroke-width="3.2" stroke-linecap="butt"/>
<text x="1268" y="2481.5" font-size="14.6" font-weight="bold" stroke="#000" stroke-width="0.25" text-anchor="end">2500</text>
<line x1="1283" y1="2664.4" x2="1283" y2="2670" stroke="#000" stroke-width="3.2" stroke-linecap="butt"/>
<text x="1283" y="2685.4" font-size="14.6" font-weight="bold" stroke="#000" stroke-width="0.25" text-anchor="middle">0</text>
<line x1="1322.2" y1="2664.4" x2="1322.2" y2="2670" stroke="#000" stroke-width="3.2" stroke-linecap="butt"/>
<text x="1322.2" y="2685.4" font-size="14.6" font-weight="bold" stroke="#000" stroke-width="0.25" text-anchor="middle">10</text>
<line x1="1361.4" y1="2664.4" x2="1361.4" y2="2670" stroke="#000" stroke-width="3.2" stroke-linecap="butt"/>
<text x="1361.4" y="2685.4" font-size="14.6" font-weight="bold" stroke="#000" stroke-width="0.25" text-anchor="middle">20</text>
<line x1="1400.6" y1="2664.4" x2="1400.6" y2="2670" stroke="#000" stroke-width="3.2" stroke-linecap="butt"/>
<text x="1400.6" y="2685.4" font-size="14.6" font-weight="bold" stroke="#000" stroke-width="0.25" text-anchor="middle">30</text>
<line x1="1439.8" y1="2664.4" x2="1439.8" y2="2670" stroke="#000" stroke-width="3.2" stroke-linecap="butt"/>
<text x="1439.8" y="2685.4" font-size="14.6" font-weight="bold" stroke="#000" stroke-width="0.25" text-anchor="middle">40</text>
<line x1="1479" y1="2664.4" x2="1479" y2="2670" stroke="#000" stroke-width="3.2" stroke-linecap="butt"/>
<text x="1479" y="2685.4" font-size="14.6" font-weight="bold" stroke="#000" stroke-width="0.25" text-anchor="middle">50</text>
<line x1="1518.2" y1="2664.4" x2="1518.2" y2="2670" stroke="#000" stroke-width="3.2" stroke-linecap="butt"/>
<text x="1518.2" y="2685.4" font-size="14.6" font-weight="bold" stroke="#000" stroke-width="0.25" text-anchor="middle">60</text>
<line x1="1557.4" y1="2664.4" x2="1557.4" y2="2670" stroke="#000" stroke-width="3.2" stroke-linecap="butt"/>
<text x="1557.4" y="2685.4" font-size="14.6" font-weight="bold" stroke="#000" stroke-width="0.25" text-anchor="middle">70</text>
<text x="1419.4" y="2708.9" font-size="15.6" font-weight="bold" stroke="#000" stroke-width="0.25" text-anchor="middle">Day Post Treatment</text>
<text transform="translate(1220.7,2570.1) rotate(-90)" font-size="14.9" font-weight="bold" stroke="#000" stroke-width="0.25" text-anchor="middle" y="5.4">Tumor Volume (mm<tspan dy="-6.3" font-size="11.6">3</tspan><tspan dy="6.3">)</tspan></text>
<line x1="1288" y1="2481.9" x2="1310" y2="2481.9" stroke="#1c9352" stroke-width="2.3" stroke-linecap="butt"/>
<polygon points="1299,2476.7 1304.2,2481.9 1299,2487.1 1293.8,2481.9" fill="#1c9352"/>
<text x="1320.6" y="2487.9" font-size="16.6" text-anchor="start">Rituximab T785-ISAC</text>
<text x="1320.6" y="2508.2" font-size="16.6" text-anchor="start">+ Pertuzumab</text>
<polyline points="1275.2,2659.9 1286.9,2658.4 1306.5,2657.6 1314.4,2656.9 1330,2656.1 1345.7,2654.6 1361.4,2651.6 1373.2,2647.8 1384.9,2649.3 1400.6,2646.3 1412.4,2641.8 1424.1,2640.3 1439.8,2639.5 1451.6,2635 1467.2,2625.9 1479,2617.6 1494.7,2607.8 1506.4,2604 1522.1,2591.2 1537.8,2558.8 1549.6,2547.5" fill="none" stroke="#1c9352" stroke-width="2.3" stroke-linejoin="round"/>
<polygon points="1275.2,2654.7 1280.3,2659.9 1275.2,2665 1270,2659.9" fill="#1c9352"/>
<polygon points="1286.9,2653.2 1292.1,2658.4 1286.9,2663.5 1281.7,2658.4" fill="#1c9352"/>
<polygon points="1306.5,2652.4 1311.7,2657.6 1306.5,2662.8 1301.3,2657.6" fill="#1c9352"/>
<polygon points="1314.4,2651.7 1319.5,2656.9 1314.4,2662 1309.2,2656.9" fill="#1c9352"/>
<polygon points="1330,2650.9 1335.2,2656.1 1330,2661.3 1324.9,2656.1" fill="#1c9352"/>
<polygon points="1345.7,2649.4 1350.9,2654.6 1345.7,2659.8 1340.5,2654.6" fill="#1c9352"/>
<polygon points="1361.4,2646.4 1366.6,2651.6 1361.4,2656.8 1356.2,2651.6" fill="#1c9352"/>
<polygon points="1373.2,2642.6 1378.3,2647.8 1373.2,2653 1368,2647.8" fill="#1c9352"/>
<polygon points="1384.9,2644.1 1390.1,2649.3 1384.9,2654.5 1379.7,2649.3" fill="#1c9352"/>
<polygon points="1400.6,2641.1 1405.8,2646.3 1400.6,2651.5 1395.4,2646.3" fill="#1c9352"/>
<polygon points="1412.4,2636.6 1417.5,2641.8 1412.4,2646.9 1407.2,2641.8" fill="#1c9352"/>
<polygon points="1424.1,2635.1 1429.3,2640.3 1424.1,2645.4 1418.9,2640.3" fill="#1c9352"/>
<polygon points="1439.8,2634.3 1445,2639.5 1439.8,2644.7 1434.6,2639.5" fill="#1c9352"/>
<polygon points="1451.6,2629.8 1456.7,2635 1451.6,2640.2 1446.4,2635" fill="#1c9352"/>
<polygon points="1467.2,2620.8 1472.4,2625.9 1467.2,2631.1 1462.1,2625.9" fill="#1c9352"/>
<polygon points="1479,2612.5 1484.2,2617.6 1479,2622.8 1473.8,2617.6" fill="#1c9352"/>
<polygon points="1494.7,2602.6 1499.9,2607.8 1494.7,2613 1489.5,2607.8" fill="#1c9352"/>
<polygon points="1506.4,2598.9 1511.6,2604 1506.4,2609.2 1501.3,2604" fill="#1c9352"/>
<polygon points="1522.1,2586 1527.3,2591.2 1522.1,2596.4 1516.9,2591.2" fill="#1c9352"/>
<polygon points="1537.8,2553.6 1543,2558.8 1537.8,2564 1532.6,2558.8" fill="#1c9352"/>
<polygon points="1549.6,2542.3 1554.7,2547.5 1549.6,2552.6 1544.4,2547.5" fill="#1c9352"/>
<polyline points="1275.2,2660.6 1286.9,2659.1 1306.5,2658.4 1314.4,2657.6 1330,2656.9 1345.7,2655.3 1361.4,2653.1 1373.2,2650.1 1384.9,2651.6 1400.6,2649.3 1412.4,2645.5 1424.1,2644.8 1439.8,2644 1451.6,2640.3 1467.2,2634.2 1479,2628.2 1494.7,2620.6 1506.4,2619.1 1522.1,2604 1537.8,2579.9 1549.6,2569.3" fill="none" stroke="#1c9352" stroke-width="2.3" stroke-linejoin="round"/>
<polygon points="1275.2,2655.5 1280.3,2660.6 1275.2,2665.8 1270,2660.6" fill="#1c9352"/>
<polygon points="1286.9,2653.9 1292.1,2659.1 1286.9,2664.3 1281.7,2659.1" fill="#1c9352"/>
<polygon points="1306.5,2653.2 1311.7,2658.4 1306.5,2663.5 1301.3,2658.4" fill="#1c9352"/>
<polygon points="1314.4,2652.4 1319.5,2657.6 1314.4,2662.8 1309.2,2657.6" fill="#1c9352"/>
<polygon points="1330,2651.7 1335.2,2656.9 1330,2662 1324.9,2656.9" fill="#1c9352"/>
<polygon points="1345.7,2650.2 1350.9,2655.3 1345.7,2660.5 1340.5,2655.3" fill="#1c9352"/>
<polygon points="1361.4,2647.9 1366.6,2653.1 1361.4,2658.3 1356.2,2653.1" fill="#1c9352"/>
<polygon points="1373.2,2644.9 1378.3,2650.1 1373.2,2655.2 1368,2650.1" fill="#1c9352"/>
<polygon points="1384.9,2646.4 1390.1,2651.6 1384.9,2656.8 1379.7,2651.6" fill="#1c9352"/>
<polygon points="1400.6,2644.1 1405.8,2649.3 1400.6,2654.5 1395.4,2649.3" fill="#1c9352"/>
<polygon points="1412.4,2640.4 1417.5,2645.5 1412.4,2650.7 1407.2,2645.5" fill="#1c9352"/>
<polygon points="1424.1,2639.6 1429.3,2644.8 1424.1,2650 1418.9,2644.8" fill="#1c9352"/>
<polygon points="1439.8,2638.9 1445,2644 1439.8,2649.2 1434.6,2644" fill="#1c9352"/>
<polygon points="1451.6,2635.1 1456.7,2640.3 1451.6,2645.4 1446.4,2640.3" fill="#1c9352"/>
<polygon points="1467.2,2629 1472.4,2634.2 1467.2,2639.4 1462.1,2634.2" fill="#1c9352"/>
<polygon points="1479,2623 1484.2,2628.2 1479,2633.4 1473.8,2628.2" fill="#1c9352"/>
<polygon points="1494.7,2615.5 1499.9,2620.6 1494.7,2625.8 1489.5,2620.6" fill="#1c9352"/>
<polygon points="1506.4,2614 1511.6,2619.1 1506.4,2624.3 1501.3,2619.1" fill="#1c9352"/>
<polygon points="1522.1,2598.9 1527.3,2604 1522.1,2609.2 1516.9,2604" fill="#1c9352"/>
<polygon points="1537.8,2574.7 1543,2579.9 1537.8,2585.1 1532.6,2579.9" fill="#1c9352"/>
<polygon points="1549.6,2564.2 1554.7,2569.3 1549.6,2574.5 1544.4,2569.3" fill="#1c9352"/>
<polyline points="1275.2,2661.4 1286.9,2659.9 1306.5,2659.1 1314.4,2658.4 1330,2657.6 1345.7,2656.9 1361.4,2654.6 1373.2,2652.3 1384.9,2653.8 1400.6,2652.3 1412.4,2650.1 1424.1,2650.1 1439.8,2649.3 1451.6,2644.8 1467.2,2637.2 1479,2631.2 1494.7,2623.7 1506.4,2622.2 1522.1,2605.6 1537.8,2582.9 1549.6,2573.9" fill="none" stroke="#1c9352" stroke-width="2.3" stroke-linejoin="round"/>
<polygon points="1275.2,2656.2 1280.3,2661.4 1275.2,2666.6 1270,2661.4" fill="#1c9352"/>
<polygon points="1286.9,2654.7 1292.1,2659.9 1286.9,2665 1281.7,2659.9" fill="#1c9352"/>
<polygon points="1306.5,2653.9 1311.7,2659.1 1306.5,2664.3 1301.3,2659.1" fill="#1c9352"/>
<polygon points="1314.4,2653.2 1319.5,2658.4 1314.4,2663.5 1309.2,2658.4" fill="#1c9352"/>
<polygon points="1330,2652.4 1335.2,2657.6 1330,2662.8 1324.9,2657.6" fill="#1c9352"/>
<polygon points="1345.7,2651.7 1350.9,2656.9 1345.7,2662 1340.5,2656.9" fill="#1c9352"/>
<polygon points="1361.4,2649.4 1366.6,2654.6 1361.4,2659.8 1356.2,2654.6" fill="#1c9352"/>
<polygon points="1373.2,2647.2 1378.3,2652.3 1373.2,2657.5 1368,2652.3" fill="#1c9352"/>
<polygon points="1384.9,2648.7 1390.1,2653.8 1384.9,2659 1379.7,2653.8" fill="#1c9352"/>
<polygon points="1400.6,2647.2 1405.8,2652.3 1400.6,2657.5 1395.4,2652.3" fill="#1c9352"/>
<polygon points="1412.4,2644.9 1417.5,2650.1 1412.4,2655.2 1407.2,2650.1" fill="#1c9352"/>
<polygon points="1424.1,2644.9 1429.3,2650.1 1424.1,2655.2 1418.9,2650.1" fill="#1c9352"/>
<polygon points="1439.8,2644.1 1445,2649.3 1439.8,2654.5 1434.6,2649.3" fill="#1c9352"/>
<polygon points="1451.6,2639.6 1456.7,2644.8 1451.6,2650 1446.4,2644.8" fill="#1c9352"/>
<polygon points="1467.2,2632.1 1472.4,2637.2 1467.2,2642.4 1462.1,2637.2" fill="#1c9352"/>
<polygon points="1479,2626 1484.2,2631.2 1479,2636.4 1473.8,2631.2" fill="#1c9352"/>
<polygon points="1494.7,2618.5 1499.9,2623.7 1494.7,2628.8 1489.5,2623.7" fill="#1c9352"/>
<polygon points="1506.4,2617 1511.6,2622.2 1506.4,2627.3 1501.3,2622.2" fill="#1c9352"/>
<polygon points="1522.1,2600.4 1527.3,2605.6 1522.1,2610.7 1516.9,2605.6" fill="#1c9352"/>
<polygon points="1537.8,2577.7 1543,2582.9 1537.8,2588.1 1532.6,2582.9" fill="#1c9352"/>
<polygon points="1549.6,2568.7 1554.7,2573.9 1549.6,2579 1544.4,2573.9" fill="#1c9352"/>
<polyline points="1275.2,2662.1 1286.9,2660.6 1306.5,2659.9 1314.4,2659.1 1330,2658.4 1345.7,2657.6 1361.4,2656.1 1373.2,2654.6 1384.9,2655.3 1400.6,2654.6 1412.4,2653.8 1424.1,2653.1 1439.8,2652.3 1451.6,2648.6 1467.2,2642.5 1479,2635.7 1494.7,2627.4 1506.4,2625.2 1522.1,2608.6 1537.8,2589 1549.6,2578.4" fill="none" stroke="#1c9352" stroke-width="2.3" stroke-linejoin="round"/>
<polygon points="1275.2,2657 1280.3,2662.1 1275.2,2667.3 1270,2662.1" fill="#1c9352"/>
<polygon points="1286.9,2655.5 1292.1,2660.6 1286.9,2665.8 1281.7,2660.6" fill="#1c9352"/>
<polygon points="1306.5,2654.7 1311.7,2659.9 1306.5,2665 1301.3,2659.9" fill="#1c9352"/>
<polygon points="1314.4,2653.9 1319.5,2659.1 1314.4,2664.3 1309.2,2659.1" fill="#1c9352"/>
<polygon points="1330,2653.2 1335.2,2658.4 1330,2663.5 1324.9,2658.4" fill="#1c9352"/>
<polygon points="1345.7,2652.4 1350.9,2657.6 1345.7,2662.8 1340.5,2657.6" fill="#1c9352"/>
<polygon points="1361.4,2650.9 1366.6,2656.1 1361.4,2661.3 1356.2,2656.1" fill="#1c9352"/>
<polygon points="1373.2,2649.4 1378.3,2654.6 1373.2,2659.8 1368,2654.6" fill="#1c9352"/>
<polygon points="1384.9,2650.2 1390.1,2655.3 1384.9,2660.5 1379.7,2655.3" fill="#1c9352"/>
<polygon points="1400.6,2649.4 1405.8,2654.6 1400.6,2659.8 1395.4,2654.6" fill="#1c9352"/>
<polygon points="1412.4,2648.7 1417.5,2653.8 1412.4,2659 1407.2,2653.8" fill="#1c9352"/>
<polygon points="1424.1,2647.9 1429.3,2653.1 1424.1,2658.3 1418.9,2653.1" fill="#1c9352"/>
<polygon points="1439.8,2647.2 1445,2652.3 1439.8,2657.5 1434.6,2652.3" fill="#1c9352"/>
<polygon points="1451.6,2643.4 1456.7,2648.6 1451.6,2653.7 1446.4,2648.6" fill="#1c9352"/>
<polygon points="1467.2,2637.3 1472.4,2642.5 1467.2,2647.7 1462.1,2642.5" fill="#1c9352"/>
<polygon points="1479,2630.6 1484.2,2635.7 1479,2640.9 1473.8,2635.7" fill="#1c9352"/>
<polygon points="1494.7,2622.3 1499.9,2627.4 1494.7,2632.6 1489.5,2627.4" fill="#1c9352"/>
<polygon points="1506.4,2620 1511.6,2625.2 1506.4,2630.3 1501.3,2625.2" fill="#1c9352"/>
<polygon points="1522.1,2603.4 1527.3,2608.6 1522.1,2613.7 1516.9,2608.6" fill="#1c9352"/>
<polygon points="1537.8,2583.8 1543,2589 1537.8,2594.1 1532.6,2589" fill="#1c9352"/>
<polygon points="1549.6,2573.2 1554.7,2578.4 1549.6,2583.6 1544.4,2578.4" fill="#1c9352"/>
<polyline points="1275.2,2662.9 1286.9,2661.4 1306.5,2660.6 1314.4,2659.9 1330,2659.9 1345.7,2659.1 1361.4,2657.6 1373.2,2656.9 1384.9,2657.6 1400.6,2656.9 1412.4,2656.1 1424.1,2656.1 1439.8,2656.9 1451.6,2653.1 1467.2,2649.3 1479,2647 1494.7,2641.8 1506.4,2638 1522.1,2626.7 1537.8,2611.6 1549.6,2608.6" fill="none" stroke="#1c9352" stroke-width="2.3" stroke-linejoin="round"/>
<polygon points="1275.2,2657.7 1280.3,2662.9 1275.2,2668.1 1270,2662.9" fill="#1c9352"/>
<polygon points="1286.9,2656.2 1292.1,2661.4 1286.9,2666.6 1281.7,2661.4" fill="#1c9352"/>
<polygon points="1306.5,2655.5 1311.7,2660.6 1306.5,2665.8 1301.3,2660.6" fill="#1c9352"/>
<polygon points="1314.4,2654.7 1319.5,2659.9 1314.4,2665 1309.2,2659.9" fill="#1c9352"/>
<polygon points="1330,2654.7 1335.2,2659.9 1330,2665 1324.9,2659.9" fill="#1c9352"/>
<polygon points="1345.7,2653.9 1350.9,2659.1 1345.7,2664.3 1340.5,2659.1" fill="#1c9352"/>
<polygon points="1361.4,2652.4 1366.6,2657.6 1361.4,2662.8 1356.2,2657.6" fill="#1c9352"/>
<polygon points="1373.2,2651.7 1378.3,2656.9 1373.2,2662 1368,2656.9" fill="#1c9352"/>
<polygon points="1384.9,2652.4 1390.1,2657.6 1384.9,2662.8 1379.7,2657.6" fill="#1c9352"/>
<polygon points="1400.6,2651.7 1405.8,2656.9 1400.6,2662 1395.4,2656.9" fill="#1c9352"/>
<polygon points="1412.4,2650.9 1417.5,2656.1 1412.4,2661.3 1407.2,2656.1" fill="#1c9352"/>
<polygon points="1424.1,2650.9 1429.3,2656.1 1424.1,2661.3 1418.9,2656.1" fill="#1c9352"/>
<polygon points="1439.8,2651.7 1445,2656.9 1439.8,2662 1434.6,2656.9" fill="#1c9352"/>
<polygon points="1451.6,2647.9 1456.7,2653.1 1451.6,2658.3 1446.4,2653.1" fill="#1c9352"/>
<polygon points="1467.2,2644.1 1472.4,2649.3 1467.2,2654.5 1462.1,2649.3" fill="#1c9352"/>
<polygon points="1479,2641.9 1484.2,2647 1479,2652.2 1473.8,2647" fill="#1c9352"/>
<polygon points="1494.7,2636.6 1499.9,2641.8 1494.7,2646.9 1489.5,2641.8" fill="#1c9352"/>
<polygon points="1506.4,2632.8 1511.6,2638 1506.4,2643.2 1501.3,2638" fill="#1c9352"/>
<polygon points="1522.1,2621.5 1527.3,2626.7 1522.1,2631.9 1516.9,2626.7" fill="#1c9352"/>
<polygon points="1537.8,2606.4 1543,2611.6 1537.8,2616.8 1532.6,2611.6" fill="#1c9352"/>
<polygon points="1549.6,2603.4 1554.7,2608.6 1549.6,2613.7 1544.4,2608.6" fill="#1c9352"/>
</g>
<g>
<text x="1831.4" y="2446.3" font-size="17.8" font-weight="bold" stroke="#000" stroke-width="0.25" text-anchor="middle">JIMT-1 - Combination Therapy</text>
<line x1="1690.4" y1="2472.1" x2="1690.4" y2="2663" stroke="#000" stroke-width="3.2" stroke-linecap="butt"/>
<line x1="1688.8" y1="2661.4" x2="1973.5" y2="2661.4" stroke="#000" stroke-width="3.2" stroke-linecap="butt"/>
<line x1="1684.8" y1="2661.4" x2="1690.4" y2="2661.4" stroke="#000" stroke-width="3.2" stroke-linecap="butt"/>
<text x="1682.8" y="2667.1" font-size="14.6" font-weight="bold" stroke="#000" stroke-width="0.25" text-anchor="end">0</text>
<line x1="1684.8" y1="2623.9" x2="1690.4" y2="2623.9" stroke="#000" stroke-width="3.2" stroke-linecap="butt"/>
<text x="1682.8" y="2629.6" font-size="14.6" font-weight="bold" stroke="#000" stroke-width="0.25" text-anchor="end">500</text>
<line x1="1684.8" y1="2586.3" x2="1690.4" y2="2586.3" stroke="#000" stroke-width="3.2" stroke-linecap="butt"/>
<text x="1682.8" y="2592" font-size="14.6" font-weight="bold" stroke="#000" stroke-width="0.25" text-anchor="end">1000</text>
<line x1="1684.8" y1="2548.8" x2="1690.4" y2="2548.8" stroke="#000" stroke-width="3.2" stroke-linecap="butt"/>
<text x="1682.8" y="2554.5" font-size="14.6" font-weight="bold" stroke="#000" stroke-width="0.25" text-anchor="end">1500</text>
<line x1="1684.8" y1="2511.2" x2="1690.4" y2="2511.2" stroke="#000" stroke-width="3.2" stroke-linecap="butt"/>
<text x="1682.8" y="2516.9" font-size="14.6" font-weight="bold" stroke="#000" stroke-width="0.25" text-anchor="end">2000</text>
<line x1="1684.8" y1="2473.7" x2="1690.4" y2="2473.7" stroke="#000" stroke-width="3.2" stroke-linecap="butt"/>
<text x="1682.8" y="2479.4" font-size="14.6" font-weight="bold" stroke="#000" stroke-width="0.25" text-anchor="end">2500</text>
<line x1="1697.3" y1="2661.4" x2="1697.3" y2="2667" stroke="#000" stroke-width="3.2" stroke-linecap="butt"/>
<text x="1697.3" y="2682.4" font-size="14.6" font-weight="bold" stroke="#000" stroke-width="0.25" text-anchor="middle">0</text>
<line x1="1736.5" y1="2661.4" x2="1736.5" y2="2667" stroke="#000" stroke-width="3.2" stroke-linecap="butt"/>
<text x="1736.5" y="2682.4" font-size="14.6" font-weight="bold" stroke="#000" stroke-width="0.25" text-anchor="middle">10</text>
<line x1="1775.7" y1="2661.4" x2="1775.7" y2="2667" stroke="#000" stroke-width="3.2" stroke-linecap="butt"/>
<text x="1775.7" y="2682.4" font-size="14.6" font-weight="bold" stroke="#000" stroke-width="0.25" text-anchor="middle">20</text>
<line x1="1814.9" y1="2661.4" x2="1814.9" y2="2667" stroke="#000" stroke-width="3.2" stroke-linecap="butt"/>
<text x="1814.9" y="2682.4" font-size="14.6" font-weight="bold" stroke="#000" stroke-width="0.25" text-anchor="middle">30</text>
<line x1="1854.1" y1="2661.4" x2="1854.1" y2="2667" stroke="#000" stroke-width="3.2" stroke-linecap="butt"/>
<text x="1854.1" y="2682.4" font-size="14.6" font-weight="bold" stroke="#000" stroke-width="0.25" text-anchor="middle">40</text>
<line x1="1893.3" y1="2661.4" x2="1893.3" y2="2667" stroke="#000" stroke-width="3.2" stroke-linecap="butt"/>
<text x="1893.3" y="2682.4" font-size="14.6" font-weight="bold" stroke="#000" stroke-width="0.25" text-anchor="middle">50</text>
<line x1="1932.5" y1="2661.4" x2="1932.5" y2="2667" stroke="#000" stroke-width="3.2" stroke-linecap="butt"/>
<text x="1932.5" y="2682.4" font-size="14.6" font-weight="bold" stroke="#000" stroke-width="0.25" text-anchor="middle">60</text>
<line x1="1971.7" y1="2661.4" x2="1971.7" y2="2667" stroke="#000" stroke-width="3.2" stroke-linecap="butt"/>
<text x="1971.7" y="2682.4" font-size="14.6" font-weight="bold" stroke="#000" stroke-width="0.25" text-anchor="middle">70</text>
<text x="1834.3" y="2706.4" font-size="15.6" font-weight="bold" stroke="#000" stroke-width="0.25" text-anchor="middle">Day Post Treatment</text>
<text transform="translate(1634.4,2567.6) rotate(-90)" font-size="14.9" font-weight="bold" stroke="#000" stroke-width="0.25" text-anchor="middle" y="5.4">Tumor Volume (mm<tspan dy="-6.3" font-size="11.6">3</tspan><tspan dy="6.3">)</tspan></text>
<line x1="1704.8" y1="2476.3" x2="1726.8" y2="2476.3" stroke="#902d8f" stroke-width="2.6" stroke-linecap="butt"/>
<polygon points="1715.8,2470.8 1710,2480.2 1721.6,2480.2" fill="#902d8f"/>
<text x="1738" y="2482.3" font-size="16.6" text-anchor="start">Trastuzumab + Pertuzumab</text>
<polyline points="1689.5,2656.9 1701.2,2653.1 1720.8,2653.1 1728.7,2652.4 1744.3,2650.1 1760,2647.9 1775.7,2638.9 1787.5,2636.6 1799.2,2635.9 1814.9,2632.9 1826.7,2623.9 1838.4,2620.1 1854.1,2608.8 1865.9,2601.3 1881.5,2587.8 1893.3,2578.8 1909,2578.8 1920.7,2562.3 1936.4,2546.5 1952.1,2497.7" fill="none" stroke="#902d8f" stroke-width="2.6" stroke-linejoin="round"/>
<polygon points="1689.5,2651.4 1683.7,2660.8 1695.2,2660.8" fill="#902d8f"/>
<polygon points="1701.2,2647.6 1695.4,2657.1 1707,2657.1" fill="#902d8f"/>
<polygon points="1720.8,2647.6 1715,2657.1 1726.6,2657.1" fill="#902d8f"/>
<polygon points="1728.7,2646.9 1722.9,2656.3 1734.4,2656.3" fill="#902d8f"/>
<polygon points="1744.3,2644.6 1738.6,2654.1 1750.1,2654.1" fill="#902d8f"/>
<polygon points="1760,2642.4 1754.2,2651.8 1765.8,2651.8" fill="#902d8f"/>
<polygon points="1775.7,2633.4 1769.9,2642.8 1781.5,2642.8" fill="#902d8f"/>
<polygon points="1787.5,2631.1 1781.7,2640.6 1793.2,2640.6" fill="#902d8f"/>
<polygon points="1799.2,2630.4 1793.4,2639.8 1805,2639.8" fill="#902d8f"/>
<polygon points="1814.9,2627.4 1809.1,2636.8 1820.7,2636.8" fill="#902d8f"/>
<polygon points="1826.7,2618.3 1820.9,2627.8 1832.4,2627.8" fill="#902d8f"/>
<polygon points="1838.4,2614.6 1832.6,2624 1844.2,2624" fill="#902d8f"/>
<polygon points="1854.1,2603.3 1848.3,2612.8 1859.9,2612.8" fill="#902d8f"/>
<polygon points="1865.9,2595.8 1860.1,2605.3 1871.6,2605.3" fill="#902d8f"/>
<polygon points="1881.5,2582.3 1875.8,2591.8 1887.3,2591.8" fill="#902d8f"/>
<polygon points="1893.3,2573.3 1887.5,2582.7 1899.1,2582.7" fill="#902d8f"/>
<polygon points="1909,2573.3 1903.2,2582.7 1914.8,2582.7" fill="#902d8f"/>
<polygon points="1920.7,2556.8 1915,2566.2 1926.5,2566.2" fill="#902d8f"/>
<polygon points="1936.4,2541 1930.6,2550.5 1942.2,2550.5" fill="#902d8f"/>
<polygon points="1952.1,2492.2 1946.3,2501.7 1957.9,2501.7" fill="#902d8f"/>
<polyline points="1689.5,2657.6 1701.2,2653.9 1720.8,2653.9 1728.7,2653.1 1744.3,2651.6 1760,2649.4 1775.7,2639.6 1787.5,2637.4 1799.2,2636.6 1814.9,2634.4 1826.7,2626.1 1838.4,2621.6 1854.1,2612.6 1865.9,2606.6 1881.5,2590.1 1893.3,2580.3 1909,2576.6 1920.7,2563.8 1936.4,2552.5 1952.1,2530.8 1963.9,2517.2" fill="none" stroke="#902d8f" stroke-width="2.6" stroke-linejoin="round"/>
<polygon points="1689.5,2652.1 1683.7,2661.6 1695.2,2661.6" fill="#902d8f"/>
<polygon points="1701.2,2648.4 1695.4,2657.8 1707,2657.8" fill="#902d8f"/>
<polygon points="1720.8,2648.4 1715,2657.8 1726.6,2657.8" fill="#902d8f"/>
<polygon points="1728.7,2647.6 1722.9,2657.1 1734.4,2657.1" fill="#902d8f"/>
<polygon points="1744.3,2646.1 1738.6,2655.6 1750.1,2655.6" fill="#902d8f"/>
<polygon points="1760,2643.9 1754.2,2653.3 1765.8,2653.3" fill="#902d8f"/>
<polygon points="1775.7,2634.1 1769.9,2643.6 1781.5,2643.6" fill="#902d8f"/>
<polygon points="1787.5,2631.9 1781.7,2641.3 1793.2,2641.3" fill="#902d8f"/>
<polygon points="1799.2,2631.1 1793.4,2640.6 1805,2640.6" fill="#902d8f"/>
<polygon points="1814.9,2628.9 1809.1,2638.3 1820.7,2638.3" fill="#902d8f"/>
<polygon points="1826.7,2620.6 1820.9,2630 1832.4,2630" fill="#902d8f"/>
<polygon points="1838.4,2616.1 1832.6,2625.5 1844.2,2625.5" fill="#902d8f"/>
<polygon points="1854.1,2607.1 1848.3,2616.5 1859.9,2616.5" fill="#902d8f"/>
<polygon points="1865.9,2601.1 1860.1,2610.5 1871.6,2610.5" fill="#902d8f"/>
<polygon points="1881.5,2584.6 1875.8,2594 1887.3,2594" fill="#902d8f"/>
<polygon points="1893.3,2574.8 1887.5,2584.3 1899.1,2584.3" fill="#902d8f"/>
<polygon points="1909,2571 1903.2,2580.5 1914.8,2580.5" fill="#902d8f"/>
<polygon points="1920.7,2558.3 1915,2567.7 1926.5,2567.7" fill="#902d8f"/>
<polygon points="1936.4,2547 1930.6,2556.5 1942.2,2556.5" fill="#902d8f"/>
<polygon points="1952.1,2525.2 1946.3,2534.7 1957.9,2534.7" fill="#902d8f"/>
<polygon points="1963.9,2511.7 1958.1,2521.2 1969.6,2521.2" fill="#902d8f"/>
<polyline points="1689.5,2658.4 1701.2,2654.6 1720.8,2654.6 1728.7,2653.9 1744.3,2652.4 1760,2650.9 1775.7,2641.9 1787.5,2640.4 1799.2,2638.9 1814.9,2636.6 1826.7,2629.9 1838.4,2631.4 1854.1,2622.4 1865.9,2621.6 1881.5,2613.3 1893.3,2601.3 1909,2590.1 1920.7,2576.6 1936.4,2575.1 1952.1,2544.3 1963.9,2540.5" fill="none" stroke="#902d8f" stroke-width="2.6" stroke-linejoin="round"/>
<polygon points="1689.5,2652.9 1683.7,2662.3 1695.2,2662.3" fill="#902d8f"/>
<polygon points="1701.2,2649.1 1695.4,2658.6 1707,2658.6" fill="#902d8f"/>
<polygon points="1720.8,2649.1 1715,2658.6 1726.6,2658.6" fill="#902d8f"/>
<polygon points="1728.7,2648.4 1722.9,2657.8 1734.4,2657.8" fill="#902d8f"/>
<polygon points="1744.3,2646.9 1738.6,2656.3 1750.1,2656.3" fill="#902d8f"/>
<polygon points="1760,2645.4 1754.2,2654.8 1765.8,2654.8" fill="#902d8f"/>
<polygon points="1775.7,2636.4 1769.9,2645.8 1781.5,2645.8" fill="#902d8f"/>
<polygon points="1787.5,2634.9 1781.7,2644.3 1793.2,2644.3" fill="#902d8f"/>
<polygon points="1799.2,2633.4 1793.4,2642.8 1805,2642.8" fill="#902d8f"/>
<polygon points="1814.9,2631.1 1809.1,2640.6 1820.7,2640.6" fill="#902d8f"/>
<polygon points="1826.7,2624.4 1820.9,2633.8 1832.4,2633.8" fill="#902d8f"/>
<polygon points="1838.4,2625.9 1832.6,2635.3 1844.2,2635.3" fill="#902d8f"/>
<polygon points="1854.1,2616.8 1848.3,2626.3 1859.9,2626.3" fill="#902d8f"/>
<polygon points="1865.9,2616.1 1860.1,2625.5 1871.6,2625.5" fill="#902d8f"/>
<polygon points="1881.5,2607.8 1875.8,2617.3 1887.3,2617.3" fill="#902d8f"/>
<polygon points="1893.3,2595.8 1887.5,2605.3 1899.1,2605.3" fill="#902d8f"/>
<polygon points="1909,2584.6 1903.2,2594 1914.8,2594" fill="#902d8f"/>
<polygon points="1920.7,2571 1915,2580.5 1926.5,2580.5" fill="#902d8f"/>
<polygon points="1936.4,2569.5 1930.6,2579 1942.2,2579" fill="#902d8f"/>
<polygon points="1952.1,2538.8 1946.3,2548.2 1957.9,2548.2" fill="#902d8f"/>
<polygon points="1963.9,2535 1958.1,2544.5 1969.6,2544.5" fill="#902d8f"/>
<polyline points="1689.5,2659.1 1701.2,2656.1 1720.8,2656.9 1728.7,2656.9 1744.3,2655.4 1760,2653.9 1775.7,2646.4 1787.5,2643.4 1799.2,2641.9 1814.9,2650.1 1826.7,2647.9 1838.4,2644.9 1854.1,2640.4 1865.9,2636.6 1881.5,2626.9 1893.3,2628.4 1909,2623.1 1920.7,2610.3 1936.4,2596.1 1952.1,2581.1 1963.9,2566" fill="none" stroke="#902d8f" stroke-width="2.6" stroke-linejoin="round"/>
<polygon points="1689.5,2653.6 1683.7,2663.1 1695.2,2663.1" fill="#902d8f"/>
<polygon points="1701.2,2650.6 1695.4,2660.1 1707,2660.1" fill="#902d8f"/>
<polygon points="1720.8,2651.4 1715,2660.8 1726.6,2660.8" fill="#902d8f"/>
<polygon points="1728.7,2651.4 1722.9,2660.8 1734.4,2660.8" fill="#902d8f"/>
<polygon points="1744.3,2649.9 1738.6,2659.3 1750.1,2659.3" fill="#902d8f"/>
<polygon points="1760,2648.4 1754.2,2657.8 1765.8,2657.8" fill="#902d8f"/>
<polygon points="1775.7,2640.9 1769.9,2650.3 1781.5,2650.3" fill="#902d8f"/>
<polygon points="1787.5,2637.9 1781.7,2647.3 1793.2,2647.3" fill="#902d8f"/>
<polygon points="1799.2,2636.4 1793.4,2645.8 1805,2645.8" fill="#902d8f"/>
<polygon points="1814.9,2644.6 1809.1,2654.1 1820.7,2654.1" fill="#902d8f"/>
<polygon points="1826.7,2642.4 1820.9,2651.8 1832.4,2651.8" fill="#902d8f"/>
<polygon points="1838.4,2639.4 1832.6,2648.8 1844.2,2648.8" fill="#902d8f"/>
<polygon points="1854.1,2634.9 1848.3,2644.3 1859.9,2644.3" fill="#902d8f"/>
<polygon points="1865.9,2631.1 1860.1,2640.6 1871.6,2640.6" fill="#902d8f"/>
<polygon points="1881.5,2621.4 1875.8,2630.8 1887.3,2630.8" fill="#902d8f"/>
<polygon points="1893.3,2622.9 1887.5,2632.3 1899.1,2632.3" fill="#902d8f"/>
<polygon points="1909,2617.6 1903.2,2627 1914.8,2627" fill="#902d8f"/>
<polygon points="1920.7,2604.8 1915,2614.3 1926.5,2614.3" fill="#902d8f"/>
<polygon points="1936.4,2590.6 1930.6,2600 1942.2,2600" fill="#902d8f"/>
<polygon points="1952.1,2575.6 1946.3,2585 1957.9,2585" fill="#902d8f"/>
<polygon points="1963.9,2560.5 1958.1,2570 1969.6,2570" fill="#902d8f"/>
<polyline points="1689.5,2659.9 1701.2,2658.4 1720.8,2659.1 1728.7,2659.9 1744.3,2659.1 1760,2658.4 1775.7,2656.9 1787.5,2656.1 1799.2,2655.4 1814.9,2659.1 1826.7,2656.9 1838.4,2656.1 1854.1,2656.9 1865.9,2656.1 1881.5,2655.4 1893.3,2656.1 1909,2653.9 1920.7,2652.4 1936.4,2645.6 1952.1,2638.1 1963.9,2629.9" fill="none" stroke="#902d8f" stroke-width="2.6" stroke-linejoin="round"/>
<polygon points="1689.5,2654.4 1683.7,2663.8 1695.2,2663.8" fill="#902d8f"/>
<polygon points="1701.2,2652.9 1695.4,2662.3 1707,2662.3" fill="#902d8f"/>
<polygon points="1720.8,2653.6 1715,2663.1 1726.6,2663.1" fill="#902d8f"/>
<polygon points="1728.7,2654.4 1722.9,2663.8 1734.4,2663.8" fill="#902d8f"/>
<polygon points="1744.3,2653.6 1738.6,2663.1 1750.1,2663.1" fill="#902d8f"/>
<polygon points="1760,2652.9 1754.2,2662.3 1765.8,2662.3" fill="#902d8f"/>
<polygon points="1775.7,2651.4 1769.9,2660.8 1781.5,2660.8" fill="#902d8f"/>
<polygon points="1787.5,2650.6 1781.7,2660.1 1793.2,2660.1" fill="#902d8f"/>
<polygon points="1799.2,2649.9 1793.4,2659.3 1805,2659.3" fill="#902d8f"/>
<polygon points="1814.9,2653.6 1809.1,2663.1 1820.7,2663.1" fill="#902d8f"/>
<polygon points="1826.7,2651.4 1820.9,2660.8 1832.4,2660.8" fill="#902d8f"/>
<polygon points="1838.4,2650.6 1832.6,2660.1 1844.2,2660.1" fill="#902d8f"/>
<polygon points="1854.1,2651.4 1848.3,2660.8 1859.9,2660.8" fill="#902d8f"/>
<polygon points="1865.9,2650.6 1860.1,2660.1 1871.6,2660.1" fill="#902d8f"/>
<polygon points="1881.5,2649.9 1875.8,2659.3 1887.3,2659.3" fill="#902d8f"/>
<polygon points="1893.3,2650.6 1887.5,2660.1 1899.1,2660.1" fill="#902d8f"/>
<polygon points="1909,2648.4 1903.2,2657.8 1914.8,2657.8" fill="#902d8f"/>
<polygon points="1920.7,2646.9 1915,2656.3 1926.5,2656.3" fill="#902d8f"/>
<polygon points="1936.4,2640.1 1930.6,2649.6 1942.2,2649.6" fill="#902d8f"/>
<polygon points="1952.1,2632.6 1946.3,2642.1 1957.9,2642.1" fill="#902d8f"/>
<polygon points="1963.9,2624.4 1958.1,2633.8 1969.6,2633.8" fill="#902d8f"/>
</g>
<text x="-0.5" y="29.8" font-size="42" font-weight="bold" stroke="#231f20" stroke-width="0.25" text-anchor="start" fill="#231f20">a</text>
<text x="482.3" y="29.4" font-size="42" font-weight="bold" stroke="#231f20" stroke-width="0.25" text-anchor="start" fill="#231f20">b</text>
<text x="-0.3" y="423.9" font-size="42" font-weight="bold" stroke="#231f20" stroke-width="0.25" text-anchor="start" fill="#231f20">c</text>
<text x="-0.3" y="800" font-size="42" font-weight="bold" stroke="#231f20" stroke-width="0.25" text-anchor="start" fill="#231f20">d</text>
<text x="0" y="1240.5" font-size="42" font-weight="bold" stroke="#231f20" stroke-width="0.25" text-anchor="start" fill="#231f20">e</text>
<text x="-1.8" y="2052" font-size="42" font-weight="bold" stroke="#231f20" stroke-width="0.25" text-anchor="start" fill="#231f20">f</text>
<text x="482.5" y="2051.4" font-size="42" font-weight="bold" stroke="#231f20" stroke-width="0.25" text-anchor="start" fill="#231f20">g</text>
<text x="-2" y="2436.9" font-size="42" font-weight="bold" stroke="#231f20" stroke-width="0.25" text-anchor="start" fill="#231f20">h</text>
</svg>
</body></html>
